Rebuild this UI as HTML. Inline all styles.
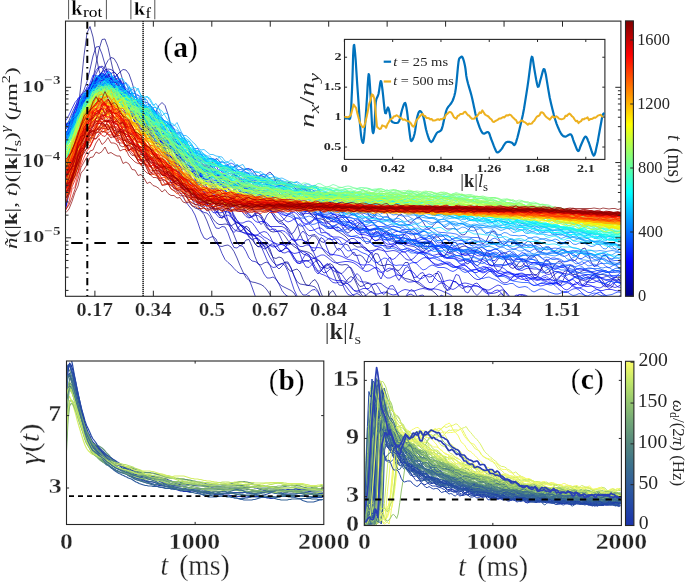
<!DOCTYPE html>
<html><head><meta charset="utf-8"><title>figure</title>
<style>html,body{margin:0;padding:0;background:#fff;} svg{display:block;} text{font-family:"Liberation Serif",serif;}</style>
</head><body><div style="will-change:transform;width:685px;height:582px"><svg width="685" height="582" viewBox="0 0 685 582"><defs><linearGradient id="gj" x1="0" y1="0" x2="0" y2="1"><stop offset="0.0000" stop-color="#800000"/><stop offset="0.0156" stop-color="#8f0000"/><stop offset="0.0312" stop-color="#9f0000"/><stop offset="0.0469" stop-color="#af0000"/><stop offset="0.0625" stop-color="#bf0000"/><stop offset="0.0781" stop-color="#cf0000"/><stop offset="0.0938" stop-color="#df0000"/><stop offset="0.1094" stop-color="#ef0000"/><stop offset="0.1250" stop-color="#ff0000"/><stop offset="0.1406" stop-color="#ff1000"/><stop offset="0.1562" stop-color="#ff2000"/><stop offset="0.1719" stop-color="#ff3000"/><stop offset="0.1875" stop-color="#ff4000"/><stop offset="0.2031" stop-color="#ff5000"/><stop offset="0.2188" stop-color="#ff6000"/><stop offset="0.2344" stop-color="#ff7000"/><stop offset="0.2500" stop-color="#ff8000"/><stop offset="0.2656" stop-color="#ff8f00"/><stop offset="0.2812" stop-color="#ff9f00"/><stop offset="0.2969" stop-color="#ffaf00"/><stop offset="0.3125" stop-color="#ffbf00"/><stop offset="0.3281" stop-color="#ffcf00"/><stop offset="0.3438" stop-color="#ffdf00"/><stop offset="0.3594" stop-color="#ffef00"/><stop offset="0.3750" stop-color="#ffff00"/><stop offset="0.3906" stop-color="#efff10"/><stop offset="0.4062" stop-color="#dfff20"/><stop offset="0.4219" stop-color="#cfff30"/><stop offset="0.4375" stop-color="#bfff40"/><stop offset="0.4531" stop-color="#afff50"/><stop offset="0.4688" stop-color="#9fff60"/><stop offset="0.4844" stop-color="#8fff70"/><stop offset="0.5000" stop-color="#80ff80"/><stop offset="0.5156" stop-color="#70ff8f"/><stop offset="0.5312" stop-color="#60ff9f"/><stop offset="0.5469" stop-color="#50ffaf"/><stop offset="0.5625" stop-color="#40ffbf"/><stop offset="0.5781" stop-color="#30ffcf"/><stop offset="0.5938" stop-color="#20ffdf"/><stop offset="0.6094" stop-color="#10ffef"/><stop offset="0.6250" stop-color="#00ffff"/><stop offset="0.6406" stop-color="#00efff"/><stop offset="0.6562" stop-color="#00dfff"/><stop offset="0.6719" stop-color="#00cfff"/><stop offset="0.6875" stop-color="#00bfff"/><stop offset="0.7031" stop-color="#00afff"/><stop offset="0.7188" stop-color="#009fff"/><stop offset="0.7344" stop-color="#008fff"/><stop offset="0.7500" stop-color="#0080ff"/><stop offset="0.7656" stop-color="#0070ff"/><stop offset="0.7812" stop-color="#0060ff"/><stop offset="0.7969" stop-color="#0050ff"/><stop offset="0.8125" stop-color="#0040ff"/><stop offset="0.8281" stop-color="#0030ff"/><stop offset="0.8438" stop-color="#0020ff"/><stop offset="0.8594" stop-color="#0010ff"/><stop offset="0.8750" stop-color="#0000ff"/><stop offset="0.8906" stop-color="#0000ef"/><stop offset="0.9062" stop-color="#0000df"/><stop offset="0.9219" stop-color="#0000cf"/><stop offset="0.9375" stop-color="#0000bf"/><stop offset="0.9531" stop-color="#0000af"/><stop offset="0.9688" stop-color="#00009f"/><stop offset="0.9844" stop-color="#00008f"/><stop offset="1.0000" stop-color="#000080"/></linearGradient><linearGradient id="gc" x1="0" y1="0" x2="0" y2="1"><stop offset="0.0000" stop-color="#f6fa68"/><stop offset="0.0156" stop-color="#f4f968"/><stop offset="0.0312" stop-color="#eef768"/><stop offset="0.0469" stop-color="#e6f468"/><stop offset="0.0625" stop-color="#dff268"/><stop offset="0.0781" stop-color="#d7ef69"/><stop offset="0.0938" stop-color="#d0ec69"/><stop offset="0.1094" stop-color="#c8ea69"/><stop offset="0.1250" stop-color="#c1e769"/><stop offset="0.1406" stop-color="#bbe36a"/><stop offset="0.1562" stop-color="#b5de6b"/><stop offset="0.1719" stop-color="#b0da6b"/><stop offset="0.1875" stop-color="#aad66c"/><stop offset="0.2031" stop-color="#a4d26c"/><stop offset="0.2188" stop-color="#9ece6d"/><stop offset="0.2344" stop-color="#98ca6e"/><stop offset="0.2500" stop-color="#93c56f"/><stop offset="0.2656" stop-color="#8fc170"/><stop offset="0.2812" stop-color="#8abd71"/><stop offset="0.2969" stop-color="#86b972"/><stop offset="0.3125" stop-color="#82b573"/><stop offset="0.3281" stop-color="#7db175"/><stop offset="0.3438" stop-color="#79ad76"/><stop offset="0.3594" stop-color="#74a977"/><stop offset="0.3750" stop-color="#70a578"/><stop offset="0.3906" stop-color="#6da179"/><stop offset="0.4062" stop-color="#699e79"/><stop offset="0.4219" stop-color="#669a7a"/><stop offset="0.4375" stop-color="#63967b"/><stop offset="0.4531" stop-color="#5f927b"/><stop offset="0.4688" stop-color="#5c8f7c"/><stop offset="0.4844" stop-color="#588b7c"/><stop offset="0.5000" stop-color="#55877d"/><stop offset="0.5156" stop-color="#52847f"/><stop offset="0.5312" stop-color="#4f8280"/><stop offset="0.5469" stop-color="#4c7f82"/><stop offset="0.5625" stop-color="#497d84"/><stop offset="0.5781" stop-color="#467a85"/><stop offset="0.5938" stop-color="#437787"/><stop offset="0.6094" stop-color="#407589"/><stop offset="0.6250" stop-color="#3e728b"/><stop offset="0.6406" stop-color="#3c708d"/><stop offset="0.6562" stop-color="#3a6d8f"/><stop offset="0.6719" stop-color="#396a91"/><stop offset="0.6875" stop-color="#376894"/><stop offset="0.7031" stop-color="#366596"/><stop offset="0.7188" stop-color="#346398"/><stop offset="0.7344" stop-color="#33609a"/><stop offset="0.7500" stop-color="#315d9c"/><stop offset="0.7656" stop-color="#2f5b9d"/><stop offset="0.7812" stop-color="#2e589e"/><stop offset="0.7969" stop-color="#2c56a0"/><stop offset="0.8125" stop-color="#2a53a1"/><stop offset="0.8281" stop-color="#2951a2"/><stop offset="0.8438" stop-color="#274ea3"/><stop offset="0.8594" stop-color="#254ca5"/><stop offset="0.8750" stop-color="#2449a6"/><stop offset="0.8906" stop-color="#2346a6"/><stop offset="0.9062" stop-color="#2143a7"/><stop offset="0.9219" stop-color="#2040a8"/><stop offset="0.9375" stop-color="#1f3da8"/><stop offset="0.9531" stop-color="#1d3aa9"/><stop offset="0.9688" stop-color="#1c37aa"/><stop offset="0.9844" stop-color="#1b36ab"/><stop offset="1.0000" stop-color="#1a34ac"/></linearGradient></defs><rect x="625.5" y="20.9" width="7.9" height="275.4" fill="url(#gj)" stroke="#262626" stroke-width="1.1"/><line x1="633.70" y1="296.00" x2="630.20" y2="296.00" stroke="#262626" stroke-width="1.0" /><line x1="633.70" y1="232.00" x2="630.20" y2="232.00" stroke="#262626" stroke-width="1.0" /><line x1="633.70" y1="168.00" x2="630.20" y2="168.00" stroke="#262626" stroke-width="1.0" /><line x1="633.70" y1="104.00" x2="630.20" y2="104.00" stroke="#262626" stroke-width="1.0" /><line x1="633.70" y1="40.00" x2="630.20" y2="40.00" stroke="#262626" stroke-width="1.0" /><rect x="625.5" y="361.3" width="8.4" height="164.2" fill="url(#gc)" stroke="#262626" stroke-width="1.1"/><line x1="634.00" y1="525.50" x2="630.50" y2="525.50" stroke="#262626" stroke-width="1.0" /><line x1="634.00" y1="484.69" x2="630.50" y2="484.69" stroke="#262626" stroke-width="1.0" /><line x1="634.00" y1="443.87" x2="630.50" y2="443.87" stroke="#262626" stroke-width="1.0" /><line x1="634.00" y1="403.06" x2="630.50" y2="403.06" stroke="#262626" stroke-width="1.0" /><line x1="634.00" y1="362.24" x2="630.50" y2="362.24" stroke="#262626" stroke-width="1.0" /><clipPath id="ca"><rect x="65.5" y="21.1" width="555.4" height="275.2"/></clipPath><clipPath id="cb"><rect x="66.5" y="361.0" width="257.3" height="163.5"/></clipPath><clipPath id="cc"><rect x="364.3" y="361.5" width="257.09999999999997" height="164.0"/></clipPath><g clip-path="url(#ca)"><line x1="65.50" y1="242.90" x2="620.90" y2="242.90" stroke="#000" stroke-width="2.0" stroke-dasharray='11.5 11.65' stroke-dashoffset='-5.7'/></g><g clip-path="url(#ca)" fill="none" stroke-width="0.7"><path d="M66 164.5l3-12.5 3-12 3-13 3-17.5 3-25 3-29 3-22.5 3-6.5 3 10.5 3 18 3 15.5 3 8.5 3 2.5 3 1.5 3 3 3 4.5 3 4.5 3 2.5 3 1 3 2 3 4.5 3 5.5 3 5 3 3 3 2 3 3.5 3 5 3 5 3 3 3 2 3 2.5 3 5.5 3 7 3 4.5 3 0.5 3-0.5 3 3.5 3 8 3 9 3 4 3-1.5 3-2.5 3 3 3 9.5 3 10 3 3.5 3-4 3-5.5 3 1 3 8.5 3 10 3 3.5 3-4.5 3-5.5 3 0.5 3 8.5 3 9.5 3 4.5 3-2 3-3.5 3 2 3 8 3 8 3 3 3-2 3-2 3 2.5 3 6.5 3 5.5 3 1 3-1.5 3 1 3 5 3 6 3 2.5 3-1.5 3-1 3 3 3 7.5 3 5.5 3 0.5 3-4 3-2 3 4.5 3 9 3 6.5 3-0.5 3-6 3-2.5 3 5 3 10 3 4.5 3 0 3-4 3-3.5 3 4.5 3 3 3 0 3 0 3 0 3 0 3 0 3 0 3 0 3 0 3 0 3 0 3 0 3 0 3 0 3 0 3 0 3 0 3 0 3 0 3 0 3 0 3 0 3 0 3 0 3 0 3 0 3 0 3 0 3 0 3 0 3 0 3 0 3 0 3 0 3 0 3 0 3 0 3 0 3 0 3 0 3 0 3 0 3 0 3 0 3 0 3 0 3 0 3 0 3 0 3 0 3 0 3 0 3 0 3 0 3 0 3 0 3 0 3 0 3 0 3 0 3 0 3 0 3 0 3 0 3 0 3 0 3 0 3 0 3 0 3 0 3 0 3 0 3 0 3 0 3 0 3 0 3 0 3 0 3 0 3 0 3 0 3 0 3 0 3 0 3 0 3 0 3 0 3 0 3 0" stroke="#000082"/><path d="M66 137l3-3.5 3-6 3-6.5 3-6.5 3-5.5 3-5 3-6 3-8 3-11.5 3-14.5 3-14.5 3-10 3-0.5 3 8.5 3 13.5 3 13.5 3 10 3 7 3 5.5 3 6 3 6.5 3 5.5 3 4 3 2 3 1.5 3 1.5 3 3.5 3 5 3 5 3 4 3 2.5 3 1 3 0 3 1.5 3 2.5 3 3.5 3 3 3 2 3 0.5 3 1 3 2 3 4 3 4 3 3.5 3 1.5 3-1 3-2.5 3-1.5 3 1 3 2.5 3 4 3 2.5 3 1 3-1 3-2.5 3-1.5 3 0.5 3 2 3 2 3 2 3 0 3 0.5 3 0.5 3 1 3 2 3 2 3 1.5 3 0 3-0.5 3 0 3 1.5 3 3 3 4 3 3 3 1 3-0.5 3-0.5 3 0 3 2.5 3 4 3 5 3 4 3 2.5 3 1 3 0 3 1 3 2 3 2.5 3 3.5 3 2.5 3 1.5 3 2 3 2 3 3 3 3.5 3 2.5 3 2 3 0 3 0 3 1 3 3 3 4.5 3 4.5 3 4 3 1.5 3 0 3-1 3 0 3 1.5 3 3.5 3 3.5 3 3.5 3 2 3 0.5 3 1 3 1 3 2 3 2 3 2 3 1 3 1 3 1.5 3 2.5 3 3 3 3.5 3 2.5 3 1 3-0.5 3-1 3 0.5 3 2.5 3 4.5 3 1 3 0 3 0 3 0 3 0 3 0 3 0 3 0 3 0 3 0 3 0 3 0 3 0 3 0 3 0 3 0 3 0 3 0 3 0 3 0 3 0 3 0 3 0 3 0 3 0 3 0 3 0 3 0 3 0 3 0 3 0 3 0 3 0 3 0 3 0 3 0 3 0 3 0 3 0 3 0 3 0 3 0 3 0 3 0 3 0 3 0 3 0 3 0 3 0 3 0 3 0 3 0 3 0" stroke="#000086"/><path d="M66 126l3-3 3-2.5 3-4 3-5.5 3-7 3-7 3-4.5 3-3.5 3-2.5 3-3.5 3-5 3-6 3-6 3-5.5 3-3 3 1 3 5 3 7.5 3 10 3 10.5 3 10.5 3 8 3 3.5 3-1 3-1.5 3 3 3 9 3 11.5 3 7 3 0.5 3-3.5 3-3 3 3 3 9 3 10.5 3 5.5 3 0 3-3 3-0.5 3 4 3 8 3 7 3 4 3 0 3-1 3 1.5 3 3.5 3 4 3 2 3 0 3-0.5 3 2 3 4 3 4 3 1.5 3-1.5 3-1.5 3 0.5 3 4 3 6 3 4 3 1 3-2 3-1.5 3 2 3 5 3 6.5 3 4.5 3 1 3-0.5 3-0.5 3 1.5 3 3.5 3 4.5 3 3.5 3 2.5 3 2 3 1.5 3 1 3 0.5 3 1 3 2 3 4.5 3 5 3 3.5 3 0.5 3-2.5 3-2 3 2 3 6 3 7 3 5 3-0.5 3-4 3-2.5 3 2 3 6.5 3 7.5 3 4 3-1 3-3 3-1 3 3 3 6 3 4.5 3 1 3-1.5 3-1 3 2.5 3 4 3 0 3 0 3 0 3 0 3 0 3 0 3 0 3 0 3 0 3 0 3 0 3 0 3 0 3 0 3 0 3 0 3 0 3 0 3 0 3 0 3 0 3 0 3 0 3 0 3 0 3 0 3 0 3 0 3 0 3 0 3 0 3 0 3 0 3 0 3 0 3 0 3 0 3 0 3 0 3 0 3 0 3 0 3 0 3 0 3 0 3 0 3 0 3 0 3 0 3 0 3 0 3 0 3 0 3 0 3 0 3 0 3 0 3 0 3 0 3 0 3 0 3 0 3 0 3 0 3 0 3 0 3 0 3 0 3 0 3 0 3 0 3 0 3 0 3 0 3 0" stroke="#00008a"/><path d="M66 124.5l3-1.5 3-2.5 3-4.5 3-5.5 3-6.5 3-6.5 3-6.5 3-5 3-3.5 3-3 3-1.5 3-1 3 0.5 3 1 3 0 3-1 3-2.5 3-3 3-2.5 3 0.5 3 4 3 8.5 3 10.5 3 11 3 9 3 6.5 3 3.5 3 4 3 4 3 5 3 6 3 7 3 7 3 5.5 3 4.5 3 4 3 4.5 3 5.5 3 7 3 7.5 3 6.5 3 4.5 3 2.5 3 1 3 2 3 3.5 3 6.5 3 8 3 8 3 6 3 3 3 0.5 3-1 3-0.5 3 2 3 4.5 3 6.5 3 7.5 3 6.5 3 5.5 3 3 3 1.5 3 0.5 3 1 3 1 3 2 3 3.5 3 4.5 3 5 3 5.5 3 5 3 0 3 0 3 0 3 0 3 0 3 0 3 0 3 0 3 0 3 0 3 0 3 0 3 0 3 0 3 0 3 0 3 0 3 0 3 0 3 0 3 0 3 0 3 0 3 0 3 0 3 0 3 0 3 0 3 0 3 0 3 0 3 0 3 0 3 0 3 0 3 0 3 0 3 0 3 0 3 0 3 0 3 0 3 0 3 0 3 0 3 0 3 0 3 0 3 0 3 0 3 0 3 0 3 0 3 0 3 0 3 0 3 0 3 0 3 0 3 0 3 0 3 0 3 0 3 0 3 0 3 0 3 0 3 0 3 0 3 0 3 0 3 0 3 0 3 0 3 0 3 0 3 0 3 0 3 0 3 0 3 0 3 0 3 0 3 0 3 0 3 0 3 0 3 0 3 0 3 0 3 0 3 0 3 0 3 0 3 0 3 0 3 0 3 0 3 0 3 0 3 0 3 0 3 0 3 0 3 0 3 0 3 0 3 0 3 0 3 0 3 0 3 0 3 0 3 0" stroke="#00008e"/><path d="M66 189l3-15 3-12.5 3-11 3-10.5 3-9.5 3-9 3-7.5 3-5.5 3-5 3-5.5 3-5 3-4 3-1.5 3 2.5 3 4.5 3 4.5 3 2.5 3 0 3-1 3-0.5 3 0 3 0.5 3-0.5 3-1 3 1.5 3 5.5 3 9 3 9.5 3 6.5 3 3.5 3 3.5 3 6 3 8.5 3 8.5 3 4.5 3-1 3-5 3-3 3 1.5 3 7 3 9.5 3 7.5 3 3.5 3 0 3-2 3-1 3-0.5 3 0 3 1 3 3 3 5.5 3 6 3 4 3-1 3-5 3-6.5 3-2 3 3.5 3 8.5 3 8 3 3.5 3-1 3-4 3-3.5 3-0.5 3 1.5 3 3 3 3 3 3.5 3 4 3 3 3 1.5 3-2.5 3-4.5 3-1.5 3 3 3 8 3 10 3 7 3 1.5 3-2.5 3-3.5 3 0 3 4 3 6 3 5 3 3.5 3 2 3 3 3 3 3 2 3 0.5 3-0.5 3 0.5 3 4 3 7 3 6.5 3 4 3-0.5 3-2.5 3 0 3 3 3 6.5 3 5.5 3 2.5 3 0 3-0.5 3 2 3 4.5 3 3 3 0 3 0 3 0 3 0 3 0 3 0 3 0 3 0 3 0 3 0 3 0 3 0 3 0 3 0 3 0 3 0 3 0 3 0 3 0 3 0 3 0 3 0 3 0 3 0 3 0 3 0 3 0 3 0 3 0 3 0 3 0 3 0 3 0 3 0 3 0 3 0 3 0 3 0 3 0 3 0 3 0 3 0 3 0 3 0 3 0 3 0 3 0 3 0 3 0 3 0 3 0 3 0 3 0 3 0 3 0 3 0 3 0 3 0 3 0 3 0 3 0 3 0 3 0 3 0 3 0 3 0 3 0 3 0 3 0 3 0 3 0 3 0 3 0 3 0 3 0" stroke="#000092"/><path d="M66 126.5l3-4 3-4 3-3.5 3-4 3-4.5 3-5.5 3-6 3-5.5 3-5 3-3.5 3-2 3-0.5 3 1 3 2 3 2 3 2.5 3 2 3 3 3 3 3 4 3 3.5 3 3.5 3 3 3 4 3 3.5 3 4 3 2.5 3 0.5 3-4.5 3-6.5 3-6 3-3 3 3 3 9 3 13 3 13 3 10 3 5.5 3 1 3-1 3-0.5 3 2 3 5 3 6.5 3 6 3 4 3 0.5 3-2 3-2.5 3-2 3 0 3 2 3 3 3 3.5 3 2 3 1.5 3 0.5 3 0 3 0.5 3 0.5 3 0 3 0.5 3 0 3 1 3 1.5 3 3 3 4 3 3.5 3 2 3 0 3-2.5 3-3 3-1.5 3 1 3 4.5 3 6 3 5.5 3 3 3 0 3-3.5 3-4 3-3 3 0 3 3 3 5.5 3 5 3 3.5 3 0.5 3-1.5 3-3 3-2 3 0 3 1.5 3 3 3 3 3 2 3 1.5 3 1 3 1 3 1 3 0.5 3 0 3-0.5 3-1 3 0 3 1 3 3 3 4 3 4 3 1.5 3-1 3-3.5 3-4 3-2.5 3 0.5 3 3.5 3 6 3 5 3 3 3-0.5 3-3.5 3-5 3-3 3 0 3 3 3 4.5 3 4.5 3 3 3 0 3-1.5 3-2.5 3-1.5 3-0.5 3 1.5 3 1.5 3 2 3 1 3 1 3 1 3 1 3 1.5 3 0.5 3 0 3-1.5 3-2 3-1 3 1 3 3 3 4.5 3 4 3 2 3-1 3-3.5 3-4.5 3-2.5 3 0.5 3 3.5 3 5.5 3 5.5 3 2.5 3-1 3-3.5 3-4 3-3 3 0.5 3 2.5 3 4.5 3 3.5 3 2 3 0 3-1.5 3-2 3-1 3 0.5 3 1.5 3 1.5 3 0.5 3 0.5 3 0 3 1 3 1.5 3 2 3 1 3 0 3-1.5" stroke="#000096"/><path d="M66 126l3-5.5 3-7.5 3-6.5 3-5.5 3-5 3-6 3-8.5 3-12 3-13.5 3-9 3-0.5 3 7.5 3 10.5 3 9.5 3 5 3 0.5 3-1 3 1.5 3 6 3 8 3 6.5 3 3 3 1.5 3 2.5 3 5.5 3 7.5 3 9 3 8 3 5 3 3.5 3 0.5 3 0.5 3 3 3 7.5 3 10.5 3 8 3 2 3-3 3-1.5 3 5 3 10.5 3 10.5 3 5 3-0.5 3-2 3 0.5 3 5 3 6 3 5.5 3 3.5 3 2 3 0 3-0.5 3 0.5 3 3.5 3 7 3 7.5 3 3.5 3-2 3-4 3-0.5 3 7 3 10 3 7.5 3 1 3-2 3-1 3 3.5 3 7 3 6.5 3 4.5 3 2.5 3 1.5 3 1.5 3 1.5 3 2.5 3 5 3 7 3 5 3 0 3 0 3-0.5 3 0.5 3 0 3 0 3 0 3 0 3 0 3 0 3 0 3 0 3 0 3 0 3 0 3 0 3 0 3 0 3 0 3 0 3 0 3 0 3 0 3 0 3 0 3 0 3 0 3 0 3 0 3 0 3 0 3 0 3 0 3 0 3 0 3 0 3 0 3 0 3 0 3 0 3 0 3 0 3 0 3 0 3 0 3 0 3 0 3 0 3 0 3 0 3 0 3 0 3 0 3 0 3 0 3 0 3 0 3 0 3 0 3 0 3 0 3 0 3 0 3 0 3 0 3 0 3 0 3 0 3 0 3 0 3 0 3 0 3 0 3 0 3 0 3 0 3 0 3 0 3 0 3 0 3 0 3 0 3 0 3 0 3 0 3 0 3 0 3 0 3 0 3 0 3 0 3 0 3 0 3 0 3 0 3 0 3 0 3 0 3 0 3 0 3 0 3 0 3 0 3 0 3 0 3 0" stroke="#00009a"/><path d="M66 188l3-18.5 3-15 3-11 3-9.5 3-10 3-11 3-11 3-10.5 3-9 3-8.5 3-6 3-2 3 2.5 3 5 3 5.5 3 3 3 1.5 3 2.5 3 4.5 3 6.5 3 5.5 3 3 3 1 3 2 3 4 3 5.5 3 5 3 4 3 4 3 5.5 3 6 3 4 3 1.5 3 0.5 3 3.5 3 7 3 8 3 5.5 3 1.5 3 1.5 3 3 3 5 3 5 3 3 3 2.5 3 4.5 3 5.5 3 3.5 3 0.5 3-2.5 3-0.5 3 4.5 3 8 3 6.5 3 2 3-2 3-1.5 3 1.5 3 4 3 4.5 3 3.5 3 3.5 3 4 3 3 3 0.5 3-2 3-0.5 3 4.5 3 9 3 8 3 3 3-3 3-4 3 0 3 6 3 8 3 5.5 3 2.5 3 0.5 3 0.5 3 0.5 3 0.5 3 1 3 4 3 7 3 7 3 2.5 3-3 3-4.5 3-0.5 3 6 3 4.5 3 0 3 0 3 0 3 0 3 0 3 0 3 0 3 0 3 0 3 0 3 0 3 0 3 0 3 0 3 0 3 0 3 0 3 0 3 0 3 0 3 0 3 0 3 0 3 0 3 0 3 0 3 0 3 0 3 0 3 0 3 0 3 0 3 0 3 0 3 0 3 0 3 0 3 0 3 0 3 0 3 0 3 0 3 0 3 0 3 0 3 0 3 0 3 0 3 0 3 0 3 0 3 0 3 0 3 0 3 0 3 0 3 0 3 0 3 0 3 0 3 0 3 0 3 0 3 0 3 0 3 0 3 0 3 0 3 0 3 0 3 0 3 0 3 0 3 0 3 0 3 0 3 0 3 0 3 0 3 0 3 0 3 0 3 0 3 0 3 0 3 0 3 0 3 0 3 0 3 0 3 0 3 0 3 0" stroke="#00009e"/><path d="M66 171l3-14.5 3-13 3-11 3-9 3-8 3-8 3-8.5 3-8 3-6.5 3-5.5 3-4 3-3 3-2 3-1 3 0.5 3 2 3 3.5 3 5.5 3 7 3 8 3 6.5 3 3.5 3 1 3 0 3 0.5 3 3.5 3 6 3 7 3 5 3 3 3 1 3 0.5 3 1.5 3 3.5 3 3.5 3 3.5 3 2.5 3 1 3 1 3 2.5 3 4 3 5.5 3 5 3 2.5 3 0 3-2 3-2 3 0 3 3 3 4.5 3 4 3 3 3 0 3-1.5 3-1.5 3-1 3 0.5 3 2.5 3 2.5 3 3 3 1.5 3 2 3 1.5 3 1 3 0.5 3 0.5 3-0.5 3 0.5 3 1.5 3 3 3 3.5 3 3.5 3 2 3 0.5 3-0.5 3-1 3-0.5 3 1.5 3 2.5 3 3 3 2.5 3 1.5 3 0.5 3 0.5 3 0.5 3 1 3 0.5 3 0.5 3-0.5 3 0.5 3 1.5 3 3.5 3 4 3 3 3 1 3-1.5 3-3 3-3 3 0.5 3 3.5 3 5.5 3 5.5 3 3 3-1 3-3.5 3-3.5 3-1.5 3 2 3 4 3 4 3 2 3-0.5 3-2 3-1.5 3 1 3 2.5 3 3 3 1 3-1 3-3 3-2 3 1 3 4 3 6 3 4.5 3 0 3-4 3-6 3-4 3 0 3 5.5 3 8 3 6.5 3 1.5 3-3.5 3-6.5 3-5 3-0.5 3 4 3 6.5 3 5.5 3 1.5 3-3 3-4 3-2.5 3 1.5 3 4.5 3 4.5 3 1.5 3-2 3-4 3-3.5 3 1 3 5.5 3 7 3 5 3 0 3-5.5 3-7.5 3-5 3 1.5 3 7 3 9.5 3 6.5 3 0.5 3-6 3-7.5 3-5.5 3 0.5 3 5.5 3 8 3 5.5 3 0.5 3-4 3-5 3-2.5 3 1.5 3 5 3 5 3 1.5 3-2.5 3-5 3-2.5 3 1 3 5.5" stroke="#0000a2"/><path d="M66 198l3-18.5 3-15 3-13.5 3-13.5 3-15 3-14.5 3-13 3-9 3-5.5 3-2.5 3-1.5 3-1 3 0.5 3 3.5 3 5 3 5 3 3 3 0.5 3 0 3 2 3 4.5 3 6 3 5.5 3 3 3 2.5 3 4 3 4.5 3 4.5 3 1 3-1 3 0 3 3.5 3 6 3 6 3 2 3-1.5 3-2 3 1 3 4.5 3 6 3 3 3-0.5 3-1.5 3 1 3 4.5 3 5.5 3 2 3-2.5 3-5 3-3 3 2 3 5.5 3 5 3 1.5 3-2.5 3-3.5 3-1 3 1.5 3 2 3 0.5 3-0.5 3 0.5 3 3.5 3 4.5 3 2 3-1.5 3-4 3-2 3 3 3 6.5 3 5.5 3 1.5 3-2.5 3-3.5 3 0.5 3 3.5 3 5 3 2 3-2 3-2.5 3 0 3 4 3 5.5 3 3 3-2 3-4.5 3-2 3 1.5 3 5 3 4 3 1.5 3-1 3-1 3 1 3 2 3 0.5 3-1.5 3-1.5 3 1 3 5 3 6 3 2.5 3-2.5 3-5.5 3-3.5 3 1.5 3 6 3 6 3 1.5 3-3 3-3.5 3-0.5 3 3.5 3 3.5 3 1 3-2.5 3-2.5 3 0 3 4.5 3 5 3 2 3-2 3-3.5 3-2 3 2 3 3.5 3 2 3 0 3-0.5 3 0.5 3 3.5 3 2.5 3-0.5 3-4 3-4 3 0.5 3 5.5 3 7.5 3 4 3-2.5 3-6 3-4.5 3 1 3 5.5 3 5 3 2 3-2.5 3-2.5 3 0.5 3 3.5 3 2.5 3 0 3-2.5 3-2.5 3 1.5 3 4 3 4.5 3 1.5 3-2.5 3-2.5 3-0.5 3 2.5 3 2.5 3 0.5 3-2 3-1.5 3 2.5 3 5 3 4.5 3-1 3-5 3-6 3-1 3 5.5 3 8 3 5 3-1.5 3-5 3-4.5 3 0 3 4 3 4 3 1 3-1.5 3-1" stroke="#0000a6"/><path d="M66 125l3-3.5 3-2.5 3-4 3-7 3-9 3-7 3-3.5 3-2 3-2.5 3-3.5 3-3 3-0.5 3 0 3-1 3-2.5 3-1.5 3 3 3 7 3 7.5 3 5.5 3 3.5 3 4.5 3 5.5 3 3 3 0 3 0 3 5 3 9 3 8 3 3 3-0.5 3 1.5 3 4.5 3 5 3 2 3 0 3 3 3 7.5 3 7 3 2 3-1.5 3 1 3 6 3 8 3 4 3-1 3-1 3 2 3 3.5 3 1 3-2 3 0.5 3 5.5 3 9 3 4.5 3-2 3-4.5 3-1 3 3 3 2.5 3 0.5 3 0.5 3 5.5 3 8 3 4 3-3 3-6.5 3-3 3 2.5 3 5 3 2 3 0.5 3 3 3 5.5 3 4 3-2.5 3-5.5 3-3 3 3.5 3 6 3 3 3-1 3-0.5 3 3 3 4 3 1 3-3 3-1.5 3 3.5 3 6.5 3 2.5 3-3 3-3.5 3 1 3 5.5 3 4.5 3 0.5 3-0.5 3 2 3 4.5 3 1 3-4 3-5 3 0.5 3 7 3 8 3 2.5 3-1.5 3-1.5 3 1.5 3 0.5 3-3.5 3-4.5 3 0 3 7.5 3 9 3 3.5 3-3 3-4 3 0 3 1.5 3-0.5 3-3 3 0 3 6 3 7.5 3 3.5 3-3.5 3-5.5 3 0 3 4 3 3 3-1 3-2 3 2 3 5 3 3 3-3 3-3.5 3 0.5 3 6.5 3 5.5 3-0.5 3-5 3-2.5 3 2.5 3 3.5 3 0.5 3-1.5 3 2 3 6.5 3 3 3 0 3-5 3-6 3 1 3 5.5 3 3.5 3 1 3 0 3 0 3 0 3 0 3 0 3-4.5 3 0.5 3 4 3 0 3 0 3 0 3 0 3 0 3 0 3 0 3 0 3 0 3 0 3 0 3 0 3 0 3 0 3 0 3 0 3 0 3 0" stroke="#0000aa"/><path d="M66 134l3-5.5 3-6.5 3-6 3-5 3-4 3-4 3-4 3-2.5 3-2 3-1.5 3-2.5 3-3.5 3-3 3-1 3 2 3 4.5 3 4 3 3 3 1.5 3 1.5 3 3.5 3 4 3 6 3 5 3 5.5 3 6.5 3 8.5 3 7.5 3 4 3 1 3 0.5 3 4 3 8.5 3 10 3 8 3 4.5 3 2.5 3 3.5 3 4.5 3 5 3 4 3 3.5 3 5.5 3 8 3 9 3 6 3 1.5 3-2 3-1 3 2.5 3 7 3 7.5 3 6 3 3 3 2.5 3 3.5 3 3 3 2 3 0 3 1 3 4.5 3 8 3 8.5 3 5.5 3 0 3-3 3-1 3 2.5 3 5.5 3 5 3 0 3 0 3 0 3 0 3 0 3 0 3 0 3 0 3 0 3 0 3 0 3 0 3 0 3 0 3 0 3 0 3 0 3 0 3 0 3 0 3 0 3 0 3 0 3 0 3 0 3 0 3 0 3 0 3 0 3 0 3 0 3 0 3 0 3 0 3 0 3 0 3 0 3 0 3 0 3 0 3 0 3 0 3 0 3 0 3 0 3 0 3 0 3 0 3 0 3 0 3 0 3 0 3 0 3 0 3 0 3 0 3 0 3 0 3 0 3 0 3 0 3 0 3 0 3 0 3 0 3 0 3 0 3 0 3 0 3 0 3 0 3 0 3 0 3 0 3 0 3 0 3 0 3 0 3 0 3 0 3 0 3 0 3 0 3 0 3 0 3 0 3 0 3 0 3 0 3 0 3 0 3 0 3 0 3 0 3 0 3 0 3 0 3 0 3 0 3 0 3 0 3 0 3 0 3 0 3 0 3 0 3 0 3 0 3 0 3 0 3 0 3 0 3 0 3 0 3 0" stroke="#0000ae"/><path d="M66 128l3-3.5 3-7 3-8 3-6.5 3-4 3-2.5 3-3 3-4 3-5.5 3-5 3-3.5 3-1 3 1 3 2.5 3 3.5 3 4.5 3 5 3 6 3 5.5 3 5 3 4 3 4 3 5.5 3 5.5 3 3 3 0.5 3-1.5 3-1 3 0.5 3 3.5 3 4 3 2.5 3 0.5 3 1 3 4 3 6.5 3 5 3 1.5 3-2 3-2.5 3 1.5 3 7.5 3 9.5 3 6.5 3 0 3-4.5 3-4.5 3 0 3 5 3 6.5 3 4 3 0 3-2 3-1 3 2 3 3.5 3 2 3-0.5 3-1.5 3 0.5 3 3 3 5.5 3 3.5 3 0.5 3-2 3-2.5 3 0.5 3 3 3 4 3 3 3 1.5 3 1 3 1.5 3 1 3 0 3-1.5 3-1 3 2 3 5 3 6 3 3 3-1.5 3-4.5 3-4 3 1 3 5.5 3 6 3 2.5 3-1.5 3-2.5 3-1 3 3 3 4.5 3 2 3-2 3-3.5 3-0.5 3 4 3 7.5 3 5 3-0.5 3-5.5 3-5.5 3-1 3 5 3 7 3 5 3 0 3-3.5 3-3.5 3-0.5 3 1.5 3 2.5 3 1 3 0.5 3 0.5 3 2 3 2.5 3 0.5 3-2 3-2.5 3-1 3 2 3 3.5 3 3.5 3 0.5 3-1 3-1 3 0.5 3 1.5 3 0 3-1 3-1.5 3 0.5 3 4.5 3 5.5 3 2.5 3-2.5 3-6 3-5 3 0.5 3 6.5 3 8 3 4 3-2.5 3-6 3-4 3 1 3 4.5 3 4.5 3 1 3-2.5 3-2 3 1 3 4.5 3 3.5 3 0 3-4 3-4.5 3-0.5 3 4 3 6.5 3 4.5 3-1 3-4 3-4 3-1 3 2 3 3 3 2.5 3 1 3 1 3 1 3 0.5 3-1.5 3-2.5 3-2 3 1 3 4.5 3 5 3 2.5 3-1.5 3-4.5 3-3 3 1" stroke="#0000b2"/><path d="M66 208l3-15 3-14 3-14.5 3-14.5 3-12.5 3-9.5 3-6.5 3-6 3-7 3-5.5 3-2.5 3 0.5 3 2 3 1 3-1 3-0.5 3 1.5 3 4 3 3.5 3 1.5 3 1 3 3 3 4 3 4.5 3 3 3 1.5 3 3 3 5 3 5.5 3 3.5 3 2 3 1.5 3 3.5 3 4.5 3 3.5 3 4 3 5.5 3 7.5 3 7 3 3.5 3 1 3 1.5 3 5.5 3 7.5 3 5.5 3 2 3 0.5 3 3.5 3 6 3 5.5 3 0.5 3-2 3 0.5 3 6 3 8.5 3 6 3 0.5 3-2.5 3 1 3 5 3 6.5 3 3 3 0.5 3 1.5 3 4.5 3 6.5 3 4 3 0 3-1 3 2 3 5 3 6.5 3 4 3 2 3 1.5 3 3 3 2.5 3 1.5 3 2 3 3 3 0 3 0 3 0 3 0 3 0 3 0 3 0 3 0 3 0 3 0 3 0 3 0 3 0 3 0 3 0 3 0 3 0 3 0 3 0 3 0 3 0 3 0 3 0 3 0 3 0 3 0 3 0 3 0 3 0 3 0 3 0 3 0 3 0 3 0 3 0 3 0 3 0 3 0 3 0 3 0 3 0 3 0 3 0 3 0 3 0 3 0 3 0 3 0 3 0 3 0 3 0 3 0 3 0 3 0 3 0 3 0 3 0 3 0 3 0 3 0 3 0 3 0 3 0 3 0 3 0 3 0 3 0 3 0 3 0 3 0 3 0 3 0 3 0 3 0 3 0 3 0 3 0 3 0 3 0 3 0 3 0 3 0 3 0 3 0 3 0 3 0 3 0 3 0 3 0 3 0 3 0 3 0 3 0 3 0 3 0 3 0 3 0 3 0 3 0 3 0 3 0 3 0 3 0 3 0 3 0" stroke="#0000b6"/><path d="M66 166.5l3-12 3-11 3-10 3-9 3-8.5 3-9 3-8 3-8 3-6 3-4.5 3-2.5 3-0.5 3 1 3 1.5 3 1.5 3 0.5 3 0.5 3 1.5 3 2.5 3 4.5 3 5 3 4.5 3 3 3 0.5 3-1 3-1 3 0.5 3 2.5 3 4 3 5.5 3 6 3 5.5 3 6 3 6 3 6.5 3 6.5 3 4.5 3 2 3 0 3-1.5 3 0.5 3 4 3 6.5 3 9 3 9 3 6.5 3 3 3 0 3-1.5 3-0.5 3 1.5 3 4 3 6.5 3 6.5 3 5.5 3 4 3 2 3 1.5 3 2 3 2 3 3 3 2.5 3 2.5 3 2.5 3 3 3 4.5 3 5.5 3 6 3 4.5 3 3 3 0 3-1.5 3-1 3 1 3 4.5 3 7.5 3 8.5 3 7 3 4 3 0 3-2.5 3-2.5 3-0.5 3 3 3 6 3 6.5 3 5 3 0 3 0 3 0 3 0 3 0 3 0 3 0 3 0 3 0 3 0 3 0 3 0 3 0 3 0 3 0 3 0 3 0 3 0 3 0 3 0 3 0 3 0 3 0 3 0 3 0 3 0 3 0 3 0 3 0 3 0 3 0 3 0 3 0 3 0 3 0 3 0 3 0 3 0 3 0 3 0 3 0 3 0 3 0 3 0 3 0 3 0 3 0 3 0 3 0 3 0 3 0 3 0 3 0 3 0 3 0 3 0 3 0 3 0 3 0 3 0 3 0 3 0 3 0 3 0 3 0 3 0 3 0 3 0 3 0 3 0 3 0 3 0 3 0 3 0 3 0 3 0 3 0 3 0 3 0 3 0 3 0 3 0 3 0 3 0 3 0 3 0 3 0 3 0 3 0 3 0 3 0 3 0 3 0 3 0 3 0 3 0 3 0 3 0" stroke="#0000ba"/><path d="M66 127l3-2 3-4 3-5.5 3-7 3-6 3-4.5 3-3 3-3.5 3-4.5 3-4.5 3-3 3-1 3 0.5 3 0.5 3 0 3-0.5 3 1 3 3 3 4.5 3 3.5 3 2 3 2 3 5 3 7.5 3 8.5 3 7 3 4 3 2 3 2.5 3 4 3 3.5 3 1 3 0 3 0.5 3 4.5 3 6.5 3 6 3 2 3-0.5 3 0.5 3 3.5 3 6.5 3 5 3 0.5 3-2.5 3-2.5 3 2 3 7 3 7 3 4 3 0.5 3-0.5 3 1 3 2.5 3 2.5 3 0.5 3 0.5 3 3.5 3 6.5 3 7 3 3.5 3-1 3-3.5 3-0.5 3 4 3 7 3 5 3 1.5 3-1 3 0.5 3 4.5 3 6.5 3 4 3 0.5 3-1 3 0 3 3 3 4 3 3 3 1 3 1.5 3 4 3 6 3 4.5 3 0 3-4 3-3.5 3 1.5 3 7 3 8 3 5 3 0.5 3-2 3 0 3 3 3 4 3 1.5 3 0 3 0 3 3.5 3 5.5 3 4.5 3 1.5 3-1 3-0.5 3 3.5 3 1 3 0 3 0 3 0 3 0 3 0 3 0 3 0 3 0 3 0 3 0 3 0 3 0 3 0 3 0 3 0 3 0 3 0 3 0 3 0 3 0 3 0 3 0 3 0 3 0 3 0 3 0 3 0 3 0 3 0 3 0 3 0 3 0 3 0 3 0 3 0 3 0 3 0 3 0 3 0 3 0 3 0 3 0 3 0 3 0 3 0 3 0 3 0 3 0 3 0 3 0 3 0 3 0 3 0 3 0 3 0 3 0 3 0 3 0 3 0 3 0 3 0 3 0 3 0 3 0 3 0 3 0 3 0 3 0 3 0 3 0 3 0 3 0 3 0 3 0 3 0 3 0 3 0 3 0" stroke="#0000be"/><path d="M66 136.5l3-5 3-5 3-4.5 3-5 3-7 3-6.5 3-6 3-4.5 3-5 3-6 3-6 3-3 3 1.5 3 4 3 5 3 3.5 3 4.5 3 5 3 5 3 4 3 2.5 3 3.5 3 6 3 6 3 3.5 3 0.5 3-0.5 3 3 3 6.5 3 6.5 3 5 3 4 3 4 3 5 3 3.5 3 2.5 3 1.5 3 3.5 3 5 3 4 3 2.5 3 3 3 6 3 8 3 6 3 0.5 3-2.5 3-1 3 2.5 3 5 3 3.5 3 1.5 3 1.5 3 3.5 3 4.5 3 4 3 1.5 3 0.5 3 1 3 1.5 3 0.5 3 0 3 1.5 3 4.5 3 6 3 2.5 3-1 3-3 3 0 3 3 3 3 3-0.5 3-2 3 0 3 3.5 3 5.5 3 3.5 3 0.5 3-1 3 0 3 0 3-1.5 3-1 3 1.5 3 3.5 3 4 3 1.5 3-1 3-0.5 3 2.5 3 3.5 3 0.5 3-3 3-3.5 3 0.5 3 5.5 3 5.5 3 3 3 0.5 3 0 3 1 3 1.5 3-0.5 3-1 3 0.5 3 2.5 3 2 3 1 3 0 3 2.5 3 4.5 3 3 3-1.5 3-4.5 3-3.5 3 1.5 3 5 3 4 3 0.5 3-1 3 1.5 3 3 3 2.5 3-0.5 3-2 3-1 3 0.5 3 1 3 0.5 3 1.5 3 3.5 3 0 3 0 3 0 3 0 3 0 3 0 3 0 3 0 3 0 3 0 3 0 3 0 3 0 3 0 3 0 3 0 3 0 3 0 3 0 3 0 3 0 3 0 3 0 3 0 3 0 3 0 3 0 3 0 3 0 3 0 3 0 3 0 3 0 3 0 3 0 3 0 3 0 3 0 3 0 3 0 3 0 3 0 3 0 3 0 3 0 3 0 3 0 3 0 3 0 3 0 3 0 3 0 3 0 3 0" stroke="#0000c2"/><path d="M66 128.5l3-3.5 3-5.5 3-6.5 3-6.5 3-5.5 3-5 3-4 3-4 3-3.5 3-3.5 3-3 3-1 3 0.5 3 2 3 2 3 2 3 1.5 3 1.5 3 3 3 5 3 6 3 6.5 3 5 3 2.5 3 1 3 0 3 1 3 2.5 3 4 3 4 3 2 3-0.5 3-2.5 3-2 3 1 3 4 3 7.5 3 8 3 7 3 5 3 3.5 3 3.5 3 4 3 5 3 5 3 2.5 3 0 3-2 3-2.5 3 0 3 3 3 5.5 3 6 3 4 3 0 3-3 3-4 3-2.5 3 1.5 3 5 3 6 3 5 3 1.5 3-1 3-1 3 0 3 3 3 5 3 6 3 4.5 3 3 3 1 3 1 3 3 3 5 3 6 3 5 3 2.5 3 0 3-1.5 3 0 3 3.5 3 7 3 8 3 6.5 3 3 3-1 3-3 3-1.5 3 2 3 5.5 3 8 3 7 3 4.5 3 1 3-1 3-1 3 1.5 3 4 3 5.5 3 5 3 0.5 3 0 3 0 3 0 3 0 3 0 3 0 3 0 3 0 3 0 3 0 3 0 3 0 3 0 3 0 3 0 3 0 3 0 3 0 3 0 3 0 3 0 3 0 3 0 3 0 3 0 3 0 3 0 3 0 3 0 3 0 3 0 3 0 3 0 3 0 3 0 3 0 3 0 3 0 3 0 3 0 3 0 3 0 3 0 3 0 3 0 3 0 3 0 3 0 3 0 3 0 3 0 3 0 3 0 3 0 3 0 3 0 3 0 3 0 3 0 3 0 3 0 3 0 3 0 3 0 3 0 3 0 3 0 3 0 3 0 3 0 3 0 3 0 3 0 3 0 3 0 3 0 3 0 3 0 3 0 3 0 3 0 3 0 3 0" stroke="#0000c6"/><path d="M66 128.5l3-1.5 3-3 3-4.5 3-6 3-6.5 3-6 3-5.5 3-4.5 3-4.5 3-3.5 3-2.5 3-0.5 3 2 3 3.5 3 4.5 3 3 3 1.5 3-0.5 3-0.5 3 1.5 3 4 3 6.5 3 8.5 3 7 3 5 3 1.5 3 0 3 0 3 1 3 3.5 3 5 3 5.5 3 5.5 3 5.5 3 4.5 3 5 3 3.5 3 2.5 3 0.5 3-0.5 3 0.5 3 2 3 6 3 8 3 8.5 3 6 3 2 3-2 3-4 3-3.5 3-0.5 3 3.5 3 6 3 7 3 6.5 3 5 3 2.5 3 2 3 1.5 3 2.5 3 2.5 3 2.5 3 3 3 4 3 5.5 3 7 3 7 3 5 3 2.5 3-0.5 3-2.5 3-1 3 2 3 6 3 9 3 9 3 6.5 3 3 3-0.5 3-2 3-1 3 2 3 4 3 5 3 3.5 3 0 3 0 3 0 3 0 3 0 3 0 3 0 3 0 3 0 3 0 3 0 3 0 3 0 3 0 3 0 3 0 3 0 3 0 3 0 3 0 3 0 3 0 3 0 3 0 3 0 3 0 3 0 3 0 3 0 3 0 3 0 3 0 3 0 3 0 3 0 3 0 3 0 3 0 3 0 3 0 3 0 3 0 3 0 3 0 3 0 3 0 3 0 3 0 3 0 3 0 3 0 3 0 3 0 3 0 3 0 3 0 3 0 3 0 3 0 3 0 3 0 3 0 3 0 3 0 3 0 3 0 3 0 3 0 3 0 3 0 3 0 3 0 3 0 3 0 3 0 3 0 3 0 3 0 3 0 3 0 3 0 3 0 3 0 3 0 3 0 3 0 3 0 3 0 3 0 3 0 3 0 3 0 3 0 3 0 3 0 3 0 3 0 3 0 3 0 3 0" stroke="#0000ca"/><path d="M66 169l3-9.5 3-13 3-13 3-9.5 3-6 3-6.5 3-8.5 3-10 3-7 3-3.5 3-0.5 3 0 3-1 3 1 3 4 3 7.5 3 5.5 3 0.5 3-3 3 0 3 7 3 11.5 3 8.5 3 0 3-4.5 3-1 3 7 3 11 3 7.5 3 0 3-2 3 1.5 3 6.5 3 6.5 3 1.5 3-0.5 3 2.5 3 7.5 3 8.5 3 3 3-3 3-3.5 3 3.5 3 10 3 9.5 3 3 3-4.5 3-5.5 3 0.5 3 6 3 7 3 4 3-0.5 3-1.5 3-0.5 3 1 3 2.5 3 3 3 3.5 3 3.5 3 1.5 3-1 3-1.5 3 0 3 2.5 3 4 3 3 3 1.5 3 0 3 0 3 0 3 0 3 1.5 3 4 3 5.5 3 4 3-1.5 3-5.5 3-3.5 3 3.5 3 9 3 7.5 3-0.5 3-7 3-6 3 2 3 8.5 3 7 3 0 3-4.5 3-2.5 3 3 3 5.5 3 1 3-3 3-2.5 3 4.5 3 8 3 4.5 3-5 3-9 3-2.5 3 8.5 3 13 3 5 3-7 3-11.5 3-3.5 3 7.5 3 11.5 3 4.5 3-5 3-7.5 3-1.5 3 5.5 3 5.5 3-0.5 3-3.5 3-1 3 4.5 3 5.5 3 0 3-6 3-5.5 3 2.5 3 9.5 3 7.5 3-1 3-8 3-7 3 1 3 8.5 3 7.5 3 1.5 3-4.5 3-4.5 3-1 3 3 3 3 3 2.5 3 1 3 1 3-0.5 3-1 3-2 3 0 3 3 3 4 3 2.5 3-0.5 3-2 3-2 3 0 3 1.5 3 2.5 3 3.5 3 2.5 3 0.5 3-3 3-5 3-1.5 3 5 3 8 3 1 3 0 3-7.5 3-5 3 3 3 9.5 3 0 3 0 3-1.5 3-4 3 3 3 2.5 3 0 3 0 3-0.5 3 0.5 3 0 3 0 3 0 3-2 3-1 3 3" stroke="#0000ce"/><path d="M66 205.5l3-19 3-17.5 3-14.5 3-11.5 3-11 3-11 3-10 3-7.5 3-4 3-3 3-3.5 3-5 3-4 3-1.5 3 3 3 4.5 3 4.5 3 2 3 1.5 3 2.5 3 2.5 3 1 3-0.5 3 0.5 3 4.5 3 9 3 9.5 3 5 3 1 3 0.5 3 5 3 8.5 3 7.5 3 2.5 3-0.5 3 2.5 3 7 3 9 3 6 3 0.5 3-1 3 1.5 3 6 3 6.5 3 4.5 3 2 3 2.5 3 4.5 3 4.5 3 0.5 3-3.5 3-2 3 3.5 3 9.5 3 9 3 3 3-3 3-4 3 0.5 3 6 3 5.5 3 2 3-1 3 0 3 3.5 3 4.5 3 1 3-2 3-3 3 1.5 3 4.5 3 4 3 0.5 3-1.5 3 1 3 4.5 3 5.5 3 1 3-5 3-5 3 1 3 7.5 3 8.5 3 3.5 3-3 3-5 3-1.5 3 2.5 3 3.5 3 1.5 3 0 3 2.5 3 4.5 3 3.5 3-1 3-4.5 3-3.5 3 3 3 6.5 3 5.5 3 0 3-3.5 3-1.5 3 3.5 3 5.5 3 2 3-3.5 3-5 3-0.5 3 5 3 7 3 2.5 3-2 3-3 3-1 3 2 3 1 3-1.5 3-0.5 3 3.5 3 6.5 3 4.5 3-2 3-7 3-5.5 3 1.5 3 7.5 3 6 3 0 3-2 3-3 3 1.5 3 3.5 3 0 3 0 3-3 3 1 3 2 3 0 3 0 3 0 3 0 3 0 3 0 3 0 3 0 3 0 3 0 3 0 3 0 3 0 3 0 3 0 3 0 3 0 3 0 3 0 3 0 3 0 3 0 3 0 3 0 3 0 3 0 3 0 3 0 3 0 3 0 3 0 3 0 3 0 3 0 3 0 3 0 3 0 3 0 3 0 3 0 3 0 3 0 3 0 3 0 3 0 3 0 3 0" stroke="#0000d2"/><path d="M66 206.5l3-19 3-17.5 3-15 3-13.5 3-10.5 3-9 3-7.5 3-6.5 3-7.5 3-7.5 3-7.5 3-6 3-3 3 1.5 3 5 3 6 3 6 3 3.5 3 1.5 3 0 3 0.5 3 2.5 3 5 3 7.5 3 7 3 5.5 3 3 3 0.5 3 1 3 2.5 3 4.5 3 6 3 6 3 4.5 3 2.5 3 1.5 3 2.5 3 4 3 6 3 7 3 5.5 3 3 3 1 3 0 3 0.5 3 2.5 3 5 3 6 3 5.5 3 3 3 1.5 3-0.5 3-1 3 0.5 3 1.5 3 3 3 4 3 4 3 3.5 3 3.5 3 3 3 1.5 3-0.5 3-1 3-2 3-1 3 1 3 4 3 6 3 5.5 3 3.5 3 0 3-3.5 3-5 3-3.5 3 0.5 3 5.5 3 8.5 3 8 3 5 3 0.5 3-3 3-3 3-1.5 3 2.5 3 5.5 3 6.5 3 5.5 3 2.5 3 0.5 3-1 3 0.5 3 2.5 3 4 3 4 3 3 3 1 3 0 3 0 3 2.5 3 4 3 5.5 3 1 3 0 3 0 3 0 3 0 3 0 3 0 3 0 3 0 3 0 3 0 3 0 3 0 3 0 3 0 3 0 3 0 3 0 3 0 3 0 3 0 3 0 3 0 3 0 3 0 3 0 3 0 3 0 3 0 3 0 3 0 3 0 3 0 3 0 3 0 3 0 3 0 3 0 3 0 3 0 3 0 3 0 3 0 3 0 3 0 3 0 3 0 3 0 3 0 3 0 3 0 3 0 3 0 3 0 3 0 3 0 3 0 3 0 3 0 3 0 3 0 3 0 3 0 3 0 3 0 3 0 3 0 3 0 3 0 3 0 3 0 3 0 3 0 3 0 3 0 3 0 3 0 3 0 3 0 3 0 3 0 3 0 3 0" stroke="#0000d5"/><path d="M66 120.5l3-5.5 3-6.5 3-6 3-3.5 3-2 3-1.5 3-3.5 3-6 3-8 3-7.5 3-4 3 1 3 5 3 5.5 3 4 3 1 3-1 3 0.5 3 3 3 6.5 3 7.5 3 6.5 3 4 3 1 3 1 3 2 3 5 3 7 3 7.5 3 5 3 2.5 3 0.5 3 1 3 3 3 5 3 7 3 6 3 3.5 3 1.5 3 0 3 1 3 3.5 3 6 3 6.5 3 5 3 2 3-1 3-2 3-1 3 1 3 3 3 4 3 3 3 1 3-0.5 3-0.5 3 0 3 1.5 3 2 3 1.5 3 0.5 3-1 3-1.5 3-1 3 0 3 2.5 3 2.5 3 2 3 0 3-2 3-3 3-2.5 3-0.5 3 1.5 3 2.5 3 2 3 1 3 0 3-1 3-0.5 3 0.5 3 2 3 4.5 3 9 3 11 3-0.5 3 0.5 3 1.5 3 3 3 3.5 3 3 3 0.5 3-1.5 3-2.5 3-2 3 0 3 2.5 3 3.5 3 3.5 3 2.5 3 0.5 3-0.5 3-0.5 3-0.5 3 0.5 3 1 3 0.5 3-0.5 3-0.5 3 0.5 3 1.5 3 2.5 3 3.5 3 1.5 3 0 3-2 3-3.5 3-2.5 3 0 3 2.5 3 4 3 4 3 2.5 3 0.5 3-0.5 3-1 3-0.5 3 0.5 3 1.5 3 1.5 3 1 3 1 3 1 3 2 3 3 3 3 3 1.5 3 0 3-2.5 3-3 3-2.5 3 0 3 2 3 4 3 3.5 3 2 3-0.5 3-2.5 3-3 3-2 3-1 3 0 3 0.5 3 0 3 0 3 0.5 3 1 3 1.5 3 2 3 0.5 3-0.5 3-2.5 3-3 3-2 3 0 3 2.5 3 4 3 4 3 2 3 0 3-2.5 3-2.5 3-2 3 0 3 1 3 1.5 3 1.5 3 1 3 0.5 3 1 3 1 3 1.5 3 1 3-1 3-2" stroke="#0000d8"/><path d="M66 137.5l3-4 3-5.5 3-4 3-2.5 3-2.5 3-3.5 3-7 3-10 3-8.5 3-4.5 3 1 3 5 3 4 3 1 3-1.5 3-0.5 3 2.5 3 4.5 3 4.5 3 2.5 3 1.5 3 2.5 3 4.5 3 7 3 6.5 3 3.5 3 1 3 0 3 2 3 5 3 6 3 4.5 3 2 3 0.5 3 2 3 4.5 3 6.5 3 6.5 3 3 3 0.5 3-1 3 1 3 4.5 3 5.5 3 5.5 3 3 3 1 3 1 3 2 3 2 3 1.5 3 0 3 0 3 1 3 4 3 6 3 5.5 3 2.5 3 0 3-1.5 3-0.5 3 1.5 3 4 3 4.5 3 3.5 3 2.5 3 1.5 3 2 3 1.5 3 1.5 3 1 3 0 3 1.5 3 3 3 5 3 5.5 3 3.5 3 0.5 3-1.5 3-1 3 0.5 3 3 3 4 3 3.5 3 2 3 1 3 1.5 3 1.5 3 1.5 3 1 3 0 3 0 3 1 3 2.5 3 3.5 3 3 3 0.5 3-1 3-1.5 3 0 3 2 3 2 3 1.5 3 0 3-1 3-1 3 0.5 3 1.5 3 1 3-0.5 3-2 3-2 3-1 3 0.5 3 1 3 0 3-1 3-1 3-0.5 3 0.5 3 1 3-0.5 3-2 3-3 3-1.5 3 0.5 3 2.5 3 2.5 3 1 3-1.5 3-2.5 3-2 3-0.5 3 0.5 3 1 3 1 3 0.5 3 1 3 1.5 3 1.5 3 0 3-1.5 3-2 3-1.5 3 1 3 4 3 4.5 3 3 3 0.5 3-1.5 3-2 3 0 3 1.5 3 2 3 2.5 3 1.5 3 2 3 2 3 2.5 3 1.5 3 0 3-1.5 3-0.5 3 1 3 1 3 0 3 0 3 0 3 0 3 0 3 0 3 0 3 0 3 0 3 0 3 0 3 0 3 0 3 0 3 0 3 0 3 0 3 0 3 0 3 0" stroke="#0000de"/><path d="M66 136.5l3-4.5 3-6 3-6 3-5.5 3-4 3-4.5 3-5 3-6 3-5 3-2.5 3 0.5 3 1.5 3-0.5 3-3 3-4 3 0.5 3 6 3 10 3 9.5 3 5 3-1 3-3.5 3-0.5 3 3.5 3 7.5 3 8.5 3 6.5 3 3.5 3 2.5 3 2.5 3 2 3 2.5 3 2.5 3 3.5 3 5.5 3 6.5 3 6.5 3 4 3 1.5 3 1 3 2.5 3 5.5 3 7 3 5 3 2 3-0.5 3 0 3 3 3 5.5 3 6 3 3.5 3 0 3-1.5 3-1 3 2 3 4 3 5 3 4 3 2.5 3 0.5 3 0.5 3 0.5 3 1 3 0.5 3 1.5 3 2.5 3 3 3 3 3 1.5 3-0.5 3-1.5 3-1 3 1.5 3 3 3 3.5 3 1.5 3-0.5 3-1 3-0.5 3 1.5 3 2.5 3 2.5 3 0 3-1.5 3-1.5 3 0 3 2 3 2.5 3 2.5 3 1 3-0.5 3-0.5 3-0.5 3 0 3 0.5 3 1 3 2 3 2.5 3 2.5 3 1.5 3-0.5 3-2 3-1.5 3 0.5 3 3.5 3 4 3 2.5 3 0 3-1.5 3-1.5 3 0 3 2.5 3 2.5 3 2 3 0 3-0.5 3 0 3 1.5 3 2.5 3 2.5 3 1 3 0 3 0 3 0.5 3 1 3 1.5 3 1 3 1.5 3 2.5 3 2.5 3 1.5 3 0 3-2 3-1.5 3 0.5 3 2.5 3 4.5 3 3.5 3 0.5 3-1.5 3-2.5 3-1 3 1 3 2.5 3 2.5 3 0 3 0 3-0.5 3 0 3 0.5 3 0 3 0 3 0 3 0 3 0 3 0 3 0 3 0 3 0 3 0 3 0 3 0 3 0 3 0 3-2 3-1.5 3 1 3 2.5 3 0 3 0 3 0 3-2.5 3-2.5 3 0 3 2 3 2.5 3 0.5 3 0 3-0.5 3-1.5 3 0 3 0 3 0.5 3 0 3 0.5" stroke="#0000e4"/><path d="M66 128.5l3-4 3-6 3-8 3-6.5 3-2.5 3-1 3-4 3-6.5 3-6.5 3-3 3-1.5 3-2.5 3-2 3 2 3 5 3 4.5 3 1 3-0.5 3 3 3 6 3 5 3 2 3 0.5 3 3 3 5 3 4.5 3 2 3 2.5 3 5 3 5.5 3 2 3-1 3 0 3 3.5 3 6 3 4.5 3 2.5 3 3 3 4 3 2.5 3-0.5 3-0.5 3 2 3 6 3 5.5 3 2.5 3 0 3 0.5 3 1 3 0 3-1 3 0.5 3 3.5 3 4.5 3 2.5 3 0 3-1 3 1 3 2 3 1 3 0.5 3 1.5 3 3 3 2.5 3 0.5 3-0.5 3 0.5 3 2 3 2.5 3 1 3 0.5 3 1 3 2.5 3 2 3 0.5 3 0.5 3 2 3 3 3 1.5 3-0.5 3 0 3 1.5 3 3 3 2.5 3 4 3 1 3 1.5 3 1.5 3 0 3-1 3 0 3 3 3 3.5 3 2 3 0.5 3 0 3 1 3 0.5 3-0.5 3 0.5 3 2 3 4 3 2.5 3 0 3-1 3 0 3 0.5 3 0.5 3 0 3 1 3 2 3 2.5 3 0 3-1.5 3-1 3 1 3 1.5 3 0.5 3 0 3 0.5 3 1.5 3 1 3-0.5 3-1 3 0.5 3 2 3 1 3 0 3-1 3 0.5 3 1.5 3 1 3 0.5 3-0.5 3 1 3 1.5 3-0.5 3-1.5 3-0.5 3 1.5 3 3 3 1.5 3-0.5 3 0 3 0 3 0.5 3-1 3-1 3 1.5 3 3 3 2 3 0.5 3-1.5 3-1 3 0.5 3 0.5 3 0 3 0.5 3 2 3 2.5 3 0.5 3-1.5 3-1.5 3 0 3 1.5 3 0.5 3 0.5 3 0.5 3 1.5 3 1 3-0.5 3-1 3-0.5 3 1.5 3 1.5 3 0.5 3-1 3 0.5 3 1 3 1.5 3-0.5 3 0 3 0.5 3 1.5 3 0.5" stroke="#0000ea"/><path d="M66 133l3-5.5 3-7 3-5.5 3-3.5 3-3.5 3-5 3-7.5 3-8.5 3-5.5 3-1 3 4 3 4 3 0 3-4.5 3-6 3-2.5 3 4.5 3 10 3 11 3 7 3 0 3-3.5 3-3 3 1.5 3 6.5 3 9 3 7.5 3 4 3 0.5 3-0.5 3 1 3 3.5 3 4.5 3 4.5 3 3.5 3 2.5 3 3 3 4.5 3 4 3 3 3 1.5 3 1 3 1 3 3.5 3 5.5 3 5 3 3 3 0.5 3-1.5 3-1.5 3 0.5 3 3 3 4.5 3 3.5 3 2 3 0.5 3 0 3 0.5 3 1 3 2 3 1.5 3 2 3 1.5 3 2 3 2 3 1.5 3 0.5 3-0.5 3-0.5 3 1 3 3 3 3.5 3 3.5 3 1.5 3-1 3-2 3-1 3 1.5 3 4 3 4 3 3 3 0 3-1 3-1.5 3 0 3 2.5 3 3 3 2.5 3 1 3 0 3 0 3 1 3 2 3 2 3 1 3-0.5 3-0.5 3 1 3 2.5 3 3.5 3 3 3 0.5 3-2 3-2.5 3-0.5 3 2.5 3 4.5 3 4 3 1 3-2 3-3.5 3-2.5 3 0.5 3 4 3 4 3 2.5 3 0 3-2.5 3-2 3-0.5 3 2 3 2.5 3 2 3 0.5 3-1 3-0.5 3 1 3 1.5 3 1.5 3 0 3-0.5 3-1 3 0 3 2 3 3 3 2 3 0 3-2 3-2.5 3-0.5 3 1.5 3 3.5 3 3 3 1.5 3-1.5 3-2 3-1.5 3 0 3 2 3 3 3 1.5 3 1 3-0.5 3-1 3 0 3 0 3 1 3 0.5 3 1 3 1 3 1 3 1 3 0.5 3-0.5 3-1.5 3-0.5 3 0.5 3 2 3 2.5 3 1.5 3 0 3-1 3-2 3-0.5 3 1 3 2 3 2 3 1 3 0 3-1 3 0 3 0 3 1 3 0.5 3 0" stroke="#0000f0"/><path d="M66 139l3-6.5 3-6 3-5.5 3-4.5 3-4 3-4 3-4.5 3-5 3-6 3-6 3-4 3 1 3 5 3 5 3 1 3-3.5 3-3.5 3 2 3 8.5 3 11 3 6.5 3-0.5 3-4.5 3-2 3 4.5 3 10 3 10 3 4 3-1.5 3-3 3 1 3 6 3 8 3 6.5 3 2.5 3 0 3 0.5 3 3 3 5 3 5.5 3 4 3 3 3 2.5 3 3 3 2.5 3 1 3 1.5 3 2.5 3 3.5 3 3 3 2 3 0 3-0.5 3 1 3 3.5 3 4.5 3 3 3 0.5 3-0.5 3 0 3 2.5 3 4 3 3.5 3 1.5 3-1 3 0 3 1.5 3 3 3 3.5 3 2 3-0.5 3-0.5 3 1 3 3 3 3.5 3 2 3 0 3-0.5 3 0.5 3 2.5 3 3 3 2 3 0.5 3-0.5 3 0.5 3 1.5 3 2.5 3 2 3 0.5 3 0.5 3 0.5 3 1 3 1.5 3 1.5 3 0.5 3 1 3 1.5 3 2 3 0.5 3 0 3-0.5 3 1 3 2.5 3 3 3 1.5 3-1 3-2.5 3-1 3 1.5 3 3 3 3 3 0 3-2.5 3-2.5 3 0 3 2.5 3 4 3 2 3-1 3-2.5 3-1.5 3 1 3 3 3 3 3 1 3-0.5 3-1 3-0.5 3 1 3 1.5 3 2 3 1 3 1 3 0.5 3-0.5 3-0.5 3 0 3 1.5 3 3 3 2.5 3 1 3-1.5 3-2 3-0.5 3 2.5 3 4 3 3.5 3 0 3-2.5 3-2.5 3 0.5 3 3.5 3 4 3 2.5 3-1 3-2.5 3-1.5 3 1.5 3 3 3 3 3 1 3-1.5 3-1.5 3 0 3 1 3 2 3 1 3 0 3 0 3 0 3 0 3 0 3 0 3 0 3 0 3 0 3 0 3 0 3 0 3 0 3 0 3 0 3 0 3 0 3 0" stroke="#0000f6"/><path d="M66 125.5l3-3 3-1 3-1 3-5 3-9.5 3-11 3-8 3-2.5 3 0 3-1 3-3.5 3-3 3 1.5 3 5 3 3 3-2 3-4 3-1.5 3 5.5 3 10 3 9.5 3 4 3-0.5 3-1 3 2.5 3 4 3 3.5 3 1 3 1.5 3 4 3 8.5 3 8 3 4.5 3-1.5 3-3 3 0 3 4.5 3 7.5 3 6 3 3.5 3 2.5 3 3.5 3 5 3 3.5 3 0 3-2.5 3-1 3 3 3 7 3 6 3 2.5 3-1 3-1.5 3 0 3 2.5 3 2 3 1 3 0.5 3 2 3 4 3 4.5 3 1.5 3-1 3-2.5 3-1 3 1.5 3 4 3 3 3 1.5 3 0.5 3 0.5 3 2 3 1 3-0.5 3-2 3-1 3 2 3 4 3 4.5 3 1.5 3-1.5 3-2 3-1 3 1 3 1.5 3 1 3 0 3 1 3 3 3 3 3 1 3-1.5 3-3 3-2 3 1.5 3 4 3 3 3 1.5 3 0 3 0.5 3 1 3 1 3-0.5 3-1 3-1 3 1.5 3 4 3 4 3 1.5 3-1.5 3-2.5 3-1 3 1 3 1.5 3 1.5 3 0.5 3 1 3 2.5 3 3 3 1 3-1 3-3 3-1.5 3 1.5 3 4.5 3 3.5 3 2 3 0 3 0 3 0.5 3 1.5 3 0.5 3-1 3 0 3 1.5 3 4 3 4.5 3 1.5 3-1 3-2.5 3-1 3 1.5 3 2.5 3 2 3 1 3 1 3 1.5 3 2.5 3 1.5 3-1 3-2.5 3-1.5 3 1 3 4 3 3.5 3 1.5 3-0.5 3-1.5 3 0 3 0.5 3 0 3-1 3-0.5 3 0.5 3 3 3 3 3 1 3-2 3-3 3-2.5 3 0.5 3 2 3 1.5 3 0 3-0.5 3 0.5 3 1 3 0.5 3-1.5 3-3 3-2.5 3 0.5 3 3 3 2.5 3 0.5" stroke="#0000fc"/><path d="M66 122.5l3 4 3-0.5 3-9.5 3-13.5 3-8.5 3-1 3 1.5 3-4.5 3-8 3-5 3 0.5 3 0.5 3-4 3-4 3 2.5 3 10 3 8 3-1 3-6 3-1.5 3 7.5 3 10.5 3 6 3-0.5 3-2 3 1.5 3 4 3 4 3 4.5 3 5 3 4 3 0.5 3-2 3 0 3 6 3 9.5 3 5.5 3-1.5 3-3.5 3 1.5 3 7 3 7 3 2 3-1 3 1.5 3 4 3 2.5 3-1.5 3-2 3 2.5 3 7 3 4 3-2.5 3-5 3-1 3 6 3 7.5 3 2 3-3.5 3-3 3 1.5 3 4.5 3 3.5 3 0.5 3-1 3 1 3 1.5 3 1 3 0 3 1 3 3 3 3 3 0.5 3-1.5 3-1 3 2 3 4 3 2 3 0.5 3-0.5 3 1 3 1 3 1 3 1.5 3 7 3 3 3 1.5 3-1.5 3-2.5 3 1 3 5.5 3 5 3 0 3-3.5 3-2 3 2.5 3 5.5 3 3 3-1 3-2 3 1.5 3 3 3 1.5 3-1 3 0 3 2.5 3 3.5 3 1 3-2.5 3-3 3 1.5 3 5 3 3.5 3-1 3-3 3-1.5 3 2 3 3 3 2 3 0.5 3 0 3 0 3-0.5 3-0.5 3 1.5 3 3 3 2.5 3 0 3-2.5 3-1.5 3 2 3 3.5 3 1.5 3-1 3-1.5 3 0.5 3 2 3 0.5 3-1 3 0 3 2.5 3 3 3 0 3-3.5 3-2.5 3 2.5 3 5.5 3 3 3-2.5 3-4.5 3-1 3 3.5 3 4.5 3 1 3-2.5 3-1.5 3 1 3 2 3 0.5 3-0.5 3 0.5 3 1.5 3 1.5 3-1.5 3-2 3 0 3 3 3 2.5 3 0.5 3-2 3-1 3 0.5 3 1.5 3 1 3 0.5 3 1 3 0.5 3-1 3-1.5 3-0.5 3 2.5 3 4 3 1 3-3 3-3.5" stroke="#0003ff"/><path d="M66 134.5l3-0.5 3-4 3-10 3-11.5 3-6.5 3-0.5 3-1 3-5 3-4.5 3-0.5 3-1 3-6.5 3-8 3 0 3 9 3 8 3 1.5 3 0.5 3 4.5 3 4.5 3-0.5 3-4 3 2 3 9 3 9 3 2.5 3 0 3 3 3 4.5 3 0.5 3-2 3 1.5 3 8 3 8.5 3 2.5 3-0.5 3 1.5 3 4.5 3 2 3-1 3 1.5 3 7 3 7.5 3 2.5 3-2 3 0.5 3 2.5 3 1.5 3-1.5 3-0.5 3 4.5 3 5 3 1.5 3-2 3-1 3 2.5 3 2 3-0.5 3 0 3 3 3 4 3 1.5 3-1.5 3-1 3 2 3 2.5 3 0 3-0.5 3 2 3 4 3 1.5 3-1.5 3-1 3 2 3 3 3 0.5 3-0.5 3 1.5 3 3.5 3 2 3-1.5 3-0.5 3 2 3 3 3 1.5 3-0.5 3 1 3 3 3 2 3-0.5 3-1 3 2 3 4 3 1.5 3-0.5 3 0 3 3 3 2.5 3 0 3-0.5 3 2 3 4 3 2 3-0.5 3-0.5 3 2 3 2.5 3 0.5 3-1 3 1.5 3 3.5 3 1.5 3-1 3-1 3 1.5 3 3 3 1 3-0.5 3 1 3 3 3 2 3-1 3-1.5 3 1 3 3 3 2 3-0.5 3 0.5 3 2.5 3 2 3-1 3-2 3 0.5 3 3.5 3 2 3-0.5 3 0 3 2 3 1.5 3-1 3-2.5 3 0.5 3 3 3 2.5 3 0 3-0.5 3 1 3 1.5 3-1 3-2.5 3 0.5 3 3 3 3 3 0 3-1.5 3 0.5 3 1 3-0.5 3-2 3-0.5 3 3 3 3 3 0 3-2 3-0.5 3 1 3-0.5 3-1.5 3-0.5 3 2.5 3 3 3 0.5 3-2.5 3-1 3 0.5 3 0 3-1.5 3-0.5 3 2.5 3 3 3 0.5 3-2.5 3-2 3 0.5 3 0.5" stroke="#0009ff"/><path d="M66 133l3-0.5 3-4.5 3-9 3-9.5 3-5 3 0.5 3-1.5 3-7.5 3-10.5 3-5.5 3 4 3 6 3-1 3-7.5 3-4 3 6 3 11.5 3 6 3-3 3-4 3 2.5 3 9 3 8 3 1 3-2.5 3 0.5 3 6 3 6.5 3 3 3-0.5 3 2 3 4.5 3 4.5 3 1.5 3 0.5 3 3 3 5.5 3 4.5 3 0.5 3-1 3 2.5 3 7 3 5.5 3 0.5 3-3.5 3-0.5 3 5 3 6 3 1 3-4 3-3 3 2.5 3 6 3 3 3-1.5 3-4 3 0.5 3 4 3 4 3 0.5 3-2.5 3-1 3 2 3 3.5 3 1 3-1 3-0.5 3 1 3 2 3 1 3 0 3 0 3 2 3 2 3 0 3-1 3 0.5 3 2.5 3 3 3 0.5 3-2 3-0.5 3 3 3 6 3 7 3-2 3-2 3 1.5 3 5 3 3.5 3-0.5 3-3 3 0 3 3.5 3 4.5 3 1 3-1.5 3-1.5 3 2 3 4 3 2.5 3-0.5 3-1 3 1 3 2.5 3 2 3 0 3 0 3 1 3 2 3 1 3-0.5 3 0.5 3 2 3 3 3 1 3-1 3-0.5 3 2.5 3 4 3 2 3-0.5 3-2 3 1 3 4.5 3 4 3 0 3-2 3-1 3 3.5 3 4.5 3 1.5 3-1.5 3-2 3 1.5 3 3.5 3 2.5 3-0.5 3-1.5 3 0.5 3 2 3 2 3 0.5 3-0.5 3 0 3 1.5 3 1.5 3 0 3-0.5 3 1 3 1.5 3 1 3-1 3-1 3 1 3 2.5 3 1 3-1 3-2.5 3-0.5 3 3 3 2.5 3-0.5 3-3 3-2 3 1.5 3 3 3 1 3-2.5 3-2.5 3-0.5 3 2.5 3 2 3-1 3-2.5 3-1.5 3 1 3 1.5 3 0 3-1 3-1.5 3 0.5 3 0.5 3 0 3-1" stroke="#000fff"/><path d="M66 133l3-5 3-4.5 3-4 3-4 3-5 3-5.5 3-6 3-5.5 3-4 3-2.5 3-1.5 3 0 3 0 3 1 3 1 3 2.5 3 2.5 3 3 3 3.5 3 3 3 3 3 3.5 3 3.5 3 4 3 3 3 3 3 2 3 2 3 3 3 4 3 5 3 4.5 3 3 3 2 3 1 3 1.5 3 3 3 5 3 5.5 3 4.5 3 3 3 0.5 3 0.5 3 0.5 3 2.5 3 4 3 4 3 3 3 0.5 3-1 3-1.5 3 0 3 1.5 3 3 3 3 3 2 3 0.5 3-0.5 3-1 3 0 3 1 3 2 3 2.5 3 1.5 3 0 3-0.5 3-1 3 0 3 0.5 3 1.5 3 1.5 3 1.5 3 0.5 3-0.5 3 0 3 0 3 0.5 3 0.5 3 1 3 1 3 1 3 0.5 3 0.5 3 0.5 3 1 3 0.5 3 0.5 3 1.5 3 2 3 1.5 3 1.5 3 0.5 3 0 3-0.5 3 0.5 3 1.5 3 2.5 3 3 3 1.5 3 0.5 3-0.5 3-1 3 0 3 2 3 2.5 3 3 3 2 3 0 3-1.5 3-1.5 3 0 3 1 3 3 3 3 3 1.5 3 0 3-1 3-1.5 3 0 3 1.5 3 2.5 3 2.5 3 2 3 0.5 3-0.5 3-1 3 0 3 1.5 3 2.5 3 2.5 3 2 3 1 3 0.5 3 0 3 0.5 3 1 3 1.5 3 2 3 2 3 2 3 1 3 1 3 0 3 0.5 3 0.5 3 1.5 3 2.5 3 2 3 2 3 1.5 3 0 3-0.5 3 0 3 1 3 2 3 2.5 3 3 3 1.5 3-0.5 3-1 3-1 3 0 3 2 3 3 3 2.5 3 1.5 3 0 3-2 3-1.5 3-0.5 3 1.5 3 3 3 2.5 3 1.5 3-0.5 3-1.5 3-2 3-1 3 1.5 3 2 3 2.5 3 1 3-0.5 3-1.5 3-2" stroke="#0015ff"/><path d="M66 141l3-4.5 3-6 3-9 3-8.5 3-2.5 3 1 3 0 3-7 3-11 3-8.5 3-2 3 2 3 1.5 3 1.5 3 4 3 5.5 3 3 3-3 3-5 3 1 3 8.5 3 10 3 5 3 0 3-0.5 3 2.5 3 3 3 1.5 3 0.5 3 3.5 3 7.5 3 7.5 3 2.5 3-2 3-1.5 3 3.5 3 6 3 4.5 3 2 3 2 3 4.5 3 5.5 3 2 3-1 3-0.5 3 3 3 5 3 3.5 3-0.5 3-0.5 3 2 3 3.5 3 2 3-0.5 3-1 3 2 3 4 3 3 3 1 3 0 3 1.5 3 2.5 3 2 3-0.5 3-0.5 3 2 3 4 3 3.5 3 1 3-1 3 0 3 2 3 2 3 1 3 1 3 2 3 4 3 3 3 0 3-1.5 3-0.5 3 2.5 3 4.5 3 2.5 3 1.5 3 1 3 2 3 1.5 3 0 3-1 3 1 3 4 3 5 3 2.5 3-0.5 3-1.5 3 0.5 3 2 3 1.5 3 1 3 2 3 3.5 3 3 3 0 3-2.5 3-2 3 0.5 3 3.5 3 2.5 3 1 3-0.5 3 0 3 0.5 3-0.5 3-2 3-0.5 3 1.5 3 3.5 3 2.5 3-1 3-2.5 3-1.5 3 1 3 1.5 3 0 3 0 3 1 3 2 3 1 3-1.5 3-2.5 3-0.5 3 2 3 2 3 0 3-1 3-0.5 3 1 3 1.5 3-1 3-1.5 3-0.5 3 2 3 2 3 0.5 3-1 3-0.5 3 1 3 2 3-0.5 3-1 3-0.5 3 1.5 3 3 3 1 3-0.5 3-1 3 1 3 1.5 3 0.5 3-1 3 0.5 3 2 3 3.5 3 1 3-1.5 3-1.5 3 0 3 2 3 2.5 3 0.5 3 1 3 1.5 3 2 3 0 3-2 3-1 3 1 3 4 3 3.5 3 0.5 3-1 3-0.5 3 0.5 3 0.5" stroke="#001bff"/><path d="M66 124l3 2 3-4.5 3-12.5 3-11 3-1.5 3 3 3-4.5 3-12 3-8 3 1.5 3 3.5 3-3 3-6 3 0.5 3 6 3 3 3 0 3 1 3 4.5 3 4.5 3 2 3 2 3 2.5 3 2.5 3 2.5 3 5 3 5.5 3 1.5 3-3 3 1.5 3 9 3 8.5 3 0 3-5.5 3 1 3 10 3 8.5 3-0.5 3-3.5 3 2 3 7.5 3 5.5 3 0.5 3 0 3 2.5 3 3 3 1 3 0.5 3 1.5 3 1.5 3 0.5 3 1 3 1.5 3 1 3 0 3 0.5 3 3 3 2.5 3-1 3-2 3 1 3 5 3 2.5 3-2.5 3-3.5 3 2 3 5 3 2 3-2 3-2.5 3 1.5 3 3 3 1.5 3-0.5 3-0.5 3 1 3 0.5 3 1 3 1 3 1 3 0.5 3 0 3 2 3 5.5 3 8.5 3-0.5 3 1 3 3.5 3 2 3-2 3-1 3 3 3 5 3 1 3-3 3-1.5 3 4 3 4.5 3 1 3-2 3-0.5 3 2 3 3 3 1.5 3 0 3 0 3 0.5 3 0.5 3 2 3 1.5 3 0.5 3-1 3 0.5 3 2 3 2 3-0.5 3-1.5 3 2 3 3.5 3 0 3-2.5 3 0 3 3.5 3 3.5 3-0.5 3-3.5 3 0 3 4 3 3.5 3-0.5 3-2.5 3 0 3 2 3 2 3 0.5 3 0 3-0.5 3-0.5 3 1 3 2 3 1.5 3-1 3-1.5 3 1 3 3 3 1 3-2 3-1 3 2.5 3 2.5 3-1 3-2.5 3 1 3 4 3 1.5 3-2 3-2.5 3 1.5 3 3.5 3 1 3-1 3-1.5 3 0 3 1.5 3 1.5 3 1 3-0.5 3-1 3-1 3 2 3 2.5 3 0.5 3-2 3-1.5 3 2.5 3 2.5 3 0 3-2.5 3 0 3 3 3 1.5 3-2 3-1.5 3 2 3 3" stroke="#0021ff"/><path d="M66 135l3-2 3-6 3-9.5 3-10 3-6.5 3-1.5 3 0.5 3-2 3-7 3-8.5 3-5.5 3 0.5 3 3 3 2.5 3 1.5 3 1.5 3 2.5 3 2.5 3 1 3 0.5 3 3 3 5.5 3 6 3 3.5 3 0 3-1 3 2 3 5.5 3 6 3 3 3 1 3 1 3 3.5 3 4.5 3 3.5 3 1.5 3 1.5 3 3 3 5 3 4.5 3 2.5 3 0.5 3 1.5 3 3 3 4 3 2.5 3 0.5 3 0.5 3 1.5 3 2.5 3 1 3 0 3 0 3 1.5 3 3 3 3.5 3 1 3-1 3-1 3 1 3 3 3 3 3 1.5 3 0 3 0 3 0.5 3 1 3 1 3 1 3 1.5 3 2 3 2 3 0 3-1.5 3-0.5 3 1.5 3 3.5 3 3 3 1.5 3-1 3-1.5 3 0 3 2.5 3 2.5 3 2.5 3 0.5 3 0.5 3 0.5 3 0.5 3 0 3 0.5 3 2.5 3 3 3 2.5 3 0 3-1.5 3-1.5 3 1.5 3 3.5 3 3.5 3 1.5 3-0.5 3-1 3 0 3 1.5 3 2 3 1 3 1.5 3 1 3 0.5 3 0 3-1 3 0 3 1.5 3 3 3 2.5 3 0 3-1.5 3-1 3 0.5 3 2.5 3 2.5 3 1 3-0.5 3 0 3 0.5 3 1 3 1 3 0.5 3 0.5 3 1.5 3 1.5 3 0.5 3-1 3-0.5 3 0.5 3 2 3 1.5 3 0.5 3-1 3-0.5 3 1 3 1.5 3 1 3-0.5 3 0 3 0.5 3 1.5 3 1.5 3 0 3-1 3-0.5 3 1 3 2 3 1 3 0 3 0 3 0 3 1 3 0.5 3 0 3-0.5 3 1 3 1.5 3 1.5 3-0.5 3-1.5 3-1 3 1 3 2.5 3 2 3 0 3-1 3-1 3 0 3 1 3 1.5 3 0.5 3 0.5 3 1 3 0 3-0.5 3-1 3-0.5 3 1.5" stroke="#0027ff"/><path d="M66 138l3-7 3-9.5 3-6.5 3-2.5 3-3 3-7 3-6.5 3-4 3-3 3-4 3-4 3-1 3 0.5 3 0.5 3 1.5 3 4 3 4 3 0 3-2 3 2 3 8.5 3 7.5 3 1 3-2.5 3 0.5 3 5.5 3 5 3 2.5 3 2 3 3.5 3 4 3 2 3 2 3 3.5 3 3.5 3 2 3 2.5 3 5 3 6 3 2 3-1.5 3 1 3 5.5 3 6.5 3 3 3-1 3 0.5 3 2 3 2.5 3 1 3 1 3 2 3 2 3 1 3 1 3 2 3 1.5 3 0 3 0.5 3 2.5 3 4 3 1.5 3-1 3-1 3 1.5 3 3 3 2 3 0 3 0.5 3 1.5 3 1.5 3 0.5 3 0.5 3 1.5 3 1 3 1 3 1 3 2 3 1.5 3-0.5 3-1 3 1.5 3 4 3 2.5 3-0.5 3-1 3 1 3 2 3 1.5 3 0.5 3 1 3 1.5 3 1 3 0.5 3 1 3 1 3 0.5 3 0 3 1 3 3 3 2 3-0.5 3-1.5 3 0 3 2.5 3 2.5 3 0 3-1 3 0 3 1 3 1 3-0.5 3 0.5 3 1 3 0.5 3 0.5 3 0.5 3 1 3 0 3-1 3 0 3 2 3 3 3 0.5 3-2 3-1 3 1.5 3 2.5 3 0.5 3 0 3 0.5 3 1 3 0.5 3-0.5 3 0.5 3 0.5 3 0.5 3 0.5 3 1 3 1.5 3 0.5 3-1.5 3-1 3 1.5 3 3 3 1.5 3-1 3-1 3 1 3 2 3 0.5 3 0 3 1 3 1 3 1 3 0.5 3 0.5 3 1 3 0 3-0.5 3 1.5 3 2.5 3 1.5 3-1 3-1.5 3 0.5 3 3 3 2 3-0.5 3 0 3 0.5 3 1.5 3 0.5 3 0 3 0.5 3 1 3 1 3 0.5 3 1 3 1 3 0 3-1 3 0.5 3 2.5 3 2" stroke="#002cff"/><path d="M66 140.5l3-4 3-3.5 3-6.5 3-8.5 3-6 3-1 3-0.5 3-6 3-10.5 3-7.5 3 1 3 4 3 2 3 0 3 1 3 1.5 3 0 3 1 3 4.5 3 6.5 3 3.5 3 0 3 1.5 3 6 3 6 3 0 3-2.5 3 2 3 7.5 3 7.5 3 3.5 3 0 3 1 3 2 3 2 3 3.5 3 5.5 3 6 3 2.5 3-0.5 3 0.5 3 5 3 5 3 1.5 3-1 3 2 3 4.5 3 3.5 3 0 3-2 3-0.5 3 1.5 3 2 3 2 3 3 3 2 3-0.5 3-2 3 0 3 3 3 3 3 0.5 3-0.5 3 0 3 2 3 1.5 3-0.5 3-1 3 0.5 3 2 3 1.5 3 1 3 1 3 0.5 3-0.5 3-2 3 1 3 3 3 3.5 3 0.5 3-1.5 3 0 3 2 3 2 3 0 3 0.5 3 1 3 2.5 3 1.5 3 0.5 3 1 3 0.5 3 0.5 3-0.5 3 2 3 4 3 3 3 0 3-2 3 0 3 3 3 3 3 1.5 3 0.5 3 1.5 3 1.5 3 0.5 3 0.5 3 1 3 1.5 3 1 3 0.5 3 2 3 3 3 2 3-1 3-1.5 3 1 3 3.5 3 3.5 3 1 3 0 3 0.5 3 1.5 3 1 3 1 3 2 3 2 3 1.5 3 0 3 1 3 2.5 3 1.5 3-1 3-1 3 1.5 3 4 3 2.5 3 0 3-1 3-0.5 3 1.5 3 1 3 1.5 3 2 3 1.5 3 0 3-1 3 0 3 2.5 3 1.5 3-0.5 3-0.5 3 1 3 3 3 1.5 3-1.5 3-1.5 3 0 3 1.5 3 1.5 3 1 3 1 3 0 3-1 3-1.5 3 0 3 2.5 3 1.5 3-0.5 3-1.5 3 0.5 3 1.5 3 0.5 3-2 3-1 3 0.5 3 1.5 3 1 3-0.5 3-0.5 3-0.5 3-1.5 3-1 3 0.5" stroke="#0032ff"/><path d="M66 134l3-7 3-6 3-3 3-4 3-8 3-9 3-4 3 1 3-1.5 3-8 3-8.5 3-0.5 3 6.5 3 4.5 3-2 3-3.5 3 0.5 3 5.5 3 6.5 3 4.5 3 0.5 3-1.5 3-0.5 3 4.5 3 7.5 3 5.5 3-0.5 3-3.5 3 1 3 7.5 3 7.5 3 1.5 3-2.5 3 1 3 5.5 3 5.5 3 1.5 3-0.5 3 2.5 3 5.5 3 3.5 3 0.5 3 0 3 3 3 4.5 3 2.5 3-0.5 3-1 3 0 3 1.5 3 3 3 2.5 3 0.5 3-1.5 3-1.5 3 1.5 3 4.5 3 3.5 3-1 3-3 3 0 3 4 3 3.5 3 0.5 3-2 3-0.5 3 2 3 3 3 1 3-0.5 3 0.5 3 1.5 3 1.5 3 0.5 3 1 3 1 3 2 3 1 3 1 3 1 3 0.5 3 1 3 2 3 3.5 3 5 3-1 3-1 3 1.5 3 4 3 3 3-0.5 3-2.5 3 0 3 4 3 4.5 3 0.5 3-1.5 3-0.5 3 2 3 3 3 2 3 0.5 3 0 3 0.5 3 1.5 3 1 3 2 3 1 3 0 3 0 3 1 3 2 3 0 3 0 3 0.5 3 2 3 2 3-1 3-2 3 1 3 3.5 3 2.5 3-1.5 3-2.5 3 0 3 3 3 3 3 0.5 3-2 3-1 3 1 3 2 3 2 3 0 3-0.5 3-1 3 0 3 1.5 3 2.5 3 0 3-1.5 3-0.5 3 1.5 3 2 3 0.5 3-1.5 3 0 3 2 3 1.5 3-0.5 3-1.5 3 0.5 3 2.5 3 2 3-1 3-2 3 0 3 2.5 3 2 3 0.5 3-1.5 3-1 3 0.5 3 1.5 3 2 3 1 3-1 3-2 3 0 3 2.5 3 2.5 3 0 3-2 3-1 3 1.5 3 2.5 3 0.5 3-1 3-1 3 1.5 3 2 3-0.5 3-0.5 3 0 3 1.5" stroke="#0038ff"/><path d="M66 132.5l3-2 3-2.5 3-4 3-7.5 3-9 3-7 3-4.5 3-1.5 3-2 3-2.5 3-3.5 3-3.5 3-2 3 0.5 3 3 3 4.5 3 4 3 2 3 0 3 0.5 3 2.5 3 5 3 5 3 3.5 3 0.5 3 0.5 3 2.5 3 4 3 4 3 2.5 3 2 3 2.5 3 4 3 4 3 2 3 0.5 3 1.5 3 4 3 6.5 3 4.5 3 0.5 3-1.5 3 0.5 3 4.5 3 6.5 3 4 3-1 3-3 3-1.5 3 3 3 4.5 3 3 3-0.5 3-2 3-0.5 3 2 3 3.5 3 1.5 3-0.5 3-0.5 3 1 3 2 3 1.5 3 0 3-1.5 3 0 3 2 3 2.5 3 1 3-1 3-1.5 3 0 3 2 3 3 3 1.5 3-1 3-2 3 0 3 2 3 2.5 3 1.5 3-0.5 3-0.5 3 0.5 3 5 3 1.5 3 1.5 3 0.5 3 1 3 1 3 0.5 3 1 3 0.5 3 1.5 3 1.5 3 1.5 3 0.5 3 0.5 3 0.5 3 1 3 1.5 3 1.5 3 1 3 1 3 0.5 3 0.5 3 0.5 3 0.5 3 1 3 1.5 3 1.5 3 1 3-0.5 3-1 3 0.5 3 2.5 3 2.5 3 1.5 3-0.5 3-1.5 3 0 3 2 3 3 3 2 3-0.5 3-1 3 0 3 2 3 3 3 1 3-0.5 3 0 3 1 3 2 3 2 3-0.5 3-0.5 3 0.5 3 2.5 3 2.5 3 1 3-1 3-1 3 0.5 3 3 3 3.5 3 1 3-1.5 3-1.5 3 0.5 3 3 3 3 3 1 3-1 3-1.5 3 1 3 2 3 1.5 3 1 3-0.5 3 0 3 0.5 3 1.5 3 0.5 3 0 3-0.5 3 1 3 1.5 3 1 3-0.5 3-0.5 3-0.5 3 1 3 1.5 3 1 3 0 3-1 3-0.5 3 0 3 1 3 1 3 0.5 3 0 3-0.5 3-1" stroke="#003eff"/><path d="M66 144l3-3 3-3 3-6.5 3-10.5 3-9.5 3-2.5 3 0.5 3-3 3-10 3-9 3-0.5 3 5 3 2 3-4 3-4 3 2.5 3 6 3 3.5 3 0.5 3 1 3 3 3 2.5 3 1 3 1.5 3 4 3 4 3 2 3-0.5 3 1.5 3 4.5 3 4.5 3 2.5 3 1 3 2.5 3 3.5 3 2.5 3 2.5 3 3.5 3 4.5 3 3.5 3 0.5 3 0.5 3 4.5 3 7 3 4 3-1.5 3-2 3 2 3 6 3 4 3 0 3-1.5 3 1.5 3 4 3 3.5 3 1 3 1 3 2 3 2.5 3 2 3 1 3 2 3 2.5 3 2 3 0.5 3 0 3 2 3 3 3 1.5 3 0.5 3 0.5 3 1.5 3 1.5 3 1 3 1 3 2 3 1 3 0 3 0 3 1 3 3.5 3 2 3-0.5 3-1.5 3 0 3 3.5 3 2.5 3 0 3-2.5 3-0.5 3 2 3 2.5 3 0 3-1.5 3-0.5 3 1 3 1 3-0.5 3-0.5 3 1 3 0.5 3 0 3-1.5 3 0 3 1.5 3 1 3-0.5 3-1 3-0.5 3 1 3 1 3 0.5 3 0.5 3 1 3 0 3 0 3 0.5 3 2.5 3 2.5 3 0.5 3-1 3 0.5 3 3 3 4 3 1.5 3-1 3 0 3 3 3 4 3 2 3 0.5 3 0.5 3 2.5 3 2.5 3 1 3 1 3 2 3 2.5 3 1.5 3 0 3 1 3 2 3 3 3 1 3 0 3 0 3 1.5 3 2 3 1 3 0.5 3 0.5 3 0.5 3 0 3 0 3 1.5 3 1.5 3-0.5 3-1.5 3-1.5 3 1 3 2 3 0 3-2.5 3-2.5 3 0.5 3 1.5 3 0 3-2 3-2 3-0.5 3 0.5 3-0.5 3-2 3-1 3 0.5 3-0.5 3-1.5 3-2 3 0 3 1 3 0 3-1.5 3-2 3-0.5 3 1" stroke="#0044ff"/><path d="M66 134.5l3-8 3-11 3-6 3-0.5 3-2 3-8 3-8.5 3-4.5 3-0.5 3-4 3-6.5 3-2.5 3 4.5 3 5 3-0.5 3-4.5 3-1 3 5.5 3 7 3 4 3 1 3 0 3 0 3 1.5 3 4 3 5.5 3 4 3 1 3 0 3 2 3 4.5 3 3.5 3 1.5 3 3 3 5.5 3 4.5 3 0 3-2 3 2.5 3 8 3 7.5 3 1 3-2.5 3 0 3 5 3 4.5 3 1 3-0.5 3 1.5 3 2.5 3 1 3-1.5 3 0.5 3 3 3 3.5 3 1.5 3-0.5 3-0.5 3 0.5 3 2 3 2 3 2.5 3 1 3-0.5 3-1 3 0.5 3 2.5 3 2.5 3 0.5 3-1 3 1 3 2 3 0.5 3-0.5 3 0 3 3 3 3 3 0 3-2.5 3-1 3 3 3 3.5 3 1.5 3 0 3 3 3 1.5 3 1.5 3 1 3 0.5 3 2 3 1.5 3 0.5 3 0 3 0 3 1 3 2 3 1.5 3 1.5 3 1 3-0.5 3-0.5 3 1 3 3 3 3 3 0 3-2 3-0.5 3 2 3 2.5 3 0.5 3-0.5 3 1 3 2 3 1 3-1.5 3-1 3 2.5 3 3.5 3 1.5 3-2 3-1.5 3 1 3 2.5 3 2 3 0.5 3 0 3 0.5 3 0 3 0.5 3 0.5 3 1.5 3 1.5 3 0 3 0 3 0.5 3 0 3 0 3 0.5 3 1.5 3 2 3 0 3-2.5 3-1 3 2 3 3.5 3 1 3-2 3-1 3 1 3 2 3 0 3-1 3 1 3 2 3 1 3-1.5 3-1.5 3 0.5 3 3 3 2 3-0.5 3-1 3-0.5 3 0.5 3 1 3 1 3 1 3 0.5 3-1 3-0.5 3 0.5 3 1.5 3 1 3 0 3 0 3 1.5 3 0 3-1 3-1 3 1.5 3 3.5 3 1 3-2 3-2.5 3 0.5" stroke="#004aff"/><path d="M66 142.5l3-6 3-2.5 3-1.5 3-8.5 3-12.5 3-7 3-1.5 3-3 3-4.5 3 0 3 0.5 3-7 3-8.5 3 2.5 3 9.5 3 4.5 3-0.5 3 2 3 2.5 3-2.5 3-1 3 7.5 3 10.5 3 2.5 3-3 3 0 3 3 3 2 3 2.5 3 8.5 3 7 3-0.5 3-4 3 2 3 6.5 3 5 3 3 3 5.5 3 3.5 3-2 3-2 3 5 3 9 3 4 3 0.5 3 1 3 1 3-1.5 3 0 3 5 3 6.5 3 0.5 3-3 3 0 3 2.5 3 1 3 2 3 4 3 3.5 3-1.5 3-2 3 1.5 3 3 3 2 3 1 3 2 3 1.5 3-2 3-1 3 2.5 3 4.5 3 1 3-0.5 3 1 3 1 3-0.5 3 0 3 3.5 3 4 3 0 3-1 3 1 3 2.5 3 0.5 3 1 3 3.5 3 2.5 3-0.5 3-1 3 2 3 3 3 1 3 0.5 3 2.5 3 2 3-0.5 3-0.5 3 2.5 3 3 3 0.5 3 0 3 2 3 2 3-0.5 3-0.5 3 2 3 2.5 3-0.5 3-0.5 3 1.5 3 1.5 3-1 3-1 3 2 3 2 3 0 3-1 3 1.5 3 1 3-1 3-0.5 3 2 3 2.5 3-0.5 3-1 3 0.5 3 1 3-0.5 3 0.5 3 2.5 3 2 3-1.5 3-2 3 0.5 3 2 3 0 3 0.5 3 1.5 3 0.5 3-2 3-2 3 2 3 3 3 0.5 3-0.5 3 0.5 3 0 3-2 3 0 3 3 3 3 3-0.5 3-2 3 0 3 0.5 3 0 3 1 3 3.5 3 1.5 3-2.5 3-2 3 1 3 2 3 1 3 1 3 2 3 0 3-2.5 3-1 3 2.5 3 3.5 3 0.5 3-0.5 3 0.5 3 0 3-1.5 3 0.5 3 3.5 3 3 3-1 3-1.5 3 0 3 1 3 0 3 1.5" stroke="#0050ff"/><path d="M66 143l3-4 3-6.5 3-7 3-6.5 3-6 3-4 3-4.5 3-6 3-6 3-2 3 1 3-0.5 3-4.5 3-2 3 4 3 6 3 2 3-1 3 0.5 3 4 3 4.5 3 3 3 1.5 3 1 3 2 3 3.5 3 4 3 3.5 3 1 3 0.5 3 3.5 3 5.5 3 4 3 1 3 0 3 3.5 3 5.5 3 4 3 1 3 1 3 3.5 3 4.5 3 3.5 3 2 3 1 3 1.5 3 1.5 3 2.5 3 2 3 0.5 3 0 3 1 3 3 3 2.5 3 0.5 3-0.5 3 1 3 3 3 2.5 3 0.5 3 0 3 1 3 2 3 1.5 3 1 3 0.5 3 0 3 1 3 2 3 1.5 3 1 3-0.5 3 0.5 3 2 3 2 3 1 3-0.5 3 0.5 3 2 3 2.5 3 1 3 0 3 0.5 3 2 3 1.5 3 1.5 3 1 3 0.5 3 0.5 3 2 3 2 3 1 3 0 3 0.5 3 1.5 3 2.5 3 1 3 0 3 0 3 1.5 3 2.5 3 1 3 0 3 0.5 3 0.5 3 1.5 3 1 3 0.5 3 0 3-0.5 3 1 3 1.5 3 1 3-0.5 3-0.5 3 0.5 3 2 3 1 3-0.5 3-0.5 3 1 3 1.5 3 1 3 0 3 0 3 0.5 3 1 3 1.5 3 0.5 3 0.5 3-0.5 3 0.5 3 1.5 3 1.5 3-0.5 3-0.5 3 0 3 2 3 1.5 3-0.5 3-0.5 3 0.5 3 1.5 3 1 3 0.5 3-0.5 3 0.5 3 1 3 1 3 1 3 0.5 3-0.5 3 0 3 1.5 3 1.5 3 0.5 3-0.5 3 0 3 1.5 3 1.5 3 0.5 3-1 3 0 3 1.5 3 1.5 3 0 3 0 3 0 3 0.5 3 1 3 1 3 0.5 3-0.5 3-0.5 3 1 3 1.5 3 0.5 3-0.5 3-1 3 1 3 1.5 3 0.5 3-1 3-0.5 3 1" stroke="#0056ff"/><path d="M66 144l3-10.5 3-5 3 1.5 3-7.5 3-15 3-5 3 4.5 3-5 3-13 3-2.5 3 6.5 3-2.5 3-9 3 2 3 8.5 3 0.5 3-3.5 3 4 3 6.5 3-0.5 3-0.5 3 6 3 4 3-1.5 3 1.5 3 7 3 3 3-2.5 3 2.5 3 8 3 3.5 3-2 3 2 3 7 3 4.5 3-1 3 1.5 3 5.5 3 5 3 1 3 1 3 4 3 4.5 3 3 3 0 3 1 3 3.5 3 3 3-0.5 3-0.5 3 2.5 3 3.5 3 0.5 3-0.5 3 2 3 3 3 0.5 3 0.5 3 2 3 2 3 0.5 3 1 3 2.5 3 0.5 3-0.5 3 1.5 3 3 3 0 3-1.5 3 2.5 3 4 3-1 3-2 3 2.5 3 4.5 3-0.5 3-2.5 3 2.5 3 4.5 3 0 3-2.5 3 3 3 4 3 0 3-1.5 3 2.5 3 3.5 3-0.5 3 0 3 2.5 3 2 3-0.5 3 1 3 3 3 1 3-0.5 3 1.5 3 3.5 3 0.5 3-1.5 3 1.5 3 3.5 3 1 3-1.5 3 1 3 3 3 0.5 3-1 3 0 3 2 3 1 3 0 3-0.5 3 0.5 3 2 3 0.5 3-1 3 0 3 2 3 1 3-0.5 3-0.5 3 1.5 3 1.5 3-0.5 3-0.5 3 1 3 1 3 0 3 0 3 1 3 0.5 3-1 3 1 3 1 3-0.5 3-1.5 3 1.5 3 2 3-1.5 3-2 3 2.5 3 2.5 3-2 3-2.5 3 2.5 3 3 3-2 3-2.5 3 2.5 3 3 3-2 3-2 3 2.5 3 2 3-1.5 3-1 3 2 3 1.5 3-1.5 3 0.5 3 2 3 0 3-1 3 1 3 2 3-0.5 3-1 3 1.5 3 2.5 3-1 3-1.5 3 2 3 2.5 3-0.5 3-1.5 3 1.5 3 2 3 0.5 3-1 3 0.5 3 2 3 1 3 0 3-0.5" stroke="#005cff"/><path d="M66 140l3-6 3-1.5 3-2 3-9 3-9.5 3-6 3-5 3-4.5 3 0 3 0 3-7 3-6 3 2.5 3 4 3-0.5 3 1.5 3 4 3 1.5 3 0 3 5 3 4 3-1 3 0.5 3 6.5 3 4.5 3 0 3 1.5 3 3 3 1.5 3 3 3 7 3 4.5 3-1.5 3-0.5 3 5 3 5 3 3.5 3 4 3 2.5 3-0.5 3 1 3 6.5 3 5.5 3 1 3 0.5 3 2.5 3 0.5 3 1 3 3.5 3 2.5 3-1 3 0 3 3 3 2 3 0 3 1 3 2.5 3 1 3 1 3 2 3 1.5 3-1 3 0.5 3 3 3 1.5 3 0 3 0.5 3 0.5 3-0.5 3 1.5 3 3.5 3 1.5 3-1.5 3-0.5 3 1.5 3 1.5 3 1 3 2.5 3 0.5 3-1 3 0 3 3 3 2 3 0.5 3 0.5 3 1.5 3 0.5 3 0.5 3 2.5 3 1.5 3-0.5 3 1 3 2.5 3 1 3-0.5 3 1 3 2 3 0.5 3 1.5 3 2.5 3 0.5 3-1.5 3 1 3 3 3 1.5 3 0.5 3 0.5 3 0 3-1 3 1 3 3 3 1.5 3-1.5 3 0 3 1 3 0.5 3 1 3 2 3 0.5 3-1.5 3 0.5 3 2 3 1 3 0 3 1 3 1 3 0 3 0.5 3 1.5 3 0.5 3-1 3 1 3 2 3 0.5 3-1 3 0.5 3 0.5 3 0 3 1 3 2 3 0 3-2 3 0 3 2 3 1 3 0.5 3 0.5 3-0.5 3-1.5 3 1 3 3 3 0.5 3-1 3 0 3 0.5 3 0 3 1 3 2 3 0 3-1.5 3 1 3 1.5 3 0 3-0.5 3 1 3 1 3 0 3 0.5 3 1.5 3-0.5 3-1 3 1 3 2.5 3 0 3-0.5 3 0 3 0 3 0 3 2 3 2 3-0.5 3-1.5 3 0 3 1.5 3 0.5" stroke="#0062ff"/><path d="M66 136l3-2.5 3-3 3-6.5 3-6 3-7 3-9 3-5 3 2.5 3-2 3-11.5 3-6 3 7 3 4 3-6.5 3-3.5 3 7 3 5.5 3-0.5 3 1 3 3.5 3 1 3 1.5 3 6 3 3 3-2.5 3 1 3 8 3 4 3-2.5 3 1.5 3 7 3 3.5 3-0.5 3 3.5 3 5.5 3 1.5 3 0.5 3 5 3 5.5 3 0 3 0.5 3 5.5 3 5 3 0 3 1 3 3.5 3 1.5 3-0.5 3 3 3 2.5 3-1 3-1 3 4.5 3 3.5 3-1.5 3-1.5 3 3.5 3 4 3-0.5 3-0.5 3 1.5 3 2 3 1 3 1 3 1 3-1 3 0.5 3 3.5 3 2 3-2.5 3-1 3 4 3 3 3-1.5 3-1.5 3 2.5 3 2.5 3 0.5 3 0 3 0.5 3 0.5 3 1 3 3 3 1 3-2 3 0.5 3 4 3 2.5 3-2.5 3-0.5 3 3.5 3 2.5 3-1 3 0 3 2 3 1 3 0.5 3 2 3 1 3-1 3 1 3 3.5 3 1 3-2 3 0.5 3 3 3 1.5 3-1.5 3 0.5 3 2 3 0.5 3-0.5 3 1.5 3 1.5 3-0.5 3-0.5 3 2.5 3 1.5 3-1.5 3 0 3 2 3 1 3-0.5 3 1 3 1.5 3-0.5 3-1 3 2.5 3 2 3-1.5 3-1.5 3 2.5 3 2.5 3-1.5 3-1.5 3 1.5 3 1.5 3-0.5 3 0 3 0.5 3-0.5 3 0 3 2.5 3 0.5 3-2.5 3-0.5 3 3.5 3 1.5 3-2.5 3-1.5 3 2.5 3 2 3-0.5 3-1 3 0.5 3 0.5 3 0.5 3 1.5 3 0 3-1.5 3 0.5 3 3.5 3 0.5 3-2.5 3-1 3 3.5 3 2 3-2 3-0.5 3 1.5 3 1.5 3 0 3 0.5 3 0.5 3-1 3 1 3 2.5 3 0.5 3-2 3 0 3 3.5 3 0.5 3-1.5 3 0 3 2" stroke="#0068ff"/><path d="M66 128l3-3 3 0 3-5.5 3-10 3-8 3-5.5 3-1.5 3 0 3-8 3-11 3 0.5 3 9 3-2.5 3-10.5 3 1.5 3 11 3 3.5 3-4 3 0 3 4 3 4 3 4 3 1 3-2 3 2 3 7.5 3 3 3-2 3 2 3 6.5 3 2.5 3 1 3 5 3 3.5 3-0.5 3 3 3 7.5 3 3.5 3-1.5 3 2 3 6.5 3 4 3 2 3 1 3 1 3 2.5 3 5.5 3 1 3-4 3 0.5 3 7 3 3 3-4 3-1 3 5 3 3 3 0 3-0.5 3 1 3 2 3 2.5 3 1 3-1.5 3 0 3 3.5 3 2 3-1.5 3-0.5 3 2.5 3 1 3-0.5 3 1.5 3 1.5 3-1 3 0.5 3 2.5 3 1 3-1 3 0 3 1.5 3 1 3 0.5 3 0.5 3-0.5 3 3 3 3 3 2 3-2 3-1.5 3 3.5 3 3.5 3-1.5 3-2 3 2 3 3 3 1 3-0.5 3-0.5 3 0.5 3 3 3 2 3-1.5 3-1.5 3 3 3 3 3-1 3-1.5 3 2 3 2 3-0.5 3 0.5 3 1 3 0 3 0 3 2 3 1.5 3-1 3 0.5 3 1.5 3 0.5 3 0.5 3 1.5 3-0.5 3-0.5 3 2 3 3 3-1 3-2.5 3 2 3 4 3-0.5 3-2 3 0.5 3 2 3 1 3 0.5 3-1.5 3-1 3 2.5 3 3 3-1.5 3-3 3 1.5 3 4 3-0.5 3-2 3 0.5 3 2 3 0.5 3 0 3 0.5 3-0.5 3 0 3 2 3 0.5 3-1 3 0 3 1.5 3 0.5 3-0.5 3 1.5 3 0.5 3-1.5 3 1 3 2.5 3 0 3-2 3 0.5 3 3 3 0.5 3-1.5 3-0.5 3 1 3 1.5 3 1.5 3-0.5 3-2 3 1 3 3.5 3 0.5 3-3 3 0 3 3.5 3 1 3-2" stroke="#006eff"/><path d="M66 133l3-2 3 0 3-7.5 3-11.5 3-6 3-1 3-4 3-8 3-5 3 1.5 3-1.5 3-6 3-1 3 5.5 3 2.5 3-3 3 0.5 3 8 3 4.5 3-3 3-1 3 8 3 7.5 3-2 3-3.5 3 6 3 10 3 1.5 3-4.5 3 2.5 3 10 3 5.5 3-2.5 3-1 3 8 3 7.5 3 0.5 3-2 3 4 3 8 3 3 3-1 3 2 3 5.5 3 3.5 3 0 3 0.5 3 2 3 2.5 3 0.5 3 1 3 1.5 3 1 3 1 3 1.5 3 2 3 0.5 3 0 3 1.5 3 2 3 1 3-0.5 3 0 3 2 3 1.5 3-0.5 3-0.5 3 1 3 1.5 3 0 3 0 3 0 3 1 3 1 3 0 3 0.5 3 0 3 0.5 3 1 3 1 3 0 3-0.5 3 0.5 3 2.5 3 0.5 3-1.5 3-0.5 3 2.5 3 2.5 3-1.5 3-1.5 3 1.5 3 4 3 0 3-2.5 3 0.5 3 4 3 2 3-2 3-1 3 3 3 3.5 3-0.5 3-1.5 3 2 3 4 3 0.5 3-1 3 1.5 3 3 3 1.5 3-0.5 3 1 3 3 3 1.5 3-0.5 3 1.5 3 3 3 1.5 3-0.5 3 0.5 3 3.5 3 2.5 3-1 3-0.5 3 3 3 3.5 3 0 3-2 3 2 3 4 3 1 3-2 3-0.5 3 3.5 3 2 3-1.5 3-1.5 3 2 3 2.5 3 0 3-2 3 0 3 2 3 1 3-1 3-1 3 1 3 0.5 3 0 3-0.5 3-0.5 3 0 3 0 3 0.5 3-0.5 3-1 3-0.5 3 0.5 3 0.5 3-1 3-1 3 0 3 1 3-0.5 3-1.5 3-0.5 3 1 3 0 3-1 3-0.5 3 0 3 0.5 3-0.5 3-0.5 3 0.5 3 0 3-0.5 3 0.5 3 0.5 3-0.5 3-0.5 3 0.5 3 1.5 3 0" stroke="#0074ff"/><path d="M66 147l3-4.5 3-12 3-9.5 3-1.5 3-1 3-7.5 3-9.5 3-4.5 3-2 3-4 3-2 3 2 3 0 3-4 3-1 3 5.5 3 4 3-0.5 3 2 3 5.5 3 2 3-3.5 3 1.5 3 8.5 3 6 3-1.5 3-2 3 3 3 4.5 3 4 3 4.5 3 4 3 0 3-2 3 4.5 3 9 3 4.5 3-1.5 3-0.5 3 5 3 5 3 2.5 3 3 3 3.5 3 1 3-0.5 3 1.5 3 4.5 3 1.5 3-0.5 3 1 3 2.5 3 0.5 3-0.5 3 2.5 3 4 3 1.5 3-2 3 0 3 3 3 2.5 3 1 3 1 3 0 3-0.5 3 0 3 3 3 3.5 3-0.5 3-2.5 3 0.5 3 3 3 2 3 0 3 0.5 3 1 3 0 3 0 3 2 3 2.5 3 0 3-0.5 3 1.5 3 1.5 3 0.5 3 0 3 2.5 3 2.5 3-0.5 3-1.5 3 1.5 3 3 3 1.5 3 0 3 0.5 3 0.5 3 0 3 1.5 3 3.5 3 1.5 3-1.5 3-1.5 3 2.5 3 3.5 3 0.5 3-1 3 0.5 3 1 3 0 3 1 3 2 3 1 3-1 3-0.5 3 1.5 3 1.5 3 0 3 0.5 3 2 3 0.5 3-1.5 3-0.5 3 2.5 3 3 3-0.5 3-1 3 0 3 1 3 1 3 1.5 3 2 3-1 3-2 3 0 3 3 3 2.5 3-1.5 3-1.5 3 0.5 3 1.5 3 0 3 0.5 3 1.5 3 0 3-1.5 3 0.5 3 2 3 0.5 3-0.5 3 0 3 1.5 3 0 3-1.5 3 1 3 2.5 3 1 3-1.5 3-1 3 1 3 1.5 3 1 3 0.5 3 0.5 3-1 3-1 3 2 3 3 3 0.5 3-2 3-1 3 2 3 1.5 3 0 3 0.5 3 0.5 3 0 3-0.5 3 1 3 2 3 0 3-0.5 3 0.5 3 1 3 0 3-1" stroke="#007aff"/><path d="M66 140.5l3-2.5 3-3 3-8 3-9 3-3.5 3-3.5 3-9 3-9 3-0.5 3 4 3-2 3-8 3-5 3 3 3 6.5 3 4 3 0.5 3-2.5 3 0 3 5.5 3 7.5 3 2.5 3-2.5 3 1 3 5.5 3 4 3 0.5 3 3 3 6.5 3 3 3-1.5 3 1 3 8.5 3 8 3 0 3-2.5 3 2.5 3 8 3 6 3 1.5 3 0.5 3 2 3 3.5 3 4.5 3 3.5 3 1.5 3-0.5 3 1 3 2.5 3 1.5 3 1 3 2 3 2.5 3 0 3-2 3 2.5 3 5 3 2 3-2.5 3-1.5 3 3 3 3.5 3 1 3-2 3 0 3 1 3 1.5 3 0.5 3 0.5 3 0.5 3 0 3 0 3 0.5 3 1 3 1 3 1 3 0 3-1 3-0.5 3 2.5 3 3.5 3-0.5 3-3 3 0 3 3.5 3 3 3-1 3-1.5 3 1 3 2 3 1 3 0 3 1.5 3 1.5 3 0 3 0 3 1.5 3 3 3 1.5 3 0.5 3 0 3 0.5 3 2.5 3 3.5 3 2 3-1 3-1 3 2.5 3 4 3 2 3-1.5 3 0.5 3 2.5 3 2.5 3 0 3 1 3 3 3 1.5 3-1 3 0 3 3 3 3 3 0.5 3-1 3 0 3 2 3 2.5 3 1.5 3 0 3-1 3 0 3 2 3 2 3-0.5 3-1.5 3 0 3 1.5 3 0 3-1 3 0.5 3 1.5 3-1 3-2.5 3 0 3 2.5 3 1 3-2.5 3-2.5 3 0 3 2 3 0.5 3-1.5 3-1.5 3-0.5 3 0 3 0.5 3 0.5 3-1 3-1.5 3 0.5 3 0.5 3-0.5 3 0 3 1 3 0.5 3-1.5 3-1.5 3 1.5 3 3 3 0 3-2.5 3-1 3 3 3 2.5 3 0 3-1 3 0 3 1.5 3 1 3 1 3 1.5 3 0.5 3 0.5 3 0.5 3 1" stroke="#0080ff"/><path d="M66 134.5l3-6 3-8 3-5.5 3-2.5 3-5.5 3-9.5 3-7 3-0.5 3-0.5 3-5.5 3-6 3-0.5 3 1 3 0.5 3 1 3 2 3 0 3 0.5 3 4.5 3 5.5 3-0.5 3-3 3 3.5 3 8 3 2 3-3.5 3 1 3 7.5 3 4.5 3-0.5 3 1 3 5.5 3 3.5 3 2 3 3.5 3 4.5 3 1 3 1 3 6 3 6 3 0.5 3-1 3 5 3 7 3 1.5 3-3 3 2 3 5 3 1.5 3-1 3 0.5 3 3 3 1.5 3 0 3 2.5 3 2 3-0.5 3 0.5 3 3 3 3 3-1 3-1 3 2.5 3 3.5 3 0 3-2 3 1 3 3 3 1 3-0.5 3 0.5 3 1.5 3 0.5 3 1 3 1.5 3 0.5 3-0.5 3 0.5 3 2.5 3 1.5 3-1.5 3-1 3 2 3 2.5 3 1 3-1.5 3 1 3 2 3 0.5 3 0 3 0.5 3 0.5 3 0.5 3 1.5 3 1 3-0.5 3 0 3 1 3 2 3 0.5 3-0.5 3 0 3 1.5 3 1.5 3 0.5 3-0.5 3 0 3 1.5 3 1.5 3 0.5 3-0.5 3 0 3 1.5 3 1.5 3 0 3 0 3 0.5 3 1 3 1 3 0.5 3 0.5 3 0 3 0.5 3 1.5 3 1.5 3-0.5 3-0.5 3 1 3 2.5 3 0.5 3-1.5 3 0 3 2 3 1.5 3-1 3-0.5 3 1 3 1 3 0 3 0 3 0.5 3 0 3-0.5 3 1.5 3 1.5 3-1 3-1.5 3 1.5 3 3 3-0.5 3-2 3 0 3 3 3 0.5 3-1.5 3 0 3 1.5 3 0.5 3 0 3 0.5 3 1 3-0.5 3 0 3 1.5 3 2 3-1 3-1.5 3 2 3 2.5 3-0.5 3-2 3 1 3 2.5 3 0.5 3-1 3 0.5 3 1 3 0.5 3 0 3 1 3 1 3-1 3 0 3 2 3 1.5" stroke="#0085ff"/><path d="M66 136.5l3-5.5 3-9 3-4 3-7.5 3-10.5 3-0.5 3 0.5 3-10 3-7.5 3-0.5 3-2.5 3-0.5 3 3 3-2.5 3-3 3 3.5 3 3 3 2.5 3 6 3 0 3-5 3 5 3 8.5 3-0.5 3 1.5 3 5.5 3-1.5 3-1 3 9.5 3 6.5 3-1.5 3 2 3 4.5 3 2 3 5 3 6.5 3 1.5 3 0.5 3 4 3 3.5 3 4.5 3 6.5 3 1 3-1.5 3 5 3 4 3 0 3 3.5 3 3 3-3 3 0 3 6.5 3 2 3-1 3 1.5 3 1.5 3 0 3 3 3 3 3 0.5 3-0.5 3 1 3 0.5 3 2 3 2.5 3-1 3-1 3 2 3 0.5 3 0 3 3 3 0.5 3-3 3 0.5 3 3.5 3 0.5 3-1 3 1.5 3-0.5 3-1.5 3 2 3 2 3-1 3-0.5 3-0.5 3-0.5 3 1.5 3 1.5 3-1 3-1 3 1 3-0.5 3 0 3 3 3 0 3-3 3 1.5 3 2.5 3-0.5 3 0.5 3 2 3-1 3-1 3 2.5 3 2 3-0.5 3 0.5 3 0 3-0.5 3 2 3 2 3-0.5 3 0.5 3 0.5 3-0.5 3 1 3 3.5 3-0.5 3-2 3 2 3 1.5 3-0.5 3 1.5 3 2 3-1.5 3-1 3 3 3 1.5 3 0 3 1 3-0.5 3-0.5 3 2 3 2 3 0 3 0.5 3 0.5 3-1 3 2.5 3 3 3 0 3-0.5 3 2 3 1 3 0 3 3.5 3 2 3-2 3 0.5 3 2.5 3 1.5 3 0.5 3 1.5 3 0 3-0.5 3 2 3 1.5 3 0.5 3 1 3 0 3-1 3 2.5 3 2 3-1 3 0 3 1.5 3-1 3 0 3 3 3 0.5 3-2.5 3 0 3 1.5 3-0.5 3 0.5 3 1 3-1.5 3-1.5 3 1 3 0.5 3 0 3 0.5 3-2 3-1.5 3 1" stroke="#008bff"/><path d="M66 145l3-9 3-7.5 3-4.5 3-6.5 3-7.5 3-2.5 3-1 3-7.5 3-10.5 3-2.5 3 4 3 1.5 3-3.5 3 0 3 2.5 3-1 3-1.5 3 6 3 9.5 3 2 3-4 3 0 3 6 3 4.5 3 1.5 3 4.5 3 5.5 3 0.5 3-2.5 3 3.5 3 9 3 5.5 3 0.5 3 1.5 3 4 3 2.5 3 1.5 3 4.5 3 7.5 3 3 3-1.5 3 0.5 3 5.5 3 4.5 3 1.5 3 1.5 3 3 3 0 3-2 3 1 3 4.5 3 3 3-1 3-1 3 1.5 3 1 3 0 3 1.5 3 3 3 1 3-2 3-1 3 2 3 2 3 0 3-0.5 3 1 3 0 3-1.5 3 0.5 3 2.5 3 2 3-1 3-1.5 3 1 3 1.5 3 0 3 0.5 3 2 3 1 3-2 3-0.5 3 2 3 3 3 0 3-0.5 3 1.5 3 1 3 0 3 0.5 3 3 3 3 3-0.5 3-0.5 3 1.5 3 3 3 1.5 3 1 3 2.5 3 2.5 3 0 3 0 3 3 3 4 3 1.5 3 0 3 1.5 3 2 3 1 3 0.5 3 3 3 2.5 3 0 3-1 3 1.5 3 3 3 1 3 0 3 1.5 3 1.5 3-1 3-0.5 3 1.5 3 2.5 3 0 3-1.5 3 0 3 1.5 3-0.5 3-0.5 3 0.5 3 1.5 3-1.5 3-2.5 3-0.5 3 1.5 3 0 3-2 3-0.5 3 0 3-1.5 3-1.5 3 0 3 1 3-0.5 3-2.5 3-1 3 1 3-0.5 3-1.5 3 0 3 1 3-0.5 3-2 3-0.5 3 2 3 0.5 3-1 3-0.5 3 1.5 3 0.5 3-0.5 3 1 3 2 3 1 3-1 3 0.5 3 2.5 3 1.5 3 0 3 1 3 2.5 3 1 3 0 3 1 3 3 3 2 3 0.5 3 0.5 3 2.5 3 2 3 0.5 3 1 3 2.5 3 1.5" stroke="#0091ff"/><path d="M66 146.5l3-8.5 3-9 3-3.5 3-3 3-8 3-9 3-4.5 3-2 3-3 3-4 3-3.5 3-2 3-0.5 3 2 3 2 3-0.5 3-1 3 4 3 5.5 3 0.5 3-3 3 2.5 3 7.5 3 2.5 3-3.5 3 0 3 7 3 5 3-1.5 3-1 3 5.5 3 7 3 0.5 3-1 3 4 3 6 3 2.5 3 0 3 3 3 4.5 3 3 3 1.5 3 2.5 3 3.5 3 2 3 0.5 3 2.5 3 2 3 0 3 0 3 2.5 3 2.5 3 0 3-0.5 3 2 3 3.5 3 0.5 3-1 3 2 3 3 3 1 3-0.5 3 0.5 3 2.5 3 1.5 3-0.5 3 0.5 3 2 3 1.5 3 0 3 0.5 3 2 3 1 3 0.5 3 0.5 3 2 3 1 3 0 3 0.5 3 2.5 3 1 3-1 3 0.5 3 2.5 3 1.5 3-1 3 0 3 2.5 3 2.5 3-0.5 3-1 3 2 3 2.5 3 0.5 3-1 3 1 3 2.5 3 0.5 3 0 3 0.5 3 1.5 3 1 3 0 3 1 3 0.5 3 0.5 3 0.5 3 1 3 1 3-1 3 0 3 2 3 1.5 3-1.5 3-1 3 1.5 3 2.5 3-0.5 3-2.5 3 1 3 2.5 3 0.5 3-2.5 3-0.5 3 2.5 3 1.5 3-1.5 3-1.5 3 1.5 3 2 3-0.5 3-1.5 3 0.5 3 1 3 0.5 3-0.5 3-0.5 3 0 3 0.5 3 1 3 0 3-0.5 3-0.5 3 1 3 1.5 3-0.5 3-1.5 3 1 3 2.5 3 0.5 3-2.5 3-0.5 3 2.5 3 2 3-1.5 3-2 3 2 3 3 3-0.5 3-2 3 0.5 3 3 3 1 3-1 3-0.5 3 2 3 1.5 3 0 3-0.5 3 1 3 1.5 3 1 3 0.5 3 0 3 0.5 3 1 3 2 3 0.5 3-0.5 3 0.5 3 2.5 3 2 3-0.5 3-1 3 2" stroke="#0097ff"/><path d="M66 137.5l3-3 3-4.5 3-8.5 3-6.5 3-4 3-7 3-7 3-1.5 3-3 3-5.5 3-2 3 1 3-3.5 3-0.5 3 5 3 0.5 3-2.5 3 4.5 3 5 3-1.5 3 0 3 5.5 3 2.5 3-0.5 3 2.5 3 3.5 3 1.5 3 2.5 3 3 3 1 3 4 3 5.5 3 1 3 0 3 6 3 5.5 3-0.5 3 1.5 3 6.5 3 4 3 0 3 2.5 3 5 3 2.5 3 1.5 3 1.5 3 1 3 2.5 3 2.5 3-1 3 0 3 4 3 2.5 3-2 3 0.5 3 4.5 3 1.5 3-1.5 3 1 3 3.5 3 1 3-0.5 3 1 3 1.5 3 1 3 1 3-0.5 3 0.5 3 2.5 3 1.5 3-2 3 0.5 3 3.5 3 1 3-2 3 1.5 3 2.5 3 0 3-0.5 3 0.5 3 1.5 3 0.5 3 0 3 0 3 0.5 3 2 3 0.5 3-1.5 3 1 3 2.5 3 0 3-1.5 3 1.5 3 2 3-0.5 3-1 3 1.5 3 1.5 3 0 3 0 3 0.5 3 0.5 3 1 3 1 3-1 3 1 3 2 3 0 3-1 3 1.5 3 2 3-0.5 3 0 3 1.5 3 1 3-0.5 3 1 3 1 3 0 3 1 3 1 3 0 3 0 3 2 3 0 3 0 3 1 3 1.5 3-0.5 3 0.5 3 1.5 3 0 3-0.5 3 1 3 1 3-1 3 0.5 3 1.5 3-0.5 3-0.5 3 1 3 1 3-0.5 3 0.5 3 0.5 3 0 3 0.5 3 0.5 3-0.5 3 0 3 1.5 3 0.5 3-1 3 0.5 3 2 3-0.5 3-1 3 1 3 1.5 3 0 3-0.5 3 1 3 1 3 0.5 3 0.5 3 0 3 0.5 3 2 3 0 3-1.5 3 1.5 3 2.5 3-1 3-1 3 2 3 2 3-1 3-0.5 3 1.5 3 1 3 0.5 3 0 3 0 3 1 3 1" stroke="#009dff"/><path d="M66 136.5l3-1 3-5 3-9 3-9 3-6 3-4 3-3.5 3-4 3-4 3-3 3-3 3-3 3-1.5 3 2 3 4 3 3 3-1 3-2 3 0.5 3 5.5 3 7 3 3 3-2.5 3-2.5 3 2 3 6.5 3 6.5 3 2 3-1.5 3-0.5 3 4.5 3 6.5 3 5 3 2 3 0.5 3 1.5 3 4.5 3 4.5 3 3.5 3 2 3 3 3 3 3 3 3 2 3 1.5 3 2.5 3 3 3 1.5 3 0 3-0.5 3 1.5 3 3 3 3 3 0.5 3-1 3 0 3 2 3 3.5 3 2 3 0 3-0.5 3 0 3 2 3 2.5 3 0.5 3-0.5 3 0 3 1 3 1.5 3 1.5 3 0 3-0.5 3 1 3 1.5 3 1 3 0 3 0 3 0.5 3 1.5 3 0.5 3 0 3-0.5 3 0 3 1.5 3 1.5 3 0.5 3-1 3 0.5 3 1 3 1.5 3 0 3-0.5 3-0.5 3 1 3 2 3 0.5 3-0.5 3-0.5 3 0.5 3 2 3 1 3 0 3-0.5 3-0.5 3 1.5 3 2 3 1 3-0.5 3-1 3 1 3 1.5 3 1.5 3 0 3 0 3 0 3 1 3 1 3 0.5 3 0.5 3 0.5 3 1 3 0.5 3 0 3 0.5 3 0.5 3 1.5 3 1.5 3-0.5 3-0.5 3 0 3 1.5 3 2 3 1 3-1.5 3-1 3 0 3 2 3 2 3 0 3-1 3-1 3 0.5 3 2 3 1.5 3-0.5 3-0.5 3-0.5 3 1 3 1 3 0.5 3 0 3 0.5 3 0 3 0.5 3 0 3 0.5 3 1 3 1 3 0.5 3-0.5 3-0.5 3 1 3 2 3 1.5 3 0.5 3-1.5 3-0.5 3 1.5 3 2.5 3 1.5 3-0.5 3-1 3 0 3 1.5 3 2.5 3 1 3-0.5 3-0.5 3 0.5 3 1 3 1.5 3 0.5 3 0 3 0.5 3 0.5" stroke="#00a3ff"/><path d="M66 134.5l3-3.5 3-14.5 3-3 3 1.5 3-12.5 3-8.5 3 1 3-6 3-5 3 1 3-6 3-5 3 5 3 1.5 3-4.5 3 1.5 3 4 3 3 3 1 3-2.5 3 2.5 3 8.5 3-1.5 3-4.5 3 7.5 3 4.5 3-3.5 3 4 3 5 3-2 3 5 3 7.5 3-3 3 1 3 10.5 3 1.5 3-3.5 3 6.5 3 6.5 3 0 3 2.5 3 3.5 3 2.5 3 4 3 2 3-0.5 3 2.5 3 2.5 3 0 3 1.5 3 0.5 3 0.5 3 4 3 1.5 3-3 3 3 3 5 3-2 3-1 3 5 3 1 3-1.5 3 3 3 0.5 3-1 3 3 3 1.5 3-2 3 1 3 3.5 3 0 3-0.5 3 1.5 3 1.5 3 1 3 0.5 3-1 3 2 3 2 3-1.5 3 0 3 2 3-0.5 3 1.5 3 8 3-1.5 3-0.5 3 4 3 0 3-3.5 3 3 3 3 3-2.5 3 0 3 2.5 3 0 3 0 3 1.5 3-0.5 3 0 3 2 3 0 3-0.5 3 1 3 1 3 1 3 0 3-0.5 3 1.5 3 2.5 3-1.5 3-1.5 3 4 3 1 3-2.5 3 2 3 1.5 3-1.5 3 2 3 2 3-2.5 3 0.5 3 4 3-1 3-2 3 3 3 1.5 3-1 3 0.5 3 1 3 0.5 3 1 3-0.5 3-0.5 3 2 3 0.5 3-1 3 1 3 0 3 0 3 2 3 0 3-2.5 3 2 3 3 3-3 3-0.5 3 3.5 3-0.5 3-1.5 3 2 3 0 3-0.5 3 1.5 3 0.5 3-1.5 3 1 3 2.5 3-1 3-0.5 3 1 3 1.5 3 0.5 3-0.5 3 0 3 2 3 1.5 3-2 3 1 3 2 3-0.5 3 0.5 3 1.5 3-1 3 0.5 3 3 3-0.5 3-2.5 3 3.5 3 2 3-2.5 3 0.5 3 2.5 3-0.5 3 0" stroke="#00a9ff"/><path d="M66 135l3 1.5 3-7.5 3-12 3-6.5 3-2.5 3-4 3-6 3-5 3-5.5 3-4 3 1.5 3 1.5 3-4.5 3-4.5 3 3.5 3 5.5 3 0 3 0 3 3.5 3 1 3-1.5 3 3.5 3 8.5 3 0.5 3-6.5 3 1.5 3 11 3 4.5 3-5 3 0 3 7.5 3 5.5 3 0 3 2 3 5.5 3 2 3 0 3 4.5 3 7 3 1.5 3-2 3 3.5 3 7 3 3 3 0 3 0 3 2 3 2 3 2.5 3 2 3-1 3-0.5 3 2.5 3 4 3 0.5 3-1.5 3 2 3 2.5 3 0.5 3 1 3 2.5 3 1 3-1.5 3 0.5 3 4 3 2 3-2.5 3-1.5 3 4 3 3.5 3-1.5 3-1 3 2 3 2 3 0 3 0.5 3 2 3 0.5 3-1.5 3 1 3 2.5 3 1 3-2 3 0 3 3.5 3 1.5 3 0.5 3 0 3-0.5 3 0 3 1.5 3 2 3 0 3-2 3 0.5 3 3 3 0.5 3-1 3 0 3 2 3-0.5 3-0.5 3 2.5 3 1.5 3-2 3-1.5 3 3 3 3.5 3-1.5 3-2.5 3 1.5 3 3.5 3 0 3-1.5 3 1 3 1.5 3-0.5 3 0.5 3 2 3 0.5 3-1 3 0 3 2 3 1.5 3-0.5 3-0.5 3 1 3 0.5 3 1.5 3 1 3 0 3-1.5 3 0.5 3 3 3 0.5 3-2 3-0.5 3 2.5 3 1 3-1 3 0 3 1.5 3-0.5 3-1 3 1.5 3 3 3-1 3-3 3 1.5 3 3.5 3 0 3-2.5 3 0 3 2.5 3 0.5 3-0.5 3 0.5 3 1 3-0.5 3 0 3 2 3 1.5 3-1 3-0.5 3 1.5 3 1.5 3 0.5 3 0 3 0 3 0 3 1 3 2 3 1 3-2 3 0 3 2.5 3 2 3-1.5 3-0.5 3 1.5 3 1.5 3-0.5 3 0.5 3 2 3-0.5" stroke="#00afff"/><path d="M66 146l3-4.5 3-12 3-7.5 3-1.5 3-4.5 3-10 3-6 3-2 3-3.5 3-4 3-0.5 3-1 3-5 3 0 3 6 3 2 3-3 3 0.5 3 6 3 2 3-1.5 3 3 3 5 3-0.5 3-1.5 3 4.5 3 6 3-0.5 3-1.5 3 4.5 3 6 3 1.5 3 0.5 3 3 3 3.5 3 2.5 3 4 3 4 3 0 3 0 3 6 3 7 3-0.5 3-2.5 3 4 3 6.5 3 1 3-3 3 0.5 3 3 3 2.5 3 1 3 1 3-0.5 3 0.5 3 4 3 3 3-1 3-2 3 3 3 5 3 0.5 3-2.5 3 0.5 3 3.5 3 2 3 0 3-0.5 3 1 3 1.5 3 2 3 2 3-0.5 3-1 3 2.5 3 3.5 3 0 3-2 3 1 3 3.5 3 1 3-1.5 3 0 3 2 3 1 3 0.5 3 1 3 0 3-0.5 3 1 3 2.5 3 0.5 3-1.5 3 0.5 3 2.5 3 0.5 3-1 3 0.5 3 2 3 0 3-1 3 1.5 3 1.5 3-1 3-1 3 1.5 3 1.5 3-0.5 3-0.5 3 0.5 3 1 3-0.5 3 1 3 0.5 3-0.5 3-1 3 2 3 2 3-1.5 3-2 3 2 3 3 3-0.5 3-2 3 0.5 3 2 3 1 3 0 3 0 3-0.5 3 0.5 3 2 3 1.5 3-2 3-1.5 3 2 3 3.5 3-1 3-3 3 1 3 2.5 3 1 3-1 3-0.5 3 0.5 3 1 3 1 3 1 3-1.5 3-1 3 2.5 3 2.5 3-1 3-2.5 3 1 3 3.5 3 0.5 3-1.5 3 0 3 2 3 1 3 0.5 3 0.5 3 0.5 3 0 3 1.5 3 2 3 0.5 3-1 3 1 3 3 3 0.5 3-1 3 1 3 2 3 0.5 3 0 3 1 3 1.5 3-0.5 3 0 3 2 3 1 3-0.5 3-0.5" stroke="#00b5ff"/><path d="M66 140.5l3 0 3-13 3-8 3 0 3-8 3-6 3-2 3-8.5 3-6.5 3 0.5 3 0 3-1.5 3-2 3 0 3-1.5 3-1 3 8 3 4 3-4.5 3 4 3 2 3-4.5 3 8 3 7 3-6 3 3.5 3 4 3-4.5 3 6.5 3 8.5 3-3 3 2.5 3 5 3-2 3 4.5 3 7.5 3 0.5 3 1 3 3 3 1.5 3 3 3 4.5 3 4 3 0.5 3-0.5 3 3 3 2 3 0 3 4.5 3 0.5 3-4 3 3.5 3 2.5 3-1.5 3 4.5 3 1.5 3-3.5 3 3 3 2.5 3-1 3 3 3 2.5 3-2.5 3 0.5 3 2.5 3 0 3 1.5 3 2 3-1 3 0 3 1.5 3 2 3 1 3 0.5 3 1.5 3-1 3 0 3 3.5 3 0.5 3-1 3 2.5 3-1 3-2 3 4.5 3 5 3-2 3 2.5 3 0 3-2.5 3 3 3 2 3-1.5 3 1.5 3 0.5 3-2 3 1.5 3 2.5 3 0 3 0 3 0 3 0 3 0.5 3 1.5 3 2 3-0.5 3-1 3 2 3-0.5 3 0.5 3 3.5 3-0.5 3-1.5 3 2.5 3 0 3-1 3 4 3 0.5 3-2.5 3 2.5 3 0 3-1 3 3.5 3 1 3-2 3 1 3 0.5 3 0 3 1.5 3 1.5 3-0.5 3-1 3 0.5 3 1 3 0 3 1 3 1 3-2 3-0.5 3 2.5 3-0.5 3 0 3 2.5 3-2 3-1.5 3 3 3 0 3-0.5 3 2.5 3-1.5 3-2 3 3 3 0.5 3-0.5 3 1.5 3 0 3-1.5 3 1 3 1.5 3 0.5 3 0.5 3 0.5 3-0.5 3 0 3 1.5 3 2 3-1 3 0.5 3 1.5 3-1.5 3 1 3 3 3-1 3 0 3 2 3-1.5 3 0 3 4 3-1 3-0.5 3 2 3-1 3 0 3 3 3 0 3-0.5" stroke="#00bbff"/><path d="M66 141l3-6 3-9.5 3-6.5 3-3 3-4.5 3-6 3-7 3-6.5 3-4 3 1 3 2 3-4 3-7.5 3-1 3 7 3 5.5 3-0.5 3-2 3 0.5 3 2.5 3 4.5 3 4.5 3 1 3-2 3 0.5 3 5.5 3 5 3 0.5 3-0.5 3 3 3 5 3 3 3 2 3 3 3 3 3 2.5 3 3.5 3 3.5 3 1.5 3 1.5 3 4 3 5.5 3 1.5 3-0.5 3 2 3 4 3 2.5 3 0.5 3 0 3 0 3 1 3 2.5 3 3 3 0.5 3-2 3 0.5 3 3.5 3 2.5 3 0.5 3-1 3 0.5 3 1.5 3 1.5 3 1.5 3 0.5 3-1 3 0 3 2 3 2 3 0.5 3-1 3 0.5 3 1.5 3 1 3 0.5 3 0.5 3 0.5 3 0.5 3 0.5 3 1 3 0 3-1 3 1 3 2 3 4.5 3-1 3 0 3 1.5 3 1 3 0 3 0 3 0 3 0 3 1.5 3 1.5 3 0 3-1.5 3 0 3 2 3 2 3 0 3-1.5 3 0 3 1 3 1.5 3 1 3 0.5 3-1 3-0.5 3 2 3 2 3 0.5 3-1.5 3 0.5 3 1.5 3 1 3 0.5 3 0 3 0.5 3 0.5 3 0.5 3 1.5 3 0.5 3-0.5 3 0.5 3 2 3 0.5 3-0.5 3 0 3 1.5 3 1.5 3 0 3 0 3 0 3 0.5 3 1 3 1 3 0.5 3-1 3-0.5 3 1.5 3 2.5 3-0.5 3-1 3-0.5 3 1.5 3 1 3 1 3 0 3-1 3-0.5 3 1.5 3 1.5 3 0.5 3-1.5 3-0.5 3 1.5 3 1 3 0.5 3 0 3 0 3 0.5 3 0.5 3 1 3 1 3-0.5 3 0 3 1.5 3 1 3-0.5 3 0 3 1 3 1.5 3 0 3 0 3 0.5 3 0.5 3 1 3 1 3 0.5 3-0.5 3-0.5 3 1.5 3 2 3 0" stroke="#00c1ff"/><path d="M66 159.5l3-9 3-8 3-0.5 3-7 3-13 3-5.5 3-4 3-4 3 0 3-5.5 3-7.5 3 3 3 2 3-4 3 3.5 3 3 3-3 3 3 3 6 3 0.5 3 2.5 3 1.5 3-2 3 6 3 7.5 3-2.5 3-1 3 5.5 3 3.5 3 3 3 4 3-1 3 2.5 3 7 3 2 3 0.5 3 5 3 2 3 0.5 3 5.5 3 4 3 1 3 3 3 1.5 3 1 3 5.5 3 1.5 3-3.5 3 1.5 3 4 3 0.5 3 1 3 1 3-1 3 2.5 3 3 3-0.5 3 0.5 3 2.5 3-0.5 3 1 3 2.5 3 0.5 3-0.5 3 1 3 0 3 1 3 2.5 3-1 3-1.5 3 3 3 2 3-0.5 3 0.5 3 0 3 0 3 3 3 0.5 3-1.5 3 1.5 3 1 3-0.5 3 1.5 3 1.5 3-1 3 0.5 3 1 3 0.5 3 1.5 3 1 3-2 3 1 3 3.5 3 0 3-1 3 1 3 0.5 3 1 3 2.5 3-0.5 3-0.5 3 2 3 1 3-0.5 3 2.5 3 0.5 3-1 3 1.5 3 1.5 3 0.5 3 1 3 0 3-1 3 2.5 3 2.5 3-1 3-0.5 3 1.5 3 1 3 1.5 3 1 3-1 3 0.5 3 2.5 3-0.5 3 0.5 3 2 3-0.5 3-0.5 3 2.5 3 0.5 3 0.5 3 0.5 3-1 3 0.5 3 3 3 0 3-1.5 3 0.5 3 1.5 3 0.5 3 1 3-0.5 3-1 3 2 3 1 3-1 3 1 3 0.5 3-1 3 0.5 3 2 3-0.5 3 0 3 0 3-0.5 3 1.5 3 1.5 3-1.5 3-1 3 2 3 1 3 0 3 0.5 3-0.5 3 0 3 2 3 0 3-0.5 3 1 3 0 3-0.5 3 1.5 3 1 3-1 3 0.5 3 0 3 0.5 3 1.5 3 0.5 3-2 3 1 3 2 3 0 3-0.5" stroke="#00c7ff"/><path d="M66 128l3-6.5 3-3 3-2.5 3-8 3-10 3-5 3-0.5 3-3 3-7.5 3-5.5 3 1 3 2 3-3.5 3-4 3 2 3 6 3 1 3-2.5 3 0.5 3 5.5 3 4 3-0.5 3-1 3 3.5 3 5 3 1.5 3-0.5 3 2 3 5.5 3 4 3 1 3 2 3 4.5 3 5 3 2.5 3 1.5 3 3 3 5.5 3 3.5 3 2 3 2 3 4.5 3 4 3 2.5 3 1 3 2 3 3 3 2 3 0.5 3 0.5 3 2.5 3 2 3 1 3 0.5 3 1.5 3 2 3 1.5 3 1 3 0.5 3 2 3 1.5 3 0.5 3 0.5 3 1 3 1 3 1 3 0 3 0.5 3 1 3 1 3 0.5 3 0 3 0.5 3 1 3 1 3 0 3 0 3 1 3 0.5 3 0 3-0.5 3 0 3 0.5 3 1 3 3.5 3 0 3 0.5 3 1 3 0 3 0 3 0 3 1 3 0.5 3 0.5 3-0.5 3 0.5 3 1 3 0.5 3 0 3 0 3 1 3 1 3 0 3-0.5 3 1 3 1 3 0.5 3-0.5 3 0.5 3 1 3 1 3 0 3-0.5 3 1 3 1 3 0.5 3-0.5 3 0.5 3 1 3 1 3 0 3 0 3 0.5 3 1.5 3 0 3 0 3 0.5 3 1 3 1 3-0.5 3 0 3 1 3 1 3 0.5 3-0.5 3 0.5 3 1 3 0.5 3 0 3 0 3 1 3 1 3 0 3-0.5 3 0.5 3 1.5 3 0.5 3-0.5 3 0 3 1 3 1.5 3 0 3-0.5 3 0.5 3 1.5 3 0.5 3-0.5 3 0.5 3 1 3 1 3 0 3 0 3 1 3 1.5 3 0.5 3-0.5 3 0.5 3 1 3 1 3 0 3 0 3 1 3 1 3 0.5 3-0.5 3 0.5 3 1 3 1 3 0 3 0 3 1 3 1 3 0.5 3-0.5 3 0.5" stroke="#00cdff"/><path d="M66 143l3-3.5 3-7 3-10.5 3-6 3-2.5 3-7.5 3-5 3-5 3-6.5 3 0.5 3-0.5 3-3 3-2.5 3-3.5 3 5 3 7 3-3.5 3-2.5 3 3 3 4.5 3 5 3-1.5 3-1.5 3 4.5 3 2.5 3 2.5 3 3 3-1 3 2 3 5 3 3.5 3 4 3-0.5 3 0.5 3 7.5 3 4.5 3 0.5 3 1.5 3 2 3 6 3 4 3 0 3 2.5 3 3 3 2 3 4 3 0.5 3 0 3 1.5 3 1 3 3.5 3 1.5 3-2 3 1.5 3 3.5 3 2 3 0.5 3-0.5 3 1.5 3 3 3 1 3 0.5 3 0.5 3 0 3 2 3 1.5 3 0.5 3 0.5 3-0.5 3 1.5 3 3 3 0 3-1 3 1 3 1.5 3 2.5 3-0.5 3-1 3 1.5 3 1 3 0.5 3 0.5 3-1 3 0 3 2 3 0.5 3 1 3-1 3-1 3 2 3 1.5 3-0.5 3-1 3-0.5 3 2 3 1.5 3-1 3-0.5 3 1 3 0 3 1.5 3 0 3-0.5 3 0.5 3 0 3 1.5 3 1.5 3-2 3 0 3 2 3 1 3 0.5 3-1.5 3 0 3 2.5 3 0.5 3 0 3 0 3 0 3 1 3 1.5 3-0.5 3 0.5 3-0.5 3 0.5 3 2.5 3 0 3-1 3 0.5 3 1 3 2 3 0 3-1.5 3 1 3 1.5 3 0.5 3 0.5 3-0.5 3 0 3 1.5 3 0.5 3 1 3 0 3-1.5 3 1.5 3 2 3 0 3-0.5 3-0.5 3 1.5 3 2 3-1 3-0.5 3 1 3 0.5 3 1.5 3 0 3-0.5 3 1 3 0.5 3 1 3 1.5 3-1 3-0.5 3 1.5 3 1.5 3 1 3-1 3-0.5 3 2.5 3 1 3-0.5 3 0.5 3 0 3 1 3 1.5 3-0.5 3 0.5 3 0.5 3 0 3 2 3 0.5 3-0.5 3 0 3 0.5" stroke="#00d3ff"/><path d="M66 157.5l3-6 3-2 3-4.5 3-12 3-13.5 3-4 3 2 3-3.5 3-10.5 3-7 3 2.5 3 3 3-3 3-3.5 3 2.5 3 4 3-0.5 3-1 3 5 3 6.5 3 0 3-4 3 2 3 9 3 5 3-3 3-2.5 3 5 3 7.5 3 3 3-1 3 2 3 5 3 3.5 3 1.5 3 3 3 4.5 3 3 3 0 3 2 3 6 3 5 3 1 3-1 3 2.5 3 4.5 3 3 3-0.5 3-0.5 3 1.5 3 2 3 1.5 3 1.5 3 1 3 0.5 3 0.5 3 1.5 3 2.5 3 1.5 3 0.5 3 0 3 1 3 2 3 1 3 0.5 3 0 3 0 3 1 3 1.5 3 1.5 3 0.5 3-1 3 0 3 2 3 2 3 0.5 3-1 3 0.5 3 1.5 3 1 3 0.5 3 0 3 0.5 3 1 3-0.5 3 1 3 1.5 3 1 3-1 3-0.5 3 1.5 3 3 3 0.5 3-2 3-0.5 3 2.5 3 2 3-0.5 3-0.5 3 1 3 1.5 3 0 3-0.5 3 1.5 3 1.5 3 0 3-1.5 3 0.5 3 3 3 1 3-1.5 3-1.5 3 2 3 2.5 3 0 3-1.5 3 0 3 2 3 1 3-0.5 3 0 3 1.5 3 0.5 3-1 3 0 3 2 3 2 3-1.5 3-1.5 3 1 3 3 3 0.5 3-1 3-1 3 1.5 3 1.5 3 0 3 0 3 0.5 3 0.5 3 0 3 0 3 1.5 3 1 3 0 3-1 3 0.5 3 2 3 1 3-1 3-0.5 3 0.5 3 1.5 3 1 3 0 3 0 3 0 3 0.5 3 1 3 1 3 0.5 3-0.5 3 0 3 1 3 1.5 3 0.5 3 0 3 0 3 0.5 3 1 3 0.5 3 1 3 0.5 3-0.5 3 0 3 1.5 3 2 3 0 3-1 3 0 3 2 3 1.5 3 0 3-0.5 3 0.5" stroke="#00d8ff"/><path d="M66 147l3-4.5 3-7.5 3-5.5 3-7 3-7.5 3-5.5 3-4 3-5.5 3-3.5 3-1 3-4 3-4 3 3 3 2 3-4.5 3 0.5 3 8 3 2.5 3-5 3 1.5 3 8 3 2.5 3-3 3 1 3 5 3 3.5 3 1 3 0 3 1.5 3 5.5 3 5.5 3-1 3-1 3 6 3 7.5 3-1 3-1.5 3 5.5 3 6.5 3 0.5 3-0.5 3 4 3 4.5 3 2 3 1 3 1 3 1 3 2.5 3 2 3-1 3 0.5 3 3 3 1.5 3-1 3 1.5 3 3 3 0 3 0 3 2 3 2.5 3-0.5 3 0.5 3 2 3 1.5 3-0.5 3 0.5 3 1.5 3 1 3 0.5 3 0.5 3 0 3 1.5 3 2.5 3 0 3-1 3 1.5 3 3.5 3 0 3-2.5 3 1.5 3 3 3 0 3-1.5 3 0.5 3 2 3 1 3 0 3-0.5 3 0.5 3 2 3 1 3-1 3-0.5 3 2.5 3 1.5 3-1.5 3-0.5 3 2.5 3 1.5 3-1 3 0 3 1.5 3 0.5 3 0 3 1 3 0.5 3 0 3 1 3 0.5 3 0 3 0.5 3 1 3 0 3-0.5 3 2 3 0.5 3-1.5 3 0.5 3 2 3 0.5 3-2 3 0.5 3 2 3 0.5 3-1.5 3 0 3 1.5 3 0.5 3 0 3-1 3 0 3 1.5 3 1.5 3-1.5 3-1.5 3 2 3 2 3-1.5 3-1.5 3 2 3 2 3-1 3-1 3 1 3 1 3 0 3 0 3 0 3 0.5 3 1 3 1 3-1 3 0 3 2 3 0.5 3-1 3 0.5 3 2 3 0 3-0.5 3 1.5 3 1 3-0.5 3 0 3 2 3 1 3-0.5 3 0 3 1.5 3 1 3 0.5 3 0 3 0 3 1.5 3 2 3 0 3-1 3 1.5 3 2.5 3 0 3-1.5 3 1.5 3 3 3 0 3-1" stroke="#00deff"/><path d="M66 141l3 1 3-5 3-11.5 3-6.5 3-10.5 3-3 3 1 3-8 3-3 3-6.5 3-6.5 3 6 3-0.5 3 0.5 3 1 3-6.5 3 4.5 3 5 3 1 3 6 3-3.5 3-1.5 3 5.5 3 0.5 3 7 3 2 3-3.5 3 3.5 3 1 3 4.5 3 8 3-1 3 2 3 2 3 0.5 3 8.5 3 3 3 1 3 3.5 3-1.5 3 5 3 6 3 1.5 3 4 3-1 3-0.5 3 5 3 1 3 3 3 1 3-2.5 3 2.5 3 1.5 3 2 3 4 3-1.5 3 0.5 3 1.5 3 0.5 3 4 3 1 3-1 3 1.5 3-1 3 2 3 3 3-0.5 3 1 3-0.5 3-0.5 3 3.5 3 0.5 3 1 3 1 3-2 3 2 3 1.5 3 0.5 3 2 3-1.5 3-1 3 1.5 3 0 3 2.5 3 0 3-2 3 1 3-0.5 3 1.5 3 2 3-1 3 0 3-0.5 3-0.5 3 3 3 0 3 0 3 0.5 3-2 3 1.5 3 1.5 3 0 3 1.5 3-1.5 3-0.5 3 2 3 0 3 1.5 3 0.5 3-2 3 1.5 3 0 3 1 3 2 3-1.5 3 0 3 0.5 3-0.5 3 3 3 0 3-0.5 3 0.5 3-1 3 1.5 3 2 3-1 3 1 3-1 3 0 3 2 3 0 3 1 3 0.5 3-1.5 3 1.5 3 1 3 0 3 2 3-1.5 3 0.5 3 1 3 0 3 2 3 0.5 3-1.5 3 1.5 3-0.5 3 1 3 2 3-1 3 1 3 0 3-0.5 3 2.5 3 0 3 0.5 3 0.5 3-1.5 3 2 3 1 3 0 3 1.5 3-1 3 0 3 2 3-0.5 3 2 3 0.5 3-1.5 3 1.5 3 0 3 1 3 2 3-1 3 0.5 3 0.5 3 0 3 2 3 0.5 3-0.5 3 1.5 3-1 3 1.5 3 1 3-0.5" stroke="#00e4ff"/><path d="M66 146.5l3-9 3 0 3-5 3-12.5 3-4.5 3-8.5 3-6 3 2.5 3-5.5 3-7 3-3.5 3 0 3 3 3-2 3 1.5 3-1 3-2 3 10 3 1.5 3-4.5 3 5 3 0 3 2.5 3 7.5 3-1.5 3-1 3 2.5 3 4.5 3 4.5 3 0.5 3 3 3 1.5 3 2 3 8.5 3 1 3-1 3 5.5 3 1.5 3 4 3 6 3 0 3 1 3 4 3 4 3 3 3 0 3 1.5 3 0.5 3 1.5 3 5 3-1 3-1.5 3 4 3 0 3 2.5 3 2.5 3-1.5 3 1 3 2.5 3 2 3 1 3-0.5 3 1.5 3 0 3 1.5 3 3 3-2 3 0 3 2.5 3 0 3 1.5 3 1.5 3-2 3 1 3 2 3 1 3 0.5 3-1 3 1 3 0 3 1.5 3 1.5 3-2 3-0.5 3 2.5 3-0.5 3 1 3 0.5 3-2 3 1 3 1.5 3 0.5 3-0.5 3-0.5 3 1 3 0 3 1 3 1.5 3-3 3 1 3 2 3-1 3 1.5 3 0 3-2 3 2 3 1 3 0.5 3-0.5 3-0.5 3 1 3 0.5 3 1 3 1 3-2.5 3 1.5 3 2 3-1 3 1 3 0 3-1 3 2 3 1 3 0 3-0.5 3 0 3 1.5 3 0 3 1.5 3 0 3-2 3 2.5 3 1.5 3-1 3 1.5 3-0.5 3 0 3 2 3 1 3 0 3-0.5 3 0.5 3 2 3 0 3 1 3 0 3-1 3 2.5 3 1.5 3-1 3 1 3 0 3 0 3 2.5 3 0.5 3-0.5 3 0 3 1 3 1.5 3 0 3 1 3-0.5 3-0.5 3 3 3 0.5 3-1 3 1.5 3-0.5 3 1 3 2 3 0 3-0.5 3 0.5 3 1 3 1.5 3-0.5 3 1 3-0.5 3 0 3 3 3 0 3-1 3 1.5 3-0.5 3 0.5" stroke="#00eaff"/><path d="M66 155.5l3-3 3-7.5 3-6 3-6.5 3-10.5 3-8 3-3 3-1 3-3.5 3-9 3-4.5 3 7 3 1.5 3-8.5 3 0.5 3 7 3 1.5 3 0.5 3 2.5 3 0.5 3 1 3 4.5 3 3.5 3 1.5 3-1 3 0.5 3 8 3 5 3-4 3 0 3 8.5 3 4 3-0.5 3 2.5 3 3 3 3 3 3.5 3 3 3 2 3 1.5 3 2 3 5 3 5 3-1.5 3-1.5 3 6 3 3.5 3-2 3-0.5 3 2 3 2 3 1 3 0.5 3 0.5 3 1 3 1 3 1.5 3 2 3-0.5 3-1 3 3 3 3 3-2 3-1 3 2 3 1.5 3 0 3 0 3 0 3 1 3 1 3 0.5 3 1 3 0 3-1 3 1.5 3 3 3-1 3-2 3 1.5 3 2.5 3-0.5 3-1 3 0 3 1 3 1 3-0.5 3 0 3 0.5 3-0.5 3 0.5 3 2.5 3-0.5 3-2.5 3 1.5 3 3 3-0.5 3-1.5 3 0.5 3 1.5 3 1 3 0 3-1 3 1 3 1 3 0 3 1.5 3 0.5 3-1.5 3 1 3 3 3 0 3-1.5 3 0.5 3 2 3 1.5 3-0.5 3-1 3 1.5 3 1.5 3 0 3 0.5 3 1 3-0.5 3 0.5 3 2.5 3 0.5 3-1.5 3 0.5 3 2 3 1.5 3-0.5 3-0.5 3 1 3 3 3 0 3-0.5 3 1.5 3 0.5 3 0 3 2 3 1.5 3-1.5 3 0.5 3 2.5 3 1 3-0.5 3-0.5 3 1.5 3 2.5 3 0.5 3-1.5 3 1 3 2 3 0 3 0.5 3 1 3-0.5 3 0 3 2.5 3 1 3-1 3-0.5 3 1.5 3 2 3 0.5 3-1.5 3 0 3 2.5 3 0.5 3-0.5 3 1 3 0 3 0 3 1.5 3 1 3-1 3-0.5 3 1.5 3 1.5 3 0.5 3-1.5 3-0.5 3 2.5 3 1" stroke="#00f0ff"/><path d="M66 150l3-1 3-6.5 3-9.5 3-8 3-9.5 3-4.5 3-0.5 3-7.5 3-5 3-3.5 3-5.5 3 4 3 2 3-5.5 3 1.5 3 0 3 0.5 3 8.5 3 0.5 3-3.5 3 4.5 3 0 3 3.5 3 7.5 3-3 3 0 3 4.5 3 0 3 6.5 3 5 3-2.5 3 3.5 3 4 3 1.5 3 7 3 2.5 3-2 3 5.5 3 3 3 3 3 6.5 3-0.5 3 0.5 3 5.5 3 1.5 3 3 3 3 3-2 3 1 3 3 3 1 3 3 3 0.5 3-1 3 2 3 2.5 3 1.5 3 2 3-0.5 3 0 3 2.5 3 1.5 3 1 3 0.5 3-1 3 1 3 1.5 3 1 3 1 3-0.5 3 0 3 1 3 1 3 1.5 3 0.5 3-1 3 0.5 3 1 3 1 3 1 3-1 3-1 3 1.5 3 0 3 1.5 3 0.5 3-2 3 0.5 3 1 3 0 3 1.5 3-0.5 3-2 3 2 3 0.5 3 0 3 1.5 3-2 3-0.5 3 2 3 0 3 0.5 3 1 3-2.5 3 1 3 2 3-0.5 3 1 3 0 3-2 3 2 3 1.5 3-1 3 1.5 3-1 3-0.5 3 2.5 3 0.5 3-0.5 3 1 3-1.5 3 1 3 2 3 0 3 0 3 0 3-0.5 3 1.5 3 1.5 3 0 3 0 3 0 3 0.5 3 2 3 1 3 0 3 0 3 0 3 1.5 3 2 3 0 3 0 3 0 3 1 3 1.5 3 1 3 0.5 3 0 3-0.5 3 1.5 3 1.5 3 0.5 3 0.5 3-0.5 3 0.5 3 2 3 0.5 3 0 3 0.5 3-0.5 3 1 3 2 3 0 3 0 3 0.5 3-1 3 2.5 3 1 3-1 3 1 3-0.5 3 0 3 2.5 3 0 3-0.5 3 1 3-0.5 3 1 3 2 3-1 3 0 3 1 3-1 3 2 3 1" stroke="#00f6ff"/><path d="M66 147.5l3-5.5 3-5.5 3-4 3-8.5 3-9.5 3-3 3-5.5 3-6 3 0.5 3-5.5 3-6.5 3 5.5 3 0 3-7.5 3 4 3 6.5 3-1 3-1 3 1.5 3 5.5 3 3.5 3-3.5 3 2.5 3 7.5 3-1 3-0.5 3 5.5 3 1 3 1.5 3 5.5 3 1 3 0.5 3 5.5 3 3.5 3 0.5 3 2 3 3.5 3 5 3 1 3-0.5 3 5.5 3 5.5 3-2.5 3 2 3 5.5 3 0 3 0 3 2 3 0.5 3 1 3 2 3 0 3 0.5 3 1.5 3 1 3 2 3-0.5 3 0 3 4 3 0.5 3-2 3 2 3 3 3-1.5 3 0 3 1.5 3 1 3 0.5 3 0 3 0.5 3 1.5 3 0 3 0.5 3 1 3 0 3 1 3 2 3-1 3-1 3 3 3 0.5 3-2 3 0.5 3 2 3 0 3-0.5 3-0.5 3 1.5 3 1 3-1 3 0 3 2 3-0.5 3 0 3 1.5 3-1 3 0.5 3 2.5 3-1 3-1 3 2 3 1 3 0 3-0.5 3 1 3 2 3-0.5 3-1 3 2 3 1.5 3-1.5 3 1 3 1.5 3 0 3 0.5 3 1 3-0.5 3 1 3 1.5 3 0 3 0 3 0.5 3 1 3 1 3-1 3 0 3 3 3 0 3-2 3 2 3 1.5 3-0.5 3 0.5 3 1 3 0.5 3 1 3 0.5 3 0 3 1.5 3 0 3 1 3 1 3-1 3 1 3 2.5 3-1 3-1 3 3 3 1 3-1.5 3 0.5 3 1.5 3 0.5 3 0 3 0 3 1 3 1 3-0.5 3 0.5 3 1 3-0.5 3 1 3 1 3-1.5 3 0.5 3 2.5 3-1 3-1 3 1.5 3 1 3 0 3-0.5 3 0 3 2 3 0 3-1.5 3 1.5 3 1 3-1 3 1 3 0.5 3-0.5 3 1 3 1 3-1" stroke="#00fcff"/><path d="M66 156l3 2 3-9.5 3-12.5 3-4 3-8 3-10.5 3 0 3-3 3-11.5 3-2 3 3 3-4 3-2 3 1 3-1 3 1.5 3 4.5 3 1.5 3-0.5 3 0.5 3 3 3 5.5 3 1 3-1 3 3.5 3 2.5 3 0.5 3 6 3 3 3-3 3 4.5 3 8 3-0.5 3 1.5 3 6.5 3 0 3 2 3 8 3 2 3-2 3 6 3 5.5 3 0 3 3.5 3 3.5 3-1 3 2 3 4.5 3 0.5 3-0.5 3 1.5 3 2 3 1.5 3 1.5 3 1 3 0.5 3 1.5 3 1.5 3 2.5 3 0.5 3-1 3 2 3 2 3-0.5 3 0.5 3 1.5 3-1.5 3 1 3 3 3-1 3-1.5 3 2.5 3 0.5 3-1 3 2 3 0.5 3-2 3 1.5 3 2.5 3-1.5 3-1 3 1.5 3-0.5 3 0 3 1.5 3-0.5 3-1 3 0.5 3 1 3 0 3-0.5 3-0.5 3 1 3 0.5 3-0.5 3 1 3 0 3-1.5 3 1 3 2.5 3-2 3-0.5 3 2 3-0.5 3-0.5 3 2.5 3-0.5 3-2 3 2 3 2 3-2 3 0.5 3 1.5 3-1 3 1 3 2 3-1 3-0.5 3 1.5 3 1 3 0 3 0.5 3 0 3 0.5 3 0.5 3 1 3 0.5 3 0 3-0.5 3 1.5 3 1.5 3-0.5 3 0.5 3 1.5 3-0.5 3 1 3 2.5 3-1 3-1 3 3 3 1 3-1 3 1.5 3 1 3-1 3 2 3 2 3-1.5 3 0 3 2 3 0.5 3 0 3 1 3 0 3-0.5 3 1.5 3 1.5 3-0.5 3 0 3 0.5 3 0.5 3 1 3 0 3 0 3 0.5 3 0 3 1 3 1.5 3-1.5 3 0 3 2 3 0 3-0.5 3 1.5 3 0 3-1 3 2.5 3 1 3-1.5 3 0.5 3 2 3-0.5 3 0.5 3 1.5 3-1" stroke="#03fffc"/><path d="M66 148.5l3-7.5 3-7.5 3-7.5 3-5.5 3-4 3-8.5 3-4.5 3-4.5 3-6.5 3 0 3 0 3-2.5 3-2.5 3-4.5 3 4.5 3 7.5 3-2 3-1.5 3 1 3 3.5 3 5.5 3 0 3-0.5 3 3.5 3 0.5 3 2.5 3 5 3 1 3 1.5 3 0 3 3 3 7.5 3 2 3-1 3 2.5 3 3.5 3 5.5 3 3 3-0.5 3 3.5 3 3 3 2 3 4.5 3 1.5 3 1.5 3 1 3 0 3 4.5 3 2 3-2 3 0.5 3 2 3 2.5 3 2 3-1 3 0.5 3 2.5 3 1 3 1.5 3 1 3 0.5 3 1 3 0 3 2 3 2 3-1 3-0.5 3 1.5 3 1.5 3 2 3-1 3-0.5 3 2 3 1 3 1 3 1 3-0.5 3 1 3 0.5 3 0 3 2 3-0.5 3-1.5 3 1 3 1 3 1.5 3-0.5 3-1.5 3 1 3 2 3 0 3 0 3-0.5 3 0.5 3 1 3 0 3 1 3 0.5 3-1.5 3 0.5 3 1.5 3 1 3 0.5 3-2 3 0.5 3 2 3 0.5 3 0 3-0.5 3 0 3 1.5 3 0.5 3 0 3 1 3-1 3 0 3 1.5 3 0.5 3 1 3-1.5 3-0.5 3 2 3 1 3 0 3-0.5 3-0.5 3 1.5 3 0.5 3-0.5 3 1 3 0 3-0.5 3 1.5 3 1 3 0.5 3 0 3-1 3 2 3 2 3-0.5 3 0 3-0.5 3 1.5 3 1.5 3 0 3 0 3 0.5 3 0 3 1.5 3 0.5 3 0.5 3 0.5 3-1 3 1 3 2.5 3 0 3-0.5 3 0 3 0.5 3 2.5 3-0.5 3-0.5 3 1 3 0 3 1 3 1 3 0 3 0.5 3 0 3 0 3 2.5 3 0.5 3-0.5 3-0.5 3 0.5 3 2 3 1 3-1 3 0.5 3 1 3 0.5 3 1.5 3 0 3 0 3 0.5" stroke="#09fff6"/><path d="M66 148l3-1.5 3-5.5 3-8.5 3-7 3-8 3-8 3-3 3-2 3-5 3-5 3-1.5 3-2.5 3-1 3 4.5 3 2 3-5 3-2 3 9.5 3 7 3-5 3-4 3 6.5 3 8 3 0 3-2 3 2.5 3 3 3 3.5 3 3.5 3 2 3 0.5 3 3 3 5 3 2.5 3 1.5 3 3.5 3 3 3 0.5 3 3.5 3 6.5 3 2.5 3-2.5 3 2.5 3 7.5 3 3.5 3-3 3-0.5 3 4 3 3 3 0.5 3 0 3 0 3 1.5 3 2.5 3 2 3-0.5 3 0 3 2 3 2 3 0.5 3 0.5 3 2 3 0 3-1 3 2 3 3 3-1 3-2 3 1 3 3.5 3 0.5 3-1.5 3 0 3 1.5 3 1.5 3 1 3 0 3-1 3 0.5 3 2.5 3 0 3-1.5 3 0 3 1.5 3 0 3-0.5 3 1.5 3 1 3-1.5 3-1 3 2.5 3 1.5 3-1.5 3-1.5 3 1.5 3 2 3 0 3-1 3-0.5 3 0.5 3 1.5 3 1 3-1 3-1.5 3 1.5 3 2 3-0.5 3-1 3 1 3 1 3-0.5 3 0 3 2 3 0.5 3-2 3 0 3 2.5 3 1 3-1.5 3-0.5 3 1 3 1.5 3 0.5 3 0 3-1 3 0 3 2.5 3 1 3-2 3-0.5 3 2 3 1.5 3-0.5 3 0 3 1.5 3 0.5 3-0.5 3 1.5 3 2 3-0.5 3-1 3 1 3 2 3 1 3-0.5 3 0 3 0.5 3 1.5 3 2 3-0.5 3-1.5 3 1 3 3 3 0.5 3-1.5 3 0.5 3 2 3 1 3-0.5 3 0.5 3 1.5 3-0.5 3 0 3 1.5 3 1.5 3-0.5 3-0.5 3 1 3 1 3 1 3 0.5 3-1 3 0 3 2.5 3 1.5 3-1 3-1.5 3 2 3 2.5 3-0.5 3-1 3 1 3 1.5 3 0 3 0" stroke="#0ffff0"/><path d="M66 150l3-4 3-6 3-5 3-9.5 3-10 3-3 3-4.5 3-6 3-1.5 3-5.5 3-5 3 5.5 3-1 3-8.5 3 6.5 3 5.5 3-4.5 3 4 3 4.5 3-4.5 3 6 3 7.5 3-5.5 3 1 3 8.5 3 0 3 0 3 5 3 0.5 3 2.5 3 6.5 3 1 3 0.5 3 5 3 3.5 3 3 3 2.5 3 1 3 4.5 3 5 3 0 3 3 3 4 3 1 3 3.5 3 3.5 3-2.5 3 1 3 6 3-1.5 3-1 3 4 3 0.5 3 0 3 3.5 3 0 3-1.5 3 4 3 2 3-1.5 3 1.5 3 2 3-0.5 3 1.5 3 0.5 3-1 3 1.5 3 1.5 3 0 3 0 3 0 3 1 3 2 3-0.5 3-1 3 2.5 3 0 3-0.5 3 1.5 3-0.5 3-1 3 2.5 3 0.5 3-3 3 2 3 1.5 3-2 3 1 3 1 3-2 3 1.5 3 2 3-2 3-0.5 3 2 3 0 3-0.5 3 0.5 3-0.5 3 0.5 3 1 3-0.5 3-0.5 3 0.5 3 0.5 3 1 3-0.5 3-1 3 1.5 3 1.5 3-1.5 3 0 3 1.5 3-1 3 1 3 1.5 3-2.5 3 0.5 3 3 3-1 3-1.5 3 2 3 0 3-0.5 3 2 3-0.5 3-1.5 3 2 3 1 3-1.5 3 1 3 1 3 0 3 1 3 0.5 3-0.5 3 1.5 3 1 3 0 3 1 3 0 3 0.5 3 2.5 3-1 3-0.5 3 2.5 3 0.5 3-0.5 3 2 3 0 3-0.5 3 2.5 3 1 3-2 3 2 3 2 3-1 3 1 3 1 3-0.5 3 1 3 2 3-1 3 0.5 3 1.5 3 0.5 3 0.5 3 0.5 3 0 3 1.5 3 1 3-0.5 3 1 3 0.5 3 0.5 3 1.5 3 0.5 3-1 3 1.5 3 2 3-1.5 3 1 3 1.5 3-1 3 1" stroke="#15ffea"/><path d="M66 158l3-8 3-10 3-6 3-3.5 3-7 3-10 3-7 3-2 3-1.5 3-4.5 3-4.5 3-0.5 3 1.5 3-1 3-2 3 2.5 3 6 3 2 3-2.5 3-0.5 3 5.5 3 6.5 3 1.5 3-3 3 0 3 6 3 6 3 1.5 3-1 3 1.5 3 5 3 5 3 2.5 3 1.5 3 2 3 2.5 3 3.5 3 4.5 3 3.5 3 1.5 3 0.5 3 3 3 5.5 3 4.5 3-0.5 3-2 3 2 3 4.5 3 3 3-1.5 3-2 3 2 3 4 3 2 3-1 3-1 3 2 3 3 3 1 3 0 3 0.5 3 1 3 1 3 0.5 3 0.5 3 0.5 3 0.5 3 0 3 0 3 1.5 3 1.5 3 0 3-1 3 0.5 3 2 3 1 3-0.5 3-0.5 3 1 3 1 3 0 3 0 3 0 3 0.5 3 0 3 0 3 0.5 3 1.5 3 0 3-1 3-0.5 3 1.5 3 2 3-0.5 3-2 3-0.5 3 2.5 3 2 3-0.5 3-2.5 3 0 3 2 3 2 3-0.5 3-1.5 3 0 3 1.5 3 1 3 0 3-0.5 3 0 3 0 3 1 3 1 3 0 3-0.5 3-0.5 3 0.5 3 1.5 3 1 3-1 3-1.5 3 1 3 2 3 0.5 3-1 3-1 3 1 3 1.5 3 0.5 3-1 3 0 3 1 3 1 3 0 3 0 3 1 3 1 3 0 3 0 3 1 3 1.5 3 0.5 3-0.5 3-0.5 3 1.5 3 2 3 0 3-0.5 3 0 3 1.5 3 1.5 3 0 3 0 3 0.5 3 0.5 3 1 3 1 3 0.5 3 0.5 3 0 3 0.5 3 1.5 3 1.5 3-0.5 3-0.5 3 0.5 3 2 3 2 3-0.5 3-1.5 3 0.5 3 2.5 3 2 3-1 3-1 3 1 3 2 3 1.5 3-0.5 3-0.5 3 0.5 3 1.5 3 1 3 0" stroke="#1bffe4"/><path d="M66 145l3-5 3-10.5 3-2.5 3-9 3-8.5 3 0.5 3-10 3-5 3-5.5 3 0.5 3 4 3-12 3-0.5 3 4 3 1 3 4 3-4.5 3 5.5 3 1 3-2 3 8.5 3 0.5 3 1 3-1 3 1.5 3 10.5 3-2.5 3 0 3 4 3 3 3 6 3-0.5 3 4.5 3 4 3-1.5 3 7 3 3.5 3 3.5 3 1 3-0.5 3 9 3 2.5 3 0.5 3 2.5 3 1 3 4.5 3-0.5 3 1.5 3 3.5 3-3 3 2 3 2 3 2.5 3 1 3-3 3 3.5 3 2 3 0 3 1.5 3-1 3 2.5 3 0 3 0.5 3 2.5 3-1.5 3 0 3 0.5 3 1.5 3 2.5 3-3 3 1 3 2 3 0 3 1.5 3-1 3 1.5 3 0.5 3-1 3 3 3-0.5 3-0.5 3-0.5 3 0.5 3 3 3-2 3-0.5 3 1.5 3 0 3 1.5 3-1 3 1 3 0.5 3-2 3 2.5 3 1 3 0 3-0.5 3-1 3 3.5 3 0 3-1.5 3 1 3-0.5 3 2 3-0.5 3 0.5 3 1.5 3-2.5 3 1.5 3 1 3 1 3 0 3-2.5 3 2.5 3 1 3-1 3 0.5 3-1 3 1.5 3-0.5 3 0 3 2 3-2 3 0 3 0.5 3 1 3 1 3-2.5 3 0.5 3 1.5 3-0.5 3 1 3-1 3 1 3 0.5 3-1 3 3 3-0.5 3-0.5 3 0.5 3 0.5 3 3 3-1.5 3-0.5 3 2 3 0 3 1.5 3-0.5 3 1 3 0.5 3-1 3 2.5 3 1 3 0 3 0 3 0 3 3 3 0 3-0.5 3 1.5 3 0 3 2 3 0 3 1 3 1.5 3-1.5 3 1.5 3 2 3 0.5 3 0.5 3-1.5 3 3 3 1 3-0.5 3 1.5 3-0.5 3 1.5 3 0.5 3 0.5 3 2 3-1.5 3 0.5 3 1.5 3 0.5 3 1" stroke="#21ffde"/><path d="M66 153.5l3 0.5 3-12 3-9.5 3 0 3-12.5 3-9 3-3 3-2.5 3-5 3-8 3 3 3-4 3-2 3 5 3-8.5 3 7 3 6.5 3-9.5 3 5.5 3 5 3-1.5 3 2.5 3-0.5 3 3.5 3 2 3 1.5 3 1 3-1 3 9 3 0 3-3.5 3 10 3 0.5 3 0.5 3 6 3-0.5 3 5 3 4 3 0 3 3 3 4 3 5 3-1.5 3 3 3 6.5 3-2 3 2.5 3 3 3-2 3 5.5 3 0.5 3-1.5 3 4.5 3 1.5 3 0.5 3 0.5 3 3 3 2.5 3-0.5 3 2.5 3 1 3 0.5 3 4 3-2.5 3 1 3 4 3-1.5 3 0.5 3 1.5 3 1 3 1 3 0 3 1 3 0.5 3 1.5 3 1 3-2.5 3 3 3 2 3-3.5 3 2.5 3 0 3-0.5 3 2 3-1.5 3 0 3 1.5 3 0 3-1 3-0.5 3 2.5 3-1 3-2 3 3 3-1.5 3 0 3 1.5 3-3 3 2 3 1 3-2.5 3 0.5 3 0.5 3 0.5 3-1 3 0 3 1 3-1.5 3 1.5 3-0.5 3-2 3 3.5 3-1.5 3-2 3 2.5 3-0.5 3-0.5 3 0 3 0 3 0.5 3 0 3 0.5 3-1 3 0.5 3 2.5 3-3 3 0.5 3 2.5 3-2 3 1 3 0.5 3-0.5 3 2 3 0 3 0 3 1 3 1.5 3 0.5 3-1.5 3 3 3 1 3-1 3 2.5 3-0.5 3 0.5 3 3 3-1.5 3 1 3 2.5 3 0 3 0 3 0.5 3 2.5 3 0 3 0 3 2 3-0.5 3 2 3 1.5 3-2.5 3 3.5 3 1.5 3-1.5 3 2 3 0.5 3 1 3 0.5 3 0.5 3 1 3 0 3 2 3-0.5 3-0.5 3 3.5 3-1 3-0.5 3 2.5 3-1 3 1.5 3 0.5 3-0.5 3 1.5 3 0.5 3 0 3-1" stroke="#27ffd8"/><path d="M66 152l3 1 3-5.5 3-14 3-9 3-1 3-5.5 3-11.5 3-5.5 3 2 3-2.5 3-7.5 3-1 3 2.5 3-1 3-1 3 4.5 3 2 3-2.5 3 3 3 6.5 3 0.5 3-3.5 3 4.5 3 8 3-1 3-4 3 5.5 3 8 3-0.5 3-2.5 3 5 3 8 3 1 3-1.5 3 4 3 6.5 3 2.5 3 0 3 2.5 3 5 3 4 3 1 3 1 3 3.5 3 4.5 3 1 3-1 3 1.5 3 3.5 3 1.5 3-1.5 3 1 3 3 3 1.5 3-0.5 3 1 3 2.5 3 1 3 0 3 1.5 3 1.5 3 0 3 1 3 1.5 3 0 3-1 3 1.5 3 2.5 3-1.5 3-1.5 3 2.5 3 3 3-2 3-1.5 3 2.5 3 3 3-2 3-2 3 2.5 3 2.5 3-1.5 3-2 3 1.5 3 2 3-1 3-1 3 0.5 3 1.5 3 0 3-0.5 3-0.5 3 0.5 3 1 3 0 3-0.5 3 0 3 1 3 0.5 3-1 3 0 3 1 3 0.5 3-0.5 3-0.5 3 1 3 0 3 0 3 0.5 3 0 3-0.5 3 1 3 1 3-1 3-1 3 2 3 1.5 3-2 3-1 3 2.5 3 1.5 3-2 3-1.5 3 3 3 1.5 3-2 3-1.5 3 2.5 3 2 3-2 3-1 3 2 3 1.5 3-1 3 0 3 1.5 3 1 3 0 3 0 3 1 3 0.5 3 0.5 3 1 3 0 3 0 3 1 3 1.5 3 0 3-0.5 3 1.5 3 1 3 0.5 3-0.5 3 1 3 1 3 0.5 3 0.5 3 0 3 0.5 3 1.5 3 1 3-1 3 0.5 3 2.5 3 1 3-1.5 3 0 3 3 3 1 3-1.5 3-0.5 3 3.5 3 1 3-1.5 3-0.5 3 3 3 1 3-1 3 0 3 2 3 1 3-0.5 3 0.5 3 1.5 3 0 3 0" stroke="#2cffd3"/><path d="M66 164l3-6.5 3-7 3-7 3-8.5 3-8 3-4.5 3-5 3-6.5 3-4.5 3-1.5 3 0 3-2 3-3 3 0 3 4 3 3 3 0.5 3 1.5 3 3 3 1.5 3 3 3 5 3 1.5 3-1.5 3 4 3 6.5 3 1.5 3-1 3 4.5 3 4.5 3 1 3 3 3 5 3 1 3 0 3 6 3 5 3 0 3 0.5 3 5.5 3 3 3 1 3 3 3 3 3 0.5 3 0.5 3 3.5 3 1 3-1.5 3 0 3 2.5 3 1 3-0.5 3 0.5 3 1 3 0.5 3 1 3 1 3 0 3 0 3 0.5 3 1 3 1 3-0.5 3-1 3 0.5 3 1 3 0 3-0.5 3 0.5 3 0 3 0 3 0.5 3 1.5 3-1.5 3-0.5 3 2 3 1 3-1.5 3-0.5 3 1.5 3-0.5 3-0.5 3 1 3 0.5 3-1.5 3 0 3 2 3 0 3-1.5 3 0.5 3 1 3 0 3 0 3 0.5 3 0 3-0.5 3 1 3 1 3-0.5 3-0.5 3 0.5 3 1.5 3 0 3 0 3 0 3 0.5 3 1 3 0.5 3 0 3 0.5 3 0 3 0.5 3 1 3 1 3-0.5 3 0 3 1.5 3 1 3-0.5 3 0 3 1.5 3 0 3 0 3 1.5 3 0.5 3-1 3 0.5 3 2.5 3 0 3-1 3 1 3 1.5 3 0 3 0.5 3 2 3-0.5 3 0 3 1.5 3 1.5 3 0 3-0.5 3 1.5 3 1 3 0 3 0.5 3 1 3 0 3 0.5 3 1 3 0.5 3 0 3 0 3 1 3 1 3 0.5 3-0.5 3 0.5 3 1 3 0.5 3 0 3 0.5 3 0.5 3 0 3 0.5 3 1.5 3 0 3-0.5 3 0.5 3 2 3-0.5 3 0 3 0.5 3 1 3-0.5 3 1 3 1 3-0.5 3-0.5 3 1.5 3 1 3-0.5 3-0.5 3 1.5 3 0" stroke="#32ffcd"/><path d="M66 157.5l3-1 3-9.5 3-7.5 3-2.5 3-13 3-10.5 3 1 3-4.5 3-7 3 1 3-4.5 3-8.5 3 6.5 3 4 3-5.5 3 2.5 3 4 3-3 3 5 3 7.5 3-4.5 3-0.5 3 7.5 3 0 3 1 3 6.5 3-1.5 3-2 3 8 3 3.5 3-1 3 5 3 2.5 3-1.5 3 6.5 3 5.5 3-2 3 2.5 3 5 3 0 3 4 3 5.5 3-1 3 0.5 3 5 3 1 3 0 3 3.5 3-0.5 3-1.5 3 4 3 2 3-1.5 3 1.5 3 1.5 3-1 3 3 3 2.5 3-1 3 0.5 3 2 3 0 3 1 3 2 3-1 3-0.5 3 2 3 1 3-0.5 3 1.5 3 0 3-1 3 2.5 3 1.5 3-1 3 0.5 3 1 3-0.5 3 1.5 3 1.5 3-1.5 3-0.5 3 1.5 3 0 3 0.5 3 1 3-1 3-0.5 3 2 3 0.5 3-0.5 3 0.5 3 0 3-0.5 3 1.5 3 1 3-1 3 0 3 0.5 3 0 3 1 3 1 3-1 3 0 3 0.5 3 0.5 3 0.5 3 0.5 3-1 3 0.5 3 1 3 0.5 3 0 3 0 3-0.5 3 0.5 3 1 3 0 3 0 3-0.5 3 0 3 0.5 3 1 3 0 3-0.5 3 0 3 0.5 3 0 3 1 3-0.5 3-0.5 3 0.5 3 1 3 0 3 1 3 0 3-0.5 3 1 3 1 3 0 3 0 3 0.5 3 0 3 0.5 3 1.5 3-0.5 3-0.5 3 1.5 3 0 3 0.5 3 1.5 3-0.5 3-1 3 1.5 3 1 3 0 3 1 3 0 3-0.5 3 1.5 3 1.5 3-0.5 3 0.5 3 1 3 0 3 1 3 2 3-0.5 3-0.5 3 1.5 3 1 3 0 3 2 3 0 3-1 3 2 3 1.5 3-0.5 3 1 3 1 3-0.5 3 1.5 3 2 3-0.5 3-0.5" stroke="#38ffc7"/><path d="M66 163.5l3-6 3-6 3-8 3-8 3-7 3-7 3-8.5 3-4.5 3 0 3-2 3-7 3-3.5 3 3.5 3 1.5 3-1.5 3 1.5 3 4 3-0.5 3 0.5 3 5.5 3 4.5 3-3 3 0 3 6.5 3 4.5 3-1.5 3 1 3 5 3 2.5 3 0 3 5 3 5 3-0.5 3 0.5 3 6 3 5.5 3-0.5 3 0.5 3 5.5 3 4 3 0.5 3 3 3 4.5 3 1 3 0 3 3.5 3 3.5 3-1 3-1.5 3 3 3 2.5 3 0 3 0 3 2 3 1 3 0 3 1.5 3 2.5 3 0 3-0.5 3 1.5 3 2.5 3-0.5 3-0.5 3 1 3 1 3 0 3 0.5 3 0.5 3 0.5 3-0.5 3 1 3 1 3 0.5 3-0.5 3 0 3 1 3 1 3 0 3-0.5 3 0.5 3 0 3 0.5 3 0.5 3 0 3 0 3-0.5 3 0.5 3 1 3 0 3-0.5 3-0.5 3 1.5 3 0.5 3-0.5 3-0.5 3 1 3 0 3-0.5 3 1 3 0.5 3-1 3-0.5 3 1.5 3 1 3-1 3-0.5 3 1 3 1 3-1 3 0.5 3 1 3-0.5 3-1 3 1.5 3 1 3-1 3-1 3 1.5 3 1 3-1 3-0.5 3 1.5 3 0 3-1 3 1 3 1.5 3-1 3-1.5 3 1.5 3 1.5 3-0.5 3-1 3 1.5 3 1 3-0.5 3 0.5 3 1.5 3 0 3-1 3 1.5 3 2 3-0.5 3-1 3 1 3 1.5 3 0 3 0 3 1 3 0.5 3 0 3 0.5 3 1.5 3 0 3-0.5 3 1 3 1.5 3 0.5 3 0 3 0.5 3 0.5 3 1 3 0.5 3 1 3 0.5 3 0 3 1 3 1 3 1 3 0 3 0.5 3 0.5 3 1.5 3 1 3 0 3 0 3 1 3 1 3 0.5 3 1 3 0.5 3 0.5 3 0 3 1.5 3 1" stroke="#3effc1"/><path d="M66 144l3-3.5 3-7 3-8.5 3-4 3-7 3-10 3-1.5 3-2.5 3-8.5 3-0.5 3 0.5 3-5 3 0 3 1.5 3 1 3 2 3-0.5 3 4 3 4.5 3-3 3 3 3 8 3-3.5 3 0.5 3 9.5 3-1.5 3-1.5 3 8.5 3 2.5 3-1 3 5.5 3 5 3 1 3 2.5 3 4.5 3 4.5 3 1 3 2.5 3 7 3 1.5 3 0 3 7.5 3 3.5 3-2 3 5 3 4.5 3-2.5 3 2.5 3 3.5 3-0.5 3 1 3 2.5 3 1 3 1 3 1 3 1 3 2.5 3 0 3 1 3 2.5 3 0 3 0 3 2 3 0 3-0.5 3 1.5 3 0.5 3 0 3 0.5 3 0 3 1 3 0.5 3-1 3 1.5 3 1 3-2 3 1.5 3 2 3-2.5 3 0.5 3 2 3-1.5 3-0.5 3 1.5 3 0 3-1 3 0 3 1 3-0.5 3-1 3 0.5 3 1.5 3-2 3-0.5 3 2.5 3-1.5 3-1.5 3 2.5 3-0.5 3-2 3 1.5 3 0.5 3-2 3 0.5 3 1 3-0.5 3-0.5 3 0 3 0.5 3 0 3-1 3 1 3 0.5 3-2 3 0.5 3 1.5 3-1.5 3 0 3 1 3-1 3 0 3 0.5 3-0.5 3 0.5 3-0.5 3-0.5 3 1.5 3-0.5 3-1.5 3 2 3 0 3-1.5 3 1.5 3 1 3-1.5 3 1 3 1.5 3-0.5 3 0 3 1 3 1 3 0 3-0.5 3 1.5 3 1 3-1.5 3 1.5 3 2 3-1.5 3 0.5 3 3 3-1.5 3-0.5 3 3 3 0 3-1 3 2 3 1 3-0.5 3 1 3 1 3 1 3 0 3 1 3 2 3 0 3-0.5 3 2.5 3 1 3-1 3 2 3 1.5 3-0.5 3 1.5 3 1.5 3 0 3 1 3 1 3 0.5 3 1.5 3 0 3 1 3 2 3 0 3 0" stroke="#44ffbb"/><path d="M66 163.5l3-5 3-10.5 3-3.5 3-7 3-14.5 3-1 3-6.5 3-6.5 3-2.5 3-4.5 3 1.5 3-7 3 1 3 4.5 3-4.5 3 5.5 3 0 3 2 3 4.5 3-2 3 6 3 0.5 3 2 3 3.5 3-1 3 7 3-0.5 3 0.5 3 7 3 0 3 3 3 2 3 4.5 3 3.5 3-2 3 7.5 3 2.5 3-1 3 5.5 3 3 3 3 3 0 3 4 3 5.5 3-3.5 3 3.5 3 3.5 3-1.5 3 0.5 3 1 3 3.5 3-2 3 0 3 5 3-2 3 0 3 3 3 1 3 0 3-0.5 3 3.5 3-0.5 3-2 3 3.5 3 0 3-1 3 0.5 3 1 3 1 3-2 3 2 3 1.5 3-2.5 3 2 3 0.5 3 0.5 3-0.5 3 0 3 2 3-2 3 0.5 3 1.5 3-1.5 3 1 3-0.5 3 1 3 0 3-1 3 1.5 3-0.5 3 0 3 1 3-1.5 3 2 3-1 3 0 3 1 3-0.5 3 1 3-1 3 0.5 3 1.5 3-2.5 3 2 3 0.5 3-1 3 0.5 3 0 3 2 3-2 3 0.5 3 2.5 3-2 3 0.5 3 1 3 0.5 3-0.5 3-0.5 3 3 3-1.5 3-1 3 3 3-1 3-0.5 3 0.5 3 1.5 3 0 3-2 3 3 3 0.5 3-2 3 1.5 3 1 3 0.5 3-1 3 1.5 3 2 3-2.5 3 2 3 1.5 3-1 3 1 3 0.5 3 1.5 3-1 3 0 3 3 3-1.5 3 0.5 3 1.5 3 0 3 1 3-1 3 2 3 0 3-0.5 3 2 3-0.5 3 1 3 1 3-0.5 3 2 3-0.5 3 1 3 1 3 0 3 1.5 3-0.5 3 1 3 1.5 3-1 3 1.5 3 0.5 3 1 3 0 3 0 3 2.5 3-1 3 0.5 3 2 3-0.5 3 0.5 3 0.5 3 1.5 3 0" stroke="#4affb5"/><path d="M66 152l3-0.5 3-6 3-9.5 3-6 3-10 3-7 3-0.5 3-8 3-6.5 3 2 3-3 3-5 3 1.5 3-2 3 2.5 3 7 3-3.5 3-3 3 7.5 3 3.5 3 1.5 3 2 3-2.5 3 2 3 9.5 3 0.5 3-2.5 3 3.5 3 2.5 3 4.5 3 5.5 3-1.5 3 0.5 3 7 3 3 3 1.5 3 3.5 3 1 3 3 3 6 3 1 3 1 3 5.5 3 2 3 0.5 3 2.5 3 0.5 3 1.5 3 3.5 3-1.5 3-1 3 4 3 1.5 3 0.5 3 1 3-1 3 1.5 3 4 3 0 3-1 3 1.5 3 1 3 1.5 3 1.5 3-2 3-0.5 3 3 3 0.5 3-0.5 3 1 3-0.5 3 0.5 3 2 3-0.5 3-0.5 3 2 3 0 3-0.5 3 1 3-0.5 3 0 3 2 3-1.5 3-1 3 2 3 0.5 3-1 3 0.5 3-1.5 3 1 3 2.5 3-1 3-2 3 1 3 0.5 3 0.5 3 1 3-2 3-0.5 3 2.5 3 0 3-1 3 0.5 3-1 3 0.5 3 2 3-1 3-1 3 1.5 3 0 3 0 3 0.5 3-0.5 3 0.5 3 1.5 3-1.5 3-0.5 3 2 3 0 3-0.5 3 0.5 3-0.5 3 0.5 3 2 3-1 3-1.5 3 1.5 3 0.5 3 0.5 3 1 3-2 3 0 3 3 3 0 3-0.5 3 0.5 3 0 3 1 3 2 3-1 3-0.5 3 2 3 0 3 0 3 1 3 0 3 0.5 3 1.5 3-0.5 3-0.5 3 2 3 0.5 3-0.5 3 1 3-0.5 3 1 3 2 3-0.5 3-1 3 2 3 1 3 0.5 3 1 3-1 3 0.5 3 3 3 0 3-0.5 3 1 3 0 3 1.5 3 2 3-1 3-0.5 3 2 3 1 3 0 3 1 3 0 3 0.5 3 2 3-0.5 3 0 3 2 3 0" stroke="#50ffaf"/><path d="M66 149.5l3-4 3-5 3-7.5 3-10.5 3-8 3-2 3-3.5 3-9.5 3-6.5 3 2.5 3 1.5 3-7 3-5.5 3 4.5 3 6.5 3-1 3-3 3 2.5 3 5 3 3.5 3 0 3-0.5 3 2.5 3 6 3 2.5 3-2 3 0.5 3 6.5 3 5.5 3-1.5 3 0.5 3 6 3 5.5 3 0.5 3 1 3 4 3 4.5 3 2.5 3 2.5 3 2 3 3 3 4 3 3.5 3 1 3 1 3 3.5 3 2.5 3 0 3-0.5 3 2 3 2.5 3 0.5 3 0.5 3 1 3 1.5 3 1 3 1.5 3 1 3 0 3 1 3 2.5 3 0.5 3-1 3 0.5 3 2 3 0.5 3-1 3 0.5 3 1.5 3 1 3-0.5 3 0 3 0.5 3 1 3 1 3-0.5 3-1 3 1 3 2.5 3-0.5 3-2 3 0 3 2.5 3 0 3-2 3 0 3 1.5 3 0.5 3-1 3-0.5 3 0.5 3 1 3 0 3-0.5 3-1 3 1 3 1 3-0.5 3-1.5 3 0.5 3 2 3 0 3-1.5 3 0 3 1.5 3 0 3-0.5 3 0 3 0.5 3 0 3 0.5 3 0 3-0.5 3 0 3 1.5 3 0 3-0.5 3-0.5 3 1.5 3 0.5 3-0.5 3-0.5 3 1 3 0.5 3 0 3 0 3 0 3 0 3 1 3 0.5 3-0.5 3-0.5 3 1.5 3 1.5 3-0.5 3-1 3 1.5 3 2 3-0.5 3-0.5 3 1 3 1.5 3 0.5 3-0.5 3 0 3 1 3 1.5 3 0.5 3-1 3 0 3 2 3 1.5 3-1 3-1 3 2 3 2 3-0.5 3-1 3 1.5 3 1.5 3 0.5 3 0 3 0.5 3 1 3 1 3 0.5 3 0 3 0.5 3 1.5 3 1.5 3-0.5 3-0.5 3 2 3 1.5 3-0.5 3 0 3 1 3 1.5 3 0 3 0.5 3 0.5 3 0.5 3 1 3 1 3 0" stroke="#56ffa9"/><path d="M66 148l3-10.5 3-2 3-4.5 3-11.5 3-5 3-6 3-9 3 0.5 3-1 3-11 3-1 3 6 3-5.5 3-3 3 5.5 3 0.5 3 0.5 3 5 3-1.5 3 0 3 8 3 1 3-4 3 5.5 3 4.5 3-1 3 2.5 3 3 3 1 3 5 3 3.5 3-1 3 3.5 3 6.5 3 1 3 1 3 4.5 3 3.5 3 2.5 3 3 3 1.5 3 2.5 3 5.5 3 1.5 3 0 3 2.5 3 3 3 0 3 0.5 3 1 3 1.5 3 2 3 1 3-0.5 3 2 3 2 3 0.5 3 0.5 3 1 3 1.5 3 1.5 3 0 3 0 3 1.5 3 1 3 0 3 0 3 1 3 0.5 3 1 3 0 3 0 3 1 3 1.5 3-0.5 3-0.5 3 2 3 0.5 3-0.5 3 0.5 3 0 3 0 3 1 3-0.5 3-1.5 3 2 3 1 3-2 3 0.5 3 1 3-0.5 3 0.5 3 0.5 3-1.5 3 0.5 3 2 3-1.5 3-1 3 2 3 0.5 3-1.5 3 1 3 0 3-0.5 3 1.5 3 0 3-2 3 2 3 1.5 3-2 3 0 3 2 3-1 3 0 3 1 3-1 3 0 3 2.5 3-1.5 3-1.5 3 2.5 3 0.5 3-1.5 3 1 3 0.5 3-1 3 1.5 3 0.5 3-2 3 1.5 3 2 3-2 3 0 3 2.5 3-0.5 3-0.5 3 2 3-0.5 3 0 3 2 3 0 3-1.5 3 2.5 3 1 3-1.5 3 0.5 3 2 3-1 3 1 3 1 3-1 3 1 3 2 3-1 3-0.5 3 2 3 0.5 3-0.5 3 1 3 0.5 3 0.5 3 1.5 3 0.5 3-1 3 2 3 1.5 3-1 3 0.5 3 2 3 0 3 0.5 3 1 3 0 3 1 3 2 3-0.5 3-0.5 3 2 3 1 3-0.5 3 1 3 1 3 0.5 3 1 3 0" stroke="#5cffa3"/><path d="M66 154l3-3 3-3.5 3-8.5 3-11.5 3-8.5 3-3 3-2 3-7 3-9 3-2.5 3 2.5 3 0.5 3-5 3-3.5 3 3 3 6.5 3 1.5 3-2 3 0 3 4 3 4.5 3 2 3-0.5 3 1 3 3 3 3 3 2.5 3 1.5 3 1.5 3 2 3 3.5 3 4 3 2.5 3 0.5 3 1.5 3 4 3 5 3 2 3-0.5 3 1.5 3 5.5 3 5 3 0.5 3-1 3 2 3 4 3 2.5 3-1 3-2 3 1.5 3 3.5 3 1.5 3-1 3-0.5 3 1.5 3 3 3 0.5 3 0 3 0 3 1.5 3 1.5 3 1 3-0.5 3 0 3 0.5 3 1 3 1 3 0.5 3-0.5 3 0 3 1.5 3 1.5 3 0.5 3-1 3 0 3 1.5 3 2 3 0 3-2 3 0 3 2 3 1.5 3-1 3-2 3 0.5 3 2 3 1 3-1 3-1.5 3 1 3 1.5 3 0.5 3-1 3-0.5 3 0.5 3 1.5 3 0.5 3-1 3 0 3 0.5 3 0.5 3 1 3-0.5 3 0 3 0 3 0.5 3 1.5 3 0 3-0.5 3-0.5 3 1 3 2 3 0 3-1.5 3 0 3 1.5 3 2 3-0.5 3-1.5 3 0.5 3 2 3 1 3-0.5 3-1.5 3 1 3 2 3 0.5 3-1 3-0.5 3 1 3 1.5 3 0.5 3-0.5 3 0 3 1 3 1 3 1 3 0 3 0 3 0.5 3 1 3 1 3 0 3 0 3 0 3 1 3 1.5 3 0.5 3-1 3 0 3 1.5 3 1.5 3 0 3-1 3 0 3 1.5 3 1.5 3-0.5 3-0.5 3 0.5 3 2 3 1 3-0.5 3 0 3 1 3 1.5 3 0.5 3 0 3 0 3 1 3 1 3 0.5 3 0 3 0.5 3 0.5 3 1 3 0.5 3 0.5 3 0.5 3 0 3 0.5 3 1 3 0.5 3 0 3 0" stroke="#62ff9d"/><path d="M66 165.5l3-3 3-6 3-8 3-9.5 3-10.5 3-6 3-2.5 3-4.5 3-7 3-6 3 1.5 3 1 3-4.5 3-0.5 3 2.5 3 1 3 5.5 3 2 3-4.5 3 4.5 3 8.5 3-1.5 3 1 3 4 3 0 3 5 3 5.5 3-2.5 3 1.5 3 6.5 3 3 3 1.5 3 2 3 2 3 4.5 3 4 3 1.5 3 1 3 3 3 5 3 3.5 3 0 3 2 3 4.5 3 1.5 3 2 3 1 3-2 3 2.5 3 3.5 3-1.5 3-1 3 3 3 0.5 3 1 3 1.5 3-1 3 0.5 3 3.5 3 0 3-0.5 3 0.5 3 0.5 3 1 3 0.5 3-0.5 3 0 3 1 3 1 3 0 3-1 3 0.5 3 1.5 3 0 3 0 3 0.5 3-0.5 3 1 3 1.5 3-2 3-0.5 3 2 3 0 3-0.5 3 0.5 3-1 3 0 3 2 3-0.5 3-1.5 3 1 3 1 3-0.5 3 0 3-0.5 3 0 3 1 3 0.5 3-0.5 3-1 3 0.5 3 1.5 3-0.5 3-1 3 1 3 0 3 0.5 3 1 3-1.5 3 0 3 2.5 3 0 3-1.5 3 1 3 0 3 0 3 1.5 3-0.5 3-1.5 3 1.5 3 1.5 3-1 3 0 3 0 3 0.5 3 1 3 0 3-1 3 0 3 1 3 1 3-0.5 3-0.5 3 1 3 1 3 0 3 0.5 3-0.5 3 0 3 2.5 3-0.5 3-1.5 3 1.5 3 1 3 0 3 1 3-0.5 3-1 3 2 3 1 3-1 3 0 3 1 3 0.5 3 1 3-0.5 3 0 3 1 3 1 3 1 3-0.5 3 0 3 2 3 1 3 0 3 0.5 3 0.5 3 0.5 3 2 3 0 3-1 3 2 3 1.5 3 0 3 0.5 3 0.5 3 0.5 3 2 3 1 3-1 3 0.5 3 2 3 0.5 3 0.5 3 0" stroke="#68ff97"/><path d="M66 152l3 0.5 3-6.5 3-12.5 3-6.5 3-4 3-8 3-8 3-3.5 3-1.5 3-3.5 3-5 3-2 3 3.5 3 0 3-3.5 3 3 3 7.5 3-1.5 3-3 3 7.5 3 6 3-4.5 3 1 3 9 3 1 3-3 3 5.5 3 6.5 3-1 3 0.5 3 6.5 3 4 3 0 3 3 3 5 3 3 3 1.5 3 2.5 3 4.5 3 4 3 1 3 1.5 3 5.5 3 3.5 3-1 3 1.5 3 5 3-0.5 3-2 3 3.5 3 3 3-2 3 0 3 4 3 1 3-1.5 3 1.5 3 3 3 0 3-0.5 3 2 3 1 3 0 3 0 3 0.5 3 1 3 0 3-0.5 3 1 3 1.5 3-0.5 3-1 3 1.5 3 1.5 3-2 3 0 3 3 3-0.5 3-2 3 1 3 2 3-1.5 3-1.5 3 2 3 0.5 3-1.5 3 0 3 1.5 3-0.5 3-1 3 0.5 3 0.5 3 0 3-0.5 3-0.5 3 1 3 0.5 3-1.5 3 0 3 1.5 3-0.5 3-2 3 1.5 3 1.5 3-2 3-0.5 3 2.5 3 0 3-2 3 1 3 1.5 3-1 3-1 3 1.5 3 1 3-1 3-0.5 3 1 3 0.5 3-0.5 3 0 3 0.5 3 1 3-0.5 3-1 3 1.5 3 1 3-1.5 3 0 3 2 3 0 3-2 3 1.5 3 2 3-1 3-1 3 2.5 3 1 3-1.5 3 0.5 3 2 3-0.5 3-0.5 3 1.5 3 1 3-0.5 3 0 3 1 3 1 3 0 3 0 3 0.5 3 1.5 3 0 3-1 3 1.5 3 1.5 3-1 3 0 3 2.5 3 1 3-1.5 3 1.5 3 2.5 3-0.5 3-0.5 3 2 3 1.5 3-0.5 3 0.5 3 1.5 3 1 3 0 3 0.5 3 1.5 3 0.5 3 0.5 3 0 3 1.5 3 1 3 0 3 0.5 3 2 3 0 3-1" stroke="#6eff91"/><path d="M66 146.5l3-7 3-8 3-4.5 3-4.5 3-9 3-10 3-4 3 0.5 3-3.5 3-7.5 3-4 3 2 3 2 3-2.5 3-1.5 3 3.5 3 4 3 0.5 3-0.5 3 3 3 4 3 1.5 3-0.5 3 2.5 3 4.5 3 2 3-1 3 2 3 5.5 3 3.5 3 0.5 3 1 3 5 3 5 3 1.5 3 0.5 3 3.5 3 5 3 3 3 1 3 2 3 4.5 3 3.5 3 1 3 1.5 3 3 3 2 3-0.5 3 0.5 3 2 3 2.5 3 0 3-0.5 3 1.5 3 3 3 1 3-0.5 3 0.5 3 2.5 3 1.5 3 0 3 0 3 1.5 3 1.5 3 0 3-0.5 3 1 3 1.5 3 0.5 3-0.5 3 0.5 3 2 3 0.5 3-1 3 0.5 3 2 3 1 3-1 3-0.5 3 1 3 1.5 3-0.5 3-1 3 0 3 1.5 3 0 3-1 3 0 3 1 3 0.5 3-1 3 0 3 1 3 0.5 3-1 3 0 3 0.5 3 1 3-0.5 3-1 3 0.5 3 1.5 3 0 3-1 3-0.5 3 1.5 3 1 3-1 3-0.5 3 0.5 3 1 3 0 3-0.5 3 0.5 3 0.5 3 0 3-0.5 3 0.5 3 1 3 0 3-1 3 0.5 3 1 3 0.5 3-1 3-0.5 3 1 3 1.5 3-0.5 3-1.5 3 1 3 1.5 3 0 3-0.5 3 0 3 1 3 1 3 0 3-0.5 3 1 3 0.5 3 0 3 0 3 1 3 1 3-0.5 3 0 3 1 3 1 3 0 3-1 3 0.5 3 2 3 0.5 3-0.5 3-0.5 3 1 3 1.5 3 0 3 0 3 0.5 3 1.5 3 0.5 3 0.5 3 0.5 3 1 3 0.5 3 0 3 1 3 1.5 3 0.5 3-0.5 3 0.5 3 2 3 1 3-0.5 3 0 3 1 3 2 3 0.5 3-0.5 3 0 3 2 3 1 3 0" stroke="#74ff8b"/><path d="M66 159l3-11 3-1 3-7.5 3-14.5 3 0 3-9.5 3-7 3-2.5 3-5 3 0 3-8.5 3 2 3 3 3-8.5 3 8 3 2 3-3 3 5.5 3 2 3 2 3 0.5 3 4 3 4 3-2.5 3 5.5 3 3.5 3-1 3 4 3 4 3 2 3 0.5 3 6 3 3 3-0.5 3 6 3 2.5 3 1.5 3 3.5 3 3 3 4 3 0 3 5 3 4 3-2 3 6 3 1 3-1 3 3 3 0 3 2 3-0.5 3 1 3 3 3-2.5 3 3 3 2 3-2 3 3 3 0.5 3 0.5 3 1 3 0 3 2 3-1.5 3 1 3 2 3-2 3 1.5 3 1 3-0.5 3 0.5 3 0.5 3 1 3-1 3 1 3 1 3-1 3 1 3 0.5 3-0.5 3-0.5 3 1 3 0.5 3-2 3 1.5 3 1 3-2 3 1.5 3 0 3-0.5 3 0 3 0 3 1.5 3-2 3 0.5 3 2 3-3 3 2 3 0 3-1 3 1 3-0.5 3 1 3-1 3 0 3 2 3-2 3 0.5 3 2 3-2 3 1 3 0.5 3 0 3 0 3 0 3 1.5 3-1.5 3 0.5 3 1.5 3-1 3 0 3 1 3 0 3-0.5 3 0.5 3 1 3-1 3 0.5 3 1 3-0.5 3 0.5 3 0 3 1 3-0.5 3 0.5 3 1.5 3-1.5 3 1 3 1.5 3-1.5 3 1.5 3 0.5 3 0 3 0.5 3-0.5 3 2.5 3-1.5 3 0.5 3 2 3-2 3 1.5 3 1 3-0.5 3 0.5 3 0 3 1.5 3-0.5 3 0 3 2.5 3-1 3 0.5 3 2 3-0.5 3 0.5 3 1 3 1 3 0 3 0.5 3 2 3-0.5 3 0.5 3 1.5 3 0.5 3 0 3 1 3 1.5 3-0.5 3 1 3 1.5 3-0.5 3 1 3 1 3 0 3 1 3 0" stroke="#7aff85"/><path d="M66 148l3-5.5 3-6.5 3-5 3-6.5 3-9 3-9.5 3-3.5 3 1 3-2.5 3-8 3-6.5 3 2 3 5 3 0.5 3-3.5 3-1 3 4.5 3 6 3 1.5 3-0.5 3 1 3 3.5 3 3.5 3 2.5 3 2 3 2 3 1.5 3 2 3 3.5 3 4.5 3 2.5 3 1 3 1.5 3 4 3 5 3 3 3 0.5 3 2 3 3.5 3 4 3 3.5 3 1.5 3 1.5 3 2 3 2.5 3 2.5 3 1.5 3 0 3-0.5 3 1 3 2 3 2 3 0 3-1 3 1 3 2.5 3 2 3 0 3-0.5 3 0.5 3 2 3 1.5 3 0 3-0.5 3 1 3 0.5 3 0.5 3 0.5 3 1 3 0.5 3-0.5 3 0 3 1.5 3 1.5 3 0.5 3-1 3-0.5 3 2 3 2 3-0.5 3-1.5 3-0.5 3 1.5 3 1.5 3-0.5 3-1.5 3 0 3 1.5 3 0.5 3-0.5 3 0 3 0 3 0.5 3 0 3 0 3 0.5 3 0.5 3-0.5 3-1 3 1 3 1 3 0.5 3-1.5 3-0.5 3 1 3 1.5 3 0 3-1 3-0.5 3 0.5 3 1.5 3 0 3-0.5 3-0.5 3 0.5 3 0.5 3 0.5 3 0 3-0.5 3-0.5 3 0.5 3 0.5 3 0.5 3 0 3-1 3 0 3 1 3 0.5 3 0 3-1 3 0 3 0.5 3 1 3 0 3 0 3 0.5 3 0 3 0 3 1 3 1 3-0.5 3-0.5 3 0 3 1.5 3 1.5 3-0.5 3-1 3 0.5 3 1.5 3 1.5 3-0.5 3-1 3 0.5 3 1.5 3 1 3-0.5 3 0 3 1 3 1 3 0.5 3 0.5 3 1 3 1 3 0.5 3 0 3 1 3 2 3 0.5 3-0.5 3 0 3 2 3 2 3 0.5 3-1 3 0.5 3 2 3 1.5 3 0.5 3-0.5 3 0.5 3 1.5 3 1 3 0.5 3 0 3 0.5" stroke="#80ff80"/><path d="M66 146l3-5 3-2 3-11.5 3-11 3-3.5 3-5.5 3 0 3-10 3-6 3-0.5 3-2 3 4 3-6.5 3 0.5 3 1 3 1 3 7 3-1.5 3 4 3-1 3 1 3 6.5 3 1.5 3 5 3-3 3 2 3 5.5 3 3.5 3 5 3-3 3 3.5 3 5 3 4.5 3 5 3-2 3 4.5 3 3 3 4.5 3 4.5 3 0 3 4.5 3 1 3 4 3 4.5 3 1 3 2.5 3-2 3 3 3 2.5 3 1 3 1.5 3-2.5 3 2.5 3 2 3 2 3 0.5 3-1.5 3 2.5 3 1 3 2 3 0.5 3-1 3 1.5 3 0 3 1.5 3 0.5 3-0.5 3 1 3-1.5 3 2.5 3 0.5 3 0.5 3-0.5 3-1.5 3 2.5 3 0.5 3 1 3-1 3-1.5 3 2 3 0 3 1 3-1.5 3-1 3 1.5 3-0.5 3 1.5 3-1 3-0.5 3 0.5 3-1 3 1.5 3-0.5 3 0 3-1 3-0.5 3 2 3-0.5 3 0 3-1.5 3-0.5 3 2.5 3-0.5 3 0.5 3-2 3 0 3 1.5 3 0 3 0.5 3-1.5 3 0.5 3 0.5 3 0 3 1 3-1 3 0.5 3-0.5 3 0 3 2 3-1 3 0 3-1.5 3 1 3 2 3-1 3 0 3-1.5 3 1 3 1.5 3-0.5 3 0.5 3-1.5 3 1.5 3 0.5 3 0 3 1 3-1 3 1 3 0 3 0.5 3 1.5 3-1 3 0.5 3-0.5 3 1.5 3 1.5 3-1 3 0.5 3-1 3 2 3 1 3-0.5 3 0 3-0.5 3 2 3 0.5 3 0 3 0.5 3-0.5 3 2 3 0 3 1.5 3 0.5 3 0 3 1 3 0 3 2.5 3 0.5 3 0 3 0.5 3 0 3 3 3 0.5 3 0 3 0 3 0.5 3 2.5 3 0 3 0.5 3 0.5 3 0.5 3 2 3 0 3 1 3 0" stroke="#85ff7a"/><path d="M66 165.5l3-9 3-7 3-4.5 3-5.5 3-15.5 3-6 3-1 3-6.5 3-4.5 3-5.5 3 0 3-1.5 3-3.5 3 5 3-2 3-0.5 3 6 3 3 3 1 3-3 3 6 3 8 3-3 3 0.5 3 4 3 5.5 3 2 3-2 3 6 3 3.5 3 1.5 3 4 3 2 3 3 3 2 3 4.5 3 4.5 3-1.5 3 3.5 3 6 3 3 3 1 3 0 3 6.5 3 3 3-2 3 1.5 3 1.5 3 2 3 0 3 0 3 2.5 3-1 3 1.5 3 2.5 3-0.5 3 0 3 1 3 3 3 0 3-1.5 3 2 3 1.5 3 0 3-1 3 0 3 2.5 3-0.5 3-0.5 3 1 3 0 3 0.5 3 0.5 3 0.5 3 0 3-1 3 2.5 3 0.5 3-1.5 3-0.5 3 1 3 1.5 3-1.5 3-1.5 3 2 3 0 3 0 3-1 3 0.5 3 1 3-1 3 0.5 3 0 3-1 3 1 3 0.5 3 0 3-1.5 3 0 3 2.5 3-1 3-1.5 3 0.5 3 1 3 0.5 3-1.5 3 0.5 3 1 3-0.5 3 0.5 3 0 3 0 3 0 3 0 3 2 3-1.5 3-0.5 3 1.5 3 0.5 3 0 3-1.5 3 1 3 2 3-1.5 3 0 3 0.5 3 0.5 3 0.5 3-1 3 1 3 0 3-0.5 3 1.5 3 0 3-0.5 3 0 3 1.5 3 1 3-2 3 0.5 3 2 3 0.5 3-0.5 3-1 3 2 3 0.5 3-1 3 1 3 0 3 0.5 3 0.5 3 0.5 3 0.5 3-1 3 1 3 1.5 3-0.5 3-0.5 3 1 3 2 3 0.5 3-1.5 3 2 3 1.5 3 0 3 0.5 3 0.5 3 1.5 3 0 3 0.5 3 1.5 3-0.5 3 1 3 1.5 3 1 3 0 3-0.5 3 2.5 3 1 3-1 3 1 3 1 3 2 3-1 3 0" stroke="#8bff74"/><path d="M66 152l3-3.5 3-4.5 3-2 3-15.5 3-11 3-5.5 3-4.5 3 4 3-9.5 3-8.5 3-2.5 3-2.5 3 9 3-2.5 3-5 3 1.5 3-1.5 3 10 3 2 3-3 3 2 3-2 3 8 3 4 3-2 3 3 3-2 3 5.5 3 5.5 3 0 3 4 3-0.5 3 4 3 6 3 0.5 3 5 3 0.5 3 2.5 3 6 3 1 3 5 3 2 3 2 3 5 3 0 3 3.5 3 1.5 3 0 3 3.5 3-1 3 2 3 2 3 0 3 3.5 3-0.5 3 1 3 2.5 3 0 3 3.5 3-0.5 3 0 3 2 3 0.5 3 2.5 3 0 3-1 3 1.5 3-0.5 3 3 3 0.5 3-1.5 3 1 3-0.5 3 2 3 2 3-2 3 0.5 3-1 3 1.5 3 2 3-1.5 3-0.5 3-1.5 3 0.5 3 3 3-1.5 3-0.5 3-1.5 3-0.5 3 3 3-0.5 3-0.5 3-2 3-1 3 3 3 0 3-0.5 3-1.5 3-2 3 2.5 3 0.5 3 0 3-0.5 3-3 3 1.5 3 1 3 0.5 3 0.5 3-3 3 1 3 1 3 0.5 3 1 3-3 3 0.5 3 1 3 0.5 3 1.5 3-2 3-0.5 3 1 3 0 3 2 3-1 3-1 3 1 3 0 3 2 3-0.5 3-1 3 1 3-0.5 3 2.5 3 0 3-0.5 3 1.5 3-0.5 3 1.5 3 0.5 3-0.5 3 2 3-1 3 1 3 1 3-0.5 3 2 3-0.5 3 0.5 3 1 3-0.5 3 1.5 3 0.5 3 0 3 1 3-1 3 1.5 3 0.5 3 0 3 1.5 3-1 3 1 3 2 3 0 3 1.5 3-1.5 3 1 3 2 3 0 3 1.5 3-1 3 0 3 2 3 0.5 3 1.5 3-1 3-0.5 3 1.5 3 0.5 3 2 3-0.5 3-1 3 1 3 0.5 3 2 3 0.5" stroke="#91ff6e"/><path d="M66 152l3-3.5 3-8.5 3-6 3-6 3-12.5 3-5.5 3 2 3-9.5 3-10 3 5 3-0.5 3-8 3 1 3 2.5 3-1 3 3 3 2.5 3 1 3 2 3 0.5 3 4.5 3 6 3-3 3-0.5 3 10 3 2.5 3-4 3 5.5 3 5.5 3-1 3 4.5 3 5 3 0 3 3 3 4.5 3 3.5 3 2.5 3 1 3 3 3 7 3 1.5 3-1 3 6 3 4 3-1.5 3 3 3 3 3-2 3 1 3 4 3-0.5 3-1 3 1.5 3 2 3 1.5 3 0 3-0.5 3 2.5 3 1.5 3-1 3 1.5 3 2 3-1.5 3 0.5 3 3 3-1.5 3-1 3 2.5 3 0.5 3-0.5 3 0 3 0.5 3 1.5 3 0.5 3-1 3 1 3 1 3-1 3 0.5 3 2 3-2 3-1 3 3 3-0.5 3-2 3 1 3 1 3-0.5 3 0 3-0.5 3 0 3 0.5 3-0.5 3 0.5 3 1 3-2 3 0 3 3 3-1.5 3-2 3 2 3 1 3-1.5 3 0 3 1 3-0.5 3 0.5 3 0 3 0 3 0 3 0 3 0.5 3 1.5 3-1.5 3-1 3 2.5 3 0.5 3-2 3 1 3 1 3-1 3 0.5 3 1 3-1 3 0 3 1 3 0.5 3 0 3-1 3 0 3 2 3 0 3-1.5 3 1.5 3 1.5 3-1.5 3 0.5 3 1.5 3-1 3 0 3 2 3 0 3-1 3 0.5 3 1 3 1 3-0.5 3-0.5 3 1.5 3 1 3-1.5 3 1 3 1.5 3-1.5 3 0.5 3 2 3-0.5 3-1 3 2 3 1 3 0 3 0.5 3 0.5 3 1.5 3 1 3-0.5 3 1 3 1.5 3-0.5 3 0.5 3 2.5 3-1 3-0.5 3 3 3 1 3-1.5 3 1.5 3 1 3 0.5 3 1 3 0 3 1 3 1 3 0 3 0.5" stroke="#97ff68"/><path d="M66 148l3 0 3-5 3-13 3-9.5 3-2.5 3-4.5 3-8 3-5.5 3-3.5 3-2.5 3 0 3-2 3-4.5 3 2 3 5 3-1 3-1 3 5.5 3 4.5 3-1.5 3 1 3 5 3 3.5 3 2.5 3 1 3 0.5 3 3.5 3 7 3 2 3-2 3 3 3 7.5 3 3.5 3 0 3 2.5 3 3.5 3 4 3 4 3 1.5 3 1.5 3 4 3 5 3 1 3 1 3 4 3 2.5 3-1 3 1 3 2.5 3 1 3 0 3 0.5 3 0.5 3 1.5 3 2.5 3-0.5 3-1 3 2 3 3 3 0 3-1 3 1 3 1 3 1 3 0 3 0 3-0.5 3 1.5 3 1.5 3-1 3 0 3 1.5 3 0.5 3-0.5 3 0.5 3 1.5 3 0 3-0.5 3 0 3 0.5 3 0.5 3 0.5 3-1 3-1 3 1.5 3 1.5 3-1.5 3-1.5 3 1 3 1.5 3-0.5 3-0.5 3-0.5 3 0 3 1.5 3 0 3-1 3-0.5 3 1.5 3 0 3-1 3 0.5 3 1 3-0.5 3-0.5 3 0.5 3 0 3 0.5 3 0.5 3-1 3 0 3 1.5 3 1 3-1.5 3-1 3 2 3 1 3-1 3-0.5 3 0.5 3 0.5 3 1 3 0 3-1.5 3 0.5 3 1.5 3 0 3-1 3 0.5 3 1 3-0.5 3 0 3 1 3 0 3 0.5 3 0 3 0 3 0.5 3 1.5 3 0 3-1.5 3 0.5 3 2 3 0.5 3-1 3 0 3 1 3 0.5 3 0.5 3 0 3-1 3 1 3 2 3-0.5 3-1 3 1 3 1 3 0 3 0 3 1 3 0.5 3 1 3 0.5 3 0.5 3 0.5 3 1.5 3 0.5 3-1 3 1.5 3 2 3 0 3-0.5 3 1 3 1.5 3 1 3 0 3 0 3 0.5 3 1.5 3 1.5 3-0.5 3 0 3 1.5 3 1.5 3-0.5" stroke="#9dff62"/><path d="M66 166l3-5.5 3-7.5 3-5.5 3-15 3 0.5 3-12.5 3-8 3 4 3-14 3 3 3-5 3-3 3 3 3-7 3 11 3-6.5 3 2.5 3 8.5 3-7 3 8 3 1 3 1.5 3 3 3 1 3 5.5 3-2 3 5 3 3 3 0 3 4 3 3.5 3 1.5 3 1.5 3 6.5 3-0.5 3 3.5 3 5 3 0 3 5.5 3 0.5 3 5.5 3 1.5 3 1 3 8 3-4 3 5 3 2 3-2.5 3 5 3-2.5 3 4 3-1 3 1 3 4 3-3.5 3 4.5 3 0.5 3-0.5 3 3 3-0.5 3 1.5 3 0 3 1.5 3 1 3-1 3 2 3 0 3 0 3 0.5 3 1.5 3-1 3 1 3 1.5 3-2 3 2 3 0 3 0 3 1 3-1.5 3 2.5 3-2.5 3 1.5 3 1 3-3.5 3 3.5 3-2 3 0 3 0.5 3-1.5 3 2 3-2.5 3 2 3-0.5 3-2 3 2.5 3-2 3 0.5 3 0 3-0.5 3 0.5 3-1 3 1 3-1 3 0 3 0.5 3 0 3-0.5 3 0 3 1 3-1.5 3 1.5 3 0 3-1 3 1.5 3-1 3 1 3-1 3 1 3 1 3-2.5 3 3.5 3-1.5 3-0.5 3 2.5 3-2 3 2 3-1 3 1 3 0.5 3-1.5 3 3 3-1.5 3 0.5 3 2 3-1.5 3 1.5 3 0 3 1 3 0 3 0 3 1.5 3-0.5 3 0.5 3 1 3 0.5 3-1 3 2 3 0 3-1 3 2.5 3-1.5 3 1 3 0.5 3-0.5 3 1.5 3-1.5 3 2.5 3-0.5 3-1 3 3.5 3-2 3 2 3 0.5 3-0.5 3 2 3-1 3 2.5 3-1 3 0.5 3 2 3-1.5 3 1.5 3 1 3 0 3 0.5 3 0.5 3 1 3-0.5 3 1.5 3 0.5 3 0 3 0.5 3 1 3 0.5 3-0.5" stroke="#a3ff5c"/><path d="M66 152l3-6 3-3 3-10.5 3-6.5 3-7.5 3-9 3-2 3-6.5 3-2.5 3-4 3-5 3 4.5 3-4.5 3-1 3 3 3 2 3 4.5 3-4 3 3.5 3 7 3-0.5 3 2 3 0.5 3 6.5 3 4 3-3 3 5 3 3.5 3 3.5 3 2.5 3 0 3 7 3 2 3 2 3 4 3 1.5 3 5.5 3 2 3 2.5 3 4 3 1.5 3 5 3 2.5 3 1 3 3.5 3 1 3 3 3-1 3-0.5 3 4 3 0 3 0.5 3 0 3 1.5 3 3 3-1.5 3 1 3 2 3 1 3 1 3-1.5 3 2.5 3 1 3-0.5 3 0.5 3 0 3 1.5 3 0.5 3-1 3 2 3-0.5 3 1 3 0.5 3-0.5 3 1 3 0 3 1 3 0.5 3-1.5 3 1.5 3 0 3 0 3-0.5 3-0.5 3 2.5 3-1.5 3-1 3 1.5 3 0 3 0.5 3-1.5 3 0 3 2 3-1 3 0 3-0.5 3 1 3 0.5 3-2 3 1 3 0.5 3-0.5 3 0.5 3-1 3 1 3 0 3 0 3 1 3-1.5 3 1 3 0.5 3-0.5 3 0.5 3-1 3 2 3 0 3-1.5 3 1 3 0 3 1 3-1 3-0.5 3 2 3-0.5 3-0.5 3 0 3 0.5 3 1.5 3-1.5 3 0 3 1 3 0 3 0.5 3-1 3 1 3 1 3-1 3 1 3-0.5 3 0.5 3 1 3-0.5 3 1 3-0.5 3 0.5 3 1 3-1 3 0.5 3 0.5 3 1 3 0 3-1.5 3 2 3 0.5 3-0.5 3 0 3 0.5 3 2 3-0.5 3-0.5 3 1.5 3 0.5 3 1 3 0 3 0.5 3 2 3-0.5 3 1 3 0.5 3 0.5 3 1.5 3-0.5 3 1.5 3 0.5 3 0.5 3 1.5 3-0.5 3 1 3 1 3 0.5 3 1.5 3-1 3 1.5 3 1 3 0" stroke="#a9ff56"/><path d="M66 157l3-10 3-1.5 3-7 3-13 3-2.5 3-5.5 3-13 3-1.5 3 1.5 3-6 3-4 3-2 3-1 3 4.5 3 0 3-1 3 5.5 3 0 3-1 3 10 3 2.5 3-5.5 3 6.5 3 7.5 3-1.5 3 3 3 5 3 0 3 3.5 3 5 3 2.5 3 3.5 3 1 3 2 3 7.5 3 2.5 3-1.5 3 6 3 4.5 3-0.5 3 5 3 5.5 3-1.5 3 2 3 5.5 3 0.5 3 0.5 3 0.5 3 0 3 2 3 1 3-0.5 3 2 3 0.5 3-1.5 3 3 3 2.5 3-3 3 1 3 3 3-0.5 3 0 3 1.5 3-0.5 3-0.5 3 1.5 3 0.5 3 0.5 3-0.5 3-0.5 3 2 3 1 3-2 3 1 3 1.5 3-1.5 3 1 3 2.5 3-2 3-1 3 2 3 0 3-0.5 3 0 3-0.5 3 0.5 3 0.5 3-0.5 3 0.5 3 0.5 3-2 3 1 3 2.5 3-2.5 3-0.5 3 2 3-0.5 3-1 3 1.5 3-0.5 3-1 3 1 3 0.5 3 0 3 0 3-1.5 3 1 3 1.5 3-1 3 0 3 1.5 3-1.5 3 0 3 2.5 3-1 3-1.5 3 1.5 3 0.5 3-0.5 3 0.5 3-0.5 3 0 3 1 3-0.5 3 0.5 3 1 3-2 3 0 3 3 3-1.5 3-1 3 1.5 3 0 3-0.5 3 1.5 3 0.5 3-1.5 3 1 3 0.5 3 0.5 3 0.5 3-1 3 0.5 3 1.5 3-0.5 3-0.5 3 2 3-1 3-1 3 3 3 0 3-1.5 3 1 3 1 3-0.5 3 1 3 0 3 0 3 1 3 0.5 3 1 3 1.5 3-0.5 3-0.5 3 3 3 0.5 3-1 3 2 3 1 3-0.5 3 1.5 3 1.5 3-0.5 3 0.5 3 1 3 1 3 1 3 0 3 0 3 2 3 0.5 3 0 3 2 3 0 3-1.5" stroke="#afff50"/><path d="M66 161l3-5.5 3-6.5 3-4.5 3-14.5 3-5 3-8 3-3 3-3 3-10 3 0.5 3-5 3 4 3-3 3-4.5 3 5 3 0 3 8.5 3-3 3 0 3 5 3 2.5 3 8 3-3.5 3 3 3 3.5 3 4.5 3 6 3-3.5 3 4.5 3 2.5 3 6 3 4 3-2 3 5 3 2 3 7 3 1.5 3-0.5 3 5 3 2.5 3 7 3 0 3 1 3 3.5 3 2.5 3 4.5 3-2.5 3 0.5 3 1 3 2 3 2.5 3-3 3 1.5 3 0.5 3 2.5 3 1.5 3-2 3 1.5 3 0 3 3 3 0 3-1.5 3 1.5 3 0 3 2.5 3-1.5 3-0.5 3 1 3 0 3 2.5 3-2 3 0.5 3 0 3 1 3 1.5 3-1.5 3 1 3-0.5 3 1 3 0.5 3-1.5 3 1 3-1 3 1.5 3-0.5 3-1 3 1 3-1 3 2 3-1.5 3 0 3 0 3-0.5 3 1.5 3-1.5 3 0.5 3 0 3 0 3 1 3-1.5 3 1 3-0.5 3 0.5 3 0 3-1 3 1.5 3-1 3 1 3-0.5 3 0 3 1 3-1 3 1.5 3-1 3 0.5 3 1 3-1 3 1 3-1 3 1.5 3 0 3-0.5 3 0.5 3-1 3 2 3-0.5 3 0 3 0 3-0.5 3 2 3-1 3 0.5 3-0.5 3 0.5 3 1.5 3-1 3 1 3-1 3 1 3 1.5 3-1 3 0.5 3-1 3 2 3 0.5 3-0.5 3 0 3-0.5 3 2.5 3-0.5 3 0 3-0.5 3 0 3 2.5 3-1 3 0.5 3-1 3 1 3 2.5 3-1 3 1 3-0.5 3 1.5 3 2 3-0.5 3 0.5 3-0.5 3 2.5 3 1 3 0 3 0.5 3-0.5 3 2.5 3 0.5 3 0.5 3 0 3 0 3 2.5 3 0 3 1 3-0.5 3 1 3 2 3-0.5 3 0.5" stroke="#b5ff4a"/><path d="M66 163l3-1 3-12.5 3-9.5 3-8.5 3-4.5 3-2.5 3-12 3-5 3-4 3 0 3 1.5 3-8.5 3-0.5 3 0 3 4 3 5.5 3-4 3 3 3 2 3 4.5 3 5.5 3-2 3 4.5 3 2 3 3.5 3 5 3-0.5 3 4.5 3 2 3 3 3 4.5 3 0.5 3 5.5 3 1 3 3 3 4 3 1.5 3 5.5 3 0.5 3 2.5 3 4 3 2.5 3 5 3 0 3 1 3 2.5 3 1 3 3 3-2 3 0 3 2 3 1 3 2.5 3-2 3 0 3 2 3 1 3 2.5 3-2 3 0 3 1.5 3 1.5 3 1.5 3-2 3 0 3 1.5 3 1 3 1.5 3-2.5 3 0 3 1.5 3 1.5 3 1 3-2 3-0.5 3 2 3 1 3 1 3-2.5 3 0 3 1.5 3 0.5 3 1 3-2.5 3 0 3 1 3 1 3 0.5 3-2.5 3 0 3 1.5 3 0.5 3 0.5 3-2.5 3 0.5 3 1 3 0.5 3 0.5 3-2 3 0.5 3 0.5 3 0.5 3 0.5 3-2 3 0.5 3 1 3 0 3 0.5 3-1.5 3 1 3 0.5 3 0 3 0.5 3-1 3 0.5 3 0.5 3 0 3 0.5 3-1 3 1 3 0 3-0.5 3 1 3-0.5 3 0.5 3 0 3-0.5 3 1 3-0.5 3 1 3-0.5 3-0.5 3 1.5 3 0 3 0.5 3-0.5 3 0 3 1.5 3 0 3 0.5 3-1 3 0 3 1.5 3 0.5 3 0.5 3-1.5 3 0.5 3 1.5 3 0.5 3 0.5 3-1.5 3 0.5 3 2 3 0 3 0.5 3-1.5 3 0.5 3 2 3 0.5 3 0.5 3-1 3 1 3 2 3 1 3 0.5 3-1.5 3 1 3 2.5 3 0.5 3 0.5 3-1 3 1 3 2.5 3 0.5 3 0 3-1 3 1.5 3 2 3 0.5 3 0.5 3-1.5 3 1.5 3 2 3 0 3 0.5" stroke="#bbff44"/><path d="M66 161l3-6.5 3-8 3-3 3-5.5 3-12.5 3-9.5 3-0.5 3-1.5 3-6.5 3-4 3-1.5 3-3.5 3 0.5 3 5.5 3 1.5 3-4.5 3 1.5 3 9 3 3.5 3-1 3 2 3 4.5 3 2.5 3 4 3 5 3 1 3-1.5 3 5 3 7.5 3 1.5 3-1 3 3 3 4.5 3 3 3 3 3 3 3 0.5 3 1 3 5.5 3 5.5 3 0 3-0.5 3 4 3 4 3 1.5 3 0.5 3 0.5 3-1 3 0.5 3 3 3 1 3-2.5 3-1 3 3 3 2 3-0.5 3-0.5 3 1 3 0 3 1 3 2 3 0 3-1.5 3 0 3 2.5 3 1 3-1.5 3 0 3 1 3 0.5 3 1 3 1 3-0.5 3-1 3 1.5 3 2.5 3-0.5 3-1.5 3 0.5 3 1.5 3 0 3 0.5 3 0.5 3-1 3-0.5 3 2 3 1.5 3-1.5 3-1 3 1 3 1.5 3-0.5 3 0 3 0.5 3-0.5 3 0 3 1.5 3 0.5 3-1.5 3-1 3 2 3 1 3-1 3-0.5 3 0.5 3 0 3 0 3 1.5 3 0 3-1.5 3 0 3 2 3 0 3-1 3 0 3 0.5 3 0 3 0 3 1 3-1 3-1 3 0.5 3 1.5 3-0.5 3-1.5 3 0.5 3 1 3-0.5 3 0 3 0.5 3-0.5 3-1 3 1 3 1 3-1 3-0.5 3 1 3 0.5 3-0.5 3 0 3 0.5 3 0 3-0.5 3 1.5 3 0.5 3-1 3-0.5 3 1.5 3 0.5 3-0.5 3 0.5 3 0.5 3 0 3 0 3 1 3 0.5 3-0.5 3 0.5 3 1.5 3 0.5 3 0 3 1 3 1.5 3 0 3 0.5 3 1.5 3 1 3-0.5 3 1 3 2 3 0 3 0.5 3 1 3 1.5 3 0 3 0.5 3 1.5 3 1 3-0.5 3 1.5 3 1 3 0.5 3 0 3 1.5 3 0.5" stroke="#c1ff3e"/><path d="M66 167l3-8 3-8 3-6.5 3-10.5 3-8.5 3-4 3-5.5 3-6 3-4.5 3-5.5 3-1 3 4.5 3-3.5 3-7 3 4.5 3 7.5 3-1 3 0.5 3 4 3 1.5 3 2.5 3 5 3 2.5 3 2 3 3.5 3 0.5 3 3.5 3 7.5 3 2 3-2.5 3 4 3 7.5 3 2 3 1.5 3 3.5 3 2 3 3 3 5 3 2.5 3 2 3 4 3 1.5 3 2 3 6 3 2 3-2.5 3 1 3 4 3 0.5 3-0.5 3 0.5 3 0.5 3 1 3 2 3 0 3 0 3 1.5 3 0 3 0 3 2.5 3 1 3-2 3 0 3 2.5 3 0.5 3-0.5 3 0 3 0 3 0.5 3 1.5 3-0.5 3-0.5 3 1.5 3 0 3-1 3 2 3 1 3-1.5 3-1 3 2 3 0.5 3-0.5 3-0.5 3-0.5 3 0.5 3 1.5 3-0.5 3-1.5 3 1 3 0.5 3-1.5 3 1 3 1.5 3-1.5 3-1 3 1 3 1 3-0.5 3 0 3-1 3 0 3 2 3-0.5 3-1.5 3 1 3 0.5 3-0.5 3 0.5 3 1 3-0.5 3-1 3 1 3 0.5 3 0.5 3-0.5 3-1 3 0.5 3 1.5 3 0.5 3-1.5 3 0.5 3 1 3-1 3 0.5 3 1 3-0.5 3-1 3 1 3 0.5 3 0.5 3 0 3-1 3 0 3 2 3 1 3-1.5 3 0 3 1.5 3-0.5 3 0 3 1.5 3-0.5 3-0.5 3 1 3 0.5 3 0.5 3 0.5 3-1 3-0.5 3 2 3 1 3-1.5 3 0 3 1.5 3 0 3 0 3 1 3 0 3 0 3 0.5 3 1 3 0.5 3 1 3 0 3-0.5 3 2 3 2 3-1 3-0.5 3 1.5 3 1 3 0.5 3 1 3 0 3 0 3 1 3 1 3 0.5 3 1 3 0 3-0.5 3 1.5 3 2 3-0.5 3-1" stroke="#c7ff38"/><path d="M66 155.5l3-7.5 3-9.5 3-5.5 3-6 3-9 3-8 3-4.5 3-2 3-5 3-5.5 3 0 3-1.5 3-2 3 2.5 3 0.5 3-1 3 7 3 3 3-4.5 3 6.5 3 8.5 3-3.5 3 1.5 3 9.5 3 0 3 0.5 3 8 3 1 3 0.5 3 8.5 3 2 3-2 3 8 3 6 3-3 3 4.5 3 7.5 3 0 3 2.5 3 5.5 3 1.5 3 3 3 5 3 1 3 0.5 3 4.5 3 1 3-1.5 3 1.5 3 2.5 3 0 3 0 3 0.5 3 2 3 0.5 3 0 3 1 3 1 3 0 3 1 3 0.5 3-0.5 3 1.5 3 1 3-1.5 3 0 3 3 3-1.5 3-1.5 3 2.5 3 0.5 3-1.5 3 1.5 3 0.5 3-2 3 2.5 3 1 3-3 3 1 3 2.5 3-2.5 3-0.5 3 2.5 3-1 3-1.5 3 1.5 3-0.5 3-0.5 3 1.5 3-0.5 3-1.5 3 1.5 3 0.5 3-1.5 3 0 3 1 3 0 3-0.5 3 0 3 0.5 3 0.5 3-0.5 3 0 3 0.5 3 0 3 0 3 0.5 3-0.5 3 0 3 2 3-1.5 3-1 3 2.5 3 0 3-1.5 3 1 3 1.5 3-1.5 3 1 3 1 3-1.5 3 0.5 3 2 3-2 3 0 3 3 3-1 3-1.5 3 2 3 0.5 3-1.5 3 1.5 3 0.5 3-1 3 1.5 3 1 3-1.5 3 1 3 1.5 3-0.5 3-0.5 3 1 3 0.5 3 0 3 0 3 0.5 3 0.5 3 0.5 3-0.5 3 0.5 3 0.5 3 0 3 0.5 3 0 3 0 3 1.5 3 0 3-1.5 3 1.5 3 1.5 3-1 3 0.5 3 2 3-0.5 3 0 3 2 3-1 3 0.5 3 2.5 3-1 3-1 3 2.5 3 1 3-2 3 2 3 1.5 3-1 3 0.5 3 1.5 3-1 3 1 3 1.5 3-0.5 3 0 3 1.5" stroke="#cdff32"/><path d="M66 165l3-6 3-10 3-3 3-7 3-14 3-5 3-1 3-8 3-3 3-0.5 3-7.5 3-1 3 5.5 3-1.5 3-2 3 4.5 3 2.5 3 2.5 3 4.5 3 2 3 1.5 3 4.5 3 4.5 3 3.5 3 2.5 3 1.5 3 4.5 3 5 3 2 3 3 3 3.5 3 1.5 3 4.5 3 5.5 3 0 3 1.5 3 6 3 2.5 3 1.5 3 5 3 1.5 3 0.5 3 6 3 3.5 3-2 3 2.5 3 2.5 3-2 3 1.5 3 2.5 3-2.5 3 0 3 3.5 3-1 3-0.5 3 1.5 3 0 3-0.5 3 2 3 0 3-1 3 1 3 0.5 3 0 3 0 3 0 3-0.5 3 0.5 3 0.5 3 0 3-0.5 3 0 3 0.5 3 1 3-0.5 3-0.5 3 0.5 3 0 3 0 3 1 3-1 3-1 3 1.5 3 0.5 3-1.5 3 0.5 3 0.5 3-1.5 3 1 3 1.5 3-2 3-0.5 3 2 3-0.5 3-0.5 3 1.5 3-1 3-1 3 2 3 0.5 3-2 3 1 3 1 3-1 3 1 3 0.5 3-1 3 0.5 3 1.5 3-0.5 3 0 3 0.5 3 0 3 0.5 3 0.5 3 0 3 0 3 0 3 0.5 3 1 3 0 3-1 3 1 3 1 3-0.5 3 1 3 0 3-1 3 1 3 1.5 3-1 3 0 3 1.5 3-0.5 3 0 3 2 3-1 3-1 3 2.5 3 0.5 3-1.5 3 1 3 0.5 3-1 3 1.5 3 1 3-1.5 3 0.5 3 1.5 3-0.5 3 0 3 0.5 3-0.5 3 0 3 1.5 3 0 3-1 3 0.5 3 1 3 0.5 3 0.5 3 0 3 0 3 1 3 0.5 3 0.5 3 0.5 3-0.5 3 0.5 3 1.5 3-0.5 3 0.5 3 1 3-0.5 3 0.5 3 1.5 3-0.5 3-0.5 3 2 3 0.5 3-0.5 3 1 3 0.5 3-1 3 1.5" stroke="#d3ff2c"/><path d="M66 163.5l3-7 3-4.5 3-10 3-12 3-4 3-4 3-9.5 3-6.5 3-2 3-4.5 3-1 3 2 3-5.5 3-5 3 7 3 6 3-1.5 3 0 3 3 3 1.5 3 6 3 6.5 3-2.5 3-1 3 7.5 3 5.5 3 1 3 2.5 3 2.5 3 1 3 6 3 5.5 3 0 3 0.5 3 6 3 4 3 1.5 3 4 3 3 3 1 3 4.5 3 5 3 1 3 2 3 3.5 3 0.5 3 0 3 3.5 3 0.5 3-1.5 3 1.5 3 2 3 0 3 1.5 3 1 3-1 3 0.5 3 3 3 1 3-1 3 0.5 3 1 3 0.5 3 1.5 3 0.5 3-2 3 0.5 3 2.5 3 0.5 3-1 3 0.5 3 0.5 3 0 3 2 3 0.5 3-2 3 0 3 2.5 3 0 3-1 3 0.5 3 0 3-0.5 3 1.5 3 0.5 3-1.5 3 0 3 1.5 3-0.5 3 0 3 1 3-0.5 3-1 3 1 3 0.5 3-0.5 3 0 3 0.5 3-1 3 0.5 3 1.5 3-0.5 3-1.5 3 1 3 0.5 3 0 3 0.5 3-0.5 3-1.5 3 1.5 3 1.5 3-1 3-1 3 0.5 3 0.5 3 0.5 3 0.5 3-0.5 3-1.5 3 1 3 2 3-1 3-1 3 0.5 3 0 3 0.5 3 1 3-1 3-1 3 1 3 1 3-0.5 3 0 3 0.5 3-0.5 3 0 3 1.5 3 0 3-0.5 3 0.5 3 0.5 3-0.5 3 1 3 1 3-1.5 3 0 3 1.5 3 0.5 3-0.5 3 0.5 3 0 3-0.5 3 1.5 3 1 3-1.5 3 0 3 1.5 3 0.5 3 0.5 3 0.5 3-0.5 3 0 3 2.5 3 1 3-1 3 0 3 1.5 3 0.5 3 0.5 3 1 3-0.5 3 0 3 2 3 1 3-0.5 3 0.5 3 1 3 0 3 1 3 1.5 3-0.5 3 0 3 1.5 3 0.5 3 0" stroke="#d8ff27"/><path d="M66 170l3-5.5 3-10 3-10.5 3-2 3-7.5 3-14.5 3-3 3-1 3-7 3-2.5 3-2.5 3-4 3 1.5 3 1.5 3 1 3 2 3-1.5 3 5.5 3 8 3-4 3 0 3 10 3 3 3 0 3 3 3 3.5 3 5 3 3 3 0 3 5 3 3.5 3 1 3 6 3 2.5 3-1.5 3 6 3 5.5 3 0.5 3 1.5 3 3.5 3 5 3 3.5 3-1 3 2.5 3 5.5 3-0.5 3-0.5 3 2.5 3-0.5 3 0.5 3 2 3 0 3-0.5 3 1 3 1 3 2 3-1 3-1.5 3 3 3 1.5 3-2 3 0.5 3 1.5 3 0 3 0.5 3 0 3 0 3 1 3-0.5 3 0.5 3 1 3-1.5 3 0.5 3 2.5 3-1 3-1.5 3 2 3 0.5 3 0 3-1 3 0 3 1.5 3 0 3-1.5 3 1 3 0.5 3-1 3 1.5 3 0 3-1.5 3 0.5 3 1.5 3-0.5 3-0.5 3-0.5 3 1 3 1.5 3-2 3-0.5 3 2.5 3-0.5 3-0.5 3 0.5 3 0 3 0 3 0.5 3 0 3 0 3 0 3 0 3 1.5 3-0.5 3-2 3 2 3 1.5 3-1.5 3 0 3 0.5 3 0.5 3 0.5 3-1 3 0.5 3 1 3-0.5 3 0 3 1 3-1 3 0 3 2 3-0.5 3-1 3 0.5 3 1 3 0.5 3-0.5 3-1 3 2 3 0.5 3-1 3 0.5 3 1 3-0.5 3 1 3 0 3-0.5 3 0.5 3 0.5 3 0.5 3 0.5 3-1.5 3 1 3 2 3-1.5 3-0.5 3 1.5 3 0.5 3-0.5 3 0.5 3 0 3 1 3 0.5 3 0 3 1 3 0 3-0.5 3 2.5 3 0 3-1 3 1 3 1.5 3 0 3 0 3 0 3 1 3 1.5 3-1 3 0.5 3 1.5 3-0.5 3 0.5 3 1.5 3-0.5 3 0 3 1.5 3 0.5" stroke="#deff21"/><path d="M66 146l3-0.5 3-5 3-9 3-9 3-7.5 3-4 3-2 3-5 3-7.5 3-2.5 3 2 3-0.5 3-3 3 1.5 3 2 3 1 3 4.5 3 6 3 0 3-1.5 3 6 3 9.5 3 2 3-2 3 4 3 7 3 4 3 2 3 2.5 3 2.5 3 3.5 3 5.5 3 3.5 3 1 3 2 3 4.5 3 4 3 3 3 3 3 1.5 3 2 3 5 3 5 3 0 3-1.5 3 3 3 4 3 0 3-2 3 0.5 3 1.5 3 0.5 3 0.5 3 0.5 3-0.5 3 0 3 1.5 3 1.5 3-0.5 3-1 3 1 3 0.5 3 1 3 0 3-1 3-1 3 1.5 3 1.5 3-1 3-1.5 3 1 3 1.5 3 0 3-1 3 0 3 0.5 3 0 3 0.5 3 1 3-1 3-1 3 1 3 1 3-0.5 3-1 3 0 3 1 3 0.5 3 0 3-1 3-0.5 3 1 3 1.5 3-0.5 3-1 3 0.5 3 1 3 0 3 0 3 0.5 3 0 3-0.5 3 1 3 1.5 3-1 3-1.5 3 1.5 3 1.5 3 0 3-1 3 0 3 1 3 1 3 0.5 3-0.5 3-0.5 3 0.5 3 1.5 3 0 3-0.5 3 0 3 1 3 0 3 1 3 0.5 3-0.5 3-1 3 2 3 1.5 3-1 3-1.5 3 1.5 3 1.5 3 0 3-0.5 3 0.5 3 0.5 3 0.5 3 0.5 3 0.5 3-1 3 0.5 3 1 3 0.5 3 0 3 0 3 0 3 0.5 3 1 3 0.5 3-1 3-1 3 1.5 3 1.5 3-1 3-1 3 1 3 1 3 0 3 0 3 0.5 3 0 3 0 3 1.5 3 0.5 3-0.5 3-0.5 3 1 3 1 3 0 3 0 3 0 3 0 3 1.5 3 0.5 3-1 3-0.5 3 1.5 3 1.5 3-0.5 3-1 3 1 3 1 3 0 3 0" stroke="#e4ff1b"/><path d="M66 178.5l3-2.5 3-5.5 3-11 3-8.5 3-9.5 3-7.5 3-1.5 3-7.5 3-10.5 3 2.5 3 2.5 3-8.5 3-3 3 4.5 3 3 3 3 3-0.5 3-2 3 9.5 3 7.5 3-5.5 3 1.5 3 10 3 4 3 0 3 2 3 3 3 7 3 4.5 3-3.5 3 2.5 3 9.5 3 2 3-2.5 3 4 3 5.5 3 3 3 2.5 3-0.5 3 3 3 7.5 3 1 3-1.5 3 4.5 3 4 3-0.5 3 0 3 0.5 3 0.5 3 2 3-0.5 3-2 3 2.5 3 2 3-2 3 0 3 2 3-0.5 3 0.5 3 0.5 3-0.5 3 0.5 3 1 3-1 3 0.5 3 1.5 3-1.5 3 0 3 1.5 3-0.5 3-1 3 1.5 3 0 3 0 3 0.5 3-1 3 0 3 2 3-0.5 3-2 3 1.5 3 1 3-1 3-0.5 3 0 3 0.5 3 1.5 3-1.5 3-1.5 3 2 3 1.5 3-2 3-1 3 1.5 3 0.5 3 0 3-1 3-0.5 3 2 3 1 3-2.5 3-0.5 3 2.5 3 0.5 3-1.5 3 0 3 0.5 3 1 3 0.5 3-2 3 0 3 2.5 3-0.5 3-2 3 1 3 1.5 3-0.5 3 0 3-0.5 3 0.5 3 1.5 3-0.5 3-1.5 3 1.5 3 1 3-1 3 0 3 1 3-0.5 3 1 3 0 3-0.5 3 1 3 1 3-1 3 0.5 3 1 3-0.5 3 0 3 1.5 3-0.5 3 0 3 1 3 0 3 0.5 3 1 3-1 3 0 3 2 3-0.5 3-1 3 1.5 3 0.5 3 0 3 0.5 3-0.5 3 0.5 3 2 3-0.5 3-1.5 3 2 3 1.5 3-1 3 0 3 1 3 1 3 1 3-0.5 3-1 3 2.5 3 1.5 3-2 3 0 3 2 3 1 3-0.5 3 0 3 0 3 2 3 1 3-2 3 0.5 3 2.5 3 0 3-1.5" stroke="#eaff15"/><path d="M66 170l3-4.5 3-10.5 3-8 3-5 3-9 3-12 3-5 3 1 3-3.5 3-9.5 3-5 3 3.5 3 3 3-3 3-1.5 3 3 3 4 3 2.5 3 2.5 3 3 3 1.5 3 3 3 5 3 4.5 3 1 3 1.5 3 4.5 3 4.5 3 2.5 3 2 3 3.5 3 3 3 1.5 3 4 3 5 3 2 3 0 3 3 3 7 3 3.5 3-1 3 1.5 3 6 3 4.5 3-0.5 3-1 3 3 3 2 3-1 3 0 3 2 3 1 3-1.5 3 0 3 3 3 1.5 3-1.5 3-1 3 2 3 2.5 3-0.5 3-1 3 0.5 3 1.5 3 0 3 0 3 0.5 3 0 3 0 3 0.5 3 1 3 0 3-0.5 3 0 3 1.5 3 0.5 3-0.5 3 0 3 0.5 3 0 3 0 3 1 3 0.5 3-1.5 3 0 3 1.5 3 1.5 3-1.5 3-1.5 3 1.5 3 1.5 3-0.5 3-1 3 0.5 3 1 3 0 3-1 3 1 3 1 3-1 3-1 3 1.5 3 2 3-1 3-2 3 1 3 2 3 0 3-1.5 3-0.5 3 1.5 3 0.5 3-0.5 3 0 3 0.5 3 0 3-0.5 3 1 3 0.5 3-0.5 3-0.5 3 0.5 3 1 3 0 3-0.5 3 0 3 0 3 0.5 3 0.5 3 0 3-0.5 3-0.5 3 1 3 1.5 3-0.5 3-1 3 0.5 3 1.5 3 0.5 3-1.5 3 0 3 1.5 3 0.5 3-1 3 0.5 3 1 3 0 3-1 3 0.5 3 2 3 0 3-1.5 3 0 3 2 3 1 3-1.5 3-0.5 3 1 3 1.5 3-0.5 3 0 3 0.5 3 1 3-0.5 3 0.5 3 1.5 3 0 3-0.5 3 0.5 3 1 3 1 3-0.5 3 0 3 1 3 0.5 3 0.5 3 0.5 3 0 3 0 3 0.5 3 1.5 3 0.5 3-1 3 0 3 1.5" stroke="#f0ff0f"/><path d="M66 172l3 0 3-13.5 3-9.5 3-4 3-12 3-3.5 3-8 3-9 3 1 3-4.5 3-2.5 3-3 3-3 3 4.5 3 0.5 3 2.5 3 0.5 3 0 3 8.5 3 0 3 2.5 3 5 3-2 3 9 3 3 3-1.5 3 7 3 0.5 3 4 3 6 3-2 3 4.5 3 4 3 2.5 3 4.5 3 0 3 3.5 3 4 3 3 3 3.5 3 0 3 4.5 3 4 3 1 3 4 3-2 3 1.5 3 3.5 3-2 3 2 3 0 3-1 3 4 3-1 3-0.5 3 2 3-0.5 3 2 3 0.5 3-0.5 3 1 3 0 3 1.5 3 0 3-0.5 3 1 3-0.5 3 2 3-0.5 3-1.5 3 2.5 3-0.5 3 0.5 3 1.5 3-2.5 3 2 3 1 3-1 3 1 3-1 3 0.5 3 1.5 3-1 3 0.5 3-0.5 3 0.5 3 1 3-0.5 3 0 3 0 3 0.5 3 1.5 3-2 3 0.5 3 0.5 3-0.5 3 2 3-1.5 3-0.5 3 2 3-1 3 1 3 0 3-1.5 3 2 3-0.5 3 0 3 0 3-0.5 3 1 3 0.5 3-0.5 3 0 3-0.5 3 1.5 3-0.5 3-0.5 3 1 3-1.5 3 2 3 0.5 3-2 3 1.5 3-0.5 3 0 3 1.5 3-2 3 0.5 3 1 3-0.5 3 1 3-1 3 0 3 1 3 0 3 0.5 3-1 3 0.5 3 1 3-0.5 3 1 3-1 3 0.5 3 2 3-1.5 3 0.5 3 0.5 3-1 3 2 3-0.5 3-0.5 3 1 3-0.5 3 1 3 0.5 3-1 3 0.5 3 0.5 3 1 3 0 3-0.5 3 1 3 0 3 1 3 0.5 3-1 3 1.5 3 0.5 3 0 3 1.5 3-1.5 3 1 3 1.5 3-1 3 1.5 3-0.5 3 0.5 3 1.5 3-0.5 3 0.5 3 0.5 3 0 3 1.5 3-0.5 3 0" stroke="#f6ff09"/><path d="M66 175l3-3 3-7.5 3-9 3-13 3-1 3-8.5 3-11.5 3-1 3-3.5 3-0.5 3-9 3-2 3 8 3-5.5 3 0.5 3 2.5 3 5 3 3.5 3-5.5 3 9 3 5.5 3-1.5 3 3 3 2.5 3 8 3-0.5 3-0.5 3 8 3 1.5 3 2.5 3 0.5 3 4 3 6 3-2.5 3 4 3 4 3 2 3 3 3 0 3 6.5 3 2 3 0.5 3 4.5 3 1.5 3 3 3 0 3 0 3 3 3-1.5 3 1.5 3 0.5 3 0 3 2 3-1 3 2 3 0 3 0 3 2.5 3-1 3 1 3 1 3 0 3 1.5 3-1.5 3 1.5 3 1 3-1 3 1.5 3-0.5 3 1.5 3 0 3-1 3 2.5 3-0.5 3 0 3 0 3 0.5 3 2 3-2.5 3 1 3 1.5 3-0.5 3 0 3-1.5 3 2.5 3 0 3-2 3 1.5 3 0.5 3 0 3-1 3-0.5 3 3 3-2 3-0.5 3 1 3 0.5 3 0.5 3-2.5 3 1.5 3 1.5 3-2 3 0.5 3 0 3 1.5 3-1 3-1.5 3 2.5 3-0.5 3-0.5 3 0 3 0 3 2 3-2 3 0.5 3 1 3-0.5 3 0.5 3-1 3 1 3 0.5 3-1.5 3 1.5 3 0 3 0 3 0.5 3-0.5 3 1.5 3-1 3 0.5 3 0.5 3-0.5 3 1 3-0.5 3 1 3 0.5 3-1 3 2 3-1 3 0.5 3 0.5 3 0 3 1 3-1 3 1 3 1 3-1 3 0.5 3 0 3 1 3 0 3-1 3 2 3-0.5 3-0.5 3 0.5 3 0 3 1.5 3-1.5 3 0.5 3 2 3-0.5 3 0 3-0.5 3 2 3 0.5 3-2 3 1.5 3 1 3 0 3-0.5 3 0 3 2.5 3-1 3-0.5 3 1.5 3 0 3 1 3-1.5 3 1.5 3 1.5 3-1.5 3 1 3 0.5 3 0.5" stroke="#fcff03"/><path d="M66 172l3-3.5 3-9.5 3-9 3-5.5 3-7.5 3-9.5 3-5.5 3-2.5 3-4.5 3-6 3-1.5 3 1 3-2.5 3-3 3 3.5 3 5.5 3 0 3-2.5 3 4.5 3 7 3 1 3-1.5 3 3.5 3 7 3 2 3-1.5 3 3 3 5.5 3 2.5 3-0.5 3 3 3 4.5 3 2 3 0.5 3 3.5 3 4 3 1 3 2 3 4 3 4 3 0.5 3 2 3 4.5 3 3.5 3 0 3 0 3 3 3 2.5 3-1 3-1 3 2 3 3 3-0.5 3-1 3 2 3 2.5 3 0 3 0 3 1.5 3 1.5 3 0.5 3 0 3 1.5 3 1 3-0.5 3 0.5 3 2 3 0.5 3-0.5 3 0 3 2 3 1 3-1 3 0 3 2 3 1 3-1 3-0.5 3 2 3 1 3-1.5 3-0.5 3 1.5 3 1 3-1 3-0.5 3 1 3 0.5 3-1 3 0 3 1 3 0 3-1 3 0.5 3 1 3-0.5 3-1 3 0.5 3 1 3-0.5 3-1.5 3 0.5 3 1.5 3-0.5 3-1.5 3 0 3 1.5 3 0 3-1.5 3 0 3 1.5 3 0 3-1.5 3 0 3 1 3 0 3-0.5 3 0 3 1 3-0.5 3-0.5 3 0.5 3 1 3-0.5 3-0.5 3 1 3 1 3-1 3-0.5 3 1 3 1.5 3-0.5 3-1 3 1 3 1.5 3 0 3-1 3 1 3 1.5 3 0 3-0.5 3 0.5 3 1.5 3-0.5 3 0 3 1 3 0.5 3 0 3 0 3 1 3 0.5 3-0.5 3 0 3 1.5 3 0.5 3-1 3 0 3 1.5 3 0.5 3-1 3 0 3 1.5 3 1 3-1 3-0.5 3 1.5 3 1 3-1 3 0 3 1 3 0.5 3-0.5 3 0 3 0.5 3 0.5 3-0.5 3 0.5 3 0.5 3 0 3-0.5 3 0.5 3 1 3 0 3-1 3 0.5" stroke="#fffc00"/><path d="M66 171l3-5.5 3-11.5 3-9.5 3-4.5 3-5 3-10 3-9.5 3-3 3 0 3-3.5 3-6 3-3 3 2.5 3 2.5 3 0 3 0 3 3 3 4 3 3 3 1.5 3 3 3 4 3 3.5 3 3 3 3 3 3 3 3 3 3 3 3.5 3 3 3 2 3 2.5 3 3.5 3 4 3 2 3 1.5 3 3 3 4 3 3.5 3 1.5 3 1.5 3 4 3 3.5 3 2 3 0.5 3 1 3 2 3 1 3-0.5 3 0 3 1 3 1.5 3 0 3 0 3 0.5 3 1 3 1 3 0.5 3 0 3 0.5 3 0.5 3 0.5 3 0.5 3 0 3 0 3 0.5 3 1 3 0 3-0.5 3 0 3 1 3 1 3 0 3-1 3 0.5 3 1.5 3 0.5 3-1 3-0.5 3 1.5 3 1 3-0.5 3-1.5 3 0.5 3 2 3 0.5 3-1.5 3-0.5 3 1 3 2 3-0.5 3-1.5 3 0 3 2 3 0.5 3-1 3-1 3 1.5 3 1.5 3 0 3-1.5 3 0 3 1.5 3 1 3-0.5 3-1 3 0 3 1.5 3 0.5 3-0.5 3-1 3 0.5 3 1.5 3 0 3-0.5 3-0.5 3 0.5 3 1.5 3 0 3-1.5 3 0 3 1.5 3 1 3-1 3-1 3 0.5 3 1.5 3 0.5 3-1.5 3-0.5 3 1.5 3 1.5 3-0.5 3-1.5 3 0.5 3 1.5 3 1 3-1.5 3-0.5 3 1 3 1.5 3 0 3-1.5 3 0 3 2 3 0.5 3-1 3-0.5 3 0.5 3 1.5 3 0 3-1 3 0 3 1 3 0.5 3 0 3-0.5 3 0.5 3 0.5 3 0.5 3 0 3 0 3 0.5 3 0.5 3 0.5 3 0 3 0 3 0.5 3 1 3 0 3 0 3 0 3 0.5 3 1 3 0 3-0.5 3 0.5 3 1 3 0.5 3 0 3-0.5 3 0.5 3 1.5 3 0 3-0.5" stroke="#fff600"/><path d="M66 183l3-6 3-5 3-12.5 3-12 3-2 3-8 3-10 3-2 3-6 3-3 3 0.5 3-6.5 3 2 3 3.5 3-4.5 3 4.5 3 5.5 3 0 3 4 3 0.5 3 2.5 3 10 3 0.5 3-1.5 3 6.5 3 3.5 3 5 3 3.5 3-3 3 5.5 3 7 3-0.5 3 2.5 3 3 3 1.5 3 6 3 1.5 3 0 3 5.5 3 2 3 1 3 5 3 1.5 3 2 3 2.5 3-1.5 3 3 3 2.5 3-3 3 0.5 3 1.5 3 0.5 3 2 3-2 3-1.5 3 4 3 0.5 3-1.5 3 1 3-0.5 3 1.5 3 1.5 3-2 3 0 3 1.5 3-1 3 1 3 0 3-0.5 3 1 3-0.5 3-0.5 3 2 3-0.5 3-1 3 1 3 0 3 1 3 0 3-2 3 1 3 2 3-1 3-0.5 3-0.5 3 0 3 2.5 3-1 3-2 3 1.5 3 0.5 3 0 3 0.5 3-1 3 0.5 3 1 3-1.5 3 1 3 1 3-1.5 3 0.5 3 0.5 3-0.5 3 1.5 3-1 3-1 3 2 3 0.5 3-1 3 0 3-0.5 3 1 3 1.5 3-2 3-0.5 3 1.5 3 0 3 0.5 3-0.5 3-1 3 2 3 0 3-1 3 1 3 0 3-0.5 3 1.5 3-1 3 0.5 3 1 3-1.5 3 0.5 3 1.5 3-0.5 3 0 3 0 3 0 3 2 3 0 3-2 3 1.5 3 0.5 3 0.5 3 0.5 3-1.5 3 0.5 3 2 3-1 3 0 3 1 3-0.5 3 1 3 0 3-0.5 3 1.5 3-0.5 3-0.5 3 1.5 3 0 3 0 3 1 3-1 3 1.5 3 1.5 3-1.5 3 0 3 1.5 3 0 3 1 3-0.5 3-0.5 3 2 3 0.5 3-1 3 1 3 0 3 0.5 3 1.5 3-1 3 0 3 1.5 3-0.5 3 0.5 3 1 3-1" stroke="#fff000"/><path d="M66 170l3-6.5 3-10.5 3-7 3-4 3-14.5 3-5.5 3-3.5 3-6 3-3 3-6 3 0 3-0.5 3-1.5 3-2 3 5.5 3 5 3-5 3 7 3 5 3 1 3 4 3 2.5 3 6 3 2.5 3 3 3 2.5 3 6.5 3 3.5 3-1.5 3 7.5 3 3 3 1 3 3.5 3 3 3 4 3 1.5 3 3 3 2.5 3 4.5 3 1.5 3 0.5 3 6.5 3 1 3 1 3 2.5 3 1.5 3 0.5 3-0.5 3 1 3 0 3 1.5 3-1 3-0.5 3 3.5 3-2 3 0 3 1.5 3 0.5 3-0.5 3 0 3 1.5 3-0.5 3 1 3-1 3 0 3 2 3-1.5 3 0 3 1.5 3 0 3-0.5 3 0 3 1.5 3-0.5 3 0.5 3-0.5 3 1 3 1.5 3-2 3 1 3 1 3 0 3-0.5 3 1 3 0.5 3-0.5 3 0.5 3 0 3 1 3 0.5 3-1.5 3 1.5 3 1 3-0.5 3-0.5 3 1.5 3 0.5 3-1.5 3 1.5 3 0 3 0.5 3 0 3-1 3 2 3 0 3-1 3 0 3 1.5 3-0.5 3-1 3 1.5 3-0.5 3 0.5 3 0 3-0.5 3 1.5 3-1 3-0.5 3 0.5 3 1 3-1 3-0.5 3 1.5 3-1 3 0.5 3-0.5 3 0 3 1 3-1 3 0 3 0.5 3 0.5 3-1 3 0 3 1.5 3-1 3 0.5 3 0 3 0 3 0.5 3-0.5 3 0.5 3 0.5 3 0.5 3-1.5 3 1.5 3 1 3-1.5 3 1 3 0 3 0.5 3 0 3 0 3 0.5 3 0.5 3 0.5 3-1 3 2 3 0.5 3-1 3 1 3 0.5 3 0.5 3 0 3 0.5 3 1 3 0 3 0.5 3-0.5 3 2 3 0 3-1 3 2 3 0 3 0 3 0 3 1 3 0.5 3 0 3 0 3 0 3 1.5 3-0.5 3-0.5 3 1.5" stroke="#ffea00"/><path d="M66 188.5l3-5 3-11.5 3-5.5 3-7 3-14.5 3-5.5 3-3 3-9 3-2.5 3-3 3-5.5 3 2.5 3-1.5 3-4 3 6.5 3 3 3-2.5 3 5.5 3 3 3 1.5 3 6 3 0.5 3 2.5 3 7.5 3 1 3 1 3 6 3 2.5 3 2 3 4 3 1 3 3 3 4.5 3 0 3 2.5 3 5 3 1.5 3 1.5 3 3.5 3 2 3 3.5 3 2.5 3 0.5 3 3 3 3 3-0.5 3 0.5 3 1.5 3 0 3 0.5 3 0 3 0 3 1.5 3 0 3-0.5 3 0.5 3 1.5 3-0.5 3 0 3 0.5 3 0.5 3 0.5 3 0 3-0.5 3 1 3 0.5 3-0.5 3 0 3 0.5 3 0 3 0 3 0 3 0.5 3 0.5 3-0.5 3 0 3 0.5 3 0.5 3-0.5 3 0 3 0.5 3 0 3 0 3 0 3 0 3 0.5 3 0.5 3-1 3 0 3 1 3 0 3-0.5 3 0.5 3 0 3 0.5 3 0 3-1 3 1 3 0.5 3-1 3 0.5 3 0.5 3 0 3 0.5 3-0.5 3 0 3 1 3 0 3-1 3 1 3 0.5 3-1 3 0.5 3 0 3 0 3 1 3-0.5 3-0.5 3 1.5 3-0.5 3-0.5 3 1 3 0 3 0 3 0.5 3-1 3 0.5 3 1.5 3-1 3-0.5 3 1.5 3-0.5 3 0 3 1 3-1 3 1 3 1 3-1.5 3 1 3 1 3-1 3 0.5 3 0.5 3-0.5 3 1 3 0 3-1 3 2 3 0 3-1 3 1 3 0.5 3-0.5 3 1 3-0.5 3 0 3 1.5 3-0.5 3-0.5 3 1.5 3 0 3-0.5 3 1.5 3-0.5 3 0.5 3 1.5 3-1 3 0 3 2 3-1 3 0 3 1.5 3-0.5 3 0.5 3 1 3-1 3 1 3 1.5 3-1.5 3 0.5 3 1.5 3-1 3 1 3 0.5 3-1" stroke="#ffe400"/><path d="M66 163l3-6 3-7 3-9.5 3-5.5 3-10 3-9.5 3 0 3-8 3-7 3 3 3-6 3-4 3 4.5 3-2.5 3 2 3 4 3-0.5 3 5 3 2.5 3 0.5 3 7 3 1 3 2.5 3 6.5 3 0.5 3 3.5 3 5.5 3 0 3 5.5 3 3.5 3 0 3 6 3 2 3 1 3 6 3 1.5 3 2 3 5 3 1.5 3 3 3 3.5 3 2 3 4.5 3 1 3 1 3 4.5 3-1 3-0.5 3 4 3-1.5 3-0.5 3 3.5 3-0.5 3 0 3 1.5 3 0.5 3 1 3-0.5 3 1.5 3 2 3-2 3 1.5 3 2.5 3-2.5 3 0.5 3 2.5 3-1.5 3 0 3 2 3-0.5 3 0 3 0.5 3 1 3 0 3-1 3 2 3 0.5 3-2.5 3 2.5 3 1.5 3-3 3 1.5 3 2 3-2.5 3 0.5 3 1.5 3-0.5 3-0.5 3 0.5 3 1.5 3-1 3-1 3 3 3-1 3-2 3 3 3 0 3-2.5 3 2 3 1 3-1.5 3 0.5 3 1 3 0 3-1 3 0.5 3 2 3-2 3-0.5 3 3 3-2 3-1 3 3 3-1 3-1.5 3 2 3 0 3-1 3 0 3 1 3 0.5 3-1.5 3 1 3 1.5 3-2.5 3 0.5 3 2.5 3-2.5 3 0 3 2.5 3-1.5 3-0.5 3 1.5 3 0 3-0.5 3 0 3 1 3 0.5 3-1.5 3 1.5 3 1 3-2.5 3 1.5 3 1.5 3-2 3 1 3 1 3-1 3 0.5 3 0.5 3 0 3 0 3-0.5 3 1.5 3 0 3-1 3 1.5 3 0 3-1 3 1.5 3 0.5 3-1 3 1.5 3 0 3 0 3 1 3-0.5 3 1 3 0 3-0.5 3 1.5 3 0 3-0.5 3 1.5 3-0.5 3 0 3 1.5 3-0.5 3 0.5 3 1 3-1 3 1 3 0.5 3-0.5 3 1" stroke="#ffde00"/><path d="M66 167l3-11.5 3-7 3-4.5 3-8 3-6.5 3-15 3-0.5 3-3.5 3-5 3-0.5 3-8.5 3 2 3-2 3 5 3 3 3-7 3 7.5 3 3.5 3 5.5 3 0.5 3-0.5 3 8.5 3 0 3 7.5 3 2.5 3 0 3 5 3 2 3 8.5 3-1.5 3 1 3 5.5 3 2 3 6 3-1 3 3.5 3 3 3 2 3 7 3-1 3 2.5 3 2.5 3 4.5 3 4 3-2.5 3 3 3 0 3 1.5 3 2 3-1.5 3 1.5 3-1.5 3 3 3 1.5 3-2 3 1 3 0 3 3 3 0 3-0.5 3 1.5 3-1.5 3 2.5 3 0 3 0 3-0.5 3-0.5 3 3.5 3-1 3-0.5 3 0 3 0.5 3 2 3-1 3 1 3-0.5 3-0.5 3 2.5 3-0.5 3 0.5 3-2 3 1.5 3 2 3-1.5 3 1 3-1 3 1 3 0.5 3 0 3 1 3-2.5 3 2 3 1 3-0.5 3 0 3-1.5 3 2.5 3-0.5 3 0.5 3 0.5 3-1.5 3 1.5 3 0 3 1 3-0.5 3-1.5 3 2 3 0 3 0.5 3-1 3 0 3 1 3-1 3 2 3-1.5 3-0.5 3 1 3 0.5 3 1 3-2.5 3 1 3 1 3-0.5 3 1 3-1.5 3 1 3-0.5 3 0.5 3 1.5 3-2.5 3 1 3 0 3 1.5 3-0.5 3-1.5 3 1.5 3-0.5 3 1 3 0.5 3-1 3 0.5 3-0.5 3 2 3-0.5 3-1.5 3 1.5 3 0 3 1.5 3-1.5 3 0.5 3 0.5 3-1 3 2 3-0.5 3-0.5 3 0 3 0.5 3 2 3-1.5 3 0.5 3 0 3 0.5 3 1.5 3-1 3 1 3-1 3 1 3 1.5 3-1 3 0.5 3-0.5 3 2 3 0.5 3-1 3 1 3-1 3 1.5 3 0.5 3 0 3 0 3-1 3 2.5 3 0 3-0.5 3 0" stroke="#ffd800"/><path d="M66 176.5l3-3.5 3-4 3-10.5 3-14.5 3-8.5 3-0.5 3-4.5 3-11 3-8 3 1.5 3 1.5 3-4.5 3-4 3 2 3 3 3 1.5 3 3 3 3.5 3 1 3 0.5 3 5.5 3 7 3 1.5 3-0.5 3 3.5 3 7 3 3.5 3 0 3 3 3 5 3 2 3 1 3 3.5 3 5 3 1.5 3 0 3 3.5 3 5.5 3 2.5 3-0.5 3 2.5 3 5 3 3 3 1 3 1 3 1.5 3 0.5 3 1 3 1.5 3 0.5 3-1.5 3 0 3 3 3 2 3-1.5 3-2 3 2 3 3 3 0 3-1.5 3 0 3 2 3 0.5 3 0 3 0 3 0 3 0 3 0.5 3 1 3 0.5 3-1.5 3 0 3 1.5 3 1.5 3-1 3-1 3 1 3 1 3 0 3-1 3 1 3 0.5 3-0.5 3-0.5 3 1.5 3 0.5 3-1 3-0.5 3 1 3 1.5 3-1 3-0.5 3 0.5 3 0.5 3 0 3 0 3 0.5 3 0 3-0.5 3 0.5 3 1.5 3-0.5 3-1.5 3 0 3 2.5 3 0.5 3-1.5 3-1 3 1 3 1.5 3-0.5 3-1 3 0.5 3 0.5 3 0 3 0.5 3 0 3-0.5 3-0.5 3 1 3 1.5 3-0.5 3-1.5 3 0 3 2 3 0.5 3-1.5 3-0.5 3 1.5 3 0.5 3-1 3 0 3 1 3 0 3-0.5 3 0.5 3 1 3 0 3-1 3 0 3 1 3 0.5 3-0.5 3 0 3 0.5 3 0 3 0 3 0.5 3 0.5 3-0.5 3-0.5 3 1 3 1.5 3-1 3-1.5 3 1 3 1.5 3 0.5 3-1.5 3 0 3 1 3 1 3 0 3-0.5 3 0.5 3 0 3 0.5 3 1 3 0 3-0.5 3-0.5 3 1.5 3 1.5 3-1 3-1 3 1 3 1.5 3 0 3-1 3 0.5 3 1 3 0 3 0 3 0.5 3 0.5" stroke="#ffd300"/><path d="M66 163l3-5.5 3-14.5 3-6.5 3-2.5 3-10.5 3-11 3-4 3-2.5 3-3.5 3-5 3-6 3 1.5 3 4.5 3-5 3-3 3 10.5 3 5 3-6.5 3 3 3 11 3 1 3-2 3 6.5 3 6 3 1 3 3 3 4 3 2.5 3 4.5 3 3.5 3 0.5 3 3.5 3 6 3 1 3 1 3 5.5 3 3.5 3 1 3 4 3 3.5 3 1.5 3 4 3 4 3 0 3 1.5 3 5 3-0.5 3-2.5 3 3.5 3 3 3-2.5 3 0 3 3 3 1 3-1 3 0.5 3 1.5 3 1 3 1 3-1 3 0.5 3 2.5 3 0 3-2 3 1.5 3 3 3-2 3-1.5 3 2.5 3 1.5 3-2 3 0 3 2 3 0 3-0.5 3 0.5 3 0 3 1 3 0.5 3-1 3 0 3 2 3-0.5 3-1.5 3 1.5 3 1.5 3-1.5 3 0 3 1.5 3-0.5 3-0.5 3 1 3 0 3-0.5 3 1 3 1 3-1.5 3 0.5 3 1.5 3-0.5 3-1 3 1.5 3 0.5 3-0.5 3 0 3 0.5 3 0 3 1 3-0.5 3-1 3 1.5 3 1.5 3-2 3-1 3 3 3 0 3-2.5 3 1 3 2 3-0.5 3-1.5 3 1 3 0.5 3 0 3-0.5 3 0 3 0.5 3 1.5 3-1.5 3-1 3 2 3 1 3-2 3 0 3 2 3-0.5 3-1.5 3 1.5 3 1 3-1 3 0 3 0.5 3 0 3 0 3 1 3-1 3 0 3 1.5 3-0.5 3-1 3 1 3 0.5 3-0.5 3 0.5 3 0.5 3-0.5 3 0.5 3 0.5 3-1 3 0.5 3 2 3-0.5 3-1.5 3 1.5 3 1.5 3-1 3-1 3 2 3 0.5 3-0.5 3 0 3 1 3 0.5 3 0 3-0.5 3 0.5 3 1.5 3 0 3-1.5 3 1 3 2 3-1 3-1 3 2 3 1" stroke="#ffcd00"/><path d="M66 185l3-5 3-9.5 3-9.5 3-9 3-4.5 3-12 3-8 3 1 3-9 3 0 3-6.5 3-3 3 9 3-10 3 5 3 4.5 3-2 3 9 3-6 3 7 3 8 3-4.5 3 7.5 3 1.5 3 4.5 3 4.5 3-1.5 3 6 3 4 3 1 3 1.5 3 4 3 3 3 2 3 2.5 3 0.5 3 7 3 0.5 3 0 3 6.5 3 0 3 5 3 1 3-0.5 3 7.5 3-3 3 1 3 2 3-1.5 3 4 3-3 3 0.5 3 3.5 3-2 3 1.5 3-0.5 3 1 3 1.5 3-1 3 0.5 3 1.5 3 0.5 3-1 3 1 3 0.5 3 0 3 0.5 3-2 3 3 3 0 3-2 3 2.5 3-1.5 3 2 3 0 3-2.5 3 3.5 3-1 3-0.5 3 1 3-1 3 2.5 3-1.5 3-0.5 3 2 3-1 3 0.5 3-0.5 3 0.5 3 1 3-0.5 3-0.5 3 0.5 3 1.5 3-1.5 3 0.5 3 0 3 0 3 1.5 3-2.5 3 2 3 1 3-2 3 2 3-1.5 3 1.5 3 0.5 3-2.5 3 2.5 3-0.5 3-0.5 3 1 3-1.5 3 2 3-0.5 3-1 3 1 3 0.5 3 0 3-0.5 3 0.5 3 0 3 1 3-1 3-0.5 3 2 3-1.5 3 0.5 3 0 3 0 3 2 3-2.5 3 1 3 1.5 3-2 3 2 3-1.5 3 1 3 1.5 3-2.5 3 1.5 3 0 3 0 3 0.5 3-1 3 1 3 0.5 3-0.5 3 0 3 0.5 3 0.5 3-0.5 3 0.5 3-0.5 3 1.5 3-0.5 3-1 3 2 3-1 3 0.5 3 0.5 3-1 3 3 3-2 3 0 3 2 3-1.5 3 2 3-1.5 3 0.5 3 2 3-1.5 3 0.5 3 0.5 3 0.5 3 0.5 3-1 3 1 3 0.5 3 0.5 3-1 3 1 3 0.5 3 0 3 0.5" stroke="#ffc700"/><path d="M66 185.5l3-5.5 3-4.5 3-10 3-12.5 3-8.5 3-6 3-7 3-7.5 3-3 3-2 3-5 3-4 3 1 3 2.5 3 0 3-0.5 3 3 3 4 3 3 3 1 3 1.5 3 4 3 5 3 3.5 3 0.5 3 1.5 3 5.5 3 5.5 3 1 3-1.5 3 4 3 7 3 2.5 3-2 3 1.5 3 7 3 4.5 3-1 3 0 3 6 3 5.5 3 0 3 0 3 4 3 4 3 0 3-0.5 3 1.5 3 1.5 3 0 3 0 3 1.5 3 1 3 0 3 0 3 1.5 3 1 3 0 3 0 3 1 3 1.5 3 0 3 0 3 0 3 1 3 1 3 0 3-0.5 3 0 3 1.5 3 1 3-1 3-1 3 1.5 3 2 3-0.5 3-1.5 3 0 3 2.5 3 0.5 3-1.5 3-1 3 2.5 3 1 3-1.5 3-1 3 1.5 3 1.5 3-1 3-0.5 3 0.5 3 1 3-0.5 3 0 3 0.5 3 0.5 3-0.5 3 0 3 0.5 3 0.5 3-0.5 3 0 3 0.5 3 0.5 3-0.5 3-0.5 3 0.5 3 0.5 3 0.5 3-0.5 3-0.5 3 0 3 1 3 0.5 3-1 3-1 3 1.5 3 1 3-1 3-1.5 3 1 3 2 3-0.5 3-2 3 0 3 2 3 0.5 3-2 3-0.5 3 1.5 3 0.5 3-0.5 3-1 3 1 3 0.5 3-0.5 3 0 3 0.5 3 0 3-0.5 3 0 3 1 3 0 3-0.5 3 0 3 0.5 3 0.5 3-0.5 3-0.5 3 0.5 3 0.5 3 0.5 3-0.5 3-0.5 3 0.5 3 1 3 0 3-1 3 0 3 1.5 3 1 3-1 3-1 3 1 3 2 3-0.5 3-1.5 3 1 3 2 3 0 3-1.5 3 0.5 3 1.5 3 0.5 3-0.5 3-0.5 3 1.5 3 0.5 3-0.5 3 0.5 3 0.5 3 0.5 3 0 3 0 3 1" stroke="#ffc100"/><path d="M66 181.5l3-6 3-6 3-10.5 3-10 3-6.5 3-8 3-8.5 3-3 3-4 3-5 3-1.5 3-2 3-2.5 3 3.5 3 1.5 3-1 3 4.5 3 4 3 0 3 3 3 5 3 2 3 3 3 4 3 2 3 4 3 4.5 3 0.5 3 3 3 5.5 3 1 3 1 3 5 3 3 3 1.5 3 3 3 2.5 3 2.5 3 4 3 1.5 3 1.5 3 5 3 2.5 3 0 3 2.5 3 2.5 3 0 3 0 3 1 3 0.5 3 1.5 3 0.5 3-1 3 1.5 3 2 3-1 3 0 3 2 3 0.5 3-0.5 3 0.5 3 0.5 3 1 3 0.5 3-1 3 0.5 3 1.5 3 0 3-1.5 3 1.5 3 1 3-1 3 0 3 0.5 3 0.5 3 0.5 3-0.5 3 0 3 1 3 1 3-1.5 3 0 3 1.5 3 0 3-1 3 0.5 3 0.5 3 0.5 3 0 3-1 3 0.5 3 1.5 3-1 3-1 3 1.5 3 1 3-1.5 3 0 3 1 3 0.5 3 0 3-1 3 0 3 1.5 3 0 3-1.5 3 0.5 3 1.5 3-0.5 3-1 3 1 3 0.5 3 0 3-0.5 3-0.5 3 1 3 1 3-1.5 3-0.5 3 2 3 0 3-1.5 3 0.5 3 0.5 3 0 3 0 3-0.5 3 0.5 3 1 3-0.5 3-1.5 3 1.5 3 1 3-1.5 3 0 3 1 3 0.5 3-0.5 3-0.5 3 0 3 1 3 0.5 3-1.5 3 0.5 3 1.5 3-0.5 3-1 3 1 3 0.5 3 0 3-0.5 3 0 3 0.5 3 1 3-1 3-0.5 3 1.5 3 0.5 3-1 3 0 3 1.5 3 0 3 0 3 0 3 0.5 3 1 3 0 3-1 3 1 3 1.5 3-1 3-0.5 3 1.5 3 0.5 3-0.5 3 0 3 0.5 3 1 3 0.5 3-1 3 0 3 2 3 0 3-1 3 0.5" stroke="#ffbb00"/><path d="M66 181.5l3-3.5 3-6.5 3-11.5 3-8 3-10.5 3-4 3-5 3-7.5 3-3.5 3-6.5 3 1.5 3-0.5 3-1.5 3 0 3-2 3 6.5 3 3.5 3 2.5 3 1.5 3-1 3 7 3 4 3 4.5 3 1.5 3-0.5 3 6 3 3.5 3 5.5 3 1 3-0.5 3 4 3 3 3 5.5 3 1 3-0.5 3 3 3 2.5 3 6 3 1.5 3 0.5 3 1.5 3 2.5 3 6 3 1 3 0.5 3-0.5 3 0.5 3 3.5 3 0 3 0 3-1.5 3 0 3 3 3 0.5 3 0.5 3-1.5 3-0.5 3 2.5 3 1 3 1 3-1.5 3-0.5 3 1 3 1 3 1.5 3-1.5 3-1 3 1 3 1 3 1.5 3-1.5 3-0.5 3 0 3 1 3 2 3-1 3-0.5 3-0.5 3 1 3 2 3-1 3 0 3-1.5 3 1 3 1.5 3 0 3 0 3-1.5 3 0.5 3 1.5 3 0.5 3 0 3-1.5 3 0 3 1.5 3 0.5 3 0.5 3-1.5 3 0 3 0.5 3 1.5 3 0.5 3-1.5 3 0 3 0 3 1.5 3 0.5 3-1.5 3 0 3 0 3 1 3 1 3-1 3 0 3-1 3 1.5 3 0.5 3 0 3-0.5 3-1 3 1.5 3 0.5 3 0 3 0 3-1.5 3 1.5 3 0 3 0.5 3 0 3-1.5 3 1 3 0.5 3 0.5 3 0 3-1 3 0.5 3 0 3 1 3 0 3-1 3 1 3-0.5 3 1 3 0 3-0.5 3 0.5 3-0.5 3 1 3 0 3 0 3 0 3 0 3 1 3-0.5 3 0 3 0 3 0 3 1 3-0.5 3 0.5 3 0 3 0 3 1 3-0.5 3 1 3-0.5 3 0.5 3 1 3-0.5 3 0.5 3 0 3 0.5 3 0.5 3 0 3 0.5 3-0.5 3 0.5 3 1 3 0 3 0.5 3-1 3 1 3 0.5 3 0.5 3 0" stroke="#ffb500"/><path d="M66 163l3-4.5 3-13 3-8 3-2.5 3-8.5 3-12 3-4.5 3 0.5 3-5.5 3-7 3-0.5 3 2 3-1.5 3-1.5 3 3.5 3 4.5 3 2.5 3 1.5 3 3 3 4.5 3 5 3 2 3 2 3 5.5 3 5.5 3 2 3 1.5 3 5.5 3 5 3 1 3 2 3 5 3 4 3 1 3 2.5 3 5 3 3 3 1.5 3 3 3 4 3 2.5 3 2.5 3 3 3 2 3 1.5 3 2.5 3 1 3-0.5 3 0.5 3 2.5 3 0 3-1.5 3 2 3 2.5 3-1 3-1.5 3 2.5 3 2 3-1.5 3-1 3 3 3 1 3-2 3-0.5 3 2.5 3 0.5 3-2.5 3 0.5 3 2 3 0 3-2 3 1 3 1.5 3-0.5 3-1 3 1 3 0.5 3-0.5 3 0 3 0 3 0.5 3-0.5 3 0.5 3-0.5 3 0 3 0.5 3 0.5 3-1 3 0 3 1 3 0 3-1 3 0 3 1 3 0 3-1 3 0.5 3 1 3-0.5 3-0.5 3 0.5 3 0.5 3 0 3-0.5 3 0 3 0.5 3 0 3 0 3-0.5 3 0 3 1 3-0.5 3-1 3 1 3 1 3-1 3-1 3 1 3 1.5 3-1.5 3-1 3 2 3 1 3-2 3-0.5 3 2 3 0.5 3-1.5 3 0 3 1.5 3 0 3-1 3 0.5 3 1.5 3-0.5 3-1 3 1 3 0.5 3 0 3 0 3 0.5 3 0 3 0 3 0.5 3 0.5 3-0.5 3 0.5 3 1 3-0.5 3-0.5 3 1 3 1 3-0.5 3-0.5 3 1 3 1 3-1 3 0 3 1.5 3 0.5 3-1 3 0.5 3 1.5 3 0 3-0.5 3 0.5 3 1 3 0.5 3-0.5 3 0 3 1 3 0.5 3 0 3 0 3 0.5 3 1 3 0 3-0.5 3 0.5 3 1 3 0 3-0.5 3 1 3 1 3-1" stroke="#ffaf00"/><path d="M66 177l3-7 3-10.5 3-7 3-5.5 3-9.5 3-10 3-5 3-3.5 3-4 3-2.5 3-3 3-4.5 3 1 3 5.5 3 0.5 3-3.5 3 3.5 3 8.5 3 3 3-2.5 3 3 3 7.5 3 4 3 1 3 2 3 3.5 3 4.5 3 5 3 1.5 3-0.5 3 3.5 3 7 3 2.5 3-2 3 2 3 7 3 4 3-1 3 1.5 3 4.5 3 4 3 2 3 1.5 3 1.5 3 2 3 3 3 0.5 3-1.5 3 0 3 3 3 1.5 3-2 3-0.5 3 2.5 3 1.5 3-1 3 0 3 1 3 1 3 0 3 0.5 3 0 3 0 3 1 3 1 3-1 3-0.5 3 1 3 1 3-0.5 3-0.5 3 1 3 0.5 3-0.5 3 0.5 3 0.5 3-0.5 3 0 3 1.5 3 0 3-1 3 0 3 1.5 3 0 3-1 3 0 3 1 3 0 3 0 3 0.5 3-0.5 3 0 3 1 3 0.5 3-1.5 3-0.5 3 2 3 1 3-1.5 3-1 3 1.5 3 1 3-0.5 3-0.5 3 0 3 0.5 3 0.5 3 0.5 3-1.5 3 0 3 1.5 3 1 3-1.5 3-1 3 1.5 3 1.5 3-1.5 3-1 3 1 3 1 3 0 3-0.5 3-0.5 3 0.5 3 0.5 3 0.5 3-1 3-0.5 3 1.5 3 1 3-1 3-1 3 1 3 1 3-0.5 3-0.5 3 0.5 3 0.5 3 0 3 0.5 3-0.5 3 0 3 0.5 3 1 3-0.5 3-1 3 1 3 1 3-0.5 3-0.5 3 0.5 3 0.5 3 0 3 0 3 0.5 3-0.5 3 0 3 1 3 0.5 3-0.5 3-0.5 3 1.5 3 0.5 3-0.5 3 0 3 0.5 3 0.5 3 0.5 3 0 3 0 3 0 3 1 3 1 3-1 3-0.5 3 1.5 3 1 3-0.5 3-1 3 1 3 1 3 0 3-0.5 3 0.5 3 0" stroke="#ffa900"/><path d="M66 182l3-9 3-3.5 3-6.5 3-11 3-8.5 3-7.5 3-7.5 3-2.5 3-1.5 3-6 3-4.5 3-0.5 3 2 3 2.5 3-1 3-1.5 3 6 3 7 3-1 3 0 3 7 3 3 3 1 3 6 3 3.5 3-2.5 3 5.5 3 9 3-1.5 3-3 3 7.5 3 5.5 3-2 3 2.5 3 5 3 0 3 1.5 3 7 3 1 3-2.5 3 5 3 6.5 3-0.5 3-0.5 3 3.5 3 1.5 3 0 3 1 3 0 3-1 3 1.5 3 2 3-0.5 3-0.5 3 0 3 1.5 3 1.5 3-0.5 3-1 3 1.5 3 1.5 3-0.5 3-0.5 3 1 3 0 3 0 3 1.5 3 0.5 3-2.5 3 1 3 3 3-1 3-2 3 2 3 1 3-1.5 3 1 3 1 3-1.5 3 0 3 2.5 3 0 3-2.5 3 1 3 2 3-1 3-0.5 3 1 3 0 3-0.5 3 1.5 3-0.5 3-1 3 0.5 3 1.5 3 0 3-1 3 0 3 0.5 3 1 3 0 3-1.5 3 0.5 3 1.5 3-0.5 3-0.5 3 1 3-1 3-0.5 3 2 3 0.5 3-2.5 3 0.5 3 2.5 3-1 3-1.5 3 1.5 3 0 3-1 3 1 3 1 3-2 3-0.5 3 3 3-0.5 3-2 3 0.5 3 2 3-1 3-0.5 3 1 3-0.5 3-0.5 3 1.5 3 0.5 3-1.5 3 0 3 1.5 3 0 3 0 3-0.5 3 0 3 1 3 0.5 3-1 3 0.5 3 0.5 3 0 3 0 3 1 3-1 3-0.5 3 2 3 0.5 3-2 3 0.5 3 2 3-0.5 3-1 3 1.5 3 0 3-1 3 1.5 3 1.5 3-2 3 0 3 2.5 3 0 3-1.5 3 0.5 3 1.5 3-0.5 3 0.5 3 0.5 3-0.5 3 0 3 1.5 3 0.5 3-1 3 0 3 1 3 0.5 3 0 3-0.5 3 0" stroke="#ffa300"/><path d="M66 202.5l3-9 3-10.5 3-7 3-9 3-8 3-10.5 3-8.5 3 0.5 3-4 3-9.5 3-0.5 3 1.5 3-1.5 3-1 3-0.5 3 5 3 6 3-3.5 3 1 3 9 3 2 3 0 3 3 3 4 3 6.5 3 0 3-0.5 3 7 3 5 3-2 3 2 3 4 3 4 3 1.5 3-1 3 4 3 6.5 3-1 3 0 3 5 3 3.5 3 1.5 3 0 3 2 3 5 3 0 3-3 3 2.5 3 2.5 3-1 3-1 3 0 3 2.5 3 1 3-2.5 3 0 3 3.5 3-0.5 3-1.5 3 0.5 3 1.5 3 1 3-1.5 3-1 3 2.5 3 0.5 3-2 3 0 3 1.5 3 0.5 3-1 3-1 3 1.5 3 1.5 3-2 3-0.5 3 2 3 0.5 3-1 3-1 3 1 3 1.5 3-1 3-1.5 3 1.5 3 1.5 3-1.5 3-0.5 3 0.5 3 1.5 3 0 3-2 3 0.5 3 2.5 3-1.5 3-1 3 1 3 1 3 0 3-1.5 3 0 3 2 3 0 3-2 3 0.5 3 1.5 3-0.5 3-0.5 3-0.5 3 1.5 3 1 3-2 3-0.5 3 2 3 0 3-1 3 0 3 0.5 3 1 3-1 3-1 3 2 3 0.5 3-1.5 3 0 3 1 3 0.5 3-0.5 3-1 3 1 3 1 3-1 3-0.5 3 1 3 0.5 3 0 3-0.5 3 0 3 1.5 3-0.5 3-1.5 3 1.5 3 0.5 3-0.5 3 0 3 0 3 0.5 3 0.5 3-1 3 0.5 3 1 3-0.5 3-0.5 3 0.5 3 0.5 3 0.5 3-0.5 3-0.5 3 1.5 3 0 3-0.5 3 0.5 3 0.5 3 0.5 3 0 3 0 3 0.5 3 1 3-1 3 0.5 3 0.5 3 0 3 0.5 3 0 3 0 3 1 3 0 3-0.5 3 1 3 0.5 3 0 3 0.5 3-0.5 3 0.5 3 1" stroke="#ff9d00"/><path d="M66 195.5l3-3.5 3-10 3-11 3-5.5 3-12.5 3-9.5 3-3 3-7.5 3-3.5 3-3.5 3-9 3 2.5 3 2.5 3-4.5 3 1.5 3 0.5 3 2 3 8 3-1.5 3-1.5 3 6 3 3.5 3 4 3 3 3-2.5 3 5.5 3 6.5 3 0.5 3 3 3 2 3 1 3 6.5 3 1.5 3 0 3 5.5 3 2 3 2 3 4.5 3 1 3 3.5 3 4.5 3 0 3 3 3 4.5 3 0.5 3 2 3 0 3-0.5 3 4 3 0 3-1.5 3 1.5 3 0 3 2 3 1.5 3-2 3 0 3 2.5 3 0 3 0.5 3 0 3-1.5 3 2 3 1 3-1.5 3 0.5 3-0.5 3 0 3 1.5 3-1.5 3-0.5 3 1.5 3-1 3 0 3 0.5 3-1 3 1 3 0 3-1.5 3 1 3 0.5 3-1 3 0.5 3-1 3 0.5 3 1.5 3-1 3-1 3 1 3 0 3 0.5 3 0 3-2 3 1.5 3 1 3-0.5 3 0 3-0.5 3 0 3 2 3-0.5 3-1 3 1 3 0 3 0.5 3 0.5 3-1 3 0.5 3 1 3-1 3 1 3 0.5 3-0.5 3 1 3-0.5 3-0.5 3 2 3 0 3-1 3 0.5 3 0 3 1 3 1 3-2 3 0 3 1.5 3 0 3 0.5 3-0.5 3-1 3 1.5 3 0.5 3-1 3 0.5 3-0.5 3 0.5 3 1 3-1 3-0.5 3 1 3-0.5 3 0.5 3 0 3-1 3 1 3 0 3-1 3 1 3 0.5 3-1 3 1 3-1 3 0 3 1.5 3-1 3-0.5 3 0.5 3 0 3 1 3 0 3-1.5 3 1.5 3 1 3-0.5 3 0.5 3-0.5 3 0 3 2 3-0.5 3-0.5 3 1 3 0 3 1 3 0.5 3-1 3 1 3 1 3-0.5 3 1 3 0 3 0 3 1 3 0 3-0.5 3 1.5" stroke="#ff9700"/><path d="M66 170.5l3-8.5 3-12 3-7.5 3-7 3-3 3-14 3-8.5 3-0.5 3-2.5 3-1.5 3-10.5 3-1 3 6 3-0.5 3 2 3-3.5 3 6.5 3 7 3-1 3 3.5 3 0 3 7.5 3 5 3-1 3 5 3 2 3 6 3 3.5 3 0 3 5 3 1.5 3 5 3 2.5 3 1 3 4.5 3 1.5 3 5 3 3 3 0.5 3 4.5 3 2 3 5 3 2 3 0 3 4 3 1.5 3 2.5 3-1 3-1 3 3.5 3 0.5 3 1 3-1 3 0.5 3 3.5 3-0.5 3 0.5 3-1 3 2 3 2.5 3-1 3-0.5 3 0.5 3 2 3 1.5 3-2.5 3 0.5 3 1 3 1.5 3 0 3-2 3 1.5 3 1.5 3 0 3-0.5 3-1.5 3 3 3 0.5 3-1 3-0.5 3 0 3 2.5 3-0.5 3-1 3 0 3 0 3 2 3-1 3-0.5 3 0.5 3 0 3 1.5 3-1.5 3 0 3 1 3-0.5 3 1 3-1 3 0.5 3 0.5 3-0.5 3 1 3-1 3 0 3 1 3-0.5 3 1 3-1.5 3 0.5 3 1 3-0.5 3 0.5 3-1.5 3 1 3 1 3-1 3 0 3-1 3 1.5 3 0.5 3-1.5 3 0 3 0 3 1.5 3 0 3-2 3 0.5 3 0.5 3 1.5 3-1.5 3-1.5 3 2 3 0.5 3 0 3-1.5 3-0.5 3 2.5 3-0.5 3-0.5 3-1 3 0.5 3 2 3-1 3-0.5 3-0.5 3 1 3 1 3-1.5 3 0 3 0.5 3 0.5 3 0.5 3-1.5 3 1 3 0 3 0.5 3 0 3-1 3 1 3 0.5 3 0 3 0.5 3-1 3 1.5 3 0 3 0 3 0.5 3-1 3 1.5 3 0 3 0.5 3 0 3-0.5 3 1.5 3 0 3 0 3 0 3-0.5 3 2 3 0 3-0.5 3 0 3 0.5 3 1.5 3-0.5" stroke="#ff9100"/><path d="M66 175l3-5.5 3-6 3-11.5 3-5 3-5.5 3-14.5 3-6 3 3.5 3-7.5 3-7 3 1.5 3-3.5 3 0 3 6.5 3-3.5 3-1.5 3 11 3 3 3-3.5 3 5.5 3 5 3 1 3 6.5 3 2 3-1.5 3 7.5 3 6.5 3-2 3 2 3 6 3 2 3 2.5 3 3 3 0 3 3.5 3 6.5 3 0 3 0 3 5 3 3.5 3 1.5 3 2.5 3 1.5 3 2 3 4 3 0.5 3-1.5 3 1 3 2.5 3 0 3-0.5 3 0 3 1 3 1.5 3 0.5 3-1 3 0 3 2 3 1 3-1 3-0.5 3 1.5 3 1 3-0.5 3 0 3-0.5 3 0.5 3 1.5 3-0.5 3-1.5 3 1.5 3 1.5 3-1 3 0 3 0.5 3-0.5 3 1 3 0.5 3-1.5 3 0 3 2.5 3-1 3-1 3 1 3 0 3 0 3 1 3-1 3-1 3 2.5 3 0 3-2 3 1 3 1 3-1 3 1 3 0 3-1.5 3 2 3 1 3-2 3 0 3 1.5 3-0.5 3 0 3 0.5 3-1 3 0.5 3 2 3-1.5 3-1.5 3 2 3 0.5 3-1 3 0.5 3-0.5 3 0 3 1.5 3-0.5 3-1.5 3 1 3 1.5 3-1 3-0.5 3 0.5 3 0 3 0.5 3 0.5 3-1.5 3 0.5 3 1.5 3-0.5 3-1 3 0.5 3 0.5 3 0.5 3 0 3-0.5 3 0 3 1 3 0.5 3-1 3 0 3 0.5 3 1 3-0.5 3-0.5 3 0.5 3 0.5 3 0.5 3 0 3-1 3 0.5 3 1.5 3-0.5 3-1 3 1 3 0 3 0.5 3 0.5 3-0.5 3 0 3 1.5 3 0 3-1 3 1 3 1 3-0.5 3 0.5 3 0 3-0.5 3 1.5 3 1 3-1.5 3 0 3 2 3-0.5 3 0 3 0.5 3-0.5 3 0.5 3 1.5 3-1 3-0.5 3 1.5" stroke="#ff8b00"/><path d="M66 164l3-2 3-8 3-10 3-3 3-12 3-10.5 3 1 3-7 3-5 3 1.5 3-8.5 3-1 3 7.5 3-4.5 3 2.5 3 6 3-2.5 3 7 3 7 3-3 3 5.5 3 5.5 3 0 3 8 3 3 3-1 3 7 3 4 3 1 3 6 3 1 3 1 3 6.5 3 2 3 1.5 3 4.5 3 1 3 3 3 5.5 3 0.5 3 2.5 3 3.5 3 1.5 3 3.5 3 2 3-0.5 3 1.5 3 1 3 0 3 1.5 3-0.5 3 0 3 1.5 3 0 3 0.5 3 0.5 3-0.5 3 1 3 1 3-0.5 3 1 3-0.5 3-0.5 3 1.5 3 0 3-0.5 3 0.5 3-0.5 3 0 3 1.5 3-1 3-0.5 3 1 3-0.5 3 0.5 3 0.5 3-1.5 3 0.5 3 1.5 3-1.5 3 1 3 0 3-2 3 2 3 0.5 3-1.5 3 1 3-0.5 3-1 3 2.5 3-1 3-1.5 3 2 3-1 3 0 3 1.5 3-1.5 3-0.5 3 2 3-1 3 0 3 1 3-2 3 1 3 1.5 3-1.5 3 0.5 3 0.5 3-1.5 3 1.5 3 0.5 3-1.5 3 1 3 0 3-0.5 3 1.5 3-1 3-0.5 3 1 3 0 3 0 3 0.5 3-1 3 0 3 1.5 3-0.5 3 0 3 0.5 3-1 3 1 3 0.5 3-0.5 3 0.5 3 0 3 0 3 1 3 0 3-0.5 3 0.5 3 0 3 0.5 3 0.5 3-0.5 3 0.5 3 0.5 3 0 3 0.5 3 0 3-0.5 3 1 3 0 3 0 3 1 3-1 3 0 3 2 3-1 3 0 3 1 3-0.5 3 0.5 3 1.5 3-1.5 3 1 3 0.5 3-0.5 3 1.5 3 0 3-1 3 1.5 3 0.5 3-1 3 1.5 3-0.5 3-0.5 3 2 3-0.5 3-0.5 3 1.5 3-1 3 0 3 2 3-1 3-0.5 3 1.5" stroke="#ff8500"/><path d="M66 161.5l3-2.5 3-4.5 3-8.5 3-7 3-12 3-10 3 1.5 3-2 3-10 3-3.5 3-0.5 3-1.5 3 3.5 3 1.5 3-4.5 3 5 3 8.5 3 0 3 1.5 3 5 3 1.5 3 5 3 6.5 3-0.5 3 1.5 3 8 3 3 3 0.5 3 5 3 2.5 3 2 3 5.5 3 1.5 3-0.5 3 6 3 4.5 3 0 3 2.5 3 3.5 3 2 3 4.5 3 3 3-1 3 2.5 3 5 3 0.5 3-0.5 3 1 3-1 3 2 3 3 3-2 3-1.5 3 2.5 3 1.5 3 0 3 0.5 3-1 3-0.5 3 3.5 3 0.5 3-2 3 0 3 1 3 0.5 3 1 3 0 3-2.5 3 1.5 3 2.5 3-1 3-1 3 0 3 0 3 1.5 3 1 3-1.5 3-1.5 3 2.5 3 0.5 3-1 3 0.5 3-1 3 0 3 2 3 0 3-2 3 0.5 3 1 3-0.5 3 0.5 3 0 3-1 3 1 3 1 3-1 3-0.5 3 1 3 0 3 0 3 0.5 3-1 3 0 3 2 3-1 3-1 3 1 3 0.5 3-0.5 3 0.5 3-0.5 3-1 3 2 3 0 3-1.5 3 0 3 1 3 0 3 0.5 3 0 3-1.5 3 1 3 1.5 3-1 3-1 3 0.5 3 0 3 1 3 1 3-2 3-0.5 3 2 3 0.5 3-1 3 0 3-0.5 3 0.5 3 2 3-0.5 3-2 3 1 3 1.5 3 0 3 0 3-0.5 3-1 3 1.5 3 1.5 3-1 3-1 3 1 3 0.5 3 0.5 3 0.5 3-1.5 3 0 3 2 3 0 3-1 3 1 3 0 3 0 3 1.5 3-0.5 3-0.5 3 1 3 1 3-0.5 3 0.5 3 0.5 3-0.5 3 1 3 0.5 3-1 3 0.5 3 1.5 3-0.5 3 0 3 1 3-0.5 3 0.5 3 1 3-0.5 3-0.5 3 1.5" stroke="#ff8000"/><path d="M66 182l3-9 3-10.5 3-7.5 3-8 3-8 3-8.5 3-8.5 3-3.5 3-4 3-3.5 3-1 3-6 3-2.5 3 8.5 3 0.5 3-5.5 3 6.5 3 6 3-2 3 5 3 5 3-3 3 5 3 9 3-2.5 3 0 3 8 3 3 3 0.5 3 3.5 3 2 3 2 3 4.5 3 2.5 3 1 3 2.5 3 3.5 3 4.5 3 1.5 3 0 3 4.5 3 5 3 0 3 2.5 3 3 3-0.5 3 1.5 3 3.5 3-2.5 3-1 3 5 3 0.5 3-2.5 3 2.5 3 1 3-0.5 3 2 3 1 3-1.5 3 1.5 3 2 3 0 3-0.5 3 0.5 3 1 3 1 3-0.5 3 0 3 1 3 0 3 0.5 3 1.5 3-1.5 3 0 3 2.5 3 0 3-2 3 1.5 3 1.5 3-1.5 3 1 3 1 3-2 3 1 3 2 3-1.5 3-1 3 2 3 0 3 0 3 0 3 0 3 0 3 1 3 0 3-0.5 3 0 3 0 3 1.5 3-0.5 3-1.5 3 1.5 3 1 3-1.5 3 0.5 3 1 3-1.5 3 0.5 3 2 3-2 3-1 3 2.5 3 0 3-1.5 3 0.5 3 0.5 3-1 3 1 3 0 3-1 3 0.5 3 1 3-0.5 3-0.5 3-0.5 3 1 3 0.5 3-1 3 0 3 0.5 3-0.5 3 0.5 3 1 3-1.5 3-0.5 3 2 3 0 3-2 3 1 3 1 3-1 3 0.5 3 0.5 3-1.5 3 1 3 1.5 3-1.5 3-0.5 3 1 3 0.5 3-0.5 3 0 3 0 3 0 3 0.5 3 0 3 0.5 3-0.5 3 0 3 1.5 3 0 3-1.5 3 1.5 3 1 3-1 3 0.5 3 1 3-1.5 3 1 3 2 3-1.5 3-0.5 3 2 3 0 3-0.5 3 0.5 3 0.5 3 0 3 1 3 0 3-0.5 3 0.5 3 1 3 0 3 0" stroke="#ff7a00"/><path d="M66 171l3-10.5 3-2.5 3-6.5 3-11 3-8 3-9 3-3 3-2 3-8.5 3-1.5 3-0.5 3-4.5 3 4.5 3 1 3-3.5 3 7 3 5 3 1.5 3 3 3 0 3 7.5 3 7.5 3-3.5 3 3.5 3 8 3 2 3 3 3 2 3 2.5 3 6.5 3 1 3 1 3 5 3 1 3 3 3 5.5 3-0.5 3 2 3 5 3 2 3 2.5 3 1 3 2 3 6 3 0 3-2.5 3 3.5 3 1 3-0.5 3 0.5 3-1 3 1.5 3 1.5 3-1.5 3 1 3 0.5 3-0.5 3 2 3 0 3-1.5 3 1 3 1 3 0 3 0 3-1.5 3 1.5 3 1.5 3-2.5 3 0 3 1.5 3 0 3 0 3-0.5 3-0.5 3 2 3-0.5 3-1 3 1.5 3-1 3 0.5 3 1 3-1.5 3 0 3 1 3 0 3 0.5 3-1 3-0.5 3 2.5 3-0.5 3-2 3 1.5 3 0.5 3 0 3 0 3-1 3 1.5 3 1 3-1.5 3 1 3 0 3-0.5 3 1.5 3 0 3-1.5 3 1 3 0.5 3 0.5 3 0 3-1.5 3 1.5 3 1.5 3-2 3 0 3 1 3 0 3 0.5 3-0.5 3-0.5 3 2 3-0.5 3-0.5 3 1 3-1 3 0.5 3 1.5 3-1.5 3 0 3 1 3 0 3 0.5 3-1 3-0.5 3 2.5 3-0.5 3-1 3 0.5 3 0.5 3 0.5 3 0 3-1 3 1 3 1 3-1 3 0.5 3 0 3-1 3 1.5 3 0 3-1 3 0.5 3 0.5 3 0.5 3 0 3-1.5 3 1 3 1.5 3-1.5 3 0 3 0.5 3 0.5 3 0.5 3-1 3 0 3 1.5 3-0.5 3 0 3 0.5 3-0.5 3 0.5 3 1 3-1 3 0 3 0.5 3 0.5 3 1 3-1 3-0.5 3 2 3 0 3-1 3 0.5 3 0 3 1 3 0" stroke="#ff7400"/><path d="M66 160.5l3-6 3-2.5 3-10.5 3-7 3-12.5 3-4 3-3 3-6.5 3-5 3-6 3 2.5 3-1.5 3-1 3-2 3 4 3 6 3 1 3 2 3 0 3 8 3 3 3 2.5 3 1.5 3 2 3 9 3-0.5 3 4.5 3 0 3 4.5 3 6.5 3-1.5 3 4.5 3 0 3 6.5 3 3 3-1 3 5.5 3 0 3 7.5 3 0 3 1 3 4.5 3 1 3 6.5 3-2.5 3 1.5 3 2 3 0.5 3 3 3-3.5 3 2.5 3 0.5 3 1.5 3 0.5 3-2 3 3 3 0 3 1.5 3-0.5 3 0 3 2 3 0 3 0.5 3-1 3 1 3 1 3 0.5 3-0.5 3 0 3 1.5 3 0 3 1 3-1.5 3 1 3 1.5 3-0.5 3 0.5 3-1.5 3 2 3 0.5 3 0 3 0 3-1.5 3 3 3-1.5 3 0.5 3-0.5 3 0 3 2.5 3-2 3 1 3-1 3 1 3 1.5 3-2 3 1 3-1 3 2 3 0 3-1.5 3 1.5 3-1 3 2 3-1 3-0.5 3 1 3-0.5 3 1.5 3-1.5 3 0 3 0.5 3 0.5 3 0.5 3-1.5 3 1 3 0 3 1 3-1 3-0.5 3 1 3 0.5 3 0 3-1.5 3 1 3 0 3 1 3-0.5 3-1 3 1.5 3-0.5 3 1 3-1.5 3 0 3 1.5 3-0.5 3 1 3-2 3 1.5 3 0.5 3-0.5 3 0.5 3-1.5 3 2 3-0.5 3 0 3 0 3-1 3 2.5 3-1 3 0.5 3-0.5 3 0 3 2 3-2 3 1 3-1 3 1 3 1 3-1.5 3 1 3-0.5 3 1.5 3 0 3-1 3 1 3 0 3 1.5 3-1 3 0 3 0.5 3 1 3 0 3-0.5 3 0.5 3 0 3 1 3-0.5 3 0 3 0.5 3 0.5 3 1 3-1.5 3 1 3 0 3 1" stroke="#ff6e00"/><path d="M66 168l3-4 3-9 3-6.5 3-9.5 3-10.5 3-3.5 3-6.5 3-6 3-2.5 3-6.5 3 0 3 1 3-4 3 2 3 2 3 2 3 7 3-0.5 3 1 3 6 3 2 3 5 3 3 3-1 3 6 3 4.5 3 2 3 4 3 0 3 3 3 6.5 3 0.5 3 2 3 2.5 3 1.5 3 6 3 2.5 3 0 3 3.5 3 2.5 3 4 3 4 3-1 3 2 3 3.5 3 1 3 2 3-1 3-1 3 3.5 3 0.5 3 0 3 0 3-1 3 2.5 3 2 3-1.5 3 0.5 3 0.5 3 1 3 2 3-1 3-0.5 3 1 3 0.5 3 1 3 0 3-1.5 3 1.5 3 1 3 0 3 0.5 3-1 3 0.5 3 2 3-0.5 3 0 3 0 3-0.5 3 2 3 0 3-1 3 0 3 0 3 1 3 1 3-1.5 3 0 3 1 3 0 3 1 3-1 3-0.5 3 1.5 3 0.5 3-0.5 3 0.5 3-1.5 3 1.5 3 1 3-1 3 0 3 0 3 0 3 1.5 3-0.5 3-1 3 1 3-0.5 3 1 3 0 3-1 3 0.5 3 0.5 3 0 3 0.5 3-1 3 0 3 1.5 3-0.5 3 0 3 0 3-1 3 1.5 3 0 3-1 3 1 3-0.5 3 0.5 3 0.5 3-1 3 0.5 3 0.5 3-0.5 3 1 3-0.5 3-0.5 3 1 3-0.5 3 0 3 1 3-1 3 1 3 0 3-0.5 3 0.5 3 0 3 0 3 1 3-1 3 0 3 1 3-0.5 3 0.5 3 0 3-0.5 3 1 3 0 3-0.5 3 1 3-0.5 3 0.5 3 1 3-1 3 0.5 3 0.5 3 0 3 0.5 3 0 3-0.5 3 1.5 3-0.5 3 0.5 3 0 3-0.5 3 1 3 0.5 3-0.5 3 0.5 3 0 3 0.5 3 1 3-1 3 0 3 1" stroke="#ff6800"/><path d="M66 192l3-8 3-2 3-8 3-13.5 3-6.5 3-5 3-10.5 3-4.5 3 3.5 3-5.5 3-10.5 3 2.5 3 6.5 3-3.5 3-1 3 7.5 3 1 3-2 3 8 3 7 3-3.5 3 0 3 10 3 4 3-2 3 4.5 3 6 3-0.5 3 2 3 7.5 3 1 3-3 3 4.5 3 6.5 3 0 3 0 3 4.5 3 2.5 3 0 3 4 3 4.5 3-1 3 0.5 3 5 3 2 3-1.5 3 0.5 3 1.5 3-0.5 3 0 3 2 3 0 3-2 3 0.5 3 2.5 3-0.5 3-1 3 0.5 3 0.5 3 0 3 0.5 3 0.5 3-0.5 3-1 3 1 3 0.5 3 0 3-1 3 0 3 0.5 3 0 3 0 3 0 3-0.5 3 0 3 0.5 3 0.5 3-0.5 3-1 3 0.5 3 1 3 0 3-1 3 0.5 3 0 3-0.5 3 0.5 3 1 3-1 3-1 3 1.5 3 1 3-1.5 3-0.5 3 1.5 3-0.5 3-0.5 3 1 3 0.5 3-2 3 0.5 3 2 3-0.5 3-1.5 3 0.5 3 1 3-1 3 0 3 1.5 3-1 3-1.5 3 2 3 1 3-1.5 3-0.5 3 1.5 3-0.5 3-1 3 1.5 3 0.5 3-2 3 0.5 3 2 3-0.5 3-1.5 3 0.5 3 1.5 3-1 3 0 3 1.5 3-1 3-1.5 3 2 3 1 3-1.5 3-0.5 3 1.5 3 0 3-0.5 3 0.5 3 1 3-1.5 3 0 3 2 3 0 3-1.5 3 0.5 3 1 3-0.5 3 0 3 1 3-0.5 3-0.5 3 1 3 1 3-1 3-0.5 3 1 3 0.5 3 0 3 0 3 0.5 3 0 3 0 3 1 3 0.5 3-0.5 3 0 3 0.5 3 0.5 3 0.5 3-0.5 3 0.5 3 0 3 0.5 3 0.5 3 0 3 0 3 0 3 1 3 0.5 3-0.5 3-0.5 3 1 3 0.5" stroke="#ff6200"/><path d="M66 199l3-12.5 3-4.5 3-5.5 3-15 3-4.5 3-9 3-9.5 3 3 3-8.5 3-7.5 3 5.5 3-6.5 3 0.5 3 5 3-6.5 3 7.5 3 6 3-5.5 3 7.5 3 3 3-1 3 9.5 3-1.5 3 0.5 3 10 3-1 3 2 3 6 3-2 3 6 3 4 3-3.5 3 6 3 3 3-1 3 6 3-0.5 3 1 3 7 3-1 3 1.5 3 5 3-0.5 3 3.5 3 2 3-2.5 3 3 3 1 3-1.5 3 1.5 3-0.5 3 0 3 2.5 3-1.5 3-0.5 3 2 3-0.5 3 0.5 3 0.5 3-1 3 1.5 3 0.5 3-1 3 0.5 3 0 3 0 3 0.5 3-0.5 3 0 3 1 3-0.5 3 0 3 0 3 0 3 0.5 3 0 3-0.5 3 0 3 0.5 3 0.5 3-0.5 3 0 3 0.5 3 0 3 0 3-0.5 3 0 3 1.5 3-0.5 3-0.5 3 0.5 3-0.5 3 1 3 0 3-1 3 1 3 0.5 3-1 3 1 3-0.5 3-0.5 3 2 3-1.5 3-0.5 3 1.5 3-0.5 3 0 3 1 3-2 3 1.5 3 1 3-2 3 1.5 3-0.5 3-0.5 3 2 3-1.5 3-0.5 3 2 3-1.5 3 0.5 3 1 3-2 3 2 3 0.5 3-2.5 3 2 3 0 3-1 3 1.5 3-1 3-0.5 3 2.5 3-2 3 0 3 1.5 3-1.5 3 1.5 3 0.5 3-2 3 2 3 0 3-1.5 3 2 3-1 3 0 3 1.5 3-1.5 3 0 3 1.5 3-1 3 0.5 3 0.5 3-1.5 3 2 3 0 3-1.5 3 1.5 3-0.5 3 0 3 1.5 3-1.5 3 0.5 3 1.5 3-1 3 0.5 3 0.5 3-0.5 3 1.5 3 0 3-1 3 1 3 0.5 3-0.5 3 1 3-0.5 3 0.5 3 1 3-1 3 0.5 3 0.5 3 0 3 0.5 3 0 3-0.5" stroke="#ff5c00"/><path d="M66 194.5l3-3.5 3-9.5 3-8.5 3-5.5 3-13.5 3-5.5 3-4 3-9 3-1 3-5 3-2.5 3 1.5 3-8 3 4.5 3 4.5 3-2 3 3 3-0.5 3 4.5 3 7 3-5 3 3 3 6 3 2 3 4 3-3 3 3 3 8.5 3-1.5 3 0.5 3 1.5 3 2.5 3 6 3-2.5 3 0 3 6 3 1.5 3 2.5 3 0 3 1 3 7 3 0.5 3 0 3 3 3 0.5 3 3 3-0.5 3-2 3 3.5 3-0.5 3 0 3 1.5 3-1 3 2 3 0.5 3-1 3 2.5 3-0.5 3 0.5 3 1.5 3-0.5 3 1.5 3 0 3-1 3 2.5 3 0 3 0 3 0.5 3-0.5 3 2.5 3 0 3-1.5 3 1.5 3 1 3 0.5 3 0.5 3-2 3 2.5 3 1.5 3-1.5 3 0 3 0 3 1.5 3 1.5 3-2.5 3 1 3 1 3 0 3 0.5 3-1.5 3 1 3 2 3-1.5 3 0.5 3 0 3 0.5 3 1 3-1.5 3 0.5 3 1.5 3-1 3 0.5 3 0 3-0.5 3 1.5 3-1.5 3 0.5 3 1 3-1.5 3 1 3 0 3-0.5 3 1.5 3-2 3 0.5 3 1.5 3-1 3 0 3-1 3 0.5 3 2 3-2 3-0.5 3 1 3-0.5 3 1 3-1.5 3-1 3 2.5 3-0.5 3-1 3 0 3-0.5 3 2 3-1 3-1.5 3 1.5 3 0 3 0 3-0.5 3-1 3 2 3 0 3-1.5 3 0.5 3-0.5 3 1 3 0.5 3-1.5 3 1 3 0 3-0.5 3 1 3-1 3 1 3 0.5 3-1.5 3 1.5 3 0 3-0.5 3 1 3-0.5 3 1 3 0.5 3-1.5 3 2 3 0.5 3-0.5 3 0.5 3-1 3 2 3 1 3-2 3 1 3 0.5 3 1 3 0.5 3-1.5 3 1 3 2 3-1 3 0.5 3-0.5 3 1 3 1.5" stroke="#ff5600"/><path d="M66 172l3-7 3-9.5 3-6 3-9 3-10 3-5.5 3-5 3-6.5 3-4 3-1 3-3.5 3-3 3 2 3 2 3 0 3 4 3 5 3 0.5 3 3.5 3 6.5 3 1 3 3 3 6.5 3 2 3 2 3 6 3 3 3 2 3 4.5 3 3.5 3 2 3 2.5 3 4 3 2.5 3 1.5 3 4 3 3.5 3 0.5 3 3.5 3 4.5 3 0.5 3 2.5 3 4.5 3 0 3 1.5 3 2.5 3 0 3 0 3 1.5 3 0 3 0 3 0.5 3 0.5 3 0 3-0.5 3 1.5 3 0.5 3-1 3 1 3 1 3-1.5 3 1 3 0.5 3-1.5 3 1 3 0.5 3-1 3 0.5 3 0 3 0 3 0 3 0 3 0.5 3 0 3-1 3 1.5 3-0.5 3-1 3 1.5 3 0 3-1.5 3 2 3-0.5 3-1 3 1.5 3 0 3-1 3 1 3 0 3 0 3 0 3 0 3 0.5 3 0 3-0.5 3 1.5 3-0.5 3-0.5 3 2 3-1 3-0.5 3 2 3-1 3-0.5 3 1.5 3-0.5 3 0 3 0.5 3 0 3 0 3 0 3 0 3 1 3-0.5 3 0 3 1.5 3-1.5 3 0.5 3 1.5 3-1.5 3 0.5 3 1.5 3-1.5 3 0.5 3 1 3-1 3 0.5 3 0.5 3-0.5 3 0.5 3-0.5 3 0.5 3 0.5 3-1 3 1 3 0.5 3-1.5 3 1.5 3 0.5 3-2 3 1.5 3 0.5 3-1.5 3 1 3 0 3-0.5 3 1 3-0.5 3 0 3 0.5 3-1 3 1 3 0 3-1 3 1.5 3-0.5 3-1.5 3 2 3-0.5 3-1 3 2 3-1 3-0.5 3 1.5 3-0.5 3 0 3 0.5 3-0.5 3 1 3 0 3-0.5 3 1.5 3-1 3 0 3 1.5 3-1 3 0 3 2 3-1.5 3 0 3 2 3-1.5 3 0.5 3 1 3-0.5" stroke="#ff5000"/><path d="M66 198l3-7.5 3-10 3-6 3-9.5 3-6 3-12.5 3-4.5 3 1 3-8.5 3-3 3-4 3 4.5 3 0 3-7.5 3 8 3 4.5 3 2 3-1.5 3 2 3 12 3-2 3 0 3 5.5 3 6 3 4.5 3-4.5 3 7 3 7 3-1 3 1.5 3 1 3 8 3 0 3-2 3 6 3 2.5 3 3 3-1.5 3 3 3 6 3-1 3 2 3 2 3 3 3 2 3-2.5 3 3 3 0 3 0 3 0 3-0.5 3 2 3-1.5 3 0.5 3 1 3-1.5 3 1.5 3-0.5 3 0.5 3 0 3-1 3 2 3-1.5 3 0 3 0 3 0 3 1 3-2.5 3 1 3 1 3-1 3-0.5 3-1 3 2.5 3-1 3-2 3 1.5 3 0 3 1 3-2.5 3 0.5 3 2.5 3-2 3-0.5 3 0 3 1.5 3 0 3-2.5 3 2 3 0.5 3 0 3-1.5 3-0.5 3 3 3-1.5 3-1 3 1 3 0.5 3 0.5 3-2 3 1 3 1 3-1 3 0 3-0.5 3 1.5 3-0.5 3-1 3 1.5 3-0.5 3 0.5 3-0.5 3 0 3 1 3-1.5 3 1.5 3-0.5 3-0.5 3 1 3-0.5 3 1 3-1 3 0 3 1.5 3-1 3 0 3-0.5 3 1.5 3 0.5 3-2 3 1.5 3 0 3 0.5 3-1 3-0.5 3 3 3-1.5 3-0.5 3 0.5 3 1 3 1 3-2.5 3 1 3 1.5 3-0.5 3-0.5 3-0.5 3 2.5 3-0.5 3-1.5 3 1 3 0.5 3 1 3-2 3 0.5 3 2 3-1 3 0 3 0 3 1 3 0.5 3-1.5 3 1.5 3 0.5 3 0 3 0 3-0.5 3 1.5 3-0.5 3 0 3 0.5 3 0 3 1 3-1 3 1 3 0.5 3-1 3 1.5 3-0.5 3 0.5 3 0 3 0 3 1 3-1.5 3 1" stroke="#ff4a00"/><path d="M66 188.5l3-3 3-6.5 3-10.5 3-12 3-4 3-6.5 3-13 3 0 3-1.5 3-8.5 3-1 3-0.5 3-0.5 3-0.5 3 1 3 6 3-1 3 2 3 7 3-1.5 3 3.5 3 6.5 3-0.5 3 3.5 3 4 3 3 3 2 3 1.5 3 6 3 1 3-1.5 3 7.5 3 2 3-1.5 3 4.5 3 3.5 3 1.5 3 0 3 4 3 5 3-2 3 2.5 3 6 3-1 3 0.5 3 3 3 0.5 3 0 3-0.5 3 2 3 0.5 3-2 3 2.5 3 0.5 3-1.5 3 2 3 0 3 0 3 1 3 0 3 0.5 3-0.5 3 1 3 1 3-1.5 3 1 3 1 3-1.5 3 0.5 3 1 3 0 3-0.5 3 0 3 1.5 3-1 3-1 3 2.5 3-0.5 3-1.5 3 1.5 3 0.5 3-0.5 3-0.5 3 1 3 1 3-2 3 1 3 1.5 3-1.5 3 0 3 1.5 3-0.5 3 0 3-0.5 3 1 3 0 3-1 3 1.5 3-0.5 3-0.5 3 1.5 3-0.5 3-0.5 3 1 3 0 3-0.5 3 0 3 1 3 0 3-1.5 3 1.5 3 0.5 3-2 3 1 3 1 3-0.5 3-0.5 3 0.5 3 1 3-1 3-1 3 2.5 3-1 3-1 3 1.5 3 0 3-0.5 3-0.5 3 1 3 0.5 3-1.5 3 1 3 1 3-1.5 3 0.5 3 1 3-1 3 0.5 3 0 3 0 3 0 3 0 3 1 3-1 3 0 3 1.5 3-1 3-0.5 3 1.5 3-0.5 3-0.5 3 0.5 3 0.5 3 0 3-1 3 1.5 3 0.5 3-2 3 1.5 3 0.5 3-0.5 3 0 3 0.5 3 1 3-1 3 0 3 2 3-1.5 3-0.5 3 2 3-0.5 3-0.5 3 0.5 3 0.5 3 0.5 3-1 3 1 3 0.5 3-1 3 1.5 3 0 3-0.5 3 1 3 0 3-0.5" stroke="#ff4400"/><path d="M66 197.5l3-5 3-8 3-8.5 3-4 3-10.5 3-15 3-3 3 2.5 3-6.5 3-7.5 3 0.5 3-2.5 3-2.5 3 6 3 3 3-3 3 1.5 3 5 3 3 3 5 3 3 3-3 3 3 3 10 3 3 3-3 3 4.5 3 4.5 3 0.5 3 3.5 3 4.5 3-1 3 0 3 5 3 3 3 1.5 3 2.5 3 0 3 0.5 3 6.5 3 3.5 3-2.5 3 1.5 3 4.5 3 0.5 3 0 3 2.5 3-1 3-2 3 1.5 3 2.5 3-1 3-0.5 3 0 3-0.5 3 1.5 3 2 3-2 3-1.5 3 2.5 3 0.5 3-1 3 0.5 3 0.5 3-1.5 3 0 3 2 3-0.5 3-1 3 0 3 0 3 0.5 3 1 3-0.5 3-2 3 1 3 1.5 3-1 3-0.5 3 1 3-0.5 3-1 3 2 3 0.5 3-1.5 3-0.5 3 1 3 0.5 3 0.5 3 0 3-2 3 0.5 3 2 3 0 3-1.5 3 1 3 0 3-1 3 1.5 3 1 3-1.5 3-1 3 1.5 3 0.5 3 0 3 0 3-1 3 0 3 1.5 3 0.5 3-1.5 3 0 3 1 3-1 3 0.5 3 1.5 3-1 3-1.5 3 1.5 3 1 3-0.5 3-0.5 3 0 3-0.5 3 1 3 1 3-1 3-0.5 3 1 3 0 3-0.5 3 1.5 3 0 3-2 3 0.5 3 2.5 3-0.5 3-1.5 3 0.5 3 0 3 0.5 3 1 3-0.5 3-1 3 1 3 0.5 3-0.5 3 0.5 3 0.5 3-1 3-0.5 3 2.5 3 0 3-2 3 0.5 3 1 3 0 3 0.5 3 0 3-1 3 0.5 3 1.5 3-0.5 3 0 3 0.5 3-0.5 3-0.5 3 2 3 1 3-2 3 0 3 1.5 3 0.5 3-0.5 3 0.5 3-0.5 3 0 3 1 3 0.5 3-0.5 3 0 3 0.5 3-0.5 3 1 3 1" stroke="#ff3e00"/><path d="M66 194l3-11.5 3-8.5 3-2.5 3-12.5 3-10.5 3-1 3-10.5 3-8.5 3 3.5 3-3.5 3-7.5 3 1 3-0.5 3 0 3 4 3 0.5 3 2 3 3 3 1 3 6 3 4 3-3.5 3 6 3 7 3-2.5 3 4 3 6.5 3-2.5 3 3 3 7.5 3-1.5 3-0.5 3 6 3 1.5 3 1 3 4 3 1 3 1.5 3 3.5 3 2 3 3 3 1.5 3 0 3 5 3 2 3-2.5 3 2.5 3 2 3-3 3 2.5 3 2.5 3-3.5 3 1 3 3.5 3-1.5 3 0 3 1.5 3-0.5 3 0.5 3 1.5 3-0.5 3 0 3 0.5 3 0 3 1.5 3-0.5 3-1 3 1.5 3 0.5 3-1.5 3 2 3 0 3-2 3 2 3 1.5 3-2.5 3 1 3 1 3-1 3 0.5 3 1 3-1 3 0 3 1 3 0 3 0 3-0.5 3 0 3 1.5 3-0.5 3-1 3 1.5 3-1 3-0.5 3 2.5 3-0.5 3-2.5 3 2 3 0.5 3-1.5 3 1 3 0.5 3-1.5 3 1 3 1 3-1 3 0 3 0 3 0 3 1 3-1 3 0 3 1 3-1 3 0 3 1.5 3-1.5 3-1 3 2.5 3-0.5 3-1.5 3 1.5 3 0 3-1.5 3 2 3 0 3-1.5 3 0.5 3 1 3-0.5 3 0.5 3-0.5 3 0 3 1 3-0.5 3 0 3 1 3-1.5 3 0.5 3 2 3-1.5 3-0.5 3 2 3-1 3-0.5 3 2 3-1 3-1 3 1.5 3 0.5 3-1 3 0.5 3 0 3 0 3 1 3-0.5 3 0 3 0.5 3-0.5 3 1 3 1 3-2 3 1 3 1.5 3-1 3 0 3 1.5 3-1.5 3 0 3 2.5 3-1 3-1 3 1.5 3 0 3 0 3 0.5 3 0 3 0 3 0.5 3 0 3 0.5 3 0 3-1 3 1.5 3 0.5" stroke="#ff3800"/><path d="M66 169.5l3-6.5 3-5.5 3-9 3-11 3-3.5 3-4 3-12 3-6.5 3 2.5 3-2 3-6 3-1.5 3 0 3 1.5 3 5.5 3 1.5 3-1 3 5.5 3 5.5 3 0.5 3 4.5 3 5 3-0.5 3 2.5 3 8.5 3 2.5 3-1 3 3.5 3 5.5 3 2.5 3 2.5 3 1 3 1 3 5.5 3 4 3-0.5 3 1.5 3 5 3 1.5 3 1.5 3 4.5 3 2 3-0.5 3 3.5 3 3.5 3-0.5 3 0 3 0.5 3 0.5 3 1.5 3 1 3-2 3 0 3 3 3 0.5 3-2 3 1.5 3 1 3-0.5 3 1 3 1 3-1 3 0 3 1.5 3 0 3 0 3 0.5 3-0.5 3 0.5 3 2 3-0.5 3-2 3 1.5 3 2 3-1 3 0 3 0.5 3 0 3 0.5 3 1 3-0.5 3-0.5 3 0.5 3 0.5 3 0 3 0.5 3 0 3-1.5 3 1.5 3 1.5 3-1 3-1 3 1.5 3 0.5 3-0.5 3 0.5 3-0.5 3 0 3 1.5 3 0 3-1 3 0.5 3 1 3-1 3 0.5 3 1 3-1 3-0.5 3 1.5 3 0.5 3-1.5 3 0 3 0.5 3 0.5 3 0.5 3-0.5 3-1 3 1 3 1 3-1 3-0.5 3 1 3 0 3-0.5 3 1 3 0 3-1.5 3 0.5 3 1 3 0 3-0.5 3 0 3-0.5 3 1 3 1 3-1.5 3-0.5 3 1.5 3 0.5 3-1.5 3 0.5 3 0.5 3-0.5 3 0.5 3 0.5 3-0.5 3-0.5 3 0.5 3 0 3 0.5 3 0 3-0.5 3-0.5 3 2 3 0 3-1.5 3 0 3 1.5 3 0 3-0.5 3 0.5 3-0.5 3 0.5 3 1 3 0 3-0.5 3 0.5 3 0 3 0 3 1 3 0.5 3-1.5 3 1 3 1.5 3-0.5 3-1 3 1 3 0.5 3 0 3 0.5 3 0 3-0.5 3 1 3 0.5 3-0.5" stroke="#ff3200"/><path d="M66 169l3-4 3-8.5 3-8 3-7 3-9 3-8 3-5.5 3-5.5 3-2.5 3-1 3-6.5 3-4.5 3 4.5 3 4 3-1 3 0.5 3 2.5 3 5 3 6 3 0.5 3-1.5 3 6 3 7 3 1.5 3 1 3 3 3 3.5 3 4 3 3.5 3 0.5 3 2.5 3 4 3 2 3 2 3 4 3 2 3 0.5 3 4 3 3.5 3 2.5 3 2 3 1.5 3 2 3 5 3 1.5 3-1.5 3 0.5 3 2.5 3 1 3 0 3-0.5 3 0 3 2 3 1.5 3-1 3-0.5 3 2 3 1 3 0 3 0.5 3 0.5 3 0 3 1 3 0 3 0 3 1 3 0 3-0.5 3 1.5 3 1 3-0.5 3-0.5 3 1 3 0.5 3 1 3 0 3-1.5 3 1 3 2 3-0.5 3-1 3 0.5 3 0.5 3 0.5 3 0.5 3-1 3 0 3 1.5 3 0 3-0.5 3 0.5 3 0 3 0 3 0.5 3 0.5 3-0.5 3 0 3 0 3 0 3 1 3 0.5 3-1 3-0.5 3 2 3 0.5 3-1 3-0.5 3 0 3 1 3 1 3-1 3-1 3 1 3 1 3-1 3 0 3 0 3 0 3 0.5 3 0.5 3-1 3 0.5 3 0.5 3-0.5 3 0 3 1 3-0.5 3-1 3 1 3 0.5 3 0 3-0.5 3-0.5 3 0.5 3 1.5 3-0.5 3-1.5 3 0.5 3 1 3 0.5 3-0.5 3-0.5 3 0 3 1 3 0.5 3-1 3 0 3 0.5 3 0 3 0 3 0.5 3-0.5 3 0 3 0.5 3 0 3 0 3 0.5 3-0.5 3-0.5 3 1.5 3 0.5 3-1 3 0 3 0.5 3 0.5 3 1 3-1 3-0.5 3 1 3 1 3-0.5 3-0.5 3 0.5 3 0.5 3 0.5 3 0 3-0.5 3 0.5 3 0.5 3 0 3 0 3 0.5 3 0 3-0.5 3 1" stroke="#ff2c00"/><path d="M66 188.5l3-2 3-11.5 3-11.5 3-12 3-4 3-3.5 3-11 3-6.5 3-5 3-1 3 1 3-6.5 3 0 3 2 3 1 3 4.5 3 0.5 3 5 3 4 3-1.5 3 4.5 3 5 3 5.5 3 3.5 3-3 3 5 3 7 3 4.5 3 2 3-3 3 4.5 3 7.5 3 2.5 3 1 3-1 3 4 3 7 3 1 3 2 3 0.5 3 3.5 3 5.5 3 0.5 3 2 3 1.5 3 0.5 3 2 3-0.5 3 1.5 3 1.5 3-1 3 0.5 3 0 3 2 3 1.5 3-2 3-0.5 3 1.5 3 1.5 3 1.5 3-2.5 3-0.5 3 1.5 3 1 3 0.5 3-2.5 3-0.5 3 2 3 0 3 0 3-1.5 3-0.5 3 1.5 3-0.5 3-0.5 3 0 3-0.5 3 0.5 3-1 3 0.5 3 1 3-1 3-0.5 3-0.5 3 0.5 3 2 3-1.5 3-1 3-0.5 3 1 3 2 3-2 3-1.5 3 0.5 3 1 3 1.5 3-2 3-1 3 1 3 0.5 3 0.5 3-1 3-1 3 1 3 0 3 0 3 0 3-0.5 3 1 3-1 3 0 3 1 3-0.5 3 0 3-1 3 0 3 2 3-0.5 3-1 3-1 3 0.5 3 2 3-0.5 3-1 3-0.5 3 0.5 3 2 3-0.5 3-1.5 3 0 3 0.5 3 1.5 3-0.5 3-1 3 1 3 0 3 0.5 3 0 3-0.5 3 1 3-0.5 3 0 3 1 3 0 3 0.5 3-0.5 3-1 3 2 3 0.5 3 0 3-1 3-0.5 3 2 3 1 3-1 3-0.5 3-0.5 3 2 3 1 3-1 3 0 3 0 3 1.5 3 0.5 3-1 3 0.5 3 0 3 0.5 3 0.5 3-0.5 3 1 3 0 3 0 3 0.5 3 0 3 1 3 0 3-1.5 3 1.5 3 0.5 3 1 3-1 3-1 3 1 3 1" stroke="#ff2700"/><path d="M66 190.5l3-4 3-9 3-9 3-5.5 3-10.5 3-9.5 3-3 3-4.5 3-4.5 3-3 3-5 3 2 3 2 3-6 3 3.5 3 9 3-1.5 3-1.5 3 6.5 3 4.5 3 2 3 0.5 3 2.5 3 8.5 3 1.5 3-3 3 7 3 7 3-2.5 3 1 3 5 3 3 3 1 3 0.5 3 3 3 5.5 3-0.5 3-0.5 3 6 3 2.5 3-0.5 3 3 3 2.5 3 1.5 3 1.5 3 0 3 0.5 3 2 3-1 3-0.5 3 1.5 3 0 3 0 3 1.5 3-1.5 3 0.5 3 2 3-1 3-0.5 3 2 3 0 3-0.5 3 0 3 0 3 1.5 3-0.5 3-2 3 2 3 1.5 3-2.5 3 0 3 2 3 0 3-1 3-0.5 3 1 3 1.5 3-1.5 3-1 3 2.5 3 0 3-2 3 1 3 1 3-0.5 3-0.5 3 0 3 1 3 0.5 3-1 3 0 3 1.5 3-0.5 3-1 3 1 3 0 3 0 3 1 3-1 3 0 3 1.5 3-0.5 3-0.5 3 0.5 3 0 3 0.5 3 0 3-1 3 1 3 1 3-2 3 0 3 2 3-0.5 3-1 3 0.5 3 0.5 3 0.5 3-1 3-0.5 3 2 3 0 3-2 3 1 3 1.5 3-1 3-0.5 3 0.5 3 0.5 3 0 3-1 3 0 3 2 3-1 3-1 3 1.5 3 0.5 3-1 3 0.5 3 0 3 0 3 0.5 3-0.5 3 0 3 1 3-0.5 3 0 3 0.5 3-0.5 3 0.5 3 0.5 3-1 3 0 3 1.5 3-1 3-0.5 3 1 3 0.5 3 0 3-0.5 3 0 3 1.5 3 0 3-2 3 1.5 3 1.5 3-1.5 3 0 3 1 3 0.5 3-0.5 3-0.5 3 0.5 3 1.5 3-1 3-1 3 2 3 0.5 3-1 3 0 3 1 3 0 3 0 3-0.5 3 0.5" stroke="#ff2100"/><path d="M66 194l3-10 3-8.5 3-3 3-15 3-7.5 3-3.5 3-11 3-3 3-3 3-5 3-1.5 3-4 3 1.5 3 1.5 3-1.5 3 4.5 3 3.5 3-1 3 4 3 5.5 3-1 3 3.5 3 6 3-1 3 4.5 3 4 3 0.5 3 5 3 0 3 3.5 3 4 3-2 3 5.5 3 3 3-2.5 3 7 3 1 3 0 3 5.5 3 0.5 3 3 3 2.5 3 0.5 3 4.5 3 0 3 0 3 3.5 3-2 3 0.5 3 2.5 3-1 3 0 3 1.5 3 0 3 0 3 1 3 0.5 3 0.5 3 0.5 3 0 3 1.5 3-0.5 3-0.5 3 2.5 3-1.5 3 0 3 2 3-2 3 1 3 1 3-1 3 1.5 3-0.5 3 0 3 1.5 3-2 3 1.5 3 0.5 3-1.5 3 2 3 0 3-1.5 3 1.5 3 0 3-0.5 3 0.5 3 0 3 0.5 3 0 3-0.5 3 1 3 0 3-1 3 1.5 3 0 3-1.5 3 1.5 3 0 3-1 3 1.5 3-0.5 3-0.5 3 1 3-1 3 1.5 3-0.5 3-1 3 2 3-1.5 3-0.5 3 2 3-2 3 0.5 3 1 3-1 3 1 3-0.5 3 0 3 0.5 3-1 3 0.5 3 0.5 3-1 3 1 3 0 3-1 3 0.5 3 0.5 3-1 3 0.5 3 0.5 3-0.5 3 0 3 0.5 3-0.5 3 1 3-1 3 0.5 3 0.5 3-1.5 3 1.5 3 0 3-1.5 3 2 3-0.5 3-0.5 3 1 3-1 3 1 3 0 3-1 3 2 3-1.5 3 0 3 1.5 3-1 3 0 3 1 3-0.5 3 0 3 0.5 3 0.5 3 0 3 0 3 0.5 3 0.5 3-0.5 3 0.5 3 1 3-1 3 0 3 1.5 3-1 3 0.5 3 1.5 3-1.5 3 1 3 0.5 3-0.5 3 1 3-0.5 3 0.5 3 1 3-1.5 3 1.5" stroke="#ff1b00"/><path d="M66 210l3-8 3-12.5 3-3 3-13 3-8.5 3-7.5 3-6.5 3-4 3-7 3-1.5 3-2.5 3-3.5 3-2 3 4 3 0.5 3-3.5 3 9.5 3-2 3 1 3 7 3-2 3 6.5 3-1 3 3 3 7.5 3-5 3 7.5 3 3.5 3-2.5 3 6 3 0.5 3 2 3 1.5 3 2 3 3.5 3 0 3 2.5 3 3 3 2 3 0 3 4 3 3.5 3-2 3 5 3 0.5 3 0 3 2.5 3-2 3 3 3-1.5 3-0.5 3 4 3-3.5 3 2 3 1.5 3-1.5 3 1.5 3 0 3 1 3 0 3-0.5 3 1.5 3 0 3-0.5 3 0.5 3 1.5 3-1.5 3 0.5 3 1.5 3-2 3 1.5 3 0.5 3-0.5 3 1 3-1.5 3 2 3-0.5 3-1.5 3 3 3-2 3 0.5 3 1 3-0.5 3 0.5 3-0.5 3 1 3 0 3-1 3 1 3 0.5 3-0.5 3 0 3 1.5 3-1 3-0.5 3 2 3-1.5 3 0.5 3 0 3 0 3 1 3-2 3 2 3 0 3-2 3 2.5 3-1 3-0.5 3 1 3-0.5 3 0.5 3-1 3 0.5 3 1 3-1 3 0 3 0.5 3 0 3-1 3 1.5 3-0.5 3-1 3 1.5 3-1 3 0.5 3-0.5 3-0.5 3 2 3-2.5 3 1 3 1 3-2 3 1.5 3-0.5 3 0 3 0.5 3-1 3 1.5 3-1 3 0 3 0.5 3 0 3-0.5 3 0.5 3 0.5 3-1.5 3 1 3 0.5 3-1.5 3 1.5 3-1 3 1 3-0.5 3-1 3 2.5 3-2 3 0.5 3 1.5 3-2 3 1.5 3 0 3 0 3 0.5 3-1 3 1.5 3 0 3-0.5 3 0.5 3 0.5 3-0.5 3 0.5 3 1 3-1 3 0.5 3 1 3-0.5 3 1 3-1 3 1 3 0.5 3-1.5 3 2.5 3-1 3 0 3 1.5" stroke="#ff1500"/><path d="M66 177.5l3-4.5 3-8 3-10.5 3-9 3-6.5 3-6 3-7 3-5 3-4.5 3-5 3-1 3 2.5 3-2 3-5 3 2 3 10.5 3 3.5 3-4.5 3 1 3 9 3 5.5 3-1.5 3 2 3 6 3 3 3 1 3 5 3 5.5 3 0 3-1 3 5.5 3 6 3 1 3-1.5 3 3 3 5.5 3 3.5 3 1 3 1 3 2.5 3 3.5 3 4 3 1.5 3 0.5 3 1.5 3 2.5 3 1 3 0 3 0.5 3 1 3-1 3 1 3 2.5 3 0.5 3-2.5 3 0.5 3 3.5 3 1 3-2 3-0.5 3 2.5 3 1 3-1 3-0.5 3 1.5 3 0 3-0.5 3 1 3 1 3-1 3-1 3 1.5 3 1.5 3-0.5 3-1 3 0 3 1 3 1 3 0 3-1 3-0.5 3 1 3 1.5 3-0.5 3-1.5 3 0.5 3 1.5 3 0 3-1 3 0.5 3 0.5 3-1 3 0.5 3 1.5 3 0 3-2 3 0 3 2.5 3 0.5 3-2 3-1 3 2 3 1 3-1 3-0.5 3 0.5 3 0 3 0 3 0 3 1 3-1 3-0.5 3 0.5 3 1 3 0 3-1 3-0.5 3 0.5 3 1 3 0 3-1 3-0.5 3 0.5 3 1.5 3-0.5 3-1.5 3 0.5 3 1 3 0 3-1 3 0.5 3 0.5 3-1 3 0 3 1.5 3 0.5 3-2 3-0.5 3 2 3 1 3-1.5 3-1 3 1 3 1 3-0.5 3-0.5 3 0.5 3 0 3 0 3 0.5 3 0 3-0.5 3 0 3 0.5 3 0.5 3 0 3-0.5 3 0 3 0 3 1 3 1 3-1 3-1 3 1 3 2 3-0.5 3-1.5 3 0.5 3 1.5 3 0 3-1 3 1 3 0.5 3-0.5 3 0 3 1.5 3 0.5 3-1.5 3-0.5 3 2 3 1 3-1.5 3-0.5 3 1 3 1" stroke="#ff0f00"/><path d="M66 178l3-7.5 3-10.5 3-5.5 3-7.5 3-12.5 3-5 3-2.5 3-10 3-6.5 3 3.5 3-1.5 3-8.5 3 0.5 3 4.5 3 1.5 3 3 3 2.5 3 0.5 3 4 3 7 3 0.5 3 1 3 7 3 2.5 3 0.5 3 6.5 3 5.5 3-2 3 2 3 8 3 2.5 3-0.5 3 3 3 4 3 2 3 4 3 2 3 0.5 3 4 3 4.5 3 1 3 2 3 4.5 3 0.5 3 0 3 4.5 3 1.5 3-2.5 3 0.5 3 3.5 3 0 3-1 3 1 3 0.5 3 0.5 3 1.5 3 0 3-0.5 3 1.5 3 1 3-1 3 1 3 1.5 3-1.5 3-0.5 3 2.5 3 0 3-2 3 0.5 3 1.5 3 0 3-0.5 3 0.5 3-0.5 3 0 3 1.5 3-1 3-0.5 3 1 3 0 3-1 3 1 3 1 3-2 3 0 3 2 3 0 3-1.5 3 0 3 1 3 0 3 0 3 0 3-0.5 3 0 3 1.5 3-1 3-0.5 3 1 3-0.5 3-1 3 1.5 3 1 3-2 3-0.5 3 2 3 0 3-1.5 3 0.5 3 0.5 3-0.5 3 0.5 3-0.5 3-0.5 3 0.5 3 0.5 3-1 3 0 3 1 3-1 3-0.5 3 1.5 3 0.5 3-2 3 0 3 2 3-0.5 3-1 3 0.5 3 0 3 0 3 0.5 3-0.5 3-0.5 3 1 3 0 3-0.5 3 0.5 3 0.5 3-1 3-0.5 3 2 3 0 3-1.5 3 0.5 3 1 3 0 3-0.5 3 0.5 3-0.5 3 0.5 3 1 3-0.5 3-0.5 3 1 3 0 3-0.5 3 1 3 0.5 3-1.5 3 0.5 3 2 3-0.5 3-1 3 1 3 0.5 3 0 3 0.5 3 0 3-0.5 3 1 3 1 3-0.5 3 0 3 1 3-0.5 3-0.5 3 1.5 3 0.5 3-1.5 3 0.5 3 2 3-0.5 3-1 3 1" stroke="#ff0900"/><path d="M66 176l3-6 3-7.5 3-7.5 3-8 3-10.5 3-3 3-8.5 3-6 3 0 3-7 3-0.5 3-2.5 3 0 3 2.5 3-1.5 3 8 3-2 3 3 3 9 3-6 3 9 3 4 3-3 3 9.5 3 0.5 3 1.5 3 6 3 1.5 3 2.5 3 2.5 3 4 3 0.5 3 3 3 4.5 3-1 3 5 3 2 3 1 3 4.5 3 0.5 3 4 3 1.5 3 2 3 4 3-2 3 4 3 0.5 3-2.5 3 5 3-2 3 0 3 3 3-2 3 1 3 1.5 3-0.5 3 0.5 3 1 3 0.5 3-1 3 2 3 0 3-1 3 2.5 3-1.5 3 0.5 3 1 3-1 3 1.5 3-0.5 3 1 3 0 3-1 3 2.5 3-2 3 0.5 3 2 3-2 3 1.5 3 0.5 3-1.5 3 1.5 3 0 3-0.5 3 0 3 1 3-0.5 3-0.5 3 2 3-2 3 1 3 1 3-2 3 2 3-0.5 3-0.5 3 1 3-1 3 1.5 3-1 3 0.5 3 1 3-2 3 2 3 0 3-1.5 3 2 3-1 3-0.5 3 1 3-0.5 3 0 3 0.5 3 0.5 3-1.5 3 1 3 0.5 3-1.5 3 2 3-1 3-0.5 3 1.5 3-1.5 3 1 3 0 3-0.5 3 1 3-1.5 3 1.5 3-0.5 3-0.5 3 1.5 3-1.5 3 0.5 3 1 3-1 3 0.5 3 0.5 3-0.5 3 0 3 0.5 3 0 3-1 3 2 3-1 3-0.5 3 2 3-2 3 1 3 0.5 3-1 3 1 3-0.5 3 0.5 3 0 3-0.5 3 1 3-1 3 1 3 0.5 3-1 3 1 3 0 3-0.5 3 1 3 0 3 0 3 0 3 1 3-1 3 0.5 3 1.5 3-2 3 1.5 3 0.5 3-1.5 3 2 3-1 3 0 3 1.5 3-1 3 1 3-0.5 3 0.5 3 0" stroke="#ff0300"/><path d="M66 163l3-7.5 3-3.5 3-7.5 3-10.5 3-8.5 3-5.5 3-2.5 3-6.5 3-4.5 3-1 3-7.5 3 2 3 6 3-6 3 3 3 7 3-1.5 3 7 3 5.5 3-2 3 4 3 5.5 3 4 3 3.5 3 2 3 4.5 3 2 3 3.5 3 7 3-1 3 1 3 7 3 0 3 3 3 6 3-1.5 3 2.5 3 5.5 3 1.5 3 2.5 3 2.5 3 2 3 2.5 3 2.5 3 3 3 0 3-1.5 3 3.5 3 0 3-0.5 3 2.5 3-1.5 3-0.5 3 3.5 3-0.5 3-0.5 3 1 3 0 3 0.5 3 1 3 0.5 3 0 3-1 3 1.5 3 0.5 3-1 3 1 3 0 3-1.5 3 2.5 3 0.5 3-2 3 1.5 3 0 3-0.5 3 1.5 3-0.5 3-0.5 3 0 3 0.5 3 1 3-1 3 0 3 0.5 3-1 3 1.5 3 1 3-2.5 3 1 3 0.5 3-1 3 1.5 3 0 3-1.5 3 0.5 3 1 3 0 3 0 3-0.5 3 0.5 3-0.5 3 0.5 3 1.5 3-2 3 0 3 1.5 3-1 3 0.5 3 1 3-2 3 0.5 3 1 3-0.5 3 0 3-0.5 3 0 3 0.5 3 0 3 0.5 3-1 3-0.5 3 1.5 3-0.5 3-0.5 3 1.5 3-1.5 3-0.5 3 2 3-0.5 3-0.5 3 0.5 3-0.5 3 0.5 3 0.5 3 0 3-0.5 3-0.5 3 1 3 0.5 3-1 3 1 3-0.5 3-0.5 3 2 3-0.5 3-1 3 1 3 0 3-0.5 3 1.5 3-0.5 3-0.5 3 0 3 1 3 0.5 3-1 3 0.5 3 0.5 3-1 3 1.5 3 0.5 3-1.5 3 1 3 1 3-1 3 1.5 3 0 3-1 3 1 3 0.5 3 0 3 0 3 0 3 0.5 3 0 3 0.5 3 1 3-1.5 3 0.5 3 1.5 3-1 3 1 3 0.5 3-1.5 3 1" stroke="#fc0000"/><path d="M66 183.5l3-4.5 3-8 3-11.5 3-4.5 3-9.5 3-8.5 3-6 3-5 3 0 3-8.5 3-1.5 3 1 3-2 3 2 3-1.5 3 6.5 3 2.5 3-0.5 3 5.5 3 2 3 5 3 0.5 3 3 3 6.5 3 0.5 3 4 3 2 3 4 3 3.5 3-0.5 3 5 3 2 3 2.5 3 2 3 1.5 3 5 3 0.5 3 2.5 3 3 3 2 3 3.5 3 0 3 4 3 2.5 3 0 3 2 3-0.5 3 2 3-0.5 3-0.5 3 2 3-0.5 3 1 3-0.5 3 1 3 1 3-1 3 1.5 3 0 3 0.5 3 0.5 3-1 3 1.5 3-0.5 3 0 3 0.5 3-0.5 3 1 3-1 3 0.5 3 0.5 3-0.5 3 1 3-1 3 1 3 0 3-0.5 3 1 3-1 3 1 3-0.5 3 0 3 1 3-1 3 0.5 3 0 3 0 3 0.5 3-1 3 1.5 3-0.5 3 0 3 0.5 3-0.5 3 1 3-1 3 0.5 3 0.5 3-0.5 3 1 3-1 3 0.5 3 0.5 3-0.5 3 0.5 3-0.5 3 1 3-0.5 3-0.5 3 1 3-0.5 3 0.5 3-0.5 3 0 3 1 3-1 3 1 3-0.5 3 0 3 0.5 3-1 3 1 3-0.5 3 0.5 3 0 3-0.5 3 1 3-0.5 3 0 3 0.5 3-0.5 3 0.5 3-0.5 3 0.5 3 0 3 0 3 0.5 3-0.5 3 0.5 3 0 3-0.5 3 1 3-1 3 1 3-0.5 3 0 3 1 3-1 3 0.5 3 0 3 0 3 0.5 3-1 3 1 3-0.5 3 0.5 3 0 3-0.5 3 1 3-0.5 3 0.5 3 0 3 0 3 0.5 3-0.5 3 0.5 3 0.5 3-0.5 3 1 3-0.5 3 0.5 3 0 3 0 3 0.5 3-0.5 3 1 3-0.5 3 0.5 3 0.5 3-0.5 3 0.5 3 0 3 0.5 3 0 3-0.5" stroke="#f60000"/><path d="M66 185.5l3-9 3-6 3-3.5 3-10.5 3-13 3-6 3-1.5 3-5.5 3-7.5 3-1.5 3 0 3-4 3-2 3 4 3 3.5 3-1 3 1.5 3 6 3 3.5 3 0.5 3 3 3 5 3 2 3 1.5 3 6 3 4 3-1 3 1.5 3 7 3 4.5 3-2 3 0 3 5.5 3 5 3 0.5 3 0 3 3 3 3.5 3 2.5 3 3 3 1.5 3 0 3 2.5 3 5.5 3 2 3-3.5 3-1 3 4.5 3 3 3-3 3-2 3 2 3 2.5 3 0 3-0.5 3-0.5 3 0 3 1.5 3 2 3-0.5 3-2.5 3 0.5 3 3.5 3 0.5 3-2.5 3-1.5 3 2.5 3 2 3-1 3-2 3 0.5 3 1 3 1 3 0 3-1 3-1 3 1 3 2 3 0 3-2.5 3 0 3 2.5 3 1 3-2 3-1 3 1.5 3 1 3-0.5 3-0.5 3 0 3 0 3 0.5 3 1 3 0 3-1.5 3 0 3 2 3 0 3-1.5 3-0.5 3 2 3 0.5 3-1.5 3 0 3 1 3 0 3-0.5 3 0.5 3 0.5 3-0.5 3-1 3 1 3 0.5 3-0.5 3-0.5 3 1 3 0 3-1 3 0.5 3 1 3-0.5 3-1.5 3 1 3 1.5 3-1 3-1.5 3 1 3 1.5 3-0.5 3-1 3 0 3 0.5 3 0.5 3 0 3 0 3-0.5 3-0.5 3 1.5 3 1 3-1.5 3-1.5 3 1.5 3 2 3-0.5 3-2 3 0 3 1.5 3 0.5 3-0.5 3-0.5 3-0.5 3 0.5 3 1.5 3 0 3-1.5 3-1 3 2 3 2 3-1.5 3-2 3 1 3 2.5 3 0 3-1.5 3-0.5 3 1 3 1 3 0 3 0 3-1 3 0 3 2 3 1 3-1.5 3-1.5 3 1.5 3 2 3-0.5 3-1.5 3 0.5 3 1.5 3 0 3-0.5 3 0 3 0" stroke="#f00000"/><path d="M66 176.5l3-7.5 3 1 3-12 3-12 3-3 3-9 3-4.5 3-5 3-3.5 3-2.5 3-6.5 3 7 3-1.5 3-7 3 9.5 3 4 3 1 3 1 3 3 3 8 3-1 3 4.5 3 6 3-2.5 3 7 3 5.5 3-0.5 3 2.5 3 3 3 7 3-1 3-1 3 7.5 3 0 3 2 3 4 3 0 3 3 3 2 3 4 3 1 3-1.5 3 6.5 3 2 3-2 3 2 3 0.5 3 1.5 3-1 3 0 3 2 3-2.5 3 2 3 1.5 3-3 3 1.5 3 1.5 3 0.5 3-1 3-1 3 3 3-1 3-1 3 2 3-1 3 0.5 3 1 3-0.5 3 0 3-1 3 2.5 3 0 3-2.5 3 2.5 3 0.5 3-0.5 3 0.5 3-0.5 3 1 3-0.5 3 0.5 3 1.5 3-2.5 3 1.5 3 1.5 3-1.5 3 0 3 0 3 2 3-1 3-1 3 2 3-1 3 0 3 2 3-1.5 3 0 3 0.5 3 1 3 0 3-2 3 2 3 1 3-2 3 1 3 0 3 0 3 0 3 0 3 0.5 3-1.5 3 1 3 1.5 3-2.5 3 0.5 3 1 3 0 3-0.5 3-1 3 1.5 3-0.5 3-0.5 3 1.5 3-1.5 3-0.5 3 2 3-0.5 3-0.5 3-1 3 1.5 3 0.5 3-2.5 3 1.5 3 0 3-0.5 3 1 3-0.5 3 0 3-0.5 3 1 3 1 3-2.5 3 1 3 1.5 3-1 3 0 3 0 3 0.5 3 0 3-0.5 3 1.5 3-1.5 3 0 3 2 3-1 3-0.5 3 0.5 3 1 3 0 3-1.5 3 1.5 3 1 3-1.5 3 1.5 3-0.5 3 0 3 1 3 0 3 0.5 3-1.5 3 1 3 2 3-2 3 0.5 3 1 3 0 3 0.5 3-0.5 3 0.5 3 0 3-0.5 3 2 3-1.5 3-0.5 3 2" stroke="#ea0000"/><path d="M66 175.5l3-9.5 3-6.5 3-5 3-10.5 3-8.5 3-8 3-4 3-2 3-9.5 3-3.5 3 4.5 3-5.5 3-4.5 3 6 3 3 3 1 3 1 3 3 3 7.5 3 0.5 3-1.5 3 8.5 3 4 3-1 3 4.5 3 4 3 3 3 3 3 0.5 3 4.5 3 4 3-0.5 3 3.5 3 3.5 3 1 3 4 3 1.5 3 1 3 5 3 2 3 0.5 3 4 3 2.5 3 2 3 1 3 0 3 3 3 1 3-2.5 3 1.5 3 3 3-1.5 3-0.5 3 1.5 3 1 3 0.5 3-1 3 1 3 2.5 3-1.5 3 0 3 2 3 0 3-0.5 3 0.5 3 0.5 3 1 3-0.5 3-0.5 3 2 3 0 3-1 3 1.5 3-0.5 3 0.5 3 1 3-1 3 0.5 3 1 3-0.5 3 0 3 0.5 3 0 3 1 3-1 3-0.5 3 2 3-0.5 3-1.5 3 1.5 3 0.5 3-0.5 3 0 3 0 3 1.5 3-0.5 3-1.5 3 1.5 3 1 3-1.5 3 0 3 1 3 0 3 0 3-0.5 3 0.5 3 1 3-1.5 3 0 3 1.5 3-1 3 0 3 0.5 3-0.5 3 0.5 3 0 3-1 3 1 3 0 3-0.5 3 0.5 3-0.5 3 0.5 3 0.5 3-1.5 3 0.5 3 1.5 3-1 3-0.5 3 0.5 3 0.5 3 0 3-1 3 0.5 3 1.5 3-1.5 3-0.5 3 1.5 3 0 3-1 3 0.5 3 0.5 3 0.5 3-0.5 3-1 3 1.5 3 0 3-1 3 0.5 3 0.5 3-0.5 3 0.5 3-0.5 3 0.5 3 0.5 3-0.5 3 0 3 1 3-0.5 3 0.5 3 0 3-0.5 3 1 3 0 3-0.5 3 1 3 0.5 3-0.5 3 0 3 0 3 1 3 0 3-1 3 1 3 1.5 3-1.5 3 0 3 1.5 3 0 3-0.5 3 0 3 0.5 3 1 3-1 3-0.5" stroke="#e40000"/><path d="M66 174.5l3-9 3-3 3-10 3-10 3-2.5 3-12.5 3-3.5 3 0 3-12 3 3.5 3-1.5 3-9.5 3 10.5 3-2.5 3-2.5 3 13.5 3-5 3 2.5 3 12 3-6.5 3 7.5 3 8.5 3-6 3 10 3 4.5 3-3.5 3 10.5 3 1.5 3-1 3 8.5 3 0 3 1 3 7 3-1 3 3 3 5 3 0 3 3 3 4 3 1 3 2.5 3 3.5 3 1.5 3 1.5 3 2.5 3 0.5 3 0 3 2 3-0.5 3 0 3 2 3-1 3 0.5 3 1.5 3-1.5 3 1.5 3 1 3-1.5 3 1.5 3 0.5 3-1 3 1.5 3-0.5 3-0.5 3 1 3-1 3 0.5 3 0 3-0.5 3 0.5 3-0.5 3 0 3 0.5 3-1.5 3 1.5 3-0.5 3-1 3 2 3-1.5 3-0.5 3 2.5 3-3 3 1 3 1.5 3-3 3 2.5 3 0 3-2.5 3 3 3-1 3-2 3 3.5 3-2.5 3-0.5 3 3 3-3 3 1 3 2 3-3.5 3 2 3 1 3-2.5 3 2 3-0.5 3-1.5 3 2.5 3-1.5 3-0.5 3 1.5 3-1.5 3 0.5 3 0.5 3-1 3 1 3-0.5 3 0 3 0.5 3-1 3 1 3-0.5 3-0.5 3 1 3-1 3 0.5 3 0.5 3-1 3 1 3 0 3-1 3 1 3 0 3-1 3 1.5 3-0.5 3-0.5 3 1 3-0.5 3 0 3 1 3-0.5 3 0 3 0.5 3 0 3-0.5 3 1 3 0 3-0.5 3 1 3 0 3-1 3 1.5 3-0.5 3-0.5 3 2 3-1.5 3 0 3 2 3-2 3 1 3 1.5 3-2.5 3 2 3 1 3-2 3 2.5 3-0.5 3-1.5 3 3 3-1.5 3-0.5 3 2.5 3-1.5 3 0.5 3 1.5 3-2 3 1.5 3 0.5 3-1 3 1.5 3 0 3-0.5 3 1.5 3-1 3 0.5 3 0.5" stroke="#de0000"/><path d="M66 188.5l3-3.5 3-10.5 3-6 3-4.5 3-13 3-6 3-4.5 3-2 3-5 3-6 3 2.5 3-1.5 3 0 3-2 3 3.5 3 7.5 3-3.5 3 4 3 4 3 3.5 3 5.5 3-4 3 8.5 3 4.5 3-1 3 6 3-0.5 3 7 3 2 3-3 3 7.5 3 0.5 3 2 3 2 3-0.5 3 7 3-0.5 3 0.5 3 4 3 1 3 3.5 3-0.5 3 2 3 4 3-0.5 3 0.5 3-0.5 3 2 3 0 3-2 3 1.5 3 0 3 1 3-1.5 3 0 3 2.5 3-1.5 3 0 3 0 3 0 3 2 3-3 3 1 3 1.5 3-1.5 3 1 3-2 3 1.5 3 1 3-2.5 3 1.5 3-0.5 3 0.5 3 0 3-1.5 3 2.5 3-0.5 3-1 3 0.5 3 0 3 1 3-1 3-0.5 3 1.5 3 0 3 0 3-1 3 1 3 0.5 3-1 3 0.5 3 0 3 1.5 3-1 3-1 3 2 3-0.5 3 0.5 3-0.5 3-0.5 3 2.5 3-2 3 0 3 1.5 3-1 3 1.5 3-2 3 1 3 1.5 3-2 3 1 3 0 3 0.5 3 0.5 3-2 3 2 3 0 3-0.5 3 0 3 0 3 1.5 3-1 3-0.5 3 0.5 3 0.5 3 0.5 3-1.5 3 1 3 1 3-1 3 0.5 3-1 3 1.5 3 0 3-1.5 3 2 3-1 3 1 3-0.5 3-1 3 2.5 3-1.5 3 0 3 0.5 3-0.5 3 1.5 3-1.5 3 0 3 2 3-1.5 3 0.5 3-0.5 3 0.5 3 1 3-2 3 1 3 0.5 3 0 3-0.5 3-0.5 3 1.5 3-0.5 3 0 3 0 3 0 3 1 3-1 3 0 3 1 3-0.5 3 0.5 3-1 3 1.5 3 0.5 3-1.5 3 1 3-0.5 3 1 3 0 3-1.5 3 2 3-0.5 3-0.5 3 0.5 3-0.5" stroke="#d80000"/><path d="M66 159l3-3 3-4 3-10 3-10 3-5.5 3-5 3-7 3-4.5 3-2.5 3-4.5 3-2 3 2.5 3-1 3-3.5 3 5 3 9.5 3 0 3-3 3 6 3 10 3 0.5 3-1.5 3 6 3 6.5 3 1.5 3 1.5 3 5.5 3 2.5 3 1.5 3 4 3 4.5 3 0 3 1 3 5 3 4 3 0 3 1.5 3 4 3 3 3 1.5 3 2.5 3 2 3 1.5 3 3.5 3 2.5 3-1.5 3-1 3 3.5 3 1.5 3-2.5 3-1 3 3 3 1.5 3-2 3-0.5 3 2.5 3 0 3-0.5 3 1 3 1 3-1 3 0 3 2 3 0 3-1 3 0 3 2 3 0.5 3-1 3 0 3 1.5 3 0.5 3 0 3 0 3 0 3 0.5 3 1.5 3 0 3-1 3 0.5 3 2 3 0 3-2 3 0.5 3 2 3 0 3-1.5 3 1 3 1 3-0.5 3 0 3 1 3 0 3-1 3 1 3 1.5 3-1 3-1 3 1 3 1.5 3-0.5 3-1 3 0.5 3 1 3 0 3-0.5 3 0 3 0 3 0.5 3 0.5 3-0.5 3-1 3 1 3 1 3-1 3-1 3 1 3 0.5 3-0.5 3-0.5 3 1 3-0.5 3-0.5 3 0.5 3 1 3-1.5 3-0.5 3 1.5 3 0.5 3-2 3-0.5 3 2 3 0 3-1 3-0.5 3 1 3 0 3 0 3 0 3-0.5 3 0 3 0.5 3 0.5 3-1 3-0.5 3 1.5 3 0.5 3-1 3-0.5 3 1 3 0 3-0.5 3 0.5 3 0.5 3-1 3 0 3 1.5 3 0 3-1.5 3 0.5 3 2 3-0.5 3-1.5 3 1 3 1.5 3 0 3-1 3 0.5 3 1 3 0 3 0 3 0.5 3-0.5 3 0 3 1 3 0.5 3-1 3 0.5 3 1 3 0 3-0.5 3 0.5 3 0.5 3 0 3 0" stroke="#d30000"/><path d="M66 180l3-8 3-5.5 3-11 3-8.5 3-5 3-12 3-1 3-2.5 3-11 3-1.5 3-1.5 3 3 3 0 3-9.5 3 7 3 8.5 3 0 3 2 3-2 3 7.5 3 7 3-3 3 6 3 3 3 0.5 3 6 3 1.5 3 5.5 3 2 3-3 3 7.5 3 4.5 3 0 3 1 3 0 3 8 3 3.5 3-2.5 3 3.5 3 2.5 3 3.5 3 3.5 3-1 3 4 3 1.5 3-1 3 3.5 3 0 3-0.5 3 0 3-0.5 3 4.5 3-0.5 3-3 3 1.5 3 1.5 3 1.5 3-0.5 3-2 3 2.5 3 1 3-1 3 1.5 3-1 3 0.5 3 0.5 3-0.5 3 2 3-1 3-1.5 3 1.5 3 1 3 1 3-1.5 3-1.5 3 3 3 0.5 3-1 3 0 3-1 3 2 3 0 3-1 3 1.5 3-1 3 0 3 1 3-0.5 3 1 3-1.5 3-0.5 3 3 3-0.5 3-1 3-0.5 3 0 3 2.5 3-1 3-1.5 3 1.5 3-0.5 3 1 3 0 3-1 3 1.5 3-1.5 3 0 3 2 3-1 3-0.5 3-0.5 3 1 3 2 3-2.5 3-1 3 1.5 3 0.5 3 0.5 3-1.5 3-0.5 3 2 3-1 3 0 3 0.5 3-1 3 0.5 3-0.5 3 1 3 1 3-2.5 3 0 3 2 3 0 3 0 3-2 3 0.5 3 2.5 3-1.5 3 0 3 0 3 0 3 1 3-1 3 0.5 3 0.5 3-1.5 3 1 3 0.5 3 0 3 0 3-2 3 2 3 1.5 3-1.5 3-0.5 3 0 3 1 3 1 3-2 3 0.5 3 1 3-0.5 3 1 3-0.5 3 0 3 0.5 3-1 3 2 3 0.5 3-1.5 3 0 3 0.5 3 1.5 3 0.5 3-2.5 3 1 3 1 3 0 3 0.5 3-1.5 3 1 3 1 3-1 3 1 3 0" stroke="#cd0000"/><path d="M66 201.5l3-6.5 3-8 3-7 3-8.5 3-11.5 3-9 3-2.5 3-1.5 3-6 3-8 3-1.5 3 4 3 1 3-4 3-1.5 3 5 3 6 3 1 3 0 3 2.5 3 4 3 3.5 3 3.5 3 3 3 2 3 1 3 4 3 5.5 3 2.5 3-1.5 3 0.5 3 5.5 3 5 3 0 3-1.5 3 2.5 3 5.5 3 3 3-0.5 3 0.5 3 3 3 3.5 3 2 3 1 3 1 3 0.5 3 0.5 3 1 3 1 3-0.5 3-1.5 3 1 3 2 3 0.5 3-1.5 3-1 3 2 3 1.5 3-0.5 3-1.5 3 0.5 3 1.5 3 0.5 3-1 3-0.5 3 0 3 0.5 3 0 3 0 3 0 3-0.5 3-0.5 3 0.5 3 1 3-0.5 3-1.5 3 0.5 3 1 3 0.5 3-1 3-1 3 1 3 1 3-0.5 3-0.5 3 0 3 1 3-0.5 3 0 3 0 3 0.5 3 0 3-0.5 3 0.5 3 0.5 3-0.5 3-0.5 3 0.5 3 0.5 3 0 3-0.5 3 0 3 1 3 0 3-1 3 0 3 1 3 0 3-1 3 0 3 1 3 0.5 3-1 3-0.5 3 0.5 3 1 3-0.5 3-1 3 0.5 3 0.5 3 0 3-0.5 3 0 3 0.5 3 0 3-0.5 3 0.5 3 0.5 3-0.5 3-1 3 1 3 1 3-0.5 3-1 3 0 3 1 3 1 3-1 3-1 3 0.5 3 1 3 0 3-0.5 3-0.5 3 0.5 3 0.5 3 0 3 0 3 0 3-0.5 3 0 3 1 3 0.5 3-1 3-1 3 1 3 1.5 3-0.5 3-1 3 0 3 1 3 1 3-0.5 3-1 3 0.5 3 1 3 0 3 0 3 0 3 0 3 0 3 0.5 3 1 3-0.5 3-0.5 3 0 3 1.5 3 0.5 3-1 3-1 3 1 3 1.5 3 0 3-1 3-0.5" stroke="#c70000"/><path d="M66 188.5l3-6 3-1 3-11.5 3-15 3-2.5 3-3.5 3-14 3-5 3 4.5 3-7 3-9 3 5 3 3 3-6.5 3 2 3 8.5 3-0.5 3-1.5 3 7 3 4.5 3-1 3 3.5 3 6 3 1.5 3 2 3 4 3 3.5 3 2 3 3 3 2 3 2.5 3 3.5 3 1 3 2 3 4 3 2 3 0.5 3 3.5 3 4 3 0 3 1.5 3 5 3 1.5 3-0.5 3 3 3 2.5 3-1.5 3 0 3 2.5 3 0 3-1.5 3 1.5 3 1.5 3-1.5 3 0.5 3 1.5 3-0.5 3 0 3 1 3 0 3 0 3 0.5 3 0 3-0.5 3 0.5 3 0.5 3-1 3 0 3 1.5 3-1 3-1 3 1.5 3 0.5 3-2 3 0.5 3 2 3-2 3-0.5 3 2 3 0 3-2 3 1 3 1.5 3-1.5 3-1 3 2.5 3 0 3-2 3 1 3 1.5 3-1.5 3-0.5 3 1.5 3 0 3-1 3 0.5 3 0.5 3 0 3-0.5 3 0.5 3 0.5 3-0.5 3 0 3 0 3 1 3-0.5 3-0.5 3 0.5 3 0.5 3-1 3 0 3 1.5 3-0.5 3-1.5 3 1 3 1.5 3-1.5 3-0.5 3 2 3-0.5 3-1.5 3 1 3 1.5 3-1.5 3-1 3 2 3 0 3-1.5 3 1 3 1 3-1.5 3 0 3 1 3 0 3-1 3 1 3 0 3-0.5 3 0 3 1 3-0.5 3 0 3 0.5 3-0.5 3 0 3 0.5 3 0 3-1 3 1 3 0.5 3-1 3 0 3 1 3-0.5 3-1 3 1.5 3 0 3-1 3 0.5 3 1 3-0.5 3-0.5 3 1 3 0.5 3-1 3 0.5 3 0.5 3 0 3-0.5 3 1 3 0 3 0 3 0 3 0 3 0.5 3 0 3 0 3 0 3 1 3-0.5 3 0 3 0.5 3 0.5 3-1 3 0.5" stroke="#c10000"/><path d="M66 186l3-4.5 3-5 3-10 3-10.5 3-7.5 3-6 3-5 3-5.5 3-5 3-3.5 3 0 3 0 3-3.5 3 0.5 3 4.5 3 2 3 2.5 3 2.5 3 0 3 5 3 6.5 3-1 3 2.5 3 5.5 3 1.5 3 4.5 3 3.5 3-1.5 3 5 3 5 3-0.5 3 2.5 3 3 3 0 3 5 3 3 3-2 3 4.5 3 4 3 0 3 3.5 3 2 3-0.5 3 5 3 2 3-2.5 3 2 3 1 3-1 3 2.5 3-1 3-1.5 3 3 3 0.5 3-1.5 3 1.5 3-0.5 3 0 3 2 3-0.5 3-1 3 1.5 3 0.5 3-0.5 3 0.5 3-0.5 3 0 3 1.5 3-1 3-0.5 3 0.5 3 0.5 3 0 3 0.5 3-1 3 0.5 3 0.5 3 0.5 3-0.5 3-0.5 3 1 3 0 3 0 3 0 3-0.5 3 0.5 3 1 3-0.5 3-0.5 3 0.5 3 0 3 0.5 3 0.5 3-1 3 0 3 1.5 3-1 3-0.5 3 1 3-0.5 3 0.5 3 1 3-1.5 3 0 3 1.5 3-1 3 0 3 0.5 3-1 3 1 3 1 3-2 3 0.5 3 1 3-1 3 0.5 3 0.5 3-1.5 3 1 3 1 3-1.5 3 0 3 1 3-1 3 1 3 0 3-1.5 3 1 3 1 3-1.5 3 0.5 3 0 3-0.5 3 1.5 3-0.5 3-1 3 1 3 0.5 3-0.5 3 0.5 3-0.5 3-0.5 3 1 3 0 3-0.5 3 0 3 0.5 3 0.5 3 0 3-0.5 3 0 3 0.5 3 0.5 3-0.5 3-0.5 3 0.5 3 0.5 3 0 3 0 3-0.5 3 0 3 1.5 3-0.5 3-0.5 3 0.5 3 0.5 3 0 3 0.5 3-0.5 3-0.5 3 2 3-0.5 3-0.5 3 0.5 3 0 3 0 3 1.5 3-1 3-0.5 3 1.5 3-0.5 3 0 3 0.5 3-0.5 3 0" stroke="#bb0000"/><path d="M66 187.5l3-9 3-12 3-0.5 3-13 3-5.5 3-7.5 3-12.5 3 4.5 3-6 3-4.5 3-1 3-7 3 7 3 1 3-1.5 3 3 3 1 3 6.5 3 3 3 0.5 3 2 3 4 3 6 3 1 3 3 3 1 3 4.5 3 6 3-1.5 3 3.5 3 1.5 3 2.5 3 6.5 3-3 3 3 3 4 3 0.5 3 7 3-2.5 3 1.5 3 6 3-0.5 3 5.5 3-1 3-0.5 3 5.5 3-2 3 1.5 3 0 3-2.5 3 4.5 3-1 3-0.5 3 1 3-1.5 3 3 3 0 3-1 3 1 3 0 3 1.5 3 0 3-1 3 0 3 1 3 1 3-1 3 0 3-0.5 3 1 3 1.5 3-2 3 1 3-0.5 3 0.5 3 2 3-2.5 3 0.5 3 1 3-1 3 2.5 3-2.5 3 0 3 2 3-1.5 3 2 3-1.5 3-1 3 3 3-1.5 3 0.5 3 0 3-1.5 3 3 3-1 3-0.5 3 0.5 3-1 3 2 3-0.5 3-1 3 0.5 3 0.5 3 0.5 3 0 3-1 3 0 3 1 3 0.5 3-1 3 0 3-0.5 3 1 3 1 3-2 3 1 3-0.5 3 0.5 3 1.5 3-3 3 1.5 3 0.5 3-1 3 2 3-2.5 3 0.5 3 1.5 3-1.5 3 1.5 3-1.5 3-0.5 3 2.5 3-1.5 3 0.5 3-0.5 3-0.5 3 2.5 3-1.5 3-0.5 3 0.5 3-0.5 3 1.5 3-0.5 3-1 3 0.5 3 0.5 3 0.5 3-0.5 3-0.5 3 0 3 1 3 0.5 3-1 3 0 3 0 3 1 3 0.5 3-2 3 1 3 0 3 0.5 3 1 3-2 3 1.5 3 0.5 3-1 3 2 3-2.5 3 1 3 1.5 3-1.5 3 1.5 3-1 3 0 3 2 3-1.5 3 1 3-0.5 3 0 3 2 3-1.5 3 0 3 0.5 3 0 3 1" stroke="#b50000"/><path d="M66 183.5l3-0.5 3-6 3-10 3-11 3-7.5 3 0.5 3-10 3-9 3 2 3-2 3-1.5 3-5.5 3 1.5 3 5.5 3-3.5 3 5.5 3 3.5 3 0 3 3 3 2.5 3 8.5 3-0.5 3-2 3 9 3 3.5 3 1.5 3 0 3 3 3 7 3-1.5 3 1.5 3 4 3 0.5 3 2.5 3 1 3 4 3 1 3-1 3 5.5 3 3 3-0.5 3 1 3 2.5 3 5 3-1.5 3-1.5 3 3.5 3 0 3 0 3-1 3 0.5 3 1.5 3-1.5 3 1.5 3 1 3-1.5 3 0.5 3 1 3 2 3-1 3-1.5 3 2.5 3 0.5 3-0.5 3-0.5 3 0.5 3 1.5 3-1 3 0 3 1.5 3-1 3 0.5 3 0.5 3 0.5 3-0.5 3-1.5 3 2.5 3 0.5 3-1.5 3 0 3 0.5 3 2 3-1.5 3-1 3 2 3-0.5 3 0 3 0 3 0.5 3 0.5 3-1.5 3 1.5 3 0.5 3-1.5 3 0.5 3 0.5 3 1 3-1 3-1.5 3 2.5 3-0.5 3-1 3 0 3 0 3 1.5 3-1.5 3 0 3 1 3-1.5 3 0.5 3 0.5 3 0 3-0.5 3-1 3 2 3 0 3-2 3 0.5 3 0.5 3 1 3-1 3-1 3 1.5 3-0.5 3-0.5 3 1 3-0.5 3 0 3-0.5 3 1 3 0.5 3-2 3 1 3 1 3 0 3-0.5 3-1 3 2 3 0 3-1 3 0.5 3 0 3 0.5 3-0.5 3 0.5 3 1 3-1.5 3 0.5 3 1 3 0 3-0.5 3-1 3 2 3 0.5 3-2 3 1 3 0.5 3 0.5 3-0.5 3-0.5 3 1.5 3-1 3 0 3 1 3-0.5 3 0 3 0 3 1 3 0.5 3-2 3 1 3 1 3 0 3-0.5 3-1 3 2 3-0.5 3-0.5 3 0.5 3 0 3 0 3 0 3 0.5 3 0.5 3-1.5" stroke="#af0000"/><path d="M66 173l3-5 3-5 3-7 3-13.5 3-6.5 3-0.5 3-14 3-2 3-1.5 3-3.5 3-4.5 3-1.5 3 5 3-4 3 4.5 3 2.5 3 3.5 3 4 3-1.5 3 8.5 3 2 3 2 3 3 3 6 3 4 3-3 3 10 3 2.5 3-0.5 3 4 3 5 3 2 3-2 3 8.5 3 1.5 3-0.5 3 5 3 2.5 3 3 3 0 3 5 3 2.5 3 1 3 3 3 0.5 3 3.5 3-1.5 3 0.5 3 2 3-0.5 3 0 3 0 3 3.5 3-2.5 3 0 3 3.5 3-1.5 3-0.5 3 1 3 2 3-2 3 0 3 2.5 3-1.5 3 0 3 0.5 3 0.5 3-1 3-0.5 3 2 3-1.5 3 0.5 3-0.5 3 0.5 3 0.5 3-1.5 3 1 3 0 3 0 3-1 3 1 3 1 3-2.5 3 1.5 3 1 3-1 3-1 3 1.5 3 0.5 3-2.5 3 2 3 0 3-1 3 0.5 3 0 3 1 3-2 3 1.5 3 0 3-0.5 3 0.5 3-1 3 1.5 3-1 3-0.5 3 1 3 0 3-0.5 3-1 3 2.5 3-1.5 3-1 3 1.5 3 0 3-1 3-0.5 3 2 3-1.5 3-0.5 3 1.5 3-1 3 0 3-0.5 3 1.5 3-1 3-0.5 3 1 3-0.5 3 0.5 3-1 3 0.5 3 1 3-1 3 0.5 3 0 3 1 3-2 3 1 3 1.5 3-2 3 0.5 3 1 3 0 3-1.5 3 1 3 1.5 3-2 3 1 3 0.5 3 0 3-0.5 3 0 3 1.5 3-1.5 3 1 3 0 3 0 3 0.5 3-1 3 1.5 3 0 3-0.5 3 0.5 3 1 3 0 3-1.5 3 2.5 3-0.5 3-1 3 1 3 1 3-0.5 3-1 3 2.5 3-1 3-0.5 3 1 3 0 3 0.5 3-1 3 1.5 3 0 3-0.5 3 0.5 3 0" stroke="#a90000"/><path d="M66 191l3-0.5 3-11 3-11.5 3-7 3-6 3-4.5 3-13.5 3-5 3 4 3-5 3-4 3-5 3 3 3 5.5 3-4 3 4 3 1 3 2 3 7 3 0 3 2.5 3 1 3 5 3 8 3-3 3 1.5 3 6 3 4 3 3 3-3 3 4.5 3 5.5 3-0.5 3 3 3 0 3 3.5 3 3.5 3 1 3 3.5 3-1 3 3.5 3 5.5 3-0.5 3 0.5 3 1 3 3.5 3 2 3-4 3 1 3 2 3 0.5 3 0 3-1.5 3 2 3 0.5 3-0.5 3 1.5 3-1.5 3 1 3 1 3 0 3 0 3-1.5 3 2 3 1 3-2 3 0 3 0 3 2 3-0.5 3-2 3 1.5 3 0 3 0.5 3 0 3-1 3 0.5 3 0 3 1 3 0 3-2 3 1.5 3 1 3-0.5 3-0.5 3-1 3 2.5 3 0 3-2 3 1 3 0 3 1 3-0.5 3-1 3 1 3-0.5 3 1 3 0.5 3-2 3 1 3 0.5 3 1 3-1 3-1.5 3 2 3 0.5 3-1 3-0.5 3-0.5 3 2 3-0.5 3-1 3 0.5 3-0.5 3 1 3 0 3-0.5 3 0 3-0.5 3 2 3-1 3-1.5 3 1 3 0.5 3 0.5 3-1.5 3-0.5 3 2 3-0.5 3 0 3-0.5 3-0.5 3 1.5 3-0.5 3 0 3 0 3-1 3 2 3-0.5 3-0.5 3-0.5 3 0.5 3 2 3-2 3-0.5 3 1.5 3 0 3 0 3-1 3 0 3 1.5 3-1 3 1 3-0.5 3-1 3 1.5 3 0 3 0 3-1 3 0 3 2.5 3-1 3-1 3 0.5 3 1 3 1 3-2 3 0.5 3 1 3 0 3 0.5 3-0.5 3 0 3 0.5 3 0 3 1 3-1.5 3 0 3 2 3-0.5 3 0 3-1 3 1 3 1.5 3-1.5" stroke="#a30000"/><path d="M66 209l3-4 3-7.5 3-8.5 3-10 3-11.5 3-5.5 3-5 3-6 3-1 3-7 3-4.5 3 6 3-2.5 3-4.5 3 5.5 3 0 3 1.5 3 6.5 3-1.5 3 0 3 6.5 3 3 3 3 3 1.5 3 0.5 3 6 3 3 3 1 3 3.5 3 0 3 1.5 3 6.5 3-0.5 3-1 3 5 3 1.5 3 1.5 3 4 3-0.5 3 1 3 4.5 3 2 3 1.5 3 0.5 3 0.5 3 3 3 0.5 3-1.5 3 1.5 3-0.5 3 0 3 3 3-2 3-1.5 3 3 3 0 3-0.5 3 1 3-1 3 0 3 2 3-0.5 3-0.5 3-0.5 3 0 3 1.5 3-0.5 3-1.5 3 1 3-0.5 3-0.5 3 1.5 3-1.5 3-1 3 2 3-0.5 3-1 3 0.5 3-1 3 0.5 3 1 3-0.5 3-0.5 3 0 3 0.5 3 1 3-0.5 3-1 3 1 3 0 3-0.5 3 1.5 3-1.5 3-0.5 3 2 3-0.5 3-1 3 1 3-0.5 3 0 3 1 3-1 3 0 3 0 3 0.5 3 1 3-1 3-1 3 1.5 3-0.5 3-0.5 3 1 3-1 3-0.5 3 2 3-1 3-1 3 1 3 0 3 0 3 0.5 3-1 3 0 3 0.5 3 0 3 0.5 3-1 3-0.5 3 1.5 3-0.5 3-0.5 3 1 3-1 3 0 3 1.5 3-1 3-1 3 1 3 0 3 0 3 0.5 3-1 3 0.5 3 0.5 3-0.5 3 0.5 3-1 3 0 3 1.5 3-0.5 3-1 3 1 3-0.5 3 0 3 1.5 3-1.5 3-0.5 3 1.5 3-0.5 3 0 3 0.5 3-1 3 1 3 0.5 3-0.5 3 0.5 3-0.5 3 0 3 1.5 3-0.5 3-1 3 1.5 3-0.5 3 0 3 1.5 3-1.5 3 0 3 1.5 3 0 3-0.5 3 0 3 0 3 1 3 0 3-0.5" stroke="#9d0000"/><path d="M66 176.5l3-5 3-4.5 3-7 3-12 3-4.5 3-6 3-9.5 3 0.5 3-2 3-8 3-1 3 1.5 3 2.5 3 0 3-4.5 3 7.5 3 9.5 3-4.5 3 0.5 3 7 3 4 3 3.5 3 0 3 3 3 7 3 0.5 3 1.5 3 6.5 3-0.5 3 1 3 5.5 3 2 3 1 3 0.5 3 2.5 3 6.5 3-0.5 3-2.5 3 6 3 4 3 0 3 1 3 1.5 3 3.5 3 2 3-2.5 3 2 3 1 3-2 3 1.5 3 1 3-1.5 3 0.5 3 0.5 3 1 3 0.5 3-2.5 3 1.5 3 3 3-2 3-1 3 1.5 3 0.5 3 1 3-1.5 3 0 3 2 3-0.5 3-0.5 3 1.5 3-0.5 3 0 3 1 3 0.5 3 0 3-0.5 3 0 3 2.5 3-0.5 3-2 3 1.5 3 1.5 3-0.5 3-0.5 3-0.5 3 1.5 3 1 3-2 3 1 3 1 3-0.5 3 0.5 3 0.5 3-0.5 3 0.5 3-0.5 3 1 3 1 3-2 3 0.5 3 2.5 3-1 3-1.5 3 0.5 3 1 3 1 3-1.5 3-1 3 2 3 0 3-1 3 0.5 3 0 3-0.5 3 0.5 3 0 3 0.5 3-1 3-0.5 3 2 3 0 3-2.5 3 0.5 3 1.5 3 0 3-1 3-1 3 1 3 1 3-2 3 0 3 1 3-0.5 3 0.5 3 0 3-0.5 3 0.5 3-1 3 0.5 3 1 3-1.5 3-0.5 3 2 3-0.5 3-1 3 0 3 0.5 3 1.5 3-1.5 3-1.5 3 2 3 0 3-1 3 0.5 3 0 3 0 3 0.5 3-0.5 3 1 3-0.5 3-0.5 3 1.5 3 0.5 3-1.5 3 0.5 3 1 3 0.5 3 0 3-1.5 3 1.5 3 1.5 3-1.5 3 0 3 1 3 0 3 0.5 3 0 3 0 3 1 3-1 3 0.5 3 1.5 3-1 3-0.5 3 1.5" stroke="#970000"/><path d="M66 193l3-5.5 3-9.5 3-7 3-9.5 3-10 3-2.5 3-4.5 3-11.5 3-3 3 3.5 3-3 3-3.5 3-2 3-0.5 3 7 3 6 3-5.5 3-1 3 10 3 5 3-1 3 2 3 2.5 3 4.5 3 7 3-0.5 3-1 3 6 3 5 3-0.5 3 2.5 3 2.5 3 0.5 3 3.5 3 3.5 3 0 3 2 3 3 3 1 3 3.5 3 4 3-1.5 3 0.5 3 5.5 3 2 3-1.5 3-0.5 3 0.5 3 1.5 3 2 3-2 3-2.5 3 3 3 2.5 3-2 3-1 3 1 3 1 3 1 3 0 3-2 3 1 3 1.5 3-0.5 3-1 3 1 3-0.5 3-0.5 3 1.5 3-0.5 3-1 3 0.5 3 0.5 3 0 3 1 3-1 3-1.5 3 2 3 1.5 3-2 3-0.5 3 0.5 3 0.5 3 1 3-0.5 3-2 3 1 3 2.5 3-1 3-2 3 1 3 1 3 0 3 0.5 3-1 3-0.5 3 2 3 0 3-1.5 3 0.5 3 0.5 3-0.5 3 1 3 0.5 3-1.5 3 0 3 1 3 0 3 0 3 0 3-1 3 0.5 3 2 3-1 3-2 3 1 3 1 3 0 3 0 3-1.5 3 0 3 2.5 3-0.5 3-2 3 0.5 3 1.5 3-0.5 3 0 3-0.5 3-0.5 3 1 3 1 3-1.5 3 0 3 1 3-0.5 3 0 3 1 3-0.5 3-1 3 1 3 0.5 3-0.5 3 0.5 3-1 3 0 3 2 3 0 3-2.5 3 1 3 1.5 3-0.5 3-0.5 3-0.5 3 0 3 1.5 3 0.5 3-2 3 0 3 2 3 0 3-0.5 3 0 3 0 3 0.5 3 1 3-1 3-0.5 3 1 3 0.5 3-0.5 3 0.5 3 0.5 3-1 3 0.5 3 1 3-0.5 3 0 3 0 3 0 3 1 3 0.5 3-1.5 3-0.5 3 2" stroke="#910000"/><path d="M66 212.5l3-3.5 3-7.5 3-9 3-6.5 3-13 3-3.5 3-5 3-7 3-0.5 3-5 3 1.5 3-2 3-4.5 3 6.5 3-1 3 2 3 1.5 3 0 3 7.5 3-1.5 3 2 3 5.5 3 0.5 3 5.5 3-1 3 3.5 3 5.5 3-1.5 3 3.5 3 1 3 2 3 3.5 3-2.5 3 4 3 2 3 0 3 2.5 3-0.5 3 4.5 3 1 3-1 3 4 3 0.5 3 2 3 0 3-0.5 3 3 3-2 3-0.5 3 1 3-0.5 3 1.5 3-2 3 0 3 2 3-1.5 3 0.5 3-0.5 3 0.5 3 1 3-2 3 1 3 0.5 3-0.5 3 0 3-1.5 3 2 3-0.5 3-1.5 3 1 3-0.5 3 1 3-0.5 3-1.5 3 2 3-0.5 3-0.5 3 0 3 0 3 1.5 3-1.5 3 0 3 1.5 3-0.5 3 0.5 3-1 3 1 3 1 3-2 3 1 3 0.5 3 0 3 0.5 3-1.5 3 1.5 3 0.5 3-1 3 0.5 3-0.5 3 1.5 3-0.5 3-1 3 1.5 3-0.5 3 0.5 3-0.5 3-0.5 3 2 3-1.5 3-0.5 3 1 3 0 3 0.5 3-1.5 3 0.5 3 1.5 3-1.5 3 0.5 3-0.5 3 1 3 0 3-2 3 1.5 3 0.5 3-1 3 0 3-0.5 3 1.5 3-0.5 3-1.5 3 1 3 0 3 0.5 3-1 3-0.5 3 2 3-1.5 3-0.5 3 0.5 3 0 3 1 3-2 3 0.5 3 1.5 3-1 3 0 3-0.5 3 0.5 3 1 3-2 3 1 3 0 3 0 3 0 3-1 3 1.5 3 0 3-1.5 3 1 3 0 3 1 3-1 3-0.5 3 2 3-0.5 3-0.5 3 0 3 0.5 3 1.5 3-1.5 3 0 3 1.5 3-0.5 3 0.5 3-1 3 1 3 1 3-1.5 3 1 3 0 3 1 3 0 3-1.5 3 2 3 0" stroke="#8b0000"/><path d="M66 198l3-5 3-12 3-5.5 3-8.5 3-11 3-2.5 3-6 3-9.5 3 0 3 1 3-5.5 3-2.5 3 1 3 2.5 3 3.5 3-2 3 0.5 3 9 3 1.5 3-2.5 3 7 3 4 3-0.5 3 6.5 3 2.5 3-2 3 7.5 3 5.5 3-4.5 3 3 3 7 3-0.5 3 0 3 4 3 1.5 3 2.5 3 2.5 3-0.5 3 2.5 3 4 3 1 3 1.5 3 2 3 0.5 3 3.5 3 0.5 3-3.5 3 2.5 3 3.5 3-4 3-0.5 3 3.5 3-1 3-1.5 3 2 3-1 3-0.5 3 2.5 3-1 3-1.5 3 2 3 0.5 3-1 3-0.5 3 0.5 3 0.5 3 0 3-1.5 3 0 3 2 3-1 3-1 3 1.5 3-0.5 3-0.5 3 1.5 3-1 3-1.5 3 2.5 3 0.5 3-3 3 1.5 3 1.5 3-1.5 3 0 3 1 3-0.5 3 0.5 3 0.5 3-1.5 3 1 3 1 3-0.5 3-0.5 3 0 3 0.5 3 1 3-0.5 3-1.5 3 2 3 1 3-2.5 3 0.5 3 2 3-1.5 3 0.5 3 1 3-2 3 0.5 3 2 3-1.5 3-1 3 2 3 0 3-1 3 0 3 0 3 0.5 3 0.5 3-1.5 3 0.5 3 1.5 3-1 3-0.5 3 1 3-1 3 0.5 3 1 3-1.5 3-0.5 3 2.5 3-1 3-2 3 2 3 0.5 3-1.5 3 0.5 3 0.5 3-1 3 1 3 0.5 3-1.5 3 0.5 3 1 3-0.5 3-0.5 3 0 3 0.5 3 1 3-1.5 3-0.5 3 1.5 3 0 3-1.5 3 1 3 0.5 3-1 3 1 3 0 3-1.5 3 1.5 3 1 3-1.5 3-0.5 3 2 3-0.5 3-0.5 3 0.5 3 0 3 0.5 3 0 3-0.5 3 0.5 3 0.5 3-0.5 3 0 3 0.5 3-0.5 3 1 3 0.5 3-1.5 3 0.5 3 2 3-1.5 3-0.5" stroke="#850000"/><path d="M66 167.5l3-9 3-9 3-6.5 3-7.5 3-10 3-9.5 3-3.5 3-1.5 3-9.5 3-5 3 5 3-3 3-7 3 7 3 6.5 3-2.5 3 2.5 3 8 3 3 3 1.5 3 3.5 3 5.5 3 5.5 3 1 3 3 3 8 3 2.5 3 1 3 6.5 3 4 3 0.5 3 4.5 3 5 3 1 3 4 3 4 3 1.5 3 3.5 3 4 3 2 3 2.5 3 3.5 3 2.5 3 2.5 3 1 3 1 3 2.5 3 0 3-1.5 3 2.5 3 1.5 3-2.5 3 1 3 2.5 3-1 3-1.5 3 2 3 1 3-1 3-0.5 3 0.5 3 1 3-1 3-1.5 3 1.5 3 0.5 3-2.5 3 0 3 2 3-2 3-1 3 1.5 3-0.5 3-1 3 0.5 3 0 3 0 3 0 3-0.5 3 0 3 0.5 3-1 3 0 3 0.5 3-0.5 3 0 3 0.5 3-1 3 0 3 1.5 3-1 3-1 3 1.5 3 0 3-1 3 0.5 3 1 3-0.5 3-0.5 3 0.5 3 1 3 0 3-1 3 0.5 3 1.5 3-1.5 3-0.5 3 2.5 3-0.5 3-1.5 3 1 3 1 3-1 3 0 3 1 3 0 3 0 3-0.5 3 0.5 3 1 3-1 3 0 3 1.5 3 0 3-1 3 1 3 0.5 3-1 3 1 3 0.5 3-1 3 0.5 3 0.5 3-0.5 3 0.5 3 0.5 3 0 3 0 3 0 3 0 3 0.5 3-0.5 3-0.5 3 1.5 3-0.5 3-1 3 1 3 1 3-2 3 0 3 1.5 3-0.5 3-1 3 0.5 3 0.5 3-0.5 3-0.5 3 0 3 1 3-0.5 3-1.5 3 1.5 3 0.5 3-1.5 3 0 3 1.5 3-1 3-0.5 3 0.5 3 0 3 0 3 0 3 0 3 0 3 0 3-0.5 3 0.5 3 0.5 3-1 3 0.5 3 0.5 3-0.5 3 0 3 1 3-1" stroke="#800000"/></g><g clip-path="url(#ca)"><line x1="87.30" y1="21.10" x2="87.30" y2="296.30" stroke="#000" stroke-width="2.0" stroke-dasharray="7.3 4 1.5 4.3" stroke-dashoffset="-0.4"/><line x1="143.10" y1="21.10" x2="143.10" y2="296.30" stroke="#111" stroke-width="1.5" stroke-dasharray="1.1 0.9"/></g><line x1="94.90" y1="296.30" x2="94.90" y2="290.70" stroke="#262626" stroke-width="1.0" /><line x1="94.90" y1="21.10" x2="94.90" y2="26.70" stroke="#262626" stroke-width="1.0" /><line x1="153.35" y1="296.30" x2="153.35" y2="290.70" stroke="#262626" stroke-width="1.0" /><line x1="153.35" y1="21.10" x2="153.35" y2="26.70" stroke="#262626" stroke-width="1.0" /><line x1="211.80" y1="296.30" x2="211.80" y2="290.70" stroke="#262626" stroke-width="1.0" /><line x1="211.80" y1="21.10" x2="211.80" y2="26.70" stroke="#262626" stroke-width="1.0" /><line x1="270.25" y1="296.30" x2="270.25" y2="290.70" stroke="#262626" stroke-width="1.0" /><line x1="270.25" y1="21.10" x2="270.25" y2="26.70" stroke="#262626" stroke-width="1.0" /><line x1="328.70" y1="296.30" x2="328.70" y2="290.70" stroke="#262626" stroke-width="1.0" /><line x1="328.70" y1="21.10" x2="328.70" y2="26.70" stroke="#262626" stroke-width="1.0" /><line x1="387.15" y1="296.30" x2="387.15" y2="290.70" stroke="#262626" stroke-width="1.0" /><line x1="387.15" y1="21.10" x2="387.15" y2="26.70" stroke="#262626" stroke-width="1.0" /><line x1="445.60" y1="296.30" x2="445.60" y2="290.70" stroke="#262626" stroke-width="1.0" /><line x1="445.60" y1="21.10" x2="445.60" y2="26.70" stroke="#262626" stroke-width="1.0" /><line x1="504.05" y1="296.30" x2="504.05" y2="290.70" stroke="#262626" stroke-width="1.0" /><line x1="504.05" y1="21.10" x2="504.05" y2="26.70" stroke="#262626" stroke-width="1.0" /><line x1="562.50" y1="296.30" x2="562.50" y2="290.70" stroke="#262626" stroke-width="1.0" /><line x1="562.50" y1="21.10" x2="562.50" y2="26.70" stroke="#262626" stroke-width="1.0" /><line x1="65.50" y1="290.40" x2="68.50" y2="290.40" stroke="#262626" stroke-width="1.0" /><line x1="620.90" y1="290.40" x2="617.90" y2="290.40" stroke="#262626" stroke-width="1.0" /><line x1="65.50" y1="277.15" x2="68.50" y2="277.15" stroke="#262626" stroke-width="1.0" /><line x1="620.90" y1="277.15" x2="617.90" y2="277.15" stroke="#262626" stroke-width="1.0" /><line x1="65.50" y1="267.74" x2="68.50" y2="267.74" stroke="#262626" stroke-width="1.0" /><line x1="620.90" y1="267.74" x2="617.90" y2="267.74" stroke="#262626" stroke-width="1.0" /><line x1="65.50" y1="260.45" x2="68.50" y2="260.45" stroke="#262626" stroke-width="1.0" /><line x1="620.90" y1="260.45" x2="617.90" y2="260.45" stroke="#262626" stroke-width="1.0" /><line x1="65.50" y1="254.49" x2="68.50" y2="254.49" stroke="#262626" stroke-width="1.0" /><line x1="620.90" y1="254.49" x2="617.90" y2="254.49" stroke="#262626" stroke-width="1.0" /><line x1="65.50" y1="249.46" x2="68.50" y2="249.46" stroke="#262626" stroke-width="1.0" /><line x1="620.90" y1="249.46" x2="617.90" y2="249.46" stroke="#262626" stroke-width="1.0" /><line x1="65.50" y1="245.09" x2="68.50" y2="245.09" stroke="#262626" stroke-width="1.0" /><line x1="620.90" y1="245.09" x2="617.90" y2="245.09" stroke="#262626" stroke-width="1.0" /><line x1="65.50" y1="241.24" x2="68.50" y2="241.24" stroke="#262626" stroke-width="1.0" /><line x1="620.90" y1="241.24" x2="617.90" y2="241.24" stroke="#262626" stroke-width="1.0" /><line x1="65.50" y1="237.80" x2="71.10" y2="237.80" stroke="#262626" stroke-width="1.0" /><line x1="620.90" y1="237.80" x2="615.30" y2="237.80" stroke="#262626" stroke-width="1.0" /><line x1="65.50" y1="215.15" x2="68.50" y2="215.15" stroke="#262626" stroke-width="1.0" /><line x1="620.90" y1="215.15" x2="617.90" y2="215.15" stroke="#262626" stroke-width="1.0" /><line x1="65.50" y1="201.90" x2="68.50" y2="201.90" stroke="#262626" stroke-width="1.0" /><line x1="620.90" y1="201.90" x2="617.90" y2="201.90" stroke="#262626" stroke-width="1.0" /><line x1="65.50" y1="192.49" x2="68.50" y2="192.49" stroke="#262626" stroke-width="1.0" /><line x1="620.90" y1="192.49" x2="617.90" y2="192.49" stroke="#262626" stroke-width="1.0" /><line x1="65.50" y1="185.20" x2="68.50" y2="185.20" stroke="#262626" stroke-width="1.0" /><line x1="620.90" y1="185.20" x2="617.90" y2="185.20" stroke="#262626" stroke-width="1.0" /><line x1="65.50" y1="179.24" x2="68.50" y2="179.24" stroke="#262626" stroke-width="1.0" /><line x1="620.90" y1="179.24" x2="617.90" y2="179.24" stroke="#262626" stroke-width="1.0" /><line x1="65.50" y1="174.21" x2="68.50" y2="174.21" stroke="#262626" stroke-width="1.0" /><line x1="620.90" y1="174.21" x2="617.90" y2="174.21" stroke="#262626" stroke-width="1.0" /><line x1="65.50" y1="169.84" x2="68.50" y2="169.84" stroke="#262626" stroke-width="1.0" /><line x1="620.90" y1="169.84" x2="617.90" y2="169.84" stroke="#262626" stroke-width="1.0" /><line x1="65.50" y1="165.99" x2="68.50" y2="165.99" stroke="#262626" stroke-width="1.0" /><line x1="620.90" y1="165.99" x2="617.90" y2="165.99" stroke="#262626" stroke-width="1.0" /><line x1="65.50" y1="162.55" x2="71.10" y2="162.55" stroke="#262626" stroke-width="1.0" /><line x1="620.90" y1="162.55" x2="615.30" y2="162.55" stroke="#262626" stroke-width="1.0" /><line x1="65.50" y1="139.90" x2="68.50" y2="139.90" stroke="#262626" stroke-width="1.0" /><line x1="620.90" y1="139.90" x2="617.90" y2="139.90" stroke="#262626" stroke-width="1.0" /><line x1="65.50" y1="126.65" x2="68.50" y2="126.65" stroke="#262626" stroke-width="1.0" /><line x1="620.90" y1="126.65" x2="617.90" y2="126.65" stroke="#262626" stroke-width="1.0" /><line x1="65.50" y1="117.24" x2="68.50" y2="117.24" stroke="#262626" stroke-width="1.0" /><line x1="620.90" y1="117.24" x2="617.90" y2="117.24" stroke="#262626" stroke-width="1.0" /><line x1="65.50" y1="109.95" x2="68.50" y2="109.95" stroke="#262626" stroke-width="1.0" /><line x1="620.90" y1="109.95" x2="617.90" y2="109.95" stroke="#262626" stroke-width="1.0" /><line x1="65.50" y1="103.99" x2="68.50" y2="103.99" stroke="#262626" stroke-width="1.0" /><line x1="620.90" y1="103.99" x2="617.90" y2="103.99" stroke="#262626" stroke-width="1.0" /><line x1="65.50" y1="98.96" x2="68.50" y2="98.96" stroke="#262626" stroke-width="1.0" /><line x1="620.90" y1="98.96" x2="617.90" y2="98.96" stroke="#262626" stroke-width="1.0" /><line x1="65.50" y1="94.59" x2="68.50" y2="94.59" stroke="#262626" stroke-width="1.0" /><line x1="620.90" y1="94.59" x2="617.90" y2="94.59" stroke="#262626" stroke-width="1.0" /><line x1="65.50" y1="90.74" x2="68.50" y2="90.74" stroke="#262626" stroke-width="1.0" /><line x1="620.90" y1="90.74" x2="617.90" y2="90.74" stroke="#262626" stroke-width="1.0" /><line x1="65.50" y1="87.30" x2="71.10" y2="87.30" stroke="#262626" stroke-width="1.0" /><line x1="620.90" y1="87.30" x2="615.30" y2="87.30" stroke="#262626" stroke-width="1.0" /><rect x="65.5" y="21.1" width="555.40" height="275.20" fill="none" stroke="#262626" stroke-width="1.1"/><rect x="344.5" y="39.4" width="260.40" height="120.00" fill="#fff" stroke="#262626" stroke-width="1.1"/><line x1="344.40" y1="159.40" x2="344.40" y2="156.80" stroke="#262626" stroke-width="1.0" /><line x1="344.40" y1="39.40" x2="344.40" y2="42.00" stroke="#262626" stroke-width="1.0" /><line x1="392.68" y1="159.40" x2="392.68" y2="156.80" stroke="#262626" stroke-width="1.0" /><line x1="392.68" y1="39.40" x2="392.68" y2="42.00" stroke="#262626" stroke-width="1.0" /><line x1="440.96" y1="159.40" x2="440.96" y2="156.80" stroke="#262626" stroke-width="1.0" /><line x1="440.96" y1="39.40" x2="440.96" y2="42.00" stroke="#262626" stroke-width="1.0" /><line x1="489.24" y1="159.40" x2="489.24" y2="156.80" stroke="#262626" stroke-width="1.0" /><line x1="489.24" y1="39.40" x2="489.24" y2="42.00" stroke="#262626" stroke-width="1.0" /><line x1="537.52" y1="159.40" x2="537.52" y2="156.80" stroke="#262626" stroke-width="1.0" /><line x1="537.52" y1="39.40" x2="537.52" y2="42.00" stroke="#262626" stroke-width="1.0" /><line x1="585.80" y1="159.40" x2="585.80" y2="156.80" stroke="#262626" stroke-width="1.0" /><line x1="585.80" y1="39.40" x2="585.80" y2="42.00" stroke="#262626" stroke-width="1.0" /><line x1="344.50" y1="147.03" x2="347.10" y2="147.03" stroke="#262626" stroke-width="1.0" /><line x1="604.90" y1="147.03" x2="602.30" y2="147.03" stroke="#262626" stroke-width="1.0" /><line x1="344.50" y1="117.10" x2="347.10" y2="117.10" stroke="#262626" stroke-width="1.0" /><line x1="604.90" y1="117.10" x2="602.30" y2="117.10" stroke="#262626" stroke-width="1.0" /><line x1="344.50" y1="87.16" x2="347.10" y2="87.16" stroke="#262626" stroke-width="1.0" /><line x1="604.90" y1="87.16" x2="602.30" y2="87.16" stroke="#262626" stroke-width="1.0" /><line x1="344.50" y1="57.23" x2="347.10" y2="57.23" stroke="#262626" stroke-width="1.0" /><line x1="604.90" y1="57.23" x2="602.30" y2="57.23" stroke="#262626" stroke-width="1.0" /><path d="M344.5 118.2L345.2 118.3 346.1 118.4 347.1 118.4 348.0 118.3 348.7 118.6 349.4 119.1 350.0 118.7 350.5 116.5 350.9 112.0 351.3 105.7 351.6 98.3 352.0 90.0 352.4 79.6 352.8 67.4 353.1 56.1 353.5 48.5 353.8 45.3 354.2 45.0 354.5 47.3 355.0 52.0 355.7 60.2 356.4 71.5 357.2 83.9 358.0 95.0 358.7 104.9 359.3 114.4 359.9 123.1 360.5 130.0 361.0 135.0 361.5 138.4 362.0 140.7 362.4 142.0 362.8 142.8 363.2 142.8 363.5 141.4 364.0 138.0 364.6 131.7 365.2 123.2 365.9 113.8 366.5 105.0 367.1 95.9 367.6 86.1 368.2 78.0 368.7 74.0 369.2 75.4 369.6 80.7 370.1 87.9 370.5 95.0 370.9 102.4 371.3 110.8 371.7 118.8 372.0 125.0 372.3 128.9 372.6 131.4 372.9 132.6 373.2 133.0 373.5 132.5 373.8 130.9 374.2 128.4 374.5 125.0 374.8 120.0 375.1 113.5 375.4 107.0 375.8 102.0 376.4 99.1 377.1 97.4 377.8 96.0 378.5 94.0 379.1 90.6 379.7 86.4 380.2 82.8 380.7 81.0 381.2 81.4 381.6 83.2 382.0 86.2 382.5 90.0 383.1 95.4 383.8 102.4 384.5 108.9 385.2 113.0 385.9 113.3 386.6 111.2 387.4 108.6 388.0 107.5 388.6 108.5 389.1 110.5 389.6 112.9 390.0 115.0 390.3 116.7 390.5 118.3 390.8 119.8 391.4 121.0 392.3 121.9 393.5 122.5 394.8 122.9 395.9 123.0 396.8 123.0 397.7 122.8 398.4 122.2 399.2 121.0 399.9 118.8 400.6 115.8 401.3 112.7 402.0 110.0 402.8 107.5 403.6 105.1 404.5 103.3 405.2 103.0 405.8 104.5 406.4 107.5 407.0 111.2 407.5 115.0 408.0 119.1 408.5 123.7 409.0 128.2 409.5 132.0 409.9 135.2 410.3 138.0 410.7 140.1 411.2 141.0 411.9 140.6 412.8 139.1 413.7 136.8 414.5 134.0 415.2 130.4 415.8 126.0 416.4 121.6 417.0 118.0 417.7 115.3 418.4 113.1 419.2 111.6 420.0 111.0 420.8 111.4 421.7 112.6 422.5 114.5 423.4 117.0 424.3 120.5 425.1 124.8 426.0 129.3 427.0 133.0 428.0 136.2 429.0 139.1 430.1 141.2 431.3 142.0 432.6 140.9 434.0 138.2 435.5 135.2 436.8 133.0 438.0 132.0 439.2 131.6 440.3 131.1 441.3 130.0 442.1 128.0 442.8 125.5 443.4 122.7 444.0 120.0 444.6 117.2 445.3 114.4 446.0 111.6 446.9 109.0 448.2 106.9 449.7 105.1 451.2 103.2 452.5 101.0 453.5 98.5 454.3 96.0 455.1 92.8 455.8 88.6 456.5 82.4 457.2 74.8 457.9 67.4 458.5 62.0 459.0 59.2 459.5 58.1 460.0 57.8 460.5 57.5 461.0 56.9 461.5 56.6 462.0 56.6 462.5 57.3 463.1 58.7 463.8 60.8 464.4 63.3 465.0 66.0 465.5 69.0 465.9 72.4 466.3 75.9 467.0 79.6 468.0 83.5 469.2 87.6 470.4 91.6 471.4 95.3 472.2 98.5 472.8 101.3 473.4 104.1 474.0 107.0 474.7 110.1 475.3 113.3 476.1 116.5 477.0 119.8 478.2 123.4 479.6 127.4 481.1 130.9 482.6 133.2 484.1 133.7 485.5 133.0 487.0 132.1 488.2 132.1 489.2 133.3 489.9 135.2 490.6 137.5 491.5 139.9 492.6 142.7 493.8 145.9 495.0 148.8 496.0 151.0 496.7 152.1 497.2 152.5 497.7 152.4 498.3 152.2 499.0 151.8 499.9 151.0 500.7 150.1 501.7 148.9 502.7 147.3 503.8 145.3 505.0 143.5 506.2 142.2 507.6 141.8 509.0 141.9 510.4 142.2 511.7 142.6 512.7 143.4 513.5 144.5 514.2 145.1 515.1 144.4 516.1 141.8 517.3 138.0 518.5 133.4 519.6 128.8 520.7 124.3 521.8 119.6 522.9 114.5 524.0 108.7 525.1 101.9 526.3 94.4 527.5 86.7 528.5 79.7 529.4 72.7 530.3 65.6 531.0 59.8 531.8 56.7 532.5 57.4 533.1 60.9 533.8 65.6 534.5 70.0 535.3 74.6 536.2 79.8 537.1 84.3 537.9 86.8 538.7 86.4 539.4 84.0 540.2 80.8 541.0 78.0 541.8 75.0 542.7 71.5 543.6 69.1 544.6 69.6 545.8 74.2 547.0 81.6 548.4 90.1 549.7 97.5 551.1 103.7 552.5 109.6 553.9 115.1 555.3 119.9 556.7 124.1 558.2 127.8 559.6 130.9 560.9 133.3 562.1 135.0 563.1 135.9 564.1 136.4 565.3 136.6 566.7 136.2 568.2 135.2 569.6 134.4 570.9 134.4 571.8 135.6 572.5 137.5 573.2 139.8 574.0 142.0 575.0 144.5 576.1 147.4 577.1 149.9 578.1 151.1 578.9 150.7 579.5 149.1 580.2 147.0 581.0 145.0 582.0 142.7 583.2 140.0 584.3 137.7 585.4 136.6 586.3 137.0 587.2 138.5 588.0 140.6 589.0 143.0 590.1 146.3 591.4 150.4 592.6 153.9 593.7 155.6 594.6 154.7 595.5 152.1 596.2 148.6 597.0 145.0 597.8 141.3 598.5 137.1 599.3 132.8 600.0 128.8 600.7 125.0 601.4 121.2 602.0 117.9 602.6 115.4 603.2 114.0 603.7 113.4 604.2 113.2 604.5 113.0" stroke="#0072BD" stroke-width="2.2" fill="none" stroke-linejoin="round"/><path d="M344.5 117.3L345.8 116.9 347.1 117.2 348.4 117.0 349.7 116.4 351.0 114.5 352.3 109.6 353.6 104.5 354.9 106.4 356.2 108.2 357.5 114.0 358.8 118.8 360.1 123.1 361.4 125.5 362.7 127.2 364.0 126.9 365.3 122.2 366.6 117.0 367.9 110.8 369.2 103.9 370.5 100.3 371.8 94.3 373.1 95.1 374.4 98.9 375.7 112.8 377.0 126.7 378.3 128.0 379.6 129.1 380.9 128.6 382.2 125.4 383.5 125.9 384.8 126.2 386.1 127.8 387.4 124.3 388.7 122.2 390.0 119.8 391.3 118.9 392.6 118.1 393.9 116.3 395.2 116.3 396.5 115.2 397.8 116.0 399.1 117.1 400.4 118.0 401.7 118.5 403.0 119.9 404.3 119.3 405.6 120.1 406.9 120.9 408.2 121.2 409.5 121.9 410.8 123.2 412.1 125.6 413.4 126.6 414.7 125.1 416.0 120.9 417.3 119.3 418.6 117.8 419.9 116.2 421.2 114.9 422.5 113.9 423.8 115.7 425.1 115.9 426.4 118.0 427.7 118.0 429.0 118.3 430.3 119.4 431.6 118.9 432.9 120.6 434.2 120.4 435.5 120.3 436.8 119.5 438.1 119.2 439.4 120.0 440.7 119.1 442.0 119.2 443.3 118.2 444.6 118.1 445.9 114.8 447.2 114.0 448.5 112.6 449.8 111.9 451.1 112.4 452.4 114.2 453.7 116.9 455.0 118.0 456.3 118.7 457.6 116.0 458.9 115.5 460.2 114.1 461.5 113.9 462.8 113.8 464.1 112.1 465.4 111.7 466.7 113.6 468.0 115.2 469.3 115.7 470.6 117.6 471.9 118.7 473.2 118.8 474.5 118.5 475.8 116.6 477.1 116.1 478.4 114.4 479.7 112.3 481.0 113.0 482.3 110.4 483.6 112.3 484.9 114.4 486.2 115.3 487.5 115.9 488.8 116.9 490.1 118.5 491.4 119.3 492.7 121.6 494.0 122.0 495.3 121.0 496.6 120.4 497.9 119.7 499.2 118.5 500.5 118.6 501.8 117.8 503.1 117.0 504.4 117.5 505.7 115.8 507.0 115.3 508.3 115.4 509.6 114.6 510.9 115.1 512.2 116.7 513.5 117.9 514.8 119.3 516.1 120.1 517.4 123.0 518.7 122.6 520.0 121.7 521.3 120.6 522.6 120.7 523.9 121.9 525.2 122.4 526.5 123.6 527.8 124.8 529.1 123.5 530.4 123.9 531.7 123.6 533.0 121.8 534.3 120.7 535.6 118.5 536.9 116.7 538.2 116.0 539.5 115.3 540.8 112.5 542.1 112.3 543.4 113.1 544.7 115.2 546.0 116.8 547.3 117.8 548.6 118.6 549.9 119.6 551.2 117.7 552.5 116.2 553.8 117.6 555.1 117.2 556.4 116.2 557.7 117.2 559.0 118.6 560.3 119.0 561.6 119.3 562.9 118.9 564.2 118.4 565.5 115.7 566.8 116.0 568.1 114.5 569.4 113.6 570.7 114.6 572.0 116.3 573.3 117.3 574.6 119.5 575.9 121.2 577.2 120.8 578.5 123.1 579.8 121.8 581.1 121.1 582.4 119.1 583.7 119.4 585.0 118.4 586.3 118.3 587.6 117.4 588.9 120.1 590.2 119.1 591.5 119.1 592.8 118.5 594.1 117.5 595.4 117.7 596.7 116.7 598.0 115.6 599.3 115.1 600.6 114.7 601.9 116.5 603.2 116.5" stroke="#EDB120" stroke-width="2.0" fill="none" stroke-linejoin="round"/><line x1="383.70" y1="61.70" x2="391.10" y2="61.70" stroke="#0072BD" stroke-width="2.2" /><line x1="383.70" y1="81.50" x2="391.10" y2="81.50" stroke="#EDB120" stroke-width="2.2" /><g clip-path="url(#cb)" fill="none" stroke-width="1.2" stroke-linejoin="round"><path d="M66.5 391l1.5-4.5 1.6-1.5 1.5 4.5 1.6 4 1.5 6 1.6 5.5 1.5 6 1.6 6 1.5 5.5 1.5 5 1.6 5.5 1.5 5.5 1.6 4.5 1.5 2.5 1.6 3 1.5 3 1.5 2.5 1.6 1 1.5 1 1.6 1 1.5 0.5 1.6 0.5 1.5 0.5 1.6 0.5 1.5 0.5 1.5 0.5 1.6 1 1.5 0.5 1.6 1.5 1.5 1 1.6 1.5 1.5 1 1.5 1 1.6 1 1.5 1 1.6 0.5 1.5 1 1.6 0.5 1.5 0.5 1.6 0.5 1.5 0.5 1.5 0.5 1.6 0.5 1.5 1 1.6 0.5 1.5 0.5 1.6 0.5 1.5 0 1.5 0.5 1.6 0 1.5 0.5 1.6 0.5 1.5 0.5 1.6 0.5 1.5 0.5 1.6 0.5 1.5 1 1.5 0.5 1.6 0.5 1.5 0.5 1.6 1 1.5 0 1.6 0.5 1.5 0 1.5 0.5 1.6 0 1.5 0 1.6 0 1.5 0.5 1.6 0 1.5 0.5 1.6 0.5 1.5 0 1.5 0.5 1.6 0 1.5 0.5 1.6 0 1.5 0.5 1.6 0 1.5 0.5 1.5 0 1.6 0.5 1.5 0 1.6 0 1.5 0 1.6 0 1.5 0 1.6 0 1.5 0 1.5-0.5 1.6 0 1.5 0 1.6 0 1.5 0 1.6 0 1.5 0.5 1.5 0 1.6 0 1.5 0.5 1.6 0 1.5 0 1.6 0 1.5 0.5 1.6 0 1.5 0 1.5 0 1.6 0 1.5 0 1.6 0 1.5-0.5 1.6 0 1.5 0 1.5 0 1.6-0.5 1.5 0.5 1.6 0 1.5 0 1.6 0.5 1.5 0.5 1.6 0.5 1.5 0.5 1.5 0.5 1.6 0.5 1.5 0.5 1.6 0 1.5 0 1.6 0 1.5-0.5 1.6 0 1.5-0.5 1.5-0.5 1.6-0.5 1.5 0 1.6-0.5 1.5 0 1.6 0.5 1.5 0 1.5 0 1.6 0 1.5 0.5 1.6 0 1.5 0 1.6 0 1.5 0.5 1.6 0 1.5 0 1.5 0.5 1.6 0 1.5 0.5 1.6 0 1.5 0.5 1.6 0 1.5 0 1.5 0 1.6 0.5 1.5 0 1.6 0 1.5 0 1.6 0 1.5 0 1.6 0 1.5 0.5 1.5 0 1.6 0 1.5 0.5 1.6 0" stroke="#add96b"/><path d="M66.5 391.5l1.5-5 1.6-2 1.5 4.5 1.6 4.5 1.5 5.5 1.6 5.5 1.5 6 1.6 5 1.5 5 1.5 4 1.6 4.5 1.5 4.5 1.6 3 1.5 2 1.6 2 1.5 2.5 1.5 2.5 1.6 1 1.5 1.5 1.6 1.5 1.5 1 1.6 1.5 1.5 1 1.6 1 1.5 1 1.5 1 1.6 1 1.5 1 1.6 0.5 1.5 1.5 1.6 1 1.5 1 1.5 1 1.6 1 1.5 1 1.6 1 1.5 1 1.6 1 1.5 0.5 1.6 1 1.5 0.5 1.5 0.5 1.6 0.5 1.5 0.5 1.6 0.5 1.5 0 1.6 0 1.5 0 1.5 0 1.6 0.5 1.5 0 1.6 0.5 1.5 0 1.6 0 1.5 0.5 1.6 0 1.5 0.5 1.5 0 1.6 0.5 1.5 0 1.6 0.5 1.5 0.5 1.6 1 1.5 0.5 1.5 0.5 1.6 0 1.5 0.5 1.6 0 1.5 0.5 1.6 0 1.5 0 1.6 0 1.5 0 1.5 0.5 1.6 0 1.5 0.5 1.6 0.5 1.5 0 1.6 0.5 1.5 0.5 1.5 0.5 1.6 0.5 1.5 0.5 1.6 0.5 1.5 0 1.6 0.5 1.5 0.5 1.6 0 1.5 0.5 1.5 0 1.6 0 1.5 0.5 1.6 0 1.5 0 1.6 0 1.5 0 1.5 0 1.6 0 1.5-0.5 1.6 0 1.5 0 1.6-0.5 1.5 0 1.6 0 1.5 0 1.5 0 1.6 0 1.5 0.5 1.6 0 1.5 0.5 1.6 0.5 1.5 0.5 1.5 0 1.6 0.5 1.5 0.5 1.6 0 1.5 0 1.6 0 1.5 0 1.6 0 1.5-0.5 1.5 0 1.6 0 1.5-0.5 1.6 0 1.5 0 1.6 0 1.5 0 1.6 0.5 1.5 0 1.5 0 1.6 0.5 1.5 0 1.6 0 1.5 0.5 1.6 0 1.5 0 1.5 0.5 1.6 0 1.5 0 1.6 0 1.5 0 1.6 0 1.5 0 1.6-0.5 1.5 0 1.5 0 1.6 0 1.5 0.5 1.6 0 1.5 0 1.6 0.5 1.5 0 1.5 0 1.6 0.5 1.5 0 1.6-0.5 1.5 0 1.6-0.5 1.5 0 1.6-0.5 1.5-0.5 1.5-0.5 1.6-0.5 1.5-0.5 1.6 0" stroke="#9bcc6d"/><path d="M66.5 419l1.5-28.5 1.6-12 1.5-0.5 1.6 2.5 1.5 5 1.6 6 1.5 6.5 1.6 6.5 1.5 6 1.5 6 1.6 5.5 1.5 6 1.6 4.5 1.5 3 1.6 3 1.5 3 1.5 2.5 1.6 1.5 1.5 1.5 1.6 1.5 1.5 1.5 1.6 1 1.5 1.5 1.6 1.5 1.5 1 1.5 1.5 1.6 1 1.5 1 1.6 1 1.5 1 1.6 1 1.5 1 1.5 1 1.6 1 1.5 0.5 1.6 1.5 1.5 1 1.6 1 1.5 1 1.6 0.5 1.5 1 1.5 0.5 1.6 1 1.5 0.5 1.6 0 1.5 0 1.6 0.5 1.5 0 1.5 0.5 1.6 0 1.5 0.5 1.6 0 1.5 0.5 1.6 0.5 1.5 0.5 1.6 0 1.5 0.5 1.5 0.5 1.6 0.5 1.5 0.5 1.6 0.5 1.5 0.5 1.6 0.5 1.5 1 1.5 0.5 1.6 0 1.5 0.5 1.6 0 1.5 0.5 1.6 0 1.5 0 1.6 0 1.5 0 1.5 0.5 1.6 0 1.5 0.5 1.6 0 1.5 0.5 1.6 0.5 1.5 0.5 1.5 0.5 1.6 0.5 1.5 0 1.6 0.5 1.5 0 1.6 0 1.5 0 1.6 0 1.5 0 1.5 0 1.6 0 1.5 0 1.6 0 1.5 0.5 1.6 0 1.5 0 1.5 0 1.6 0 1.5 0 1.6 0 1.5-0.5 1.6 0 1.5 0 1.6 0 1.5 0 1.5 0 1.6 0 1.5-0.5 1.6 0 1.5 0 1.6 0 1.5 0 1.5 0 1.6 0 1.5 0 1.6 0 1.5 0.5 1.6 0 1.5 0.5 1.6 0.5 1.5 0 1.5 0.5 1.6 0 1.5 0.5 1.6 0 1.5 0 1.6 0 1.5 0 1.6 0 1.5 0 1.5 0 1.6 0 1.5 0 1.6 0 1.5 0.5 1.6 0.5 1.5 0 1.5 0.5 1.6 0.5 1.5 0 1.6 0.5 1.5 0 1.6 0 1.5 0 1.6-0.5 1.5 0 1.5-0.5 1.6-0.5 1.5 0 1.6 0 1.5 0 1.6 0 1.5 0 1.5 0.5 1.6 0 1.5 0 1.6 0.5 1.5 0 1.6 0 1.5 0 1.6 0 1.5 0 1.5 0 1.6 0 1.5 0 1.6 0" stroke="#51837f"/><path d="M66.5 389.5l1.5-3.5 1.6-1 1.5 4 1.6 4 1.5 4.5 1.6 5.5 1.5 5 1.6 5 1.5 4 1.5 5 1.6 4.5 1.5 5 1.6 4 1.5 2.5 1.6 3 1.5 3.5 1.5 2.5 1.6 2 1.5 1.5 1.6 1.5 1.5 2 1.6 1 1.5 1.5 1.6 1 1.5 1.5 1.5 1 1.6 0.5 1.5 1 1.6 0.5 1.5 0.5 1.6 0.5 1.5 0.5 1.5 0.5 1.6 0 1.5 0.5 1.6 0.5 1.5 0.5 1.6 0.5 1.5 0.5 1.6 0 1.5 0.5 1.5 0.5 1.6 0 1.5 1 1.6 0.5 1.5 0 1.6 0.5 1.5 0.5 1.5 1 1.6 0.5 1.5 0.5 1.6 0.5 1.5 0.5 1.6 0.5 1.5 0 1.6 0 1.5 0 1.5 0 1.6 0 1.5 0.5 1.6 0 1.5 0 1.6 0.5 1.5 0.5 1.5 0.5 1.6 0 1.5 0.5 1.6 0.5 1.5 0.5 1.6 0.5 1.5 0.5 1.6 0 1.5 0.5 1.5 0.5 1.6 0 1.5 0 1.6 0.5 1.5 0 1.6 0.5 1.5 0.5 1.5 0 1.6 0.5 1.5 0.5 1.6 0.5 1.5 0 1.6 0.5 1.5 0 1.6 0 1.5 0 1.5 0 1.6 0 1.5 0 1.6 0.5 1.5 0 1.6 0 1.5 0.5 1.5 0 1.6 0.5 1.5 0.5 1.6 0 1.5 0.5 1.6 0 1.5 0 1.6 0 1.5 0 1.5-0.5 1.6-0.5 1.5 0 1.6-0.5 1.5-0.5 1.6-0.5 1.5 0 1.5-0.5 1.6 0 1.5 0 1.6 0 1.5 0.5 1.6 0 1.5 0 1.6 0 1.5 0 1.5 0.5 1.6 0 1.5 0 1.6 0 1.5 0 1.6 0 1.5 0 1.6 0 1.5 0 1.5 0 1.6 0 1.5 0 1.6-0.5 1.5 0 1.6 0 1.5 0 1.5 0 1.6 0 1.5 0 1.6 0.5 1.5 0 1.6 0.5 1.5 0 1.6 0.5 1.5 0.5 1.5 0.5 1.6 0 1.5 0.5 1.6 0 1.5 0 1.6 0.5 1.5 0 1.5 0 1.6 0.5 1.5 0 1.6 0 1.5 0 1.6 0 1.5 0 1.6 0 1.5 0 1.5 0 1.6 0 1.5 0 1.6 0" stroke="#caeb69"/><path d="M66.5 390l1.5-5.5 1.6-2.5 1.5 3 1.6 3.5 1.5 5 1.6 5 1.5 5.5 1.6 5 1.5 5.5 1.5 5 1.6 5.5 1.5 5 1.6 4.5 1.5 3.5 1.6 3 1.5 3 1.5 3 1.6 1.5 1.5 1.5 1.6 1.5 1.5 1 1.6 1.5 1.5 1 1.6 1.5 1.5 1.5 1.5 1.5 1.6 1.5 1.5 1.5 1.6 1 1.5 1.5 1.6 1.5 1.5 1 1.5 1 1.6 1 1.5 0 1.6 1 1.5 0.5 1.6 0.5 1.5 0.5 1.6 0.5 1.5 1 1.5 0.5 1.6 0.5 1.5 0.5 1.6 0.5 1.5 0 1.6 0.5 1.5 0 1.5 0 1.6 0 1.5 0.5 1.6 0 1.5 0.5 1.6 0 1.5 0.5 1.6 0.5 1.5 0 1.5 1 1.6 0.5 1.5 0.5 1.6 0.5 1.5 1 1.6 0.5 1.5 0.5 1.5 0.5 1.6 0.5 1.5 0 1.6 0 1.5 0.5 1.6 0 1.5 0 1.6 0 1.5-0.5 1.5 0 1.6 0 1.5 0 1.6 0 1.5-0.5 1.6 0 1.5 0 1.5 0 1.6 0.5 1.5 0 1.6 0.5 1.5 0.5 1.6 0.5 1.5 0.5 1.6 0.5 1.5 0.5 1.5 0.5 1.6 0 1.5 0.5 1.6 0.5 1.5 0 1.6 0.5 1.5 0.5 1.5 0 1.6 0 1.5 0.5 1.6 0 1.5 0 1.6 0 1.5-0.5 1.6 0 1.5 0 1.5-0.5 1.6 0 1.5 0 1.6-0.5 1.5 0 1.6 0 1.5 0 1.5 0 1.6 0 1.5 0.5 1.6 0 1.5 0.5 1.6 0 1.5 0.5 1.6 0.5 1.5 0 1.5 0 1.6 0.5 1.5 0 1.6-0.5 1.5 0 1.6-0.5 1.5 0 1.6-0.5 1.5-0.5 1.5-0.5 1.6 0 1.5-0.5 1.6 0 1.5 0.5 1.6 0 1.5 0.5 1.5 0.5 1.6 0 1.5 0.5 1.6 0.5 1.5 0.5 1.6 0 1.5 0.5 1.6 0 1.5 0 1.5 0 1.6 0 1.5 0 1.6 0 1.5 0 1.6 0 1.5 0 1.5 0 1.6 0 1.5 0 1.6 0 1.5 0.5 1.6 0 1.5 0.5 1.6 0.5 1.5 0.5 1.5 0 1.6 0.5 1.5 0 1.6 0" stroke="#8cbf71"/><path d="M66.5 374.5l1.5-8 1.6-2.5 1.5 5 1.6 5 1.5 7 1.6 7 1.5 7 1.6 6.5 1.5 6.5 1.5 6 1.6 6 1.5 6 1.6 5 1.5 3 1.6 3.5 1.5 3.5 1.5 3 1.6 2 1.5 2 1.6 1.5 1.5 2 1.6 1.5 1.5 1.5 1.6 1.5 1.5 2 1.5 1 1.6 1.5 1.5 1 1.6 1 1.5 1 1.6 1 1.5 0.5 1.5 0 1.6 0.5 1.5 0 1.6 0.5 1.5 0.5 1.6 0.5 1.5 0.5 1.6 0.5 1.5 1 1.5 1 1.6 0.5 1.5 1 1.6 0.5 1.5 0.5 1.6 0.5 1.5 1 1.5 0.5 1.6 0.5 1.5 0 1.6 0.5 1.5 0.5 1.6 0 1.5 0.5 1.6 0 1.5 0 1.5 0.5 1.6 0 1.5 0 1.6 0.5 1.5 0.5 1.6 0.5 1.5 0 1.5 0.5 1.6 1 1.5 0.5 1.6 0.5 1.5 1 1.6 1 1.5 0.5 1.6 0.5 1.5 0.5 1.5 0 1.6 0.5 1.5 0 1.6 0 1.5-0.5 1.6 0 1.5 0 1.5 0 1.6 0 1.5 0 1.6 0.5 1.5 0 1.6 0 1.5 0.5 1.6 0 1.5 0.5 1.5 0 1.6 0.5 1.5 0 1.6 0 1.5 0.5 1.6 0 1.5 0 1.5 0 1.6 0 1.5 0 1.6 0 1.5 0 1.6 0 1.5 0.5 1.6 0 1.5 0 1.5 0.5 1.6 0 1.5 0 1.6 0 1.5 0 1.6 0 1.5-0.5 1.5 0 1.6 0 1.5 0 1.6 0 1.5-0.5 1.6 0.5 1.5 0 1.6 0 1.5 0 1.5 0.5 1.6 0 1.5 0.5 1.6 0.5 1.5 0.5 1.6 0.5 1.5 0.5 1.6 0 1.5 0.5 1.5 0 1.6 0 1.5 0 1.6 0 1.5-0.5 1.6 0 1.5 0 1.5-0.5 1.6 0 1.5 0 1.6 0 1.5 0 1.6-0.5 1.5 0 1.6 0 1.5 0 1.5 0 1.6-0.5 1.5 0 1.6 0.5 1.5 0 1.6 0.5 1.5 0 1.5 0.5 1.6 0.5 1.5 0 1.6 0.5 1.5 0 1.6 0.5 1.5 0 1.6 0 1.5 0 1.5 0 1.6 0 1.5 0 1.6 0.5" stroke="#2040a8"/><path d="M66.5 373.5l1.5-6.5 1.6-2 1.5 4.5 1.6 5 1.5 6.5 1.6 6.5 1.5 6.5 1.6 6.5 1.5 6.5 1.5 6.5 1.6 6.5 1.5 6.5 1.6 5.5 1.5 4 1.6 4 1.5 4 1.5 3.5 1.6 2 1.5 2 1.6 1.5 1.5 1.5 1.6 1.5 1.5 1.5 1.6 1 1.5 1.5 1.5 1.5 1.6 1 1.5 1 1.6 1.5 1.5 1 1.6 1 1.5 1 1.5 0.5 1.6 0.5 1.5 1 1.6 1 1.5 1 1.6 1 1.5 1 1.6 1.5 1.5 1 1.5 0.5 1.6 1 1.5 1 1.6 0.5 1.5 0.5 1.6 0.5 1.5 0.5 1.5 0.5 1.6 0.5 1.5 0.5 1.6 0.5 1.5 0.5 1.6 0.5 1.5 0.5 1.6 0.5 1.5 0.5 1.5 0.5 1.6 0.5 1.5 0.5 1.6 0.5 1.5 0 1.6 0.5 1.5 0.5 1.5 0 1.6 0 1.5 0 1.6 0.5 1.5 0 1.6 0 1.5 0.5 1.6 0 1.5 0.5 1.5 0.5 1.6 0 1.5 0.5 1.6 0.5 1.5 0 1.6 0.5 1.5 0.5 1.5 0 1.6 0 1.5 0.5 1.6 0.5 1.5 0 1.6 0.5 1.5 0 1.6 0.5 1.5 0 1.5 0.5 1.6 0.5 1.5 0 1.6 0 1.5 0 1.6 0.5 1.5 0 1.5 0 1.6 0 1.5 0 1.6 0 1.5 0.5 1.6 0 1.5 0 1.6 0.5 1.5 0 1.5 0 1.6 0.5 1.5 0 1.6 0.5 1.5 0 1.6 0.5 1.5 0 1.5 0 1.6 0 1.5 0 1.6-0.5 1.5 0 1.6-0.5 1.5 0 1.6-0.5 1.5 0 1.5 0 1.6 0 1.5 0 1.6 0.5 1.5 0 1.6 0 1.5 0 1.6 0 1.5 0 1.5 0 1.6 0 1.5 0.5 1.6 0 1.5 0.5 1.6 0.5 1.5 0.5 1.5 0 1.6 0.5 1.5 0 1.6 0 1.5 0 1.6 0 1.5-0.5 1.6 0 1.5-0.5 1.5 0 1.6 0 1.5 0 1.6 0 1.5-0.5 1.6 0 1.5 0 1.5 0 1.6 0 1.5 0 1.6 0 1.5 0 1.6 0.5 1.5 0 1.6 0 1.5 0 1.5 0.5 1.6 0 1.5 0 1.6 0" stroke="#366695"/><path d="M66.5 375l1.5-4 1.6-1 1.5 4.5 1.6 5 1.5 6 1.6 6 1.5 6.5 1.6 6 1.5 5.5 1.5 5.5 1.6 6 1.5 6 1.6 5 1.5 3 1.6 3 1.5 3 1.5 2.5 1.6 1.5 1.5 1 1.6 1.5 1.5 1 1.6 1.5 1.5 1.5 1.6 1 1.5 2 1.5 1.5 1.6 1.5 1.5 2 1.6 1.5 1.5 1.5 1.6 2 1.5 1.5 1.5 1 1.6 1 1.5 0.5 1.6 0 1.5 0 1.6 0 1.5 0 1.6-0.5 1.5 0 1.5 0 1.6 0.5 1.5 0.5 1.6 0.5 1.5 1 1.6 1 1.5 1 1.5 1 1.6 0.5 1.5 1 1.6 0.5 1.5 1 1.6 0.5 1.5 0.5 1.6 0 1.5 0.5 1.5 1 1.6 0.5 1.5 0.5 1.6 1 1.5 0.5 1.6 1 1.5 0.5 1.5 0.5 1.6 0.5 1.5 0.5 1.6 0.5 1.5 0.5 1.6 0 1.5 0.5 1.6 0 1.5 0 1.5 0.5 1.6 0 1.5 0 1.6 0.5 1.5 0 1.6 0.5 1.5 0.5 1.5 0 1.6 0.5 1.5 0 1.6 0.5 1.5 0 1.6 0.5 1.5 0 1.6 0 1.5 0 1.5 0.5 1.6 0 1.5 0 1.6 0 1.5 0 1.6 0 1.5 0 1.5 0 1.6-0.5 1.5 0 1.6 0 1.5 0 1.6-0.5 1.5 0 1.6 0 1.5 0 1.5-0.5 1.6 0 1.5 0 1.6 0 1.5 0 1.6 0 1.5 0 1.5 0.5 1.6 0 1.5 0 1.6 0 1.5 0.5 1.6 0 1.5 0 1.6 0.5 1.5 0.5 1.5 0 1.6 0.5 1.5 0 1.6 0.5 1.5 0 1.6 0 1.5 0 1.6 0 1.5 0 1.5 0 1.6 0 1.5 0 1.6 0 1.5 0 1.6 0.5 1.5 0 1.5 0 1.6 0 1.5 0 1.6 0.5 1.5 0 1.6 0 1.5-0.5 1.6 0 1.5 0 1.5 0 1.6-0.5 1.5 0 1.6 0 1.5 0 1.6 0 1.5 0.5 1.5 0 1.6 0.5 1.5 0.5 1.6 0.5 1.5 0.5 1.6 0 1.5 0.5 1.6 0 1.5 0 1.5-0.5 1.6 0 1.5 0 1.6 0" stroke="#5a8c7c"/><path d="M66.5 394l1.5-22.5 1.6-8.5 1.5 2 1.6 4.5 1.5 6.5 1.6 7 1.5 7.5 1.6 7 1.5 7 1.5 6.5 1.6 6.5 1.5 6 1.6 5 1.5 4 1.6 3 1.5 3.5 1.5 3 1.6 1.5 1.5 1.5 1.6 1.5 1.5 2 1.6 1.5 1.5 2 1.6 2 1.5 2 1.5 2 1.6 1.5 1.5 2 1.6 1.5 1.5 1.5 1.6 1.5 1.5 1.5 1.5 1 1.6 1 1.5 0.5 1.6 1 1.5 1 1.6 1 1.5 1 1.6 1 1.5 0.5 1.5 0.5 1.6 1 1.5 0.5 1.6 0.5 1.5 0.5 1.6 0 1.5 0.5 1.5 0.5 1.6 0.5 1.5 1 1.6 0.5 1.5 1 1.6 0.5 1.5 0.5 1.6 0.5 1.5 0.5 1.5 0.5 1.6 0 1.5 0.5 1.6 0 1.5 0.5 1.6 0 1.5 0.5 1.5 0 1.6 0.5 1.5 0.5 1.6 0.5 1.5 0.5 1.6 0.5 1.5 0.5 1.6 0.5 1.5 0.5 1.5 0.5 1.6 0 1.5 0.5 1.6 0 1.5 0 1.6 0 1.5 0 1.5-0.5 1.6 0 1.5 0 1.6 0.5 1.5 0 1.6 0.5 1.5 0 1.6 0.5 1.5 0 1.5 0.5 1.6 0.5 1.5 0 1.6 0 1.5 0.5 1.6 0 1.5 0.5 1.5 0 1.6 0 1.5 0 1.6 0 1.5 0 1.6 0.5 1.5 0 1.6 0 1.5 0 1.5 0.5 1.6 0 1.5 0.5 1.6 0 1.5 0 1.6 0.5 1.5 0 1.5 0 1.6 0.5 1.5 0 1.6 0 1.5 0 1.6-0.5 1.5 0 1.6 0 1.5 0 1.5 0 1.6 0 1.5 0 1.6 0 1.5 0 1.6 0.5 1.5 0 1.6 0.5 1.5 0.5 1.5 0 1.6 0.5 1.5 0 1.6-0.5 1.5 0 1.6-0.5 1.5-0.5 1.5-0.5 1.6-0.5 1.5 0 1.6 0 1.5 0 1.6 0 1.5 0 1.6 0 1.5 0 1.5 0 1.6 0 1.5 0 1.6 0 1.5 0 1.6-0.5 1.5 0.5 1.5 0 1.6 0 1.5 0.5 1.6 0 1.5 0 1.6 0.5 1.5 0 1.6 0.5 1.5 0 1.5 0 1.6 0 1.5 0 1.6-0.5" stroke="#1b36ab"/><path d="M66.5 417l1.5-23 1.6-10.5 1.5 0.5 1.6 2 1.5 4.5 1.6 5.5 1.5 5.5 1.6 6 1.5 5.5 1.5 5.5 1.6 6 1.5 5.5 1.6 4 1.5 2.5 1.6 2.5 1.5 2.5 1.5 2 1.6 0.5 1.5 0.5 1.6 1 1.5 0.5 1.6 1 1.5 1 1.6 1.5 1.5 1.5 1.5 2 1.6 1.5 1.5 1.5 1.6 2 1.5 1.5 1.6 1.5 1.5 1.5 1.5 1 1.6 1 1.5 1 1.6 0.5 1.5 0.5 1.6 0.5 1.5 0.5 1.6 0.5 1.5 0.5 1.5 0.5 1.6 0.5 1.5 0.5 1.6 1 1.5 0.5 1.6 0 1.5 0.5 1.5 0.5 1.6 0 1.5 0 1.6 0 1.5 0 1.6 0 1.5 0.5 1.6 0 1.5 0.5 1.5 0.5 1.6 0.5 1.5 0.5 1.6 0.5 1.5 0.5 1.6 0.5 1.5 0.5 1.5 0.5 1.6 0 1.5 0.5 1.6 0 1.5 0.5 1.6 0 1.5 0 1.6 0 1.5 0.5 1.5 0 1.6 0 1.5 0 1.6 0.5 1.5 0 1.6 0.5 1.5 0 1.5 0.5 1.6 0.5 1.5 0 1.6 0.5 1.5 0.5 1.6 0 1.5 0.5 1.6 0.5 1.5 0 1.5 0.5 1.6 0.5 1.5 0 1.6 0.5 1.5 0 1.6 0.5 1.5 0 1.5 0 1.6 0 1.5 0 1.6 0 1.5 0 1.6 0 1.5 0 1.6-0.5 1.5 0 1.5-0.5 1.6-0.5 1.5-0.5 1.6-0.5 1.5 0 1.6-0.5 1.5-0.5 1.5 0 1.6 0 1.5 0 1.6 0.5 1.5 0 1.6 0.5 1.5 0.5 1.6 0.5 1.5 0.5 1.5 1 1.6 0 1.5 0.5 1.6 0 1.5 0.5 1.6 0 1.5 0 1.6 0.5 1.5 0 1.5 0.5 1.6 0 1.5 0 1.6 0.5 1.5 0 1.6 0 1.5 0 1.5 0 1.6-0.5 1.5 0 1.6-0.5 1.5 0 1.6-0.5 1.5 0 1.6-0.5 1.5 0 1.5 0 1.6 0 1.5 0 1.6 0.5 1.5 0 1.6 0.5 1.5 0.5 1.5 0.5 1.6 0 1.5 0.5 1.6 0 1.5 0 1.6-0.5 1.5 0 1.6-0.5 1.5 0 1.5-0.5 1.6 0 1.5 0 1.6 0" stroke="#63967a"/><path d="M66.5 397.5l1.5-6.5 1.6-3 1.5 3.5 1.6 2.5 1.5 5 1.6 5 1.5 5 1.6 5.5 1.5 5 1.5 5 1.6 5 1.5 5 1.6 4 1.5 3.5 1.6 2.5 1.5 3.5 1.5 2.5 1.6 1.5 1.5 1.5 1.6 1.5 1.5 1 1.6 1 1.5 1 1.6 0.5 1.5 1 1.5 0.5 1.6 0.5 1.5 1 1.6 1 1.5 1 1.6 1.5 1.5 1 1.5 1.5 1.6 1 1.5 0.5 1.6 1 1.5 0.5 1.6 0.5 1.5 0.5 1.6 0 1.5 0 1.5 0.5 1.6 0 1.5 0 1.6 0.5 1.5 0.5 1.6 0 1.5 0.5 1.5 0.5 1.6 0 1.5 0.5 1.6 0 1.5 0.5 1.6 0 1.5 0.5 1.6 0 1.5 0.5 1.5 0.5 1.6 0.5 1.5 0.5 1.6 0.5 1.5 0.5 1.6 0.5 1.5 1 1.5 0.5 1.6 0 1.5 0.5 1.6 0.5 1.5 0 1.6 0 1.5 0 1.6 0 1.5 0 1.5 0 1.6 0 1.5 0 1.6 0 1.5 0.5 1.6 0.5 1.5 0 1.5 0.5 1.6 1 1.5 0.5 1.6 0 1.5 0.5 1.6 0.5 1.5 0 1.6 0.5 1.5 0 1.5 0 1.6 0 1.5 0 1.6 0.5 1.5 0 1.6 0 1.5 0.5 1.5 0 1.6 0 1.5 0 1.6 0 1.5-0.5 1.6 0 1.5-0.5 1.6 0 1.5 0 1.5 0 1.6 0 1.5 0 1.6 0 1.5 0 1.6 0 1.5 0 1.5 0.5 1.6 0 1.5 0 1.6 0.5 1.5 0 1.6 0 1.5 0.5 1.6 0 1.5-0.5 1.5 0 1.6 0 1.5 0 1.6-0.5 1.5 0 1.6 0 1.5 0 1.6 0 1.5 0 1.5 0 1.6 0 1.5 0 1.6 0 1.5 0 1.6 0 1.5-0.5 1.5 0 1.6 0 1.5-0.5 1.6 0 1.5 0 1.6 0 1.5 0 1.6 0 1.5 0.5 1.5 0 1.6 0.5 1.5 0.5 1.6 0.5 1.5 0.5 1.6 0.5 1.5 0 1.5 0 1.6 0 1.5 0 1.6 0 1.5 0 1.6 0 1.5 0 1.6 0 1.5 0 1.5 0 1.6 0 1.5 0 1.6-0.5" stroke="#93c56f"/><path d="M66.5 353.5l1.5-2.5 1.6 1 1.5 6.5 1.6 7 1.5 8.5 1.6 8 1.5 7.5 1.6 8 1.5 6.5 1.5 6 1.6 5.5 1.5 5.5 1.6 4.5 1.5 3 1.6 3.5 1.5 3.5 1.5 3 1.6 2 1.5 2 1.6 2.5 1.5 2 1.6 2 1.5 1.5 1.6 1.5 1.5 1.5 1.5 1.5 1.6 1 1.5 1 1.6 1 1.5 1 1.6 1 1.5 1 1.5 1 1.6 1 1.5 1.5 1.6 1 1.5 1 1.6 1.5 1.5 1 1.6 1 1.5 1 1.5 1 1.6 1 1.5 1 1.6 0.5 1.5 0.5 1.6 0.5 1.5 0.5 1.5 0.5 1.6 0 1.5 0.5 1.6 0.5 1.5 0 1.6 0.5 1.5 0.5 1.6 0.5 1.5 0.5 1.5 0.5 1.6 0.5 1.5 0.5 1.6 1 1.5 0.5 1.6 1 1.5 0.5 1.5 1 1.6 0.5 1.5 0.5 1.6 0 1.5 0.5 1.6 0.5 1.5 0.5 1.6 0 1.5 0.5 1.5 0 1.6 0.5 1.5 0 1.6 0 1.5 0.5 1.6 0 1.5 0 1.5 0.5 1.6 0 1.5 0.5 1.6 0.5 1.5 0.5 1.6 0.5 1.5 0.5 1.6 0 1.5 0.5 1.5 0 1.6 0 1.5-0.5 1.6 0 1.5 0 1.6-0.5 1.5 0 1.5 0 1.6 0 1.5 0 1.6 0 1.5 0 1.6 0.5 1.5 0 1.6 0.5 1.5 0 1.5 0 1.6 0.5 1.5 0 1.6-0.5 1.5 0.5 1.6-0.5 1.5 0.5 1.5 0 1.6 0 1.5-0.5 1.6 0 1.5 0.5 1.6 0 1.5 0 1.6-0.5 1.5 0.5 1.5 0 1.6 0 1.5 0 1.6 0 1.5 0 1.6-0.5 1.5 0 1.6 0 1.5 0 1.5-0.5 1.6 0 1.5 0 1.6 0 1.5 0.5 1.6 0 1.5 0 1.5 0.5 1.6 0 1.5 0.5 1.6 0.5 1.5 0 1.6 0 1.5 0 1.6 0 1.5 0 1.5 0 1.6 0 1.5 0 1.6-0.5 1.5 0 1.6 0 1.5 0 1.5 0 1.6 0.5 1.5 0 1.6 0 1.5 0 1.6 0 1.5 0 1.6 0 1.5 0 1.5 0 1.6-0.5 1.5 0 1.6 0" stroke="#254aa5"/><path d="M66.5 415l1.5-20.5 1.6-8.5 1.5 1 1.6 3 1.5 5.5 1.6 5.5 1.5 6 1.6 6 1.5 5.5 1.5 5 1.6 5 1.5 5.5 1.6 4.5 1.5 3 1.6 3 1.5 3.5 1.5 3 1.6 1.5 1.5 2 1.6 2 1.5 1.5 1.6 1.5 1.5 1.5 1.6 1.5 1.5 1 1.5 1.5 1.6 0.5 1.5 1 1.6 1 1.5 1 1.6 1 1.5 1 1.5 1 1.6 0.5 1.5 0.5 1.6 0.5 1.5 0.5 1.6 0 1.5 0.5 1.6-0.5 1.5 0 1.5 0.5 1.6 0.5 1.5 0.5 1.6 1 1.5 0.5 1.6 0.5 1.5 1 1.5 1 1.6 0.5 1.5 0.5 1.6 0.5 1.5 0.5 1.6 0.5 1.5 0 1.6 0.5 1.5 0.5 1.5 0.5 1.6 0.5 1.5 0.5 1.6 0.5 1.5 1 1.6 0.5 1.5 0.5 1.5 0.5 1.6 0 1.5 0.5 1.6 0 1.5 0 1.6 0.5 1.5 0 1.6 0 1.5 0 1.5 0.5 1.6 0 1.5 0 1.6 0.5 1.5 0.5 1.6 0 1.5 0.5 1.5 0.5 1.6 0 1.5 0.5 1.6 0.5 1.5 0 1.6 0 1.5 0 1.6 0.5 1.5 0 1.5 0 1.6 0 1.5 0.5 1.6 0.5 1.5 0 1.6 0.5 1.5 0 1.5 0.5 1.6 0 1.5-0.5 1.6 0 1.5 0 1.6 0 1.5 0 1.6 0 1.5 0 1.5 0 1.6 0 1.5 0 1.6 0 1.5 0.5 1.6 0 1.5 0 1.5 0.5 1.6 0 1.5 0.5 1.6 0.5 1.5 0 1.6 0 1.5 0 1.6 0 1.5 0 1.5-0.5 1.6-0.5 1.5-0.5 1.6 0 1.5-0.5 1.6-0.5 1.5 0 1.6-0.5 1.5 0 1.5 0 1.6-0.5 1.5 0 1.6 0 1.5 0.5 1.6 0 1.5 0.5 1.5 0.5 1.6 0.5 1.5 1 1.6 0.5 1.5 0.5 1.6 0.5 1.5 0.5 1.6 0 1.5 0 1.5 0 1.6 0 1.5-0.5 1.6-0.5 1.5 0 1.6-0.5 1.5-0.5 1.5-0.5 1.6 0 1.5-0.5 1.6 0 1.5 0 1.6 0.5 1.5 0.5 1.6 0 1.5 0.5 1.5 0.5 1.6 0.5 1.5 0 1.6 0.5" stroke="#497c84"/><path d="M66.5 441.5l1.5-27.5 1.6-12.5 1.5-1 1.6 1 1.5 4 1.6 4.5 1.5 5 1.6 5 1.5 4.5 1.5 4.5 1.6 4.5 1.5 4.5 1.6 3.5 1.5 2.5 1.6 3 1.5 3 1.5 2.5 1.6 1.5 1.5 1.5 1.6 2 1.5 1.5 1.6 1.5 1.5 1 1.6 1 1.5 0.5 1.5 0.5 1.6 0.5 1.5 0 1.6 0.5 1.5 0.5 1.6 0.5 1.5 1 1.5 0.5 1.6 1 1.5 0.5 1.6 1 1.5 1 1.6 0.5 1.5 0.5 1.6 0.5 1.5 0.5 1.5 0 1.6 0 1.5 0.5 1.6 0.5 1.5 0 1.6 0.5 1.5 0 1.5 0.5 1.6 0.5 1.5 0.5 1.6 0.5 1.5 0.5 1.6 0 1.5 0.5 1.6 0 1.5 0.5 1.5 0 1.6 0.5 1.5 0.5 1.6 0 1.5 0.5 1.6 0.5 1.5 0 1.5 0.5 1.6 0.5 1.5 0.5 1.6 0.5 1.5 0 1.6 0.5 1.5 0.5 1.6 0.5 1.5 0.5 1.5 0 1.6 0.5 1.5 0 1.6 0 1.5 0 1.6 0 1.5 0 1.5 0 1.6 0.5 1.5 0 1.6 0 1.5 0 1.6 0.5 1.5 0 1.6 0 1.5 0 1.5 0.5 1.6 0 1.5 0 1.6 0.5 1.5 0 1.6 0.5 1.5 0 1.5 0.5 1.6 0 1.5 0 1.6 0 1.5 0 1.6 0 1.5 0.5 1.6 0 1.5 0.5 1.5 0 1.6 0.5 1.5 0 1.6 0.5 1.5 0 1.6 0 1.5 0 1.5 0 1.6-0.5 1.5 0 1.6-0.5 1.5 0 1.6-0.5 1.5 0 1.6 0 1.5 0 1.5 0 1.6 0 1.5 0.5 1.6 0.5 1.5 0 1.6 0.5 1.5 0.5 1.6 0 1.5 0 1.5 0.5 1.6 0 1.5 0 1.6 0 1.5 0 1.6 0 1.5 0.5 1.5 0 1.6 0 1.5 0 1.6 0 1.5 0 1.6 0 1.5 0 1.6-0.5 1.5 0 1.5 0 1.6 0.5 1.5 0 1.6 0 1.5 0 1.6 0 1.5 0 1.5 0 1.6 0 1.5 0 1.6 0 1.5 0 1.6 0.5 1.5 0 1.6 0 1.5 0 1.5 0 1.6-0.5 1.5 0 1.6 0" stroke="#77ab76"/><path d="M66.5 368.5l1.5-3.5 1.6-0.5 1.5 5.5 1.6 5.5 1.5 7 1.6 7.5 1.5 7.5 1.6 7 1.5 6.5 1.5 6.5 1.6 6 1.5 6.5 1.6 4.5 1.5 3 1.6 3.5 1.5 3 1.5 2.5 1.6 1.5 1.5 1.5 1.6 2 1.5 1.5 1.6 1 1.5 1.5 1.6 1 1.5 1 1.5 1 1.6 0.5 1.5 1 1.6 0.5 1.5 1 1.6 1 1.5 1 1.5 1 1.6 1 1.5 1 1.6 1.5 1.5 1 1.6 1.5 1.5 1.5 1.6 1 1.5 1 1.5 1 1.6 1 1.5 1 1.6 1 1.5 0.5 1.6 1 1.5 0.5 1.5 0.5 1.6 0.5 1.5 0 1.6 0.5 1.5 0 1.6 0.5 1.5 0 1.6 0 1.5 0.5 1.5 0.5 1.6 0.5 1.5 0.5 1.6 1 1.5 0.5 1.6 0 1.5 0.5 1.5 0.5 1.6 0 1.5 0 1.6-0.5 1.5 0 1.6 0 1.5 0 1.6 0 1.5 0 1.5 0.5 1.6 0 1.5 0.5 1.6 0 1.5 0.5 1.6 0.5 1.5 0.5 1.5 0 1.6 0 1.5 0.5 1.6 0 1.5 0.5 1.6 0 1.5 0 1.6 0.5 1.5 0 1.5 0.5 1.6 0.5 1.5 0.5 1.6 0.5 1.5 0.5 1.6 0.5 1.5 0.5 1.5 0.5 1.6 0 1.5 0 1.6 0 1.5 0 1.6-0.5 1.5 0 1.6 0 1.5-0.5 1.5 0 1.6-0.5 1.5 0 1.6 0 1.5 0 1.6 0 1.5 0 1.5 0 1.6 0 1.5 0 1.6 0 1.5 0.5 1.6 0 1.5 0.5 1.6 0.5 1.5 0 1.5 0.5 1.6 0.5 1.5 0 1.6 0.5 1.5 0 1.6-0.5 1.5 0 1.6-0.5 1.5-0.5 1.5-0.5 1.6-0.5 1.5-0.5 1.6 0 1.5 0 1.6 0 1.5 0 1.5 0 1.6 0.5 1.5 0.5 1.6 0.5 1.5 0 1.6 0.5 1.5 0.5 1.6 0 1.5 0.5 1.5 0 1.6 0 1.5 0.5 1.6 0 1.5 0 1.6 0 1.5 0 1.5 0.5 1.6 0 1.5 0.5 1.6 0 1.5 0 1.6 0.5 1.5 0 1.6 0 1.5 0 1.5-0.5 1.6 0 1.5 0 1.6-0.5" stroke="#2a53a1"/><path d="M66.5 381l1.5-4 1.6-1.5 1.5 4.5 1.6 4.5 1.5 5.5 1.6 6.5 1.5 5.5 1.6 6.5 1.5 5.5 1.5 5.5 1.6 6 1.5 6 1.6 4.5 1.5 3.5 1.6 3.5 1.5 3.5 1.5 3 1.6 1.5 1.5 1.5 1.6 1.5 1.5 1.5 1.6 1 1.5 1.5 1.6 1 1.5 1 1.5 1 1.6 1 1.5 0.5 1.6 1 1.5 0.5 1.6 1 1.5 1 1.5 1 1.6 0.5 1.5 1 1.6 1 1.5 1 1.6 1 1.5 1 1.6 1 1.5 0.5 1.5 1 1.6 0.5 1.5 1 1.6 0.5 1.5 0.5 1.6 0.5 1.5 0 1.5 0.5 1.6 0 1.5 0.5 1.6 0 1.5 0.5 1.6 0 1.5 0 1.6 0 1.5 0.5 1.5 0 1.6 0.5 1.5 0 1.6 0.5 1.5 0.5 1.6 0.5 1.5 0.5 1.5 0.5 1.6 0 1.5 0.5 1.6 0 1.5 0.5 1.6 0 1.5 0.5 1.6 0.5 1.5 0.5 1.5 0.5 1.6 0.5 1.5 0.5 1.6 0.5 1.5 0 1.6 0.5 1.5 0.5 1.5 0 1.6 0 1.5 0 1.6 0 1.5 0.5 1.6 0 1.5 0 1.6 0.5 1.5 0 1.5 0.5 1.6 0 1.5 0.5 1.6 0 1.5 0.5 1.6 0 1.5 0 1.5 0 1.6 0 1.5 0 1.6 0 1.5-0.5 1.6 0 1.5-0.5 1.6 0 1.5 0 1.5 0 1.6 0 1.5 0 1.6 0 1.5 0.5 1.6 0 1.5 0.5 1.5 0 1.6 0 1.5 0.5 1.6 0 1.5 0 1.6 0 1.5 0 1.6 0.5 1.5 0 1.5 0 1.6 0 1.5 0 1.6 0 1.5 0 1.6 0 1.5 0 1.6 0 1.5 0.5 1.5 0 1.6 0 1.5 0 1.6 0 1.5 0 1.6 0 1.5-0.5 1.5 0 1.6-0.5 1.5 0 1.6-0.5 1.5 0 1.6 0 1.5 0 1.6 0 1.5 0.5 1.5 0 1.6 0 1.5 0.5 1.6 0 1.5 0.5 1.6 0 1.5 0.5 1.5 0 1.6 0.5 1.5 0 1.6 0 1.5 0 1.6 0 1.5 0 1.6-0.5 1.5 0 1.5-0.5 1.6 0 1.5-0.5 1.6 0" stroke="#a4d26c"/><path d="M66.5 405.5l1.5-6 1.6-3 1.5 3.5 1.6 4 1.5 5 1.6 5.5 1.5 6 1.6 5.5 1.5 5 1.5 5 1.6 5 1.5 4 1.6 3.5 1.5 2 1.6 1.5 1.5 1.5 1.5 1 1.6 0 1.5 0.5 1.6 0 1.5 0.5 1.6 0.5 1.5 1 1.6 1 1.5 1 1.5 1 1.6 1 1.5 0.5 1.6 1 1.5 0.5 1.6 1 1.5 0 1.5 0.5 1.6 0.5 1.5 0 1.6 0.5 1.5 0.5 1.6 0.5 1.5 0.5 1.6 0.5 1.5 0.5 1.5 0.5 1.6 1 1.5 0.5 1.6 0.5 1.5 0 1.6 0.5 1.5 0 1.5 0 1.6 0 1.5 0 1.6 0 1.5 0 1.6 0 1.5 0.5 1.6 0 1.5 0.5 1.5 0.5 1.6 0.5 1.5 0.5 1.6 0.5 1.5 0.5 1.6 0.5 1.5 0.5 1.5 0.5 1.6 0 1.5 0.5 1.6 0 1.5 0 1.6-0.5 1.5 0 1.6 0 1.5 0 1.5 0 1.6 0 1.5 0 1.6 0.5 1.5 0.5 1.6 0.5 1.5 0.5 1.5 0.5 1.6 0 1.5 0.5 1.6 0 1.5 0 1.6 0.5 1.5 0 1.6 0.5 1.5 0.5 1.5 0 1.6 0.5 1.5 0 1.6 0 1.5 0.5 1.6 0 1.5 0.5 1.5 0 1.6 0.5 1.5 0 1.6 0.5 1.5 0 1.6 0 1.5 0.5 1.6-0.5 1.5 0 1.5 0 1.6-0.5 1.5 0 1.6-0.5 1.5 0 1.6 0 1.5 0 1.5 0 1.6 0 1.5 0.5 1.6 0.5 1.5 0 1.6 0.5 1.5 0.5 1.6 0 1.5 0.5 1.5 0 1.6 0 1.5 0 1.6 0 1.5-0.5 1.6 0 1.5-0.5 1.6-0.5 1.5 0 1.5 0 1.6-0.5 1.5 0 1.6 0.5 1.5 0 1.6 0 1.5 0 1.5 0.5 1.6 0 1.5 0.5 1.6 0 1.5 0 1.6 0 1.5 0 1.6-0.5 1.5 0 1.5 0 1.6 0 1.5 0 1.6 0 1.5 0 1.6 0 1.5 0 1.5 0.5 1.6 0.5 1.5 0 1.6 0.5 1.5 0.5 1.6 0 1.5 0 1.6 0 1.5 0 1.5-0.5 1.6 0 1.5-0.5 1.6 0" stroke="#d6ef69"/><path d="M66.5 380.5l1.5-5.5 1.6-1.5 1.5 5 1.6 5 1.5 6.5 1.6 7 1.5 6.5 1.6 6.5 1.5 6 1.5 6 1.6 5.5 1.5 6 1.6 4.5 1.5 3 1.6 3.5 1.5 3.5 1.5 2.5 1.6 2 1.5 1.5 1.6 1 1.5 1.5 1.6 1.5 1.5 1.5 1.6 1.5 1.5 1 1.5 2 1.6 1 1.5 1.5 1.6 1.5 1.5 1 1.6 1.5 1.5 1 1.5 1 1.6 1 1.5 0.5 1.6 1 1.5 0.5 1.6 1 1.5 0.5 1.6 1 1.5 0.5 1.5 0.5 1.6 1 1.5 1 1.6 1 1.5 0.5 1.6 1 1.5 0.5 1.5 0.5 1.6 0.5 1.5 0.5 1.6 0 1.5 0.5 1.6 0 1.5 0 1.6 0.5 1.5 0 1.5 0 1.6 0 1.5 0.5 1.6 0 1.5 0.5 1.6 0 1.5 0.5 1.5 0.5 1.6 0 1.5 0 1.6 0.5 1.5 0 1.6 0.5 1.5 0 1.6 0 1.5 0 1.5 0.5 1.6 0 1.5 0 1.6 0 1.5 0 1.6 0.5 1.5 0 1.5 0 1.6 0.5 1.5 0.5 1.6 0.5 1.5 0.5 1.6 0.5 1.5 1 1.6 0.5 1.5 1 1.5 0.5 1.6 0.5 1.5 0.5 1.6 0 1.5 0 1.6 0 1.5 0 1.5 0 1.6-0.5 1.5 0 1.6-0.5 1.5 0 1.6 0 1.5 0 1.6 0 1.5 0 1.5 0.5 1.6 0.5 1.5 0.5 1.6 0.5 1.5 0 1.6 0.5 1.5 0.5 1.5 0.5 1.6 0 1.5 0.5 1.6 0 1.5 0 1.6 0 1.5 0 1.6 0 1.5-0.5 1.5 0 1.6-0.5 1.5-0.5 1.6-0.5 1.5-0.5 1.6 0 1.5-0.5 1.6 0 1.5-0.5 1.5 0 1.6 0 1.5 0 1.6 0 1.5 0.5 1.6 0 1.5 0 1.5 0 1.6-0.5 1.5 0 1.6 0 1.5 0 1.6 0 1.5 0 1.6 0 1.5 0.5 1.5 0 1.6 0.5 1.5 0.5 1.6 0.5 1.5 0.5 1.6 0.5 1.5 1 1.5 0.5 1.6 0.5 1.5 0.5 1.6 0 1.5 0 1.6 0 1.5 0 1.6-0.5 1.5-0.5 1.5-0.5 1.6-0.5 1.5 0 1.6-0.5" stroke="#305c9c"/><path d="M66.5 450.5l1.5-30 1.6-14.5 1.5-2.5 1.6 0.5 1.5 3 1.6 4 1.5 4.5 1.6 5 1.5 4.5 1.5 4.5 1.6 5 1.5 5 1.6 4 1.5 2.5 1.6 2.5 1.5 3 1.5 2 1.6 1 1.5 1.5 1.6 1 1.5 1 1.6 1 1.5 1 1.6 1 1.5 1 1.5 0.5 1.6 0.5 1.5 1 1.6 0.5 1.5 1 1.6 0.5 1.5 1 1.5 0.5 1.6 0.5 1.5 0.5 1.6 0.5 1.5 0.5 1.6 1 1.5 0 1.6 0.5 1.5 0.5 1.5 0.5 1.6 0.5 1.5 0.5 1.6 0.5 1.5 0.5 1.6 0.5 1.5 0.5 1.5 0.5 1.6 0.5 1.5 0.5 1.6 0.5 1.5 0 1.6 0.5 1.5 0.5 1.6 0.5 1.5 0 1.5 0.5 1.6 0.5 1.5 0 1.6 0.5 1.5 0 1.6 0.5 1.5 0.5 1.5 0 1.6 0.5 1.5 0 1.6 0.5 1.5 0.5 1.6 0 1.5 0.5 1.6 0.5 1.5 0 1.5 0.5 1.6 0.5 1.5 0 1.6 0.5 1.5 0.5 1.6 0 1.5 0.5 1.5 0.5 1.6 0 1.5 0.5 1.6 0.5 1.5 0 1.6 0.5 1.5 0.5 1.6 0 1.5 0 1.5 0 1.6 0 1.5 0 1.6 0 1.5 0 1.6 0 1.5 0 1.5 0 1.6 0 1.5 0 1.6 0 1.5 0 1.6-0.5 1.5 0 1.6-0.5 1.5 0 1.5-0.5 1.6 0 1.5 0 1.6 0 1.5 0 1.6 0.5 1.5 0 1.5 0 1.6 0 1.5 0.5 1.6 0.5 1.5 0 1.6 0.5 1.5 0.5 1.6 0 1.5 0.5 1.5 0.5 1.6 0 1.5 0 1.6 0 1.5-0.5 1.6-0.5 1.5-0.5 1.6-0.5 1.5 0 1.5-0.5 1.6 0 1.5 0 1.6 0 1.5 0.5 1.6 0.5 1.5 0.5 1.5 0.5 1.6 0 1.5 0.5 1.6 0 1.5 0.5 1.6 0 1.5 0 1.6 0 1.5 0 1.5 0 1.6 0 1.5 0 1.6 0 1.5 0 1.6 0 1.5-0.5 1.5 0 1.6-0.5 1.5 0 1.6 0 1.5 0 1.6 0 1.5 0 1.6 0 1.5-0.5 1.5 0 1.6 0 1.5 0 1.6 0" stroke="#85b872"/><path d="M66.5 394l1.5-4.5 1.6-2 1.5 4 1.6 3 1.5 5 1.6 5.5 1.5 5 1.6 5 1.5 4.5 1.5 4.5 1.6 5 1.5 5 1.6 4 1.5 3 1.6 3.5 1.5 3.5 1.5 3 1.6 1.5 1.5 1.5 1.6 1.5 1.5 1.5 1.6 0.5 1.5 1 1.6 0.5 1.5 0.5 1.5 0.5 1.6 0.5 1.5 0.5 1.6 0 1.5 1 1.6 0.5 1.5 0.5 1.5 0 1.6 0.5 1.5 0 1.6 0.5 1.5 0.5 1.6 0 1.5 0.5 1.6 0.5 1.5 0.5 1.5 0.5 1.6 0.5 1.5 1 1.6 0.5 1.5 1 1.6 0.5 1.5 1 1.5 1 1.6 1 1.5 1 1.6 1 1.5 1 1.6 0.5 1.5 1 1.6 0.5 1.5 0 1.5 0.5 1.6 0 1.5 0 1.6-0.5 1.5 0 1.6 0 1.5 0 1.5 0 1.6 0 1.5 0 1.6 0 1.5 0.5 1.6 0.5 1.5 0.5 1.6 0.5 1.5 1 1.5 0.5 1.6 0.5 1.5 0.5 1.6 0.5 1.5 0.5 1.6 0 1.5 0.5 1.5 0 1.6 0 1.5 0 1.6 0 1.5 0 1.6 0 1.5 0 1.6 0.5 1.5 0 1.5 0 1.6 0.5 1.5 0 1.6 0 1.5 0 1.6 0 1.5 0 1.5-0.5 1.6 0 1.5 0 1.6-0.5 1.5 0 1.6 0 1.5 0 1.6 0.5 1.5 0 1.5 0 1.6 0 1.5 0.5 1.6 0 1.5-0.5 1.6 0 1.5 0 1.5 0 1.6 0 1.5 0 1.6 0 1.5 0 1.6 0 1.5 0 1.6 0 1.5 0.5 1.5 0 1.6 0 1.5 0 1.6 0 1.5 0.5 1.6 0 1.5 0.5 1.6 0 1.5 0.5 1.5 0.5 1.6 0 1.5 0.5 1.6 0 1.5 0.5 1.6 0 1.5 0 1.5 0 1.6 0 1.5 0 1.6 0 1.5 0 1.6 0 1.5 0 1.6 0 1.5 0 1.5 0 1.6-0.5 1.5 0 1.6 0.5 1.5 0 1.6 0 1.5 0 1.5 0.5 1.6 0 1.5 0.5 1.6 0 1.5 0 1.6 0.5 1.5 0 1.6 0 1.5 0.5 1.5 0 1.6 0 1.5 0.5 1.6 0" stroke="#b7df6a"/><path d="M66.5 380l1.5-4 1.6-0.5 1.5 5 1.6 4.5 1.5 6 1.6 6 1.5 6 1.6 5.5 1.5 5.5 1.5 5.5 1.6 5 1.5 5 1.6 4.5 1.5 3 1.6 3.5 1.5 3 1.5 3 1.6 2 1.5 2 1.6 2.5 1.5 2 1.6 2 1.5 1.5 1.6 2 1.5 2 1.5 1.5 1.6 1 1.5 1 1.6 1 1.5 1 1.6 1 1.5 1 1.5 0.5 1.6 1 1.5 0.5 1.6 0.5 1.5 0.5 1.6 1 1.5 0.5 1.6 0.5 1.5 1 1.5 0.5 1.6 1 1.5 1 1.6 1 1.5 0.5 1.6 0.5 1.5 0.5 1.5 0.5 1.6 0.5 1.5 0.5 1.6 0.5 1.5 0 1.6 0.5 1.5 0.5 1.6 0 1.5 0.5 1.5 0 1.6 0 1.5 0 1.6-0.5 1.5 0 1.6 0.5 1.5 0 1.5 0.5 1.6 0 1.5 1 1.6 0.5 1.5 0.5 1.6 1 1.5 1 1.6 0.5 1.5 0 1.5 0.5 1.6 0 1.5 0 1.6 0 1.5 0 1.6 0 1.5 0 1.5 0 1.6 0 1.5 0.5 1.6 0 1.5 0.5 1.6 0.5 1.5 1 1.6 0.5 1.5 0.5 1.5 0.5 1.6 0 1.5 0 1.6 0.5 1.5-0.5 1.6 0 1.5-0.5 1.5-0.5 1.6-0.5 1.5 0 1.6-0.5 1.5 0 1.6-0.5 1.5 0 1.6 0.5 1.5 0 1.5 0.5 1.6 0.5 1.5 0.5 1.6 0.5 1.5 0.5 1.6 0 1.5 0.5 1.5 0 1.6 0 1.5 0 1.6 0 1.5 0 1.6 0 1.5 0 1.6 0 1.5 0 1.5 0 1.6 0.5 1.5 0 1.6 0 1.5 0 1.6 0.5 1.5 0 1.6 0 1.5 0.5 1.5 0 1.6 0.5 1.5 0 1.6 0 1.5 0 1.6 0 1.5 0 1.5 0 1.6-0.5 1.5-0.5 1.6 0 1.5-0.5 1.6 0 1.5 0 1.6 0 1.5 0 1.5 0 1.6 0 1.5 0 1.6 0.5 1.5 0 1.6 0 1.5 0.5 1.5 0 1.6 0 1.5 0.5 1.6 0 1.5 0 1.6-0.5 1.5 0 1.6 0 1.5 0 1.5 0 1.6-0.5 1.5 0 1.6 0" stroke="#407589"/><path d="M66.5 428l1.5-27.5 1.6-12.5 1.5-0.5 1.6 1.5 1.5 4 1.6 4.5 1.5 5 1.6 5 1.5 5 1.5 4.5 1.6 5 1.5 4.5 1.6 4.5 1.5 3 1.6 3.5 1.5 3 1.5 3.5 1.6 1.5 1.5 2 1.6 2 1.5 2 1.6 1.5 1.5 1.5 1.6 1.5 1.5 1.5 1.5 1.5 1.6 1 1.5 1 1.6 1.5 1.5 1 1.6 1.5 1.5 1 1.5 1.5 1.6 1 1.5 1 1.6 1.5 1.5 1 1.6 1 1.5 0.5 1.6 1 1.5 0.5 1.5 0 1.6 0.5 1.5 0 1.6 0 1.5 0 1.6 0 1.5 0 1.5 0 1.6 0.5 1.5 0.5 1.6 0 1.5 0.5 1.6 0.5 1.5 0.5 1.6 0.5 1.5 0 1.5 0.5 1.6 0 1.5 0.5 1.6 0 1.5 0.5 1.6 0.5 1.5 0.5 1.5 0.5 1.6 0.5 1.5 1 1.6 0.5 1.5 0.5 1.6 0.5 1.5 0.5 1.6 0.5 1.5 0 1.5 0.5 1.6 0 1.5 0.5 1.6 0.5 1.5 0.5 1.6 0 1.5 0.5 1.5 0 1.6 0 1.5 0.5 1.6 0 1.5 0 1.6 0 1.5 0 1.6 0.5 1.5 0 1.5 0 1.6 0 1.5 0 1.6 0 1.5 0 1.6 0 1.5 0 1.5 0 1.6 0 1.5 0 1.6 0.5 1.5 0 1.6 0.5 1.5 0 1.6 0 1.5 0 1.5 0 1.6 0 1.5 0 1.6 0 1.5 0 1.6 0.5 1.5 0 1.5 0 1.6 0 1.5 0.5 1.6 0 1.5 0 1.6 0.5 1.5 0 1.6 0 1.5 0 1.5 0 1.6 0 1.5 0 1.6 0 1.5 0 1.6 0 1.5-0.5 1.6 0 1.5-0.5 1.5 0 1.6-0.5 1.5 0 1.6 0 1.5 0 1.6 0 1.5 0.5 1.5 0 1.6 0 1.5 0.5 1.6 0 1.5 0 1.6 0.5 1.5 0 1.6 0 1.5 0 1.5 0.5 1.6 0 1.5 0 1.6 0 1.5 0 1.6 0 1.5 0.5 1.5 0 1.6 0 1.5 0 1.6 0.5 1.5 0.5 1.6 0.5 1.5 0.5 1.6 0 1.5 0.5 1.5 0 1.6 0.5 1.5 0 1.6-0.5" stroke="#6ca179"/><path d="M66.5 432.5l1.5-22 1.6-10 1.5-0.5 1.6 1.5 1.5 3.5 1.6 4.5 1.5 4.5 1.6 5 1.5 4.5 1.5 4.5 1.6 5 1.5 5 1.6 4 1.5 2.5 1.6 3 1.5 3 1.5 2 1.6 1.5 1.5 1 1.6 1 1.5 0.5 1.6 1 1.5 0.5 1.6 0.5 1.5 1 1.5 1 1.6 1 1.5 1 1.6 1 1.5 1 1.6 1.5 1.5 1 1.5 0.5 1.6 0.5 1.5 0.5 1.6 0.5 1.5 0.5 1.6 0 1.5 0.5 1.6 0.5 1.5 0.5 1.5 0.5 1.6 0.5 1.5 1 1.6 0.5 1.5 0 1.6 0.5 1.5 0 1.5 0 1.6 0 1.5 0.5 1.6 0 1.5 0 1.6 0.5 1.5 0 1.6 0.5 1.5 0 1.5 0.5 1.6 0 1.5 0 1.6 0 1.5 0 1.6 0 1.5 0 1.5 0.5 1.6 0 1.5 0.5 1.6 0.5 1.5 0.5 1.6 0 1.5 1 1.6 0 1.5 0.5 1.5 0.5 1.6 0.5 1.5 0.5 1.6 0.5 1.5 0 1.6 0.5 1.5 0 1.5 0 1.6 0 1.5 0 1.6 0 1.5 0 1.6 0 1.5 0 1.6 0 1.5 0.5 1.5 0 1.6 0 1.5 0.5 1.6 0 1.5 0.5 1.6 0 1.5-0.5 1.5 0 1.6 0 1.5-0.5 1.6 0 1.5-0.5 1.6 0 1.5 0 1.6 0 1.5 0 1.5 0.5 1.6 0 1.5 0 1.6 0.5 1.5 0 1.6 0.5 1.5 0.5 1.5 0 1.6 0.5 1.5 0.5 1.6 0.5 1.5 0.5 1.6 0 1.5 0.5 1.6 0.5 1.5 0 1.5 0 1.6 0.5 1.5-0.5 1.6 0 1.5 0 1.6-0.5 1.5 0 1.6-0.5 1.5-0.5 1.5-0.5 1.6-0.5 1.5 0 1.6-0.5 1.5-0.5 1.6 0 1.5-0.5 1.5 0.5 1.6 0 1.5 0.5 1.6 0.5 1.5 0 1.6 0.5 1.5 0 1.6 0 1.5 0 1.5 0 1.6 0 1.5-0.5 1.6 0 1.5 0 1.6 0 1.5 0 1.5 0.5 1.6 0.5 1.5 0.5 1.6 0 1.5 0.5 1.6 0 1.5 0.5 1.6 0 1.5-0.5 1.5 0 1.6 0 1.5 0 1.6 0.5" stroke="#c0e669"/><path d="M66.5 384l1.5-6.5 1.6-2.5 1.5 4 1.6 4 1.5 6 1.6 6.5 1.5 6 1.6 6.5 1.5 6.5 1.5 6 1.6 6 1.5 6.5 1.6 4.5 1.5 4 1.6 3.5 1.5 3 1.5 2.5 1.6 1 1.5 1.5 1.6 1 1.5 1.5 1.6 1 1.5 1 1.6 1 1.5 1.5 1.5 1.5 1.6 1 1.5 1 1.6 1.5 1.5 1 1.6 1 1.5 1 1.5 0.5 1.6 1 1.5 0.5 1.6 0.5 1.5 0.5 1.6 1 1.5 0.5 1.6 0.5 1.5 0.5 1.5 1 1.6 0.5 1.5 0.5 1.6 0.5 1.5 0.5 1.6 0.5 1.5 0.5 1.5 0 1.6 0.5 1.5 0 1.6 0.5 1.5 0.5 1.6 0.5 1.5 0.5 1.6 0.5 1.5 0.5 1.5 0.5 1.6 1 1.5 1 1.6 0.5 1.5 1 1.6 0.5 1.5 0.5 1.5 0.5 1.6 0.5 1.5 0.5 1.6 0.5 1.5 0 1.6 0.5 1.5 0 1.6 0.5 1.5 0 1.5 0 1.6 0.5 1.5 0 1.6 0.5 1.5 0 1.6 0 1.5 0 1.5 0.5 1.6 0 1.5 0 1.6 0 1.5 0 1.6 0 1.5 0.5 1.6 0 1.5 0.5 1.5 0 1.6 0 1.5 0.5 1.6 0.5 1.5 0 1.6 0 1.5 0.5 1.5 0.5 1.6 0 1.5 0.5 1.6 0 1.5 0 1.6-0.5 1.5 0 1.6-0.5 1.5-1 1.5-0.5 1.6-0.5 1.5-0.5 1.6-0.5 1.5-0.5 1.6 0 1.5 0.5 1.5 0 1.6 0.5 1.5 0.5 1.6 1 1.5 0.5 1.6 0 1.5 0.5 1.6 0.5 1.5 0 1.5 0 1.6 0 1.5-0.5 1.6 0 1.5-0.5 1.6 0 1.5 0 1.6-0.5 1.5 0 1.5 0 1.6 0.5 1.5 0 1.6 0.5 1.5 0.5 1.6 0 1.5 0.5 1.5 0 1.6 0 1.5 0.5 1.6 0 1.5 0 1.6 0 1.5 0 1.6-0.5 1.5 0 1.5 0 1.6 0 1.5-0.5 1.6 0 1.5 0 1.6-0.5 1.5 0 1.5 0 1.6-0.5 1.5 0.5 1.6 0 1.5 0 1.6 0.5 1.5 0.5 1.6 0 1.5 0.5 1.5 1 1.6 0 1.5 0.5 1.6 0" stroke="#3b6e8e"/></g><g clip-path="url(#cc)" fill="none" stroke-width="1.0" stroke-linejoin="round"><path d="M364.3 524l1.5 0 1.6 0 1.5 0 1.6-29 1.5-36 1.6-32.5 1.5-26 1.5 8.5 1.6 6 1.5 3.5 1.6 3.5 1.5 5 1.6 5.5 1.5 2.5 1.5 1.5 1.6 1.5 1.5 3.5 1.6 4 1.5 2.5 1.6 2 1.5 1 1.5 0.5 1.6 2.5 1.5 1.5 1.6-0.5 1.5 0.5 1.6 2.5 1.5 1 1.5 1.5 1.6 3 1.5 2.5 1.6 0 1.5-1 1.5 1 1.6 1 1.5 1 1.6-1 1.5-1 1.6 1 1.5 2.5 1.5 1.5 1.6-0.5 1.5 0 1.6 0.5 1.5 1 1.6 0.5 1.5 1 1.5 0.5 1.6 1 1.5 1 1.6 0 1.5 0 1.6 0 1.5 0.5 1.5 1.5 1.6 1.5 1.5 1.5 1.6 0 1.5-0.5 1.6 0 1.5 0.5 1.5 0 1.6 0 1.5 1 1.6 0 1.5 0.5 1.6 0.5 1.5 0 1.5 0 1.6 0 1.5 1 1.6 2 1.5 2.5 1.6 0 1.5-0.5 1.5-1 1.6 0.5 1.5 1 1.6 1 1.5 0 1.6 0 1.5 0 1.5 0.5 1.6 1 1.5 0 1.6-0.5 1.5 0 1.5 0 1.6 0 1.5-0.5 1.6 0 1.5 0 1.6 0.5 1.5 1 1.5 0.5 1.6 0 1.5 1 1.6 0.5 1.5-0.5 1.6 0 1.5 1 1.5-0.5 1.6-0.5 1.5 1 1.6 1 1.5-0.5 1.6 0 1.5 0 1.5-0.5 1.6 0.5 1.5 1.5 1.6-0.5 1.5 0.5 1.6 0 1.5 0.5 1.5 0.5 1.6 0.5 1.5 0 1.6-1 1.5-0.5 1.6 1 1.5 1.5 1.5-0.5 1.6 0 1.5 0.5 1.6 0.5 1.5-1 1.6-1 1.5 0.5 1.5 1 1.6 0 1.5 0 1.6 0.5 1.5 0.5 1.6 0.5 1.5 0.5 1.5 0 1.6-0.5 1.5-1 1.6 0 1.5 0 1.5 0 1.6 0 1.5 0 1.6 0 1.5 0 1.6 0.5 1.5 1 1.5 1 1.6 0 1.5-1 1.6-0.5 1.5 0.5 1.6 0 1.5 0.5 1.5 0 1.6 0 1.5-0.5 1.6 0 1.5 0.5 1.6 1 1.5 0 1.5-0.5 1.6 0 1.5-0.5 1.6 0" stroke="#437787"/><path d="M364.3 513l1.5 0.5 1.6-5.5 1.5-4 1.6 0.5 1.5 3.5 1.6 0.5 1.5-1.5 1.5-0.5 1.6-24 1.5-48.5 1.6-51 1.5 5 1.6 2.5 1.5 3 1.5 4.5 1.6 4 1.5 5 1.6 4 1.5 1.5 1.6 2 1.5 1 1.5 1 1.6 3 1.5 4 1.6 2.5 1.5 3.5 1.6 2.5 1.5 2.5 1.5 1 1.6 1 1.5 2.5 1.6 2.5 1.5 0.5 1.5 1 1.6 2 1.5 2 1.6 1 1.5 1.5 1.6 1 1.5 0.5 1.5 0.5 1.6 0.5 1.5 0.5 1.6 1 1.5 1.5 1.6 1 1.5 0.5 1.5 0.5 1.6 0 1.5 1 1.6 1.5 1.5 1.5 1.6 2 1.5 1.5 1.5 0 1.6 0 1.5 0.5 1.6 1 1.5 2 1.6 1 1.5-0.5 1.5 0 1.6 0.5 1.5 0 1.6-0.5 1.5 0 1.6 0.5 1.5 1 1.5 1.5 1.6 1 1.5 1.5 1.6 0 1.5 0 1.6-1 1.5 1 1.5 0.5 1.6 0 1.5 1 1.6 1 1.5 0.5 1.6 1 1.5 0 1.5-0.5 1.6-1.5 1.5 0.5 1.6 1.5 1.5 1.5 1.5 0 1.6-0.5 1.5 0 1.6 0.5 1.5 0 1.6 0 1.5 0.5 1.5 1 1.6 1 1.5 0 1.6-1 1.5 0 1.6 1 1.5 1 1.5 0.5 1.6 1.5 1.5 1 1.6-0.5 1.5-0.5 1.6-0.5 1.5 0 1.5 0.5 1.6 0 1.5 0.5 1.6 0 1.5-0.5 1.6 0.5 1.5 1.5 1.5 0.5 1.6 0 1.5 0.5 1.6 0.5 1.5 0 1.6-1 1.5 0 1.5-0.5 1.6 1 1.5 2 1.6 1 1.5 0 1.6 0 1.5-0.5 1.5-0.5 1.6-0.5 1.5-0.5 1.6 0 1.5 1 1.6 1 1.5 0.5 1.5-1 1.6-0.5 1.5 0.5 1.6 0 1.5 0 1.5 0.5 1.6 0 1.5 0 1.6 0.5 1.5 0 1.6 0.5 1.5 0.5 1.5 0 1.6 0 1.5-0.5 1.6-0.5 1.5 0 1.6 0.5 1.5 0.5 1.5 0 1.6-0.5 1.5-0.5 1.6 0.5 1.5 1 1.6 0 1.5 0 1.5 0 1.6 0.5 1.5 1 1.6 0.5" stroke="#84b773"/><path d="M364.3 524l1.5 0 1.6-10.5 1.5-26.5 1.6-25 1.5-31.5 1.6-33 1.5-14.5 1.5 6 1.6 9 1.5 7.5 1.6 6 1.5 3.5 1.6 2 1.5 2 1.5 2 1.6 3.5 1.5 4.5 1.6 2.5 1.5 1.5 1.6 1.5 1.5 1.5 1.5 3 1.6 2.5 1.5 2 1.6 3 1.5 2 1.6-1 1.5 0 1.5 3 1.6 3 1.5 1.5 1.6 0.5 1.5 0 1.5 1.5 1.6 2 1.5 0.5 1.6-0.5 1.5 0.5 1.6 1.5 1.5 1 1.5 0.5 1.6 0.5 1.5 0.5 1.6 1.5 1.5 2 1.6 1 1.5 1 1.5 1 1.6 0 1.5 0 1.6 0.5 1.5 1.5 1.6 2 1.5 1 1.5 0 1.6 0 1.5 0.5 1.6 0.5 1.5 1 1.6 1 1.5 1 1.5 0 1.6 0 1.5 0 1.6-0.5 1.5-0.5 1.6 1 1.5 1.5 1.5 1.5 1.6 0 1.5 0 1.6 0.5 1.5 1 1.6 0.5 1.5 0 1.5 0 1.6 1 1.5 2 1.6 0 1.5-0.5 1.6-0.5 1.5-1 1.5 1 1.6 1 1.5 0.5 1.6-0.5 1.5 0.5 1.5 0.5 1.6 0 1.5 0 1.6 1 1.5 0 1.6 0.5 1.5 0 1.5 0 1.6 0 1.5 0.5 1.6 0.5 1.5 0 1.6-1 1.5 0.5 1.5 1 1.6 0.5 1.5-0.5 1.6 0 1.5 0.5 1.6 1 1.5 0.5 1.5 0.5 1.6-0.5 1.5-0.5 1.6 0.5 1.5 1 1.6 0.5 1.5 0 1.5 0 1.6-0.5 1.5 0.5 1.6 0.5 1.5-1 1.6-1.5 1.5 0 1.5 1.5 1.6 1 1.5 1 1.6-0.5 1.5 0 1.6 0 1.5 0 1.5 0.5 1.6 0.5 1.5 0 1.6 0 1.5-0.5 1.6-0.5 1.5-0.5 1.5 0 1.6 0.5 1.5 0.5 1.6-0.5 1.5-0.5 1.5 0 1.6 1.5 1.5 1.5 1.6 0.5 1.5-0.5 1.6-1 1.5-1 1.5-0.5 1.6 1 1.5 0.5 1.6 0 1.5 1 1.6 1.5 1.5 0.5 1.5-0.5 1.6-0.5 1.5-0.5 1.6-0.5 1.5 0.5 1.6 0 1.5 0 1.5 0 1.6 1 1.5 1 1.6-1" stroke="#6fa478"/><path d="M364.3 498l1.5 7 1.6-7 1.5-23.5 1.6-30 1.5-25.5 1.6-17 1.5 8 1.5 3.5 1.6 1.5 1.5 3 1.6 2 1.5 0 1.6 2 1.5 2.5 1.5 2 1.6 1 1.5-0.5 1.6 2.5 1.5 4 1.6 4.5 1.5 1.5 1.5-2.5 1.6-2.5 1.5 1 1.6 2 1.5 0.5 1.6 0.5 1.5 1 1.5 2.5 1.6 3 1.5 2.5 1.6 1 1.5 1.5 1.5 0.5 1.6-0.5 1.5 0.5 1.6 1 1.5 1.5 1.6 0.5 1.5 1 1.5 1 1.6 2.5 1.5 2.5 1.6 0.5 1.5 0 1.6 0 1.5 0.5 1.5 0.5 1.6 1 1.5 1 1.6 0.5 1.5-0.5 1.6 1 1.5 2 1.5 0.5 1.6 0.5 1.5 1 1.6 1 1.5 0.5 1.6 0.5 1.5 0.5 1.5 0.5 1.6 0.5 1.5 1 1.6 0.5 1.5 1 1.6-0.5 1.5-1 1.5 0 1.6 0.5 1.5-0.5 1.6 0.5 1.5 1.5 1.6 1 1.5 0 1.5 0.5 1.6 1 1.5 0.5 1.6 0.5 1.5 0.5 1.6 0 1.5 1 1.5 0 1.6 0 1.5 0 1.6 1 1.5 0.5 1.5 0 1.6 1 1.5 1 1.6 0 1.5-0.5 1.6 0 1.5 1 1.5 1 1.6 0.5 1.5-0.5 1.6 0 1.5 0.5 1.6 0.5 1.5 0.5 1.5-1 1.6-0.5 1.5 0 1.6 0 1.5-0.5 1.6 0.5 1.5 1 1.5 1 1.6 1 1.5 0 1.6 0.5 1.5-0.5 1.6 0 1.5 1 1.5 0.5 1.6 0.5 1.5 0 1.6 0 1.5 1 1.6 0.5 1.5 0 1.5-0.5 1.6-1 1.5-1.5 1.6 0 1.5 1 1.6 1 1.5 0.5 1.5 0.5 1.6 1 1.5 0 1.6-1.5 1.5 0 1.6 0.5 1.5 0 1.5-0.5 1.6 0 1.5 0 1.6 0 1.5 0.5 1.5 0.5 1.6 0 1.5-1 1.6 0 1.5 0.5 1.6 1 1.5 0.5 1.5-0.5 1.6-0.5 1.5 0 1.6 0 1.5 0.5 1.6 1 1.5 0.5 1.5-0.5 1.6 0 1.5 0.5 1.6 1 1.5 0.5 1.6-0.5 1.5 0 1.5-0.5 1.6-0.5 1.5-1 1.6 0.5" stroke="#a4d26c"/><path d="M364.3 506l1.5 5 1.6 7.5 1.5-0.5 1.6-2 1.5-4 1.6-3 1.5 0.5 1.5 1.5 1.6-1 1.5-2 1.6-3.5 1.5-1 1.6 3.5 1.5 3 1.5-0.5 1.6-1.5 1.5-3.5 1.6-6.5 1.5-10.5 1.6-11 1.5-10.5 1.5-8.5 1.6-7.5 1.5-6 1.6 0.5 1.5 1 1.6 0.5 1.5-0.5 1.5-0.5 1.6 0 1.5-0.5 1.6-1 1.5-1 1.5-1 1.6-1.5 1.5 0 1.6 1 1.5 1 1.6 0.5 1.5 0 1.5-1.5 1.6-1.5 1.5-1.5 1.6-0.5 1.5 0.5 1.6 0 1.5-0.5 1.5-1 1.6-0.5 1.5 0 1.6-0.5 1.5-1 1.6-1.5 1.5-2 1.5-1 1.6 0.5 1.5-0.5 1.6 0 1.5 0 1.6 0 1.5 0.5 1.5-1 1.6-1 1.5-0.5 1.6-0.5 1.5-1 1.6 2.5 1.5 2 1.5 1.5 1.6 2 1.5 2 1.6 1.5 1.5 1.5 1.6 2 1.5 2 1.5 2.5 1.6 3 1.5 2.5 1.6 1.5 1.5 1.5 1.6 1.5 1.5 1.5 1.5 1 1.6 1.5 1.5 1 1.6 1.5 1.5 2 1.5 1 1.6 1 1.5 0 1.6 0.5 1.5 1 1.6 1.5 1.5 0.5 1.5 1 1.6 2 1.5 0 1.6-1 1.5 1 1.6 2 1.5 0.5 1.5 1 1.6 0.5 1.5 1 1.6 1.5 1.5 1 1.6-1 1.5 0 1.5 1.5 1.6 1.5 1.5 1.5 1.6 0 1.5-0.5 1.6 0 1.5 1.5 1.5 1 1.6 1 1.5 0 1.6 0.5 1.5 0.5 1.6 0 1.5 0 1.5 0 1.6-0.5 1.5 1 1.6 1.5 1.5 0 1.6 0 1.5-0.5 1.5-0.5 1.6 0 1.5 1 1.6 0 1.5-0.5 1.6 0 1.5 0.5 1.5 0.5 1.6 1 1.5 1 1.6 0 1.5-0.5 1.5 0.5 1.6 1 1.5 0 1.6-0.5 1.5-0.5 1.6 0 1.5 0.5 1.5 0.5 1.6 0 1.5 0.5 1.6 0.5 1.5 0.5 1.6 1 1.5 0 1.5 0 1.6-0.5 1.5-0.5 1.6-0.5 1.5-0.5 1.6 0.5 1.5 0.5 1.5 1 1.6 1 1.5 0.5 1.6 0" stroke="#dbf169"/><path d="M364.3 506l1.5-3.5 1.6-2.5 1.5 2.5 1.6 0.5 1.5-0.5 1.6 4 1.5 6.5 1.5-10 1.6-24.5 1.5-21 1.6-21.5 1.5-25.5 1.6-22.5 1.5 7.5 1.5 6.5 1.6 6 1.5 7.5 1.6 8.5 1.5 4.5 1.6 3 1.5 3 1.5 2.5 1.6 2.5 1.5 4 1.6 4.5 1.5 3 1.6 1.5 1.5 2 1.5 0.5 1.6 0.5 1.5 1 1.6 1 1.5 2 1.5 1.5 1.6 0.5 1.5-0.5 1.6-0.5 1.5 0.5 1.6 2.5 1.5 2 1.5 0.5 1.6 0.5 1.5 1.5 1.6 1.5 1.5 0 1.6 0 1.5 1 1.5 1 1.6 1 1.5 1 1.6 0.5 1.5 1 1.6 0 1.5 0.5 1.5 0 1.6 0.5 1.5 1.5 1.6 1 1.5 1 1.6 0 1.5-1 1.5-0.5 1.6 0 1.5 1 1.6 2 1.5 0.5 1.6-1 1.5 0 1.5 1 1.6 1 1.5 0 1.6 0 1.5 0.5 1.6 1 1.5 2.5 1.5 0.5 1.6-0.5 1.5-1.5 1.6-0.5 1.5 0.5 1.6 1 1.5 1 1.5 1 1.6 0.5 1.5 0.5 1.6-1 1.5-0.5 1.5 0.5 1.6 1.5 1.5 0.5 1.6-0.5 1.5-0.5 1.6 0.5 1.5 0 1.5-0.5 1.6 1 1.5 1 1.6 0.5 1.5-0.5 1.6-1 1.5 0 1.5 1.5 1.6 1.5 1.5 1 1.6-0.5 1.5-0.5 1.6 0 1.5-0.5 1.5 0 1.6 0 1.5 0 1.6-0.5 1.5-0.5 1.6 1 1.5 0.5 1.5 0 1.6 1 1.5 1 1.6 0 1.5-1.5 1.6 0 1.5 0.5 1.5 0.5 1.6 1 1.5 1 1.6 0.5 1.5-1 1.6-1 1.5-0.5 1.5 0.5 1.6 0.5 1.5 0.5 1.6 1 1.5 0 1.6 0.5 1.5-0.5 1.5-0.5 1.6 0.5 1.5 0 1.6-0.5 1.5 0 1.5 0 1.6 0 1.5 0 1.6 0 1.5-0.5 1.6 0.5 1.5 0.5 1.5-0.5 1.6-0.5 1.5 0.5 1.6 1 1.5 0 1.6-0.5 1.5 0.5 1.5 0 1.6 0.5 1.5 0.5 1.6 0.5 1.5 0 1.6-0.5 1.5 0 1.5 0 1.6 0.5 1.5 1 1.6 0" stroke="#4b7f82"/><path d="M364.3 519l1.5-15.5 1.6-55 1.5-24 1.6 6.5 1.5 8.5 1.6 2 1.5-4 1.5 0.5 1.6 0.5 1.5 1 1.6 8 1.5 5.5 1.6 3 1.5 2 1.5 3 1.6 1.5 1.5-0.5 1.6-1.5 1.5-1 1.6 0 1.5 0.5 1.5 0.5 1.6 0 1.5 0 1.6 1 1.5 1.5 1.6 3 1.5 4 1.5 1.5 1.6-0.5 1.5 0 1.6 2 1.5 0.5 1.5 0.5 1.6-0.5 1.5 0 1.6 1.5 1.5 0.5 1.6 0.5 1.5 2 1.5 1.5 1.6 0.5 1.5-1 1.6-0.5 1.5 0.5 1.6 1 1.5 0.5 1.5 1 1.6 0.5 1.5 0.5 1.6 1 1.5 0.5 1.6-0.5 1.5 0 1.5 0 1.6 1 1.5 0.5 1.6 1 1.5 0.5 1.6 1.5 1.5 0.5 1.5 0.5 1.6 0 1.5 0.5 1.6 0 1.5 0 1.6 0 1.5 0.5 1.5 0 1.6-0.5 1.5 0.5 1.6 0.5 1.5 1 1.6 1 1.5 0 1.5-0.5 1.6 0 1.5 0.5 1.6 0.5 1.5 0.5 1.6 0 1.5 0 1.5 0 1.6 1.5 1.5 0.5 1.6-0.5 1.5 0 1.5 0.5 1.6-0.5 1.5-1 1.6 0 1.5 0 1.6 1 1.5 1 1.5 1.5 1.6 0 1.5-0.5 1.6 0 1.5-0.5 1.6 1 1.5 1.5 1.5 0.5 1.6-1.5 1.5-1.5 1.6-0.5 1.5 0.5 1.6 1 1.5 0.5 1.5 0.5 1.6 0.5 1.5-0.5 1.6-0.5 1.5 0 1.6 1 1.5 0.5 1.5 0.5 1.6 0 1.5 0 1.6-1.5 1.5-0.5 1.6 0.5 1.5 0.5 1.5 0.5 1.6 0 1.5-1 1.6 0 1.5 0.5 1.6 1 1.5 1 1.5 0.5 1.6 0 1.5-1 1.6 0 1.5 0.5 1.6 0.5 1.5-0.5 1.5 0 1.6-1 1.5-0.5 1.6 0.5 1.5 1 1.5 0.5 1.6 0.5 1.5-1 1.6-0.5 1.5 0.5 1.6 1 1.5 0 1.5-0.5 1.6 0 1.5 0 1.6-0.5 1.5 0 1.6 1 1.5 1 1.5 0.5 1.6-0.5 1.5-0.5 1.6 0 1.5-0.5 1.6 0 1.5 1.5 1.5 0.5 1.6-0.5 1.5-0.5 1.6 0.5" stroke="#346298"/><path d="M364.3 524l1.5-10 1.6 0.5 1.5 4.5 1.6-22 1.5-24 1.6-25 1.5-28.5 1.5-21.5 1.6 10 1.5 8.5 1.6 0.5 1.5-2 1.6 1.5 1.5 5.5 1.5 6.5 1.6 2.5 1.5 2 1.6 5.5 1.5 6.5 1.6 2.5 1.5-0.5 1.5 2.5 1.6 3.5 1.5 2 1.6 1.5 1.5 2.5 1.6 3 1.5 3 1.5 1.5 1.6 0 1.5 0 1.6 1.5 1.5 2 1.5 2 1.6 0 1.5 0 1.6 1.5 1.5 2 1.6 2 1.5 0 1.5-1 1.6 0.5 1.5 2 1.6 2 1.5 0 1.6-0.5 1.5 0.5 1.5 1 1.6 0.5 1.5 1.5 1.6 1 1.5 0 1.6-0.5 1.5 0 1.5 0.5 1.6 2 1.5 0.5 1.6-0.5 1.5 1 1.6 1 1.5 0.5 1.5 0 1.6 0 1.5 2 1.6 1.5 1.5-1 1.6-1 1.5 0 1.5 0 1.6 0.5 1.5 0.5 1.6 0 1.5-0.5 1.6 1 1.5 0.5 1.5 0 1.6-0.5 1.5-0.5 1.6-0.5 1.5 1 1.6 2 1.5 1.5 1.5 0.5 1.6 0 1.5-1 1.6 0 1.5 0.5 1.5 1 1.6 0 1.5-0.5 1.6 0 1.5 1 1.6 0.5 1.5 0 1.5 0.5 1.6 0 1.5-1.5 1.6-0.5 1.5 0 1.6 0.5 1.5 0 1.5 1 1.6 1 1.5 0.5 1.6-1 1.5 0 1.6 0.5 1.5 1 1.5 1 1.6 0 1.5-1 1.6 0 1.5 0.5 1.6 0.5 1.5 1 1.5-0.5 1.6-1 1.5-1 1.6 0.5 1.5 1.5 1.6 0.5 1.5 0 1.5-1 1.6 0 1.5 0.5 1.6 0.5 1.5 0.5 1.6 0 1.5-1 1.5 0 1.6 0.5 1.5 0.5 1.6 0.5 1.5-0.5 1.6 1 1.5 1 1.5-0.5 1.6-1.5 1.5 0 1.6 0.5 1.5 0.5 1.5-0.5 1.6-1 1.5 0 1.6 1 1.5 1 1.6 1 1.5 0 1.5-1 1.6-1 1.5-0.5 1.6 0.5 1.5 0.5 1.6 1 1.5 0.5 1.5-0.5 1.6-0.5 1.5 0 1.6-0.5 1.5-0.5 1.6 0 1.5 0.5 1.5 0.5 1.6-1 1.5-1 1.6-1.5" stroke="#1e3ba9"/><path d="M364.3 499.5l1.5 8 1.6 11 1.5-9 1.6-48 1.5-43.5 1.6-22 1.5 9.5 1.5 3 1.6-0.5 1.5 5.5 1.6 9.5 1.5 6 1.6 1 1.5 0.5 1.5 2 1.6 3 1.5 5.5 1.6 4 1.5 1 1.6 1 1.5 2 1.5 1 1.6 0 1.5 1 1.6 3.5 1.5 3 1.6 1.5 1.5 0 1.5 0.5 1.6 1.5 1.5 1.5 1.6 1 1.5 2 1.5 0 1.6-1 1.5 0 1.6 2 1.5 2 1.6 1 1.5 1.5 1.5 1 1.6-0.5 1.5-0.5 1.6-0.5 1.5-0.5 1.6 0 1.5 2 1.5 2.5 1.6 1.5 1.5 0.5 1.6 1 1.5 1 1.6 1 1.5 1.5 1.5 0 1.6-0.5 1.5 0.5 1.6 0 1.5 0 1.6 0 1.5 0.5 1.5 0 1.6 1 1.5 1.5 1.6 0.5 1.5-0.5 1.6 0 1.5 1 1.5 2.5 1.6 1 1.5-0.5 1.6-1 1.5 0.5 1.6 0.5 1.5 1 1.5 0.5 1.6 0 1.5-0.5 1.6-1 1.5 0 1.6 1.5 1.5 1.5 1.5 2 1.6 1 1.5-0.5 1.6 0 1.5 1 1.5 0 1.6-2 1.5-2 1.6 0 1.5 1.5 1.6 0.5 1.5 0.5 1.5 0 1.6 0 1.5 0.5 1.6 1.5 1.5 1 1.6 0 1.5-2 1.5-0.5 1.6 1.5 1.5 1 1.6 0 1.5 0 1.6 2 1.5 1 1.5-1.5 1.6-1.5 1.5 0 1.6 1 1.5 0 1.6 0 1.5 0.5 1.5 0 1.6 0 1.5 0.5 1.6 1 1.5 0.5 1.6 0.5 1.5 0.5 1.5 0 1.6-1 1.5-0.5 1.6 0.5 1.5-0.5 1.6 0.5 1.5 0.5 1.5 0.5 1.6-0.5 1.5-0.5 1.6 0.5 1.5 1.5 1.6 0.5 1.5-1 1.5 0 1.6 0 1.5 0.5 1.6 0 1.5-1 1.5-1 1.6-0.5 1.5 0 1.6 0 1.5 0.5 1.6 0.5 1.5 0 1.5 0 1.6 0 1.5 1 1.6 1 1.5 1 1.6 0 1.5 0 1.5-1 1.6 0.5 1.5 0.5 1.6 0 1.5-0.5 1.6 0 1.5 0 1.5 0 1.6 0 1.5 0 1.6 0.5" stroke="#274ea4"/><path d="M364.3 516.5l1.5 3 1.6 1.5 1.5-3.5 1.6-15.5 1.5-16.5 1.6-18.5 1.5-21 1.5-18.5 1.6-9 1.5 4.5 1.6 0 1.5-0.5 1.6 3 1.5 5 1.5 5.5 1.6 4.5 1.5 3.5 1.6 2 1.5 1 1.6 1.5 1.5 1.5 1.5 1.5 1.6 2.5 1.5 1.5 1.6 0 1.5 1 1.6 2.5 1.5 0.5 1.5-1 1.6-0.5 1.5 1.5 1.6 1.5 1.5 2 1.5 2 1.6 0.5 1.5 0.5 1.6 1.5 1.5 0.5 1.6 1 1.5 1.5 1.5 0 1.6-1 1.5 0.5 1.6 1 1.5 0.5 1.6 0.5 1.5-0.5 1.5 0 1.6 0 1.5 0.5 1.6 1.5 1.5 1.5 1.6 1.5 1.5 2 1.5 1 1.6-0.5 1.5-0.5 1.6-1.5 1.5 0.5 1.6 1.5 1.5 1 1.5 1 1.6 1 1.5 0.5 1.6 0.5 1.5-0.5 1.6-1 1.5-0.5 1.5 1 1.6 1.5 1.5 0.5 1.6 0 1.5 0 1.6 1 1.5 0.5 1.5 0 1.6-0.5 1.5 0.5 1.6 1 1.5-0.5 1.6-1 1.5 0.5 1.5 2 1.6 2 1.5 0 1.6 0 1.5 0 1.5 0.5 1.6-1 1.5-1 1.6 0.5 1.5 0.5 1.6 1 1.5 1.5 1.5 1.5 1.6 0 1.5-0.5 1.6 0 1.5-0.5 1.6-1 1.5 0 1.5 1 1.6 2 1.5-0.5 1.6-1 1.5 0 1.6 0.5 1.5 0 1.5 0.5 1.6 0.5 1.5 0.5 1.6-0.5 1.5-0.5 1.6 0.5 1.5 0.5 1.5 0.5 1.6 0.5 1.5-0.5 1.6 0 1.5-0.5 1.6-1 1.5 0 1.5 0 1.6 1 1.5 0.5 1.6 0 1.5 0.5 1.6 1 1.5 0 1.5-0.5 1.6 0 1.5-0.5 1.6-0.5 1.5 0.5 1.6 1 1.5 0.5 1.5 0 1.6 1 1.5 0.5 1.6-0.5 1.5-1 1.5-0.5 1.6 0 1.5 1 1.6 0.5 1.5-1 1.6-0.5 1.5 0.5 1.5 0 1.6 0.5 1.5 1 1.6 0 1.5-1 1.6-0.5 1.5 1 1.5 1 1.6 0.5 1.5-0.5 1.6-0.5 1.5 0 1.6 0.5 1.5-0.5 1.5-0.5 1.6 0.5 1.5 0.5 1.6-0.5" stroke="#3e738a"/><path d="M364.3 503l1.5-3.5 1.6-3 1.5 4 1.6 4.5 1.5 5.5 1.6 7 1.5 0 1.5-14.5 1.6-24.5 1.5-19 1.6-18 1.5-21 1.6-12.5 1.5 3.5 1.5 5.5 1.6 5.5 1.5 5.5 1.6 4.5 1.5 2 1.6 2 1.5 4 1.5 5 1.6 3.5 1.5 2 1.6 2 1.5 3.5 1.6 5.5 1.5 3 1.5 1.5 1.6 1 1.5 2 1.6 1 1.5-0.5 1.5 1 1.6 2.5 1.5 2.5 1.6 1 1.5 1.5 1.6 2 1.5-0.5 1.5-1 1.6 0.5 1.5 2.5 1.6 1 1.5 0 1.6 1 1.5 0.5 1.5 0.5 1.6 0.5 1.5 0.5 1.6 0.5 1.5 0.5 1.6 1 1.5 1.5 1.5 0 1.6 0 1.5 0 1.6 1 1.5 1 1.6 2 1.5 1.5 1.5 1 1.6-0.5 1.5-1 1.6-0.5 1.5 0.5 1.6 0.5 1.5-0.5 1.5-1 1.6 0.5 1.5 1.5 1.6 1.5 1.5 1 1.6-0.5 1.5-0.5 1.5-0.5 1.6-1 1.5-1 1.6 0 1.5 0.5 1.6 1 1.5 1 1.5 0 1.6 0 1.5 0.5 1.6 1 1.5 0.5 1.5-0.5 1.6 1 1.5 0.5 1.6-0.5 1.5-0.5 1.6 0.5 1.5 0 1.5 0 1.6 0 1.5 0 1.6-0.5 1.5 0.5 1.6 0 1.5-0.5 1.5 0 1.6 1.5 1.5 1.5 1.6 0.5 1.5-0.5 1.6-0.5 1.5-0.5 1.5 0 1.6 0.5 1.5 1 1.6 0 1.5-1.5 1.6-1 1.5 0.5 1.5 0.5 1.6 0 1.5 0 1.6 0.5 1.5 0.5 1.6 0 1.5 0 1.5 0.5 1.6 0 1.5 0.5 1.6 1 1.5-0.5 1.6-0.5 1.5-0.5 1.5 0.5 1.6 1 1.5 0 1.6 0.5 1.5 0 1.6-0.5 1.5-0.5 1.5 0.5 1.6-0.5 1.5-1.5 1.6 0 1.5 0.5 1.5 1 1.6 0 1.5-1 1.6-1 1.5 1 1.6 1.5 1.5 1 1.5 1 1.6 0 1.5-1.5 1.6-1.5 1.5-0.5 1.6 0 1.5 1 1.5 1.5 1.6 0.5 1.5-0.5 1.6 0 1.5 0 1.6-0.5 1.5-0.5 1.5 0.5 1.6 0.5 1.5-1 1.6-1" stroke="#1b35ab"/><path d="M364.3 516l1.5 3 1.6-0.5 1.5-18 1.6-31 1.5-28.5 1.6-21 1.5 6.5 1.5 4 1.6 2 1.5 0 1.6 3 1.5 9 1.6 5.5 1.5-4 1.5-2 1.6 2 1.5 3 1.6 4 1.5 2 1.6 0.5 1.5 1 1.5 1.5 1.6 2.5 1.5 0.5 1.6 0 1.5 2 1.6 2 1.5 0.5 1.5 1.5 1.6 1 1.5 0.5 1.6 1 1.5 1 1.5 2 1.6 2.5 1.5-0.5 1.6-1 1.5 1 1.6 0.5 1.5-1 1.5 1 1.6 2.5 1.5 1 1.6-0.5 1.5 0 1.6 1 1.5 1 1.5 0.5 1.6 1 1.5 1.5 1.6 0.5 1.5 0 1.6 0.5 1.5 1 1.5 0 1.6-1 1.5-0.5 1.6 1 1.5 1.5 1.6 2 1.5 1 1.5-1 1.6-1.5 1.5-0.5 1.6 1 1.5 0 1.6 1 1.5 0 1.5 0 1.6 1 1.5 0.5 1.6 0 1.5 0.5 1.6 0.5 1.5 0.5 1.5 0.5 1.6 0.5 1.5 0 1.6-0.5 1.5-0.5 1.6 0.5 1.5 1 1.5 1 1.6 0 1.5 0 1.6 0.5 1.5 0.5 1.5-0.5 1.6-1.5 1.5 0.5 1.6 0.5 1.5-0.5 1.6-0.5 1.5 1 1.5 1.5 1.6 1 1.5-1 1.6-1 1.5 0 1.6 1 1.5 0.5 1.5 1 1.6 0.5 1.5-0.5 1.6 0.5 1.5 0.5 1.6 0.5 1.5 0 1.5 0 1.6 0.5 1.5-1 1.6-1.5 1.5-0.5 1.6 0 1.5 0.5 1.5 2 1.6 1.5 1.5-0.5 1.6-1 1.5 0 1.6 0 1.5 0.5 1.5 0.5 1.6 0 1.5-0.5 1.6-1 1.5 0.5 1.6 1 1.5 1 1.5 0 1.6 0 1.5 1 1.6-0.5 1.5-1 1.6-0.5 1.5-1 1.5-0.5 1.6 0 1.5 0 1.6 0.5 1.5 1 1.5-0.5 1.6 0 1.5 0.5 1.6 0.5 1.5 0 1.6 0.5 1.5 1 1.5 0.5 1.6 0 1.5-1 1.6-1 1.5-0.5 1.6 1 1.5 1 1.5-0.5 1.6-0.5 1.5 0.5 1.6 0.5 1.5 0.5 1.6 0 1.5 0 1.5 1 1.6 0.5 1.5-0.5 1.6-1" stroke="#346298"/><path d="M364.3 524l1.5 0 1.6 0 1.5-7 1.6-5.5 1.5 0 1.6 4.5 1.5 3.5 1.5-3 1.6 0 1.5 1 1.6-30 1.5-43 1.6-19 1.5 4.5 1.5 3.5 1.6 2.5 1.5 0.5 1.6 4.5 1.5 6.5 1.6 1 1.5-3 1.5 0 1.6 2 1.5 1.5 1.6 2.5 1.5 3 1.6 2 1.5 1 1.5 0.5 1.6 1 1.5 2 1.6 1.5 1.5 2.5 1.5 2 1.6 1 1.5 1 1.6 1.5 1.5 1 1.6 0 1.5-1 1.5 0.5 1.6 2 1.5 1 1.6-0.5 1.5-0.5 1.6 0 1.5 0 1.5 0.5 1.6 2 1.5 1.5 1.6 1.5 1.5 0.5 1.6 0.5 1.5 1 1.5 0.5 1.6 1 1.5 1 1.6 0 1.5-0.5 1.6 0.5 1.5 2 1.5 0.5 1.6-0.5 1.5 1 1.6 1 1.5 0.5 1.6 0.5 1.5-0.5 1.5 0 1.6 1 1.5 1.5 1.6-0.5 1.5-1 1.6 0.5 1.5 0.5 1.5 0.5 1.6 0 1.5 0 1.6 0.5 1.5 1 1.6 1 1.5 0 1.5-0.5 1.6 0.5 1.5 1 1.6 1 1.5-0.5 1.5-0.5 1.6-0.5 1.5 0 1.6-0.5 1.5-0.5 1.6 0.5 1.5 1 1.5 0 1.6 0 1.5 0.5 1.6-0.5 1.5 0.5 1.6 0.5 1.5 0.5 1.5 1 1.6 1 1.5 0.5 1.6-1 1.5-1 1.6 0 1.5 1 1.5 0 1.6-1 1.5 0.5 1.6 1 1.5 0 1.6 1.5 1.5 0.5 1.5-0.5 1.6 0 1.5 0.5 1.6 0 1.5 0.5 1.6-0.5 1.5-1 1.5-0.5 1.6 0.5 1.5 0.5 1.6 0 1.5-1 1.6-1 1.5-1 1.5 1.5 1.6 2 1.5 0.5 1.6-0.5 1.5-0.5 1.6-0.5 1.5 0 1.5 0.5 1.6 0.5 1.5 0.5 1.6 0.5 1.5 0 1.5 0 1.6 0.5 1.5 0.5 1.6 0.5 1.5 0 1.6-0.5 1.5-0.5 1.5-0.5 1.6 0 1.5 0.5 1.6 0.5 1.5 0 1.6-1 1.5-0.5 1.5 0 1.6 0.5 1.5 0.5 1.6 0 1.5-0.5 1.6 0 1.5 0 1.5 0.5 1.6 1.5 1.5 1 1.6 0" stroke="#2448a6"/><path d="M364.3 518.5l1.5-2 1.6-28 1.5-28.5 1.6-25.5 1.5-23 1.6-21.5 1.5-4 1.5 7.5 1.6 3.5 1.5 0.5 1.6 1 1.5 4.5 1.6 5 1.5 4 1.5 3 1.6 4.5 1.5 6 1.6 5.5 1.5 2.5 1.6 2.5 1.5 2.5 1.5 3 1.6 4 1.5 4.5 1.6 1.5 1.5-1 1.6-0.5 1.5 0 1.5 0.5 1.6 1.5 1.5 2 1.6 2.5 1.5 2 1.5 0 1.6-1.5 1.5-0.5 1.6 1.5 1.5 3.5 1.6 2 1.5-0.5 1.5 0 1.6 1.5 1.5 2 1.6 1.5 1.5 0 1.6 0 1.5 0 1.5 1.5 1.6 2 1.5 1.5 1.6 0.5 1.5 1 1.6 0 1.5-0.5 1.5 0.5 1.6 1 1.5 1 1.6 0.5 1.5 0 1.6-0.5 1.5 1.5 1.5 1 1.6-0.5 1.5 0.5 1.6 0.5 1.5 0.5 1.6 1 1.5 0.5 1.5 0.5 1.6 0 1.5-0.5 1.6 0 1.5 1 1.6 0.5 1.5 0.5 1.5 0.5 1.6 1 1.5 0 1.6 0.5 1.5 0 1.6 0 1.5 0 1.5-0.5 1.6-0.5 1.5 0.5 1.6 1 1.5 1 1.5 1.5 1.6 1.5 1.5 0.5 1.6-0.5 1.5-2 1.6 0 1.5 1 1.5 0 1.6-1 1.5-0.5 1.6 0.5 1.5 1.5 1.6 1 1.5 0.5 1.5-0.5 1.6-0.5 1.5 0 1.6 1 1.5 0.5 1.6-0.5 1.5-0.5 1.5 0.5 1.6 0 1.5 0 1.6 0.5 1.5 0.5 1.6 1 1.5 1 1.5 0 1.6-0.5 1.5-1 1.6-0.5 1.5 0 1.6 1 1.5 1 1.5 0.5 1.6 0.5 1.5 0 1.6 0 1.5 0 1.6 0.5 1.5 0 1.5-1 1.6-1 1.5 0.5 1.6 1 1.5 0.5 1.6 0 1.5 0.5 1.5 0.5 1.6-0.5 1.5 0 1.6 0.5 1.5 0.5 1.5 0.5 1.6-0.5 1.5-1 1.6-0.5 1.5 0.5 1.6 0.5 1.5-0.5 1.5 0.5 1.6 0 1.5 0 1.6 0.5 1.5 0 1.6 0 1.5 0.5 1.5 0 1.6-0.5 1.5-0.5 1.6 0 1.5 1.5 1.6 0.5 1.5 0 1.5 0 1.6 0.5 1.5-0.5 1.6-0.5" stroke="#86b972"/><path d="M364.3 521l1.5-6.5 1.6-7 1.5-4 1.6 3 1.5 5.5 1.6 1 1.5-15 1.5-24 1.6-22 1.5-23.5 1.6-7.5 1.5 0 1.6 2 1.5 4 1.5 1 1.6 1 1.5 6 1.6 5.5 1.5 2.5 1.6 1 1.5 1.5 1.5 2.5 1.6 2 1.5 1.5 1.6 2 1.5 2.5 1.6 0.5 1.5-1 1.5 1 1.6 3 1.5 3 1.6 0.5 1.5 1 1.5 0.5 1.6 0.5 1.5 0.5 1.6 2 1.5 0.5 1.6 1.5 1.5 1.5 1.5 1 1.6 0.5 1.5-0.5 1.6-0.5 1.5 0.5 1.6 1 1.5 1 1.5 1.5 1.6 1 1.5 0.5 1.6 1 1.5 1 1.6 0.5 1.5 0.5 1.5-1 1.6-0.5 1.5 1 1.6 1 1.5 1 1.6 1 1.5 0.5 1.5 0 1.6 0.5 1.5 0.5 1.6 2 1.5 0.5 1.6-0.5 1.5 0 1.5 0 1.6 0 1.5-1 1.6 1 1.5 0.5 1.6-0.5 1.5 0.5 1.5 0.5 1.6 0 1.5-0.5 1.6 0.5 1.5 1 1.6 1.5 1.5 1.5 1.5 0.5 1.6-0.5 1.5-1 1.6 0.5 1.5 1 1.5-0.5 1.6 0 1.5 0 1.6 0.5 1.5 1 1.6 1 1.5 1 1.5-0.5 1.6-1 1.5-1 1.6 0 1.5 1 1.6 0.5 1.5-0.5 1.5 0.5 1.6 0.5 1.5 0 1.6 0 1.5-1.5 1.6-0.5 1.5 1 1.5 1.5 1.6 0.5 1.5 0 1.6 0.5 1.5 0 1.6 0.5 1.5 0.5 1.5 0 1.6 0 1.5 0 1.6 1 1.5 0 1.6-0.5 1.5-1 1.5 0.5 1.6 1 1.5 0 1.6 0 1.5 0.5 1.6 0.5 1.5 0 1.5 0 1.6-1 1.5-0.5 1.6-0.5 1.5 0.5 1.6 1.5 1.5 1 1.5-0.5 1.6-0.5 1.5 0 1.6 0.5 1.5 0 1.5 0 1.6 0 1.5 0 1.6-0.5 1.5-0.5 1.6 1 1.5 1 1.5 0 1.6-0.5 1.5 0 1.6 0 1.5 0.5 1.6 0 1.5 0 1.5-1 1.6 0 1.5 0.5 1.6 1 1.5 0.5 1.6 1 1.5 0 1.5 0 1.6-0.5 1.5-0.5 1.6 0" stroke="#588a7d"/><path d="M364.3 524l1.5 0 1.6 0 1.5-4 1.6-4 1.5 3 1.6 5 1.5 0 1.5 0 1.6-1.5 1.5-2 1.6 1.5 1.5-35.5 1.6-65.5 1.5-19 1.5 7 1.6 9.5 1.5 6 1.6 2 1.5 0.5 1.6 1.5 1.5 4 1.5 4.5 1.6 3.5 1.5 3.5 1.6 2.5 1.5 2 1.6 1.5 1.5 1 1.5 0 1.6 0 1.5 1 1.6 2.5 1.5 3.5 1.5 1 1.6-1.5 1.5 0.5 1.6 1.5 1.5 1.5 1.6 2 1.5 1.5 1.5 0.5 1.6 2 1.5 1.5 1.6 1 1.5 0.5 1.6 1.5 1.5 1.5 1.5 0 1.6-1.5 1.5 0 1.6 1.5 1.5 2 1.6 1 1.5 0.5 1.5 0 1.6 0.5 1.5 0 1.6 0 1.5-0.5 1.6 0 1.5 0.5 1.5 1.5 1.6 1.5 1.5 1.5 1.6 1 1.5 0 1.6 0.5 1.5 1 1.5 0.5 1.6 0 1.5 0 1.6-1 1.5 0.5 1.6 1.5 1.5 1 1.5-1 1.6 0 1.5 0.5 1.6 0.5 1.5 1 1.6 0 1.5 1 1.5 0.5 1.6-0.5 1.5-0.5 1.6 1.5 1.5 1 1.5-1 1.6-1.5 1.5 0.5 1.6 1.5 1.5 1.5 1.6 0 1.5 0 1.5 0.5 1.6-0.5 1.5 0 1.6 0.5 1.5 0 1.6 0.5 1.5 0 1.5 0 1.6 0 1.5 0 1.6 0 1.5 0.5 1.6 0 1.5 0 1.5 0.5 1.6 1 1.5 0.5 1.6 0.5 1.5 0.5 1.6-0.5 1.5-0.5 1.5 0 1.6 0 1.5 0 1.6 1 1.5 1 1.6 0.5 1.5-1 1.5-1 1.6 0.5 1.5 1.5 1.6 1.5 1.5 0 1.6-1 1.5 0 1.5 0.5 1.6-1.5 1.5-1 1.6 0.5 1.5 1 1.6 0.5 1.5 0 1.5 0 1.6 0 1.5 0.5 1.6 0.5 1.5 0 1.5-1 1.6-0.5 1.5 0.5 1.6 0.5 1.5 0.5 1.6 0 1.5 0 1.5 0 1.6 0 1.5 0 1.6 0 1.5 0 1.6 0 1.5-0.5 1.5-0.5 1.6 0.5 1.5 1 1.6-0.5 1.5 0 1.6-0.5 1.5 0 1.5 0 1.6 0 1.5 0.5 1.6 1.5" stroke="#62957b"/><path d="M364.3 524l1.5-5.5 1.6-3.5 1.5-2.5 1.6-7.5 1.5-1.5 1.6 0.5 1.5-2 1.5 0 1.6-1 1.5-20.5 1.6-21.5 1.5-16.5 1.6-18 1.5-22.5 1.5-1.5 1.6 0 1.5 1 1.6 4 1.5 8 1.6 6.5 1.5 3 1.5 1.5 1.6 1.5 1.5-1 1.6 0.5 1.5 3 1.6 3 1.5 0.5 1.5 0 1.6 1 1.5 2 1.6 2.5 1.5 2.5 1.5 1.5 1.6 0.5 1.5 0.5 1.6 0 1.5 0.5 1.6 2 1.5 0.5 1.5 0.5 1.6 2.5 1.5 3 1.6 1 1.5 0 1.6 1 1.5 1 1.5 1 1.6 2 1.5 1.5 1.6 0 1.5-0.5 1.6 0.5 1.5 2.5 1.5 1.5 1.6 0.5 1.5 0.5 1.6 0 1.5 0.5 1.6 1.5 1.5 2 1.5 1 1.6-1 1.5-1 1.6-0.5 1.5 2 1.6 1.5 1.5 1 1.5 1 1.6 0 1.5-0.5 1.6 0.5 1.5 1.5 1.6 0 1.5 0 1.5 1 1.6 2 1.5 0.5 1.6 0 1.5 0.5 1.6 0.5 1.5 1 1.5 1 1.6 0.5 1.5-1 1.6-1.5 1.5 0 1.5 1.5 1.6 1.5 1.5 0 1.6 1 1.5 0.5 1.6-0.5 1.5 0 1.5-0.5 1.6 0.5 1.5 1.5 1.6 1 1.5 1 1.6 0 1.5 0 1.5-0.5 1.6-0.5 1.5-0.5 1.6 0.5 1.5 1 1.6 0.5 1.5 0 1.5 0.5 1.6 0.5 1.5-1 1.6-0.5 1.5 1 1.6 1.5 1.5 0.5 1.5-0.5 1.6-0.5 1.5 0 1.6 0 1.5 0.5 1.6 0.5 1.5 0 1.5 0 1.6 2 1.5 1 1.6 0 1.5-0.5 1.6 0 1.5-0.5 1.5-1 1.6 0.5 1.5 1.5 1.6 0.5 1.5 1 1.6 0.5 1.5-0.5 1.5 0 1.6 0 1.5 0 1.6 1 1.5 1 1.5-0.5 1.6-0.5 1.5 0.5 1.6 0.5 1.5-0.5 1.6-1 1.5 0 1.5 0.5 1.6 0 1.5 1 1.6 1 1.5-0.5 1.6-1 1.5-0.5 1.5 0 1.6 1 1.5 0.5 1.6-0.5 1.5-0.5 1.6 0 1.5 0 1.5 0 1.6 0.5 1.5 1 1.6 0.5" stroke="#9acb6e"/><path d="M364.3 524l1.5 0 1.6 0 1.5 0 1.6 0 1.5-19 1.6-22.5 1.5-21.5 1.5-20.5 1.6-20 1.5-23 1.6 1 1.5 1.5 1.6 3.5 1.5 6 1.5 5.5 1.6 2.5 1.5 0 1.6 1.5 1.5 3 1.6 3 1.5 4 1.5 4 1.6 2.5 1.5 1.5 1.6 1 1.5 0 1.6 0 1.5 3.5 1.5 3 1.6 1.5 1.5 1 1.6 2 1.5 2 1.5 0.5 1.6-0.5 1.5 0 1.6 1.5 1.5 0 1.6 0 1.5 2.5 1.5 3.5 1.6 2 1.5 0.5 1.6-0.5 1.5-0.5 1.6 1 1.5 1 1.5 1 1.6 2 1.5 1.5 1.6 0.5 1.5-1 1.6 0 1.5 0.5 1.5 1.5 1.6 2 1.5 1 1.6 1.5 1.5 0 1.6-1 1.5 0 1.5 1 1.6 1 1.5 1 1.6 1.5 1.5 1 1.6-0.5 1.5 0 1.5 0 1.6 0.5 1.5 1 1.6 0 1.5-0.5 1.6-0.5 1.5 0.5 1.5 1 1.6 0.5 1.5 0.5 1.6 0 1.5 0.5 1.6 0.5 1.5 0.5 1.5-0.5 1.6 0 1.5 0.5 1.6 2 1.5 1.5 1.5 0 1.6 0 1.5 0.5 1.6 0 1.5 0 1.6-0.5 1.5-0.5 1.5 1 1.6 1 1.5 0 1.6 0 1.5 0 1.6 0 1.5 0 1.5 0 1.6 1 1.5 1.5 1.6 0.5 1.5 0 1.6 0 1.5 0 1.5 0.5 1.6-0.5 1.5-0.5 1.6 0.5 1.5 2 1.6 0 1.5-0.5 1.5-0.5 1.6 0 1.5 1 1.6 1.5 1.5 0 1.6-1 1.5-0.5 1.5 1 1.6 1 1.5 0 1.6-0.5 1.5 0 1.6 0.5 1.5 0 1.5-0.5 1.6 0.5 1.5 0.5 1.6 0 1.5 0 1.6 0 1.5-1 1.5-1 1.6-0.5 1.5 1 1.6 0.5 1.5 0.5 1.5 0 1.6 1 1.5 0 1.6-0.5 1.5-0.5 1.6 0.5 1.5 0 1.5 0.5 1.6 0 1.5-0.5 1.6 0.5 1.5 0.5 1.6 1 1.5 0.5 1.5-0.5 1.6-0.5 1.5 0.5 1.6 0.5 1.5 1 1.6-0.5 1.5-1 1.5-0.5 1.6 0.5 1.5 0.5 1.6-0.5" stroke="#82b673"/><path d="M364.3 492l1.5 3 1.6-16.5 1.5-19.5 1.6-22.5 1.5-24 1.6-20.5 1.5-9.5 1.5 6 1.6 7 1.5 10 1.6 8.5 1.5 9.5 1.6 8 1.5 3 1.5 3.5 1.6 2 1.5 1 1.6 4 1.5 4 1.6 3 1.5 2 1.5-0.5 1.6-0.5 1.5 1 1.6 2 1.5 3.5 1.6 1.5 1.5 0 1.5 0.5 1.6 1 1.5 2 1.6 2 1.5 2 1.5 1 1.6-0.5 1.5 0.5 1.6 1.5 1.5 1.5 1.6 0.5 1.5-0.5 1.5-1 1.6 0 1.5 1 1.6 1 1.5 0.5 1.6 1.5 1.5 2 1.5 1 1.6 1 1.5 0 1.6 0.5 1.5 1.5 1.6 0 1.5-0.5 1.5-0.5 1.6 0.5 1.5 0.5 1.6 0.5 1.5 1 1.6 1 1.5 0.5 1.5 0.5 1.6 0.5 1.5 0.5 1.6 0 1.5 0 1.6 0 1.5 0 1.5 0 1.6 1 1.5 1 1.6-0.5 1.5-1 1.6-0.5 1.5 1 1.5 1 1.6 0.5 1.5 0.5 1.6 1.5 1.5 0.5 1.6 0 1.5 0 1.5-0.5 1.6-0.5 1.5 0.5 1.6 0.5 1.5 0 1.5 1 1.6 0.5 1.5 0.5 1.6 0 1.5-0.5 1.6 0 1.5 0 1.5 0.5 1.6 0.5 1.5 0.5 1.6-0.5 1.5 0 1.6 0 1.5 0.5 1.5 0.5 1.6 0 1.5 0 1.6 0 1.5 0 1.6-0.5 1.5 0.5 1.5 1.5 1.6 0 1.5 0.5 1.6 1 1.5 0 1.6-0.5 1.5 0.5 1.5 0 1.6-0.5 1.5 0 1.6 1 1.5 0 1.6-0.5 1.5-0.5 1.5 0.5 1.6 1 1.5 0 1.6-1 1.5-1 1.6-0.5 1.5 0 1.5 0.5 1.6 0.5 1.5 0.5 1.6 0 1.5 0 1.6 0 1.5 0 1.5 0 1.6 0 1.5 0.5 1.6 1 1.5 0.5 1.5-0.5 1.6 0.5 1.5 0 1.6 0 1.5-0.5 1.6 0.5 1.5-0.5 1.5-1 1.6 0 1.5 1.5 1.6 1.5 1.5 0 1.6-1 1.5-1.5 1.5 0 1.6 0.5 1.5 0.5 1.6-0.5 1.5 0 1.6 0 1.5 1 1.5 0 1.6 0 1.5-0.5 1.6 0" stroke="#4f8181"/><path d="M364.3 524l1.5-3 1.6-8.5 1.5 0.5 1.6 9.5 1.5 1.5 1.6 0 1.5 0 1.5-2.5 1.6-2 1.5 0 1.6 2 1.5 1.5 1.6 1 1.5-1 1.5-1 1.6 2 1.5-8 1.6-12 1.5-11.5 1.6-12.5 1.5-12 1.5-11 1.6-9.5 1.5-2 1.6-1 1.5 0 1.6 0 1.5-1.5 1.5-2 1.6-1.5 1.5-2 1.6-3 1.5-0.5 1.5 1 1.6 2 1.5 1 1.6 0.5 1.5 0.5 1.6 2 1.5 2 1.5 1 1.6 2.5 1.5 3 1.6 1 1.5 0.5 1.6 2.5 1.5 2.5 1.5 2 1.6 0.5 1.5 1 1.6 0.5 1.5 1.5 1.6 1 1.5 1.5 1.5 1.5 1.6 0.5 1.5 0.5 1.6 1 1.5 1 1.6 0.5 1.5-0.5 1.5 0.5 1.6 1 1.5 1 1.6 1 1.5 1.5 1.6 1.5 1.5 1.5 1.5 1.5 1.6 0 1.5-0.5 1.6 0.5 1.5 0 1.6 0 1.5 0.5 1.5 1.5 1.6 1 1.5 0 1.6 0 1.5-0.5 1.6 0.5 1.5 0.5 1.5 2 1.6 1.5 1.5 0 1.6-1.5 1.5 0.5 1.5 1 1.6 0 1.5-0.5 1.6 0 1.5 0.5 1.6 0 1.5 0.5 1.5 1 1.6 0 1.5 0.5 1.6 0.5 1.5 1 1.6 1.5 1.5 0 1.5-0.5 1.6-1 1.5 0 1.6 2 1.5 1.5 1.6 0 1.5-0.5 1.5 0 1.6-1 1.5-1 1.6 1 1.5 1 1.6 0 1.5 0 1.5 0 1.6 0 1.5 0.5 1.6 0 1.5-1 1.6-0.5 1.5 0 1.5 1 1.6 1 1.5 0.5 1.6 0.5 1.5 0 1.6-0.5 1.5 0.5 1.5 1 1.6 0 1.5 0 1.6-0.5 1.5-1 1.6 0 1.5 1 1.5 0 1.6-0.5 1.5 0.5 1.6 0.5 1.5 0 1.5 0 1.6 0 1.5 0 1.6-1 1.5 0.5 1.6 0.5 1.5-0.5 1.5-0.5 1.6 0 1.5 0 1.6 0.5 1.5 0.5 1.6 0 1.5 0 1.5 0 1.6 1 1.5 0.5 1.6-0.5 1.5-1 1.6-0.5 1.5 0 1.5 0 1.6-0.5 1.5 0.5 1.6 1" stroke="#ecf668"/><path d="M364.3 511.5l1.5 3.5 1.6-6 1.5-31.5 1.6-28 1.5-26 1.6-25 1.5 5.5 1.5 1.5 1.6 3 1.5 6.5 1.6 8 1.5 7 1.6 4.5 1.5 3.5 1.5 7.5 1.6 3.5 1.5 1 1.6 1.5 1.5-1 1.6-0.5 1.5 1.5 1.5 4 1.6 5 1.5 2 1.6-1 1.5 0 1.6 2 1.5 1 1.5 1.5 1.6 1 1.5 1.5 1.6-0.5 1.5-0.5 1.5-1 1.6 0.5 1.5 2 1.6 2 1.5 0 1.6-0.5 1.5 0 1.5 1.5 1.6 1 1.5-1 1.6-0.5 1.5 1 1.6 1 1.5 1.5 1.5 0.5 1.6 0.5 1.5 1 1.6 0.5 1.5 0.5 1.6 1 1.5 0.5 1.5 0 1.6-0.5 1.5 0 1.6 0 1.5 0.5 1.6 1.5 1.5 0.5 1.5 0.5 1.6 0 1.5 0 1.6 0.5 1.5 0 1.6 0.5 1.5 0.5 1.5 0 1.6 0 1.5 1 1.6 0 1.5 0.5 1.6 0 1.5 0 1.5 0 1.6 0.5 1.5 0 1.6 0 1.5 0 1.6 0 1.5 0 1.5 1 1.6 2 1.5 0.5 1.6-0.5 1.5-1 1.5 0.5 1.6 1 1.5 0.5 1.6-0.5 1.5 0 1.6 1 1.5-0.5 1.5 0 1.6 0 1.5 0 1.6 1 1.5 0.5 1.6-0.5 1.5-0.5 1.5 0.5 1.6 0 1.5 0.5 1.6 0 1.5 0 1.6 0.5 1.5 0.5 1.5 1 1.6 0.5 1.5 0.5 1.6 0.5 1.5 0 1.6-1 1.5-1.5 1.5-0.5 1.6 1 1.5 0.5 1.6 0.5 1.5 0.5 1.6 0 1.5-1 1.5 0 1.6 0 1.5 0.5 1.6 1 1.5 1 1.6 0 1.5-0.5 1.5-1 1.6-1.5 1.5-0.5 1.6 0.5 1.5 2 1.6 1 1.5-0.5 1.5-1 1.6-0.5 1.5 0 1.6 0.5 1.5 1 1.5 1 1.6 0 1.5-0.5 1.6-0.5 1.5 1 1.6 0 1.5 0.5 1.5 0.5 1.6 0.5 1.5 0.5 1.6-1 1.5-1 1.6-0.5 1.5 0 1.5 0.5 1.6 1.5 1.5 1.5 1.6 0 1.5-1 1.6-0.5 1.5 0.5 1.5-1 1.6-1 1.5 0 1.6 1" stroke="#5f927b"/><path d="M364.3 524l1.5 0 1.6-2.5 1.5-8 1.6-5.5 1.5 0.5 1.6 9 1.5 6.5 1.5 0 1.6-49 1.5-61.5 1.6 1.5 1.5 2.5 1.6 4.5 1.5 5 1.5 4 1.6 0 1.5-1 1.6 1 1.5 1.5 1.6 1 1.5 4.5 1.5 6 1.6 2 1.5 0 1.6 1 1.5 2.5 1.6 2.5 1.5 2.5 1.5 3.5 1.6 1.5 1.5-3 1.6-1.5 1.5 1 1.5 1.5 1.6 0 1.5 0 1.6 1 1.5 2.5 1.6 1.5 1.5 0.5 1.5 0 1.6 0.5 1.5 0.5 1.6 1.5 1.5 1.5 1.6 0.5 1.5 0 1.5 0.5 1.6 0.5 1.5 0.5 1.6 0.5 1.5 0.5 1.6 1 1.5 1 1.5 1 1.6 0 1.5 0.5 1.6 0.5 1.5 1 1.6 0.5 1.5 0.5 1.5 1.5 1.6 0.5 1.5 0 1.6 0.5 1.5 1 1.6 0.5 1.5-0.5 1.5 1 1.6 0.5 1.5 1 1.6 0.5 1.5-0.5 1.6 0.5 1.5 0.5 1.5 0.5 1.6-0.5 1.5-1 1.6 0.5 1.5 1 1.6 0.5 1.5 1 1.5 0.5 1.6 0.5 1.5 0.5 1.6 0.5 1.5 0 1.5 0.5 1.6 0.5 1.5 0.5 1.6-0.5 1.5 0 1.6 1 1.5 0.5 1.5-1 1.6 0 1.5 1 1.6 0.5 1.5-1 1.6 0.5 1.5 0.5 1.5 1 1.6 1 1.5-0.5 1.6-1.5 1.5 0 1.6 1 1.5-0.5 1.5-0.5 1.6 0.5 1.5 0.5 1.6 0 1.5 0.5 1.6 1 1.5 0.5 1.5-0.5 1.6-1 1.5 0 1.6 1 1.5 2 1.6 2 1.5-1 1.5-2.5 1.6-0.5 1.5 0.5 1.6 0 1.5 0.5 1.6 1 1.5 0.5 1.5-0.5 1.6-1 1.5-0.5 1.6 0.5 1.5 1 1.6 0 1.5 0 1.5 0.5 1.6 1 1.5 0.5 1.6-0.5 1.5-1 1.5 0 1.6 0.5 1.5 1 1.6 1 1.5 0.5 1.6-0.5 1.5-1.5 1.5-1 1.6 0 1.5 1 1.6 1 1.5 0 1.6 0.5 1.5-0.5 1.5-0.5 1.6 0 1.5 1 1.6 1 1.5-0.5 1.6-1 1.5 0 1.5 0.5 1.6 0.5 1.5 0.5 1.6 0" stroke="#80b374"/><path d="M364.3 503.5l1.5-8.5 1.6 7.5 1.5 14.5 1.6 7 1.5-37 1.6-47 1.5-44.5 1.5 7.5 1.6 5 1.5 3 1.6 3 1.5 6.5 1.6 6.5 1.5 5 1.5 5 1.6 2.5 1.5 2.5 1.6 5 1.5 3.5 1.6 1 1.5 0 1.5 0 1.6 2 1.5 1.5 1.6 1.5 1.5 2 1.6 2 1.5 1.5 1.5-1 1.6-1 1.5 0 1.6 1.5 1.5 2 1.5 1.5 1.6 0.5 1.5-0.5 1.6 0.5 1.5 2 1.6 1.5 1.5 0.5 1.5 1 1.6 1 1.5 1 1.6 0 1.5 0.5 1.6 0.5 1.5 1 1.5 0 1.6 0 1.5 0.5 1.6 1.5 1.5 1 1.6 0.5 1.5 1.5 1.5 0.5 1.6 0 1.5 0 1.6 0.5 1.5 1.5 1.6 1 1.5 0.5 1.5-1 1.6 0.5 1.5 1.5 1.6 1 1.5 0 1.6-0.5 1.5 1 1.5 1.5 1.6 0.5 1.5-1 1.6-0.5 1.5 0.5 1.6 0.5 1.5 0 1.5 1 1.6 1 1.5-0.5 1.6-0.5 1.5 0.5 1.6 1.5 1.5 1 1.5 1 1.6-0.5 1.5-1 1.6-0.5 1.5 0.5 1.5 0 1.6 0.5 1.5 1.5 1.6 0 1.5-0.5 1.6 0 1.5 0.5 1.5 0 1.6 1 1.5 1 1.6 0 1.5-1 1.6 0 1.5 0.5 1.5 0 1.6 0 1.5 1 1.6 0.5 1.5 0 1.6 0.5 1.5 0.5 1.5-0.5 1.6-0.5 1.5 0 1.6 0.5 1.5 0.5 1.6 0.5 1.5 1 1.5 0 1.6-1 1.5 0 1.6 1.5 1.5 0.5 1.6-0.5 1.5-0.5 1.5 0 1.6 0 1.5 0.5 1.6 1 1.5 1 1.6 0 1.5-1.5 1.5-0.5 1.6 0 1.5 1 1.6 0.5 1.5 0.5 1.6 1 1.5 0.5 1.5-0.5 1.6-0.5 1.5-0.5 1.6-0.5 1.5-0.5 1.5-0.5 1.6 0 1.5 0.5 1.6-0.5 1.5 1 1.6 1 1.5 0 1.5-1 1.6-0.5 1.5-0.5 1.6-0.5 1.5 0 1.6 1 1.5 1 1.5-0.5 1.6-0.5 1.5 0 1.6 0.5 1.5 0 1.6 0 1.5 1 1.5 1 1.6 0 1.5 0 1.6-1" stroke="#3b6f8e"/><path d="M364.3 524l1.5 0 1.6 0 1.5-4.5 1.6-9.5 1.5 3 1.6 7.5 1.5 3 1.5-1 1.6-1.5 1.5-2 1.6-1.5 1.5-0.5 1.6 1.5 1.5 0 1.5-1 1.6-5 1.5-20 1.6-18 1.5-15 1.6-12.5 1.5 1.5 1.5-1.5 1.6-1.5 1.5 1 1.6 0 1.5-0.5 1.6-2 1.5-3 1.5-1 1.6 1.5 1.5 0 1.6-2 1.5-1.5 1.5-1.5 1.6 0.5 1.5 0.5 1.6-2.5 1.5-1.5 1.6 0.5 1.5 1.5 1.5-1.5 1.6-1.5 1.5-1 1.6-0.5 1.5-1.5 1.6-1 1.5 1 1.5 1 1.6-0.5 1.5-1.5 1.6-1 1.5-2 1.6-1 1.5-0.5 1.5-1 1.6 1.5 1.5 3.5 1.6 3 1.5 1.5 1.6 1.5 1.5 2 1.5 3.5 1.6 3 1.5 1 1.6 1.5 1.5 2.5 1.6 2.5 1.5 1 1.5 0.5 1.6 1.5 1.5 1.5 1.6 1.5 1.5 1.5 1.6 2 1.5 1 1.5 1.5 1.6 2 1.5 1.5 1.6 1.5 1.5 0.5 1.6 0.5 1.5 1.5 1.5 1 1.6 1 1.5 0.5 1.6 1 1.5 1.5 1.5 1.5 1.6 0 1.5 0.5 1.6 1 1.5 1.5 1.6 1 1.5 0.5 1.5 0.5 1.6 0 1.5 0 1.6 0.5 1.5 1 1.6 1 1.5 0.5 1.5 0 1.6 0 1.5 0.5 1.6 0.5 1.5 1.5 1.6 1.5 1.5-0.5 1.5-0.5 1.6 0.5 1.5 2 1.6 1 1.5 0.5 1.6 0 1.5-0.5 1.5-0.5 1.6-0.5 1.5-0.5 1.6 0.5 1.5 1 1.6 0.5 1.5 0 1.5 0 1.6 1 1.5 0.5 1.6 0.5 1.5-1 1.6-1.5 1.5-0.5 1.5 1.5 1.6 2 1.5 1.5 1.6 0 1.5-0.5 1.6-0.5 1.5-0.5 1.5-0.5 1.6 0 1.5 0 1.6 0 1.5 2 1.5 1 1.6 0.5 1.5-0.5 1.6-0.5 1.5 0.5 1.6 1.5 1.5 0 1.5-1.5 1.6 0 1.5 0 1.6 0.5 1.5-0.5 1.6-1 1.5-0.5 1.5 0 1.6 1 1.5 0.5 1.6 1 1.5 1.5 1.6 0 1.5-0.5 1.5 0 1.6 0.5 1.5-0.5 1.6 0" stroke="#f5fa68"/><path d="M364.3 501.5l1.5 4.5 1.6 1.5 1.5-4.5 1.6 0 1.5 8 1.6 4 1.5-3 1.5-5 1.6-2.5 1.5 1 1.6 3 1.5 3.5 1.6 4 1.5 2.5 1.5-3 1.6-4.5 1.5-1.5 1.6-2.5 1.5-9.5 1.6-11 1.5-13 1.5-14 1.6-11 1.5-5.5 1.6 2 1.5-1 1.6-1 1.5 0 1.5 0.5 1.6-1 1.5-1.5 1.6-0.5 1.5 1 1.5 0.5 1.6 0 1.5 0 1.6-0.5 1.5-2 1.6-1 1.5-1 1.5 0 1.6 0 1.5-1 1.6-1 1.5-0.5 1.6 0.5 1.5 0.5 1.5-0.5 1.6-2 1.5-1 1.6-0.5 1.5 0 1.6 0.5 1.5 0.5 1.5-0.5 1.6 0 1.5 0 1.6-0.5 1.5 0 1.6-0.5 1.5-1.5 1.5-1 1.6 1.5 1.5 3 1.6 3 1.5 2 1.6 1.5 1.5 1.5 1.5 1.5 1.6 0.5 1.5 0.5 1.6 2 1.5 2.5 1.6 1.5 1.5 2 1.5 2.5 1.6 1.5 1.5 1 1.6 1 1.5 0.5 1.6 0.5 1.5 0 1.5 1.5 1.6 2 1.5 0.5 1.6 1 1.5 2 1.5 2 1.6 1 1.5 0.5 1.6 0 1.5 0 1.6 1 1.5 1.5 1.5 0.5 1.6 0.5 1.5 2 1.6 1 1.5 0.5 1.6 0 1.5 0 1.5 0.5 1.6 0.5 1.5 0.5 1.6 0.5 1.5 0 1.6 0 1.5 1 1.5 1 1.6 0.5 1.5 2 1.6 1 1.5 0.5 1.6-0.5 1.5 0 1.5 0 1.6 0 1.5 0.5 1.6 0.5 1.5 0 1.6 0.5 1.5 0.5 1.5 0.5 1.6 1 1.5 0 1.6-0.5 1.5 0.5 1.6-0.5 1.5 0.5 1.5 1 1.6 1 1.5 0.5 1.6 0 1.5-0.5 1.6-0.5 1.5-0.5 1.5-0.5 1.6-0.5 1.5 0 1.6 0 1.5 0 1.5 1.5 1.6 2 1.5 0.5 1.6 0 1.5 0 1.6-0.5 1.5 0.5 1.5 1 1.6 0 1.5 0 1.6 0.5 1.5 0 1.6 0 1.5-0.5 1.5-0.5 1.6 0.5 1.5 0 1.6 0 1.5 0.5 1.6 0 1.5-0.5 1.5 0.5 1.6 1 1.5-0.5 1.6 0" stroke="#f6fa68"/><path d="M364.3 517.5l1.5-8.5 1.6-0.5 1.5 5.5 1.6 6 1.5 2 1.6-0.5 1.5 2 1.5 0.5 1.6-1.5 1.5-0.5 1.6 2 1.5-17 1.6-50.5 1.5-39 1.5 6.5 1.6 6 1.5 3.5 1.6 3 1.5 4 1.6 4.5 1.5 2 1.5 1 1.6 4 1.5 5.5 1.6 3.5 1.5 2 1.6 0.5 1.5 0 1.5 0 1.6 0.5 1.5 2 1.6 3 1.5 2.5 1.5 1.5 1.6-0.5 1.5 0 1.6 1 1.5 0 1.6 0 1.5 0.5 1.5 1 1.6 1.5 1.5 0.5 1.6-0.5 1.5 0 1.6 2 1.5 2 1.5 1 1.6 0.5 1.5 0 1.6-1 1.5 0 1.6 0.5 1.5 0 1.5 0.5 1.6 1 1.5 1 1.6 0 1.5 0 1.6 1.5 1.5 1 1.5-1.5 1.6-0.5 1.5 0.5 1.6 1.5 1.5 1 1.6 0.5 1.5 0.5 1.5 0.5 1.6 0 1.5-0.5 1.6 0.5 1.5 0 1.6 0 1.5 0 1.5 1 1.6 1 1.5 1 1.6-0.5 1.5 0 1.6 0.5 1.5 0 1.5 0.5 1.6 0.5 1.5 0 1.6 0 1.5 0 1.5 0.5 1.6 0.5 1.5 1.5 1.6 0 1.5-0.5 1.6-0.5 1.5-0.5 1.5-0.5 1.6 0.5 1.5 1 1.6 0.5 1.5 0.5 1.6 0 1.5 0.5 1.5 0 1.6 0 1.5 0.5 1.6 0 1.5 0 1.6-0.5 1.5 0 1.5-0.5 1.6 0 1.5 0 1.6 0.5 1.5 0 1.6 0 1.5 0.5 1.5 0.5 1.6 0.5 1.5 1 1.6-0.5 1.5 0 1.6 1.5 1.5 0 1.5-0.5 1.6 0 1.5 1 1.6 0.5 1.5-1.5 1.6-1 1.5 0 1.5 0.5 1.6 0.5 1.5 0 1.6 0 1.5 0 1.6 0.5 1.5 0 1.5-0.5 1.6 0 1.5 0 1.6-0.5 1.5 0 1.5 1 1.6 1.5 1.5 1.5 1.6-0.5 1.5-1 1.6-0.5 1.5 0.5 1.5 0.5 1.6-1 1.5 0 1.6 0 1.5-1 1.6-0.5 1.5 1 1.5 1 1.6-0.5 1.5-0.5 1.6 0.5 1.5 0.5 1.6 0.5 1.5 0.5 1.5 0 1.6-1 1.5 0 1.6 0" stroke="#2a53a1"/><path d="M364.3 524l1.5-5 1.6-11 1.5-33.5 1.6-33.5 1.5-26.5 1.6-9 1.5 1 1.5 0 1.6 5.5 1.5 5.5 1.6 2 1.5 2.5 1.6 5.5 1.5 5.5 1.5 2 1.6-3 1.5-1.5 1.6 3 1.5 4.5 1.6 1.5 1.5 0 1.5 1 1.6 0.5 1.5 1.5 1.6 2 1.5 1 1.6 0 1.5 1 1.5 1.5 1.6 2 1.5 2 1.6 1.5 1.5 0.5 1.5 0.5 1.6 3 1.5 1.5 1.6-1 1.5 0.5 1.6 1.5 1.5 0 1.5-0.5 1.6 1 1.5 1 1.6 0.5 1.5 1 1.6 1.5 1.5 0.5 1.5 0 1.6 0 1.5 0.5 1.6 1.5 1.5 1 1.6 0.5 1.5 1.5 1.5 1.5 1.6 0 1.5 0 1.6-0.5 1.5 1 1.6 0.5 1.5 0.5 1.5 0.5 1.6 1 1.5 0.5 1.6-1 1.5-0.5 1.6 0.5 1.5 0.5 1.5 0.5 1.6 1 1.5 0.5 1.6-0.5 1.5 0 1.6 0 1.5 0.5 1.5 1 1.6 1.5 1.5 1 1.6 0.5 1.5 0 1.6-0.5 1.5 0 1.5 0 1.6 0.5 1.5 1 1.6 0.5 1.5 0.5 1.5 0.5 1.6 1.5 1.5 0.5 1.6-1 1.5 0.5 1.6 0.5 1.5 0.5 1.5-0.5 1.6-0.5 1.5 0 1.6 0.5 1.5 0.5 1.6 0.5 1.5 1 1.5 1 1.6 0.5 1.5-1 1.6-0.5 1.5 1 1.6 1 1.5 0 1.5-0.5 1.6 0 1.5-0.5 1.6-1 1.5 0 1.6 2 1.5 0.5 1.5 0 1.6 0.5 1.5-0.5 1.6 0 1.5 0 1.6 0 1.5 0.5 1.5 0 1.6 0.5 1.5 0.5 1.6 0.5 1.5-0.5 1.6-0.5 1.5 0 1.5 0.5 1.6-0.5 1.5 0 1.6 0.5 1.5 1 1.6 0.5 1.5 1 1.5 0 1.6-1 1.5-1 1.6 0 1.5 1 1.5 1 1.6 1 1.5 0 1.6 0 1.5 0 1.6-1.5 1.5-2.5 1.5 0 1.6 2 1.5 2.5 1.6 0 1.5-0.5 1.6-1 1.5 0.5 1.5 0.5 1.6 0.5 1.5-0.5 1.6-0.5 1.5-0.5 1.6 0.5 1.5 0.5 1.5 0 1.6-0.5 1.5 0 1.6 1" stroke="#99ca6e"/><path d="M364.3 504.5l1.5 2.5 1.6 8.5 1.5 2 1.6-4.5 1.5-11.5 1.6-45.5 1.5-48 1.5-29.5 1.6 3.5 1.5 7 1.6 9.5 1.5 9.5 1.6 5.5 1.5 3 1.5 4.5 1.6 4 1.5 4.5 1.6 6 1.5 5 1.6 2 1.5 2 1.5 3 1.6 2 1.5 1 1.6-0.5 1.5-1 1.6 2 1.5 4 1.5 2 1.6 2 1.5 3 1.6 3 1.5 0.5 1.5-1.5 1.6 1.5 1.5 2.5 1.6 1 1.5 0 1.6 0 1.5 0.5 1.5 0.5 1.6 1.5 1.5 1.5 1.6 1.5 1.5-0.5 1.6-1 1.5 0 1.5 1.5 1.6 0.5 1.5 1 1.6 1.5 1.5 0.5 1.6 0 1.5 0.5 1.5 0 1.6 0 1.5 1 1.6 0.5 1.5 0.5 1.6 1.5 1.5 1.5 1.5 1.5 1.6 0.5 1.5-1 1.6-1.5 1.5 0.5 1.6 1 1.5-0.5 1.5 0 1.6 1.5 1.5 1 1.6 0 1.5-0.5 1.6 0.5 1.5 1 1.5 1 1.6 0 1.5 0.5 1.6 0.5 1.5 0 1.6-0.5 1.5 0 1.5 1.5 1.6 0 1.5-0.5 1.6 0.5 1.5 0 1.5 0 1.6 0.5 1.5 0 1.6 0 1.5 0 1.6 0 1.5 1 1.5 0.5 1.6 0 1.5 1 1.6 0 1.5-0.5 1.6 0 1.5 0.5 1.5 0.5 1.6-0.5 1.5 0 1.6 0.5 1.5 0.5 1.6 0.5 1.5 0 1.5-0.5 1.6-1 1.5-0.5 1.6-0.5 1.5 0.5 1.6 1.5 1.5 1.5 1.5 0.5 1.6 0.5 1.5 0 1.6-0.5 1.5 0 1.6 0 1.5 0.5 1.5 0 1.6 0 1.5-1 1.6-1 1.5 0 1.6 1 1.5 1.5 1.5 0 1.6-0.5 1.5-1 1.6 0.5 1.5 1.5 1.6 0 1.5 0.5 1.5 0 1.6 0 1.5-0.5 1.6 0 1.5 0 1.5 0.5 1.6 0.5 1.5 0 1.6-1 1.5-1 1.6-0.5 1.5 0 1.5 1 1.6 0.5 1.5 1 1.6 1 1.5 0.5 1.6-0.5 1.5-0.5 1.5 0.5 1.6 0.5 1.5-0.5 1.6-0.5 1.5 0 1.6 0 1.5 0.5 1.5 0.5 1.6-1 1.5-1 1.6-1.5" stroke="#4d8081"/><path d="M364.3 524l1.5-2 1.6 1.5 1.5 0.5 1.6 0 1.5 0 1.6 0 1.5 0 1.5 0 1.6-5.5 1.5-2 1.6 2.5 1.5 3 1.6 0.5 1.5-1.5 1.5-11 1.6-7.5 1.5-8 1.6-12 1.5-14 1.6-13.5 1.5-10.5 1.5-3 1.6 0 1.5 1 1.6 1.5 1.5 0 1.6-1.5 1.5-2 1.5-1.5 1.6 1 1.5 0.5 1.6 0 1.5-0.5 1.5-0.5 1.6-1 1.5-0.5 1.6-0.5 1.5 0 1.6-1 1.5-1 1.5-2 1.6-3 1.5-1 1.6 0.5 1.5 0 1.6 0 1.5 1 1.5 0 1.6-0.5 1.5-2 1.6-1.5 1.5-0.5 1.6 1 1.5-0.5 1.5-1 1.6 0 1.5-0.5 1.6-0.5 1.5-1 1.6 0 1.5 1.5 1.5 2 1.6 1 1.5 2 1.6 3 1.5 3 1.6 2.5 1.5 2 1.5 2 1.6 2 1.5 2 1.6 2 1.5 0.5 1.6 1 1.5 2 1.5 2.5 1.6 1.5 1.5 1 1.6 1 1.5 0.5 1.6 1 1.5 1 1.5 0.5 1.6 1.5 1.5 1.5 1.6 2.5 1.5 2 1.5 0.5 1.6 1 1.5 1.5 1.6 1.5 1.5 0.5 1.6 0.5 1.5 1 1.5 0.5 1.6 0 1.5 0.5 1.6 1 1.5 0.5 1.6-0.5 1.5-0.5 1.5 1 1.6 1.5 1.5 1 1.6 1 1.5 0.5 1.6 0 1.5 1 1.5 0 1.6-0.5 1.5 0 1.6 1.5 1.5 2 1.6 0 1.5-0.5 1.5 0.5 1.6 0 1.5 0.5 1.6 1 1.5 1 1.6 0 1.5-1 1.5 0.5 1.6 0 1.5 0 1.6 0.5 1.5 1.5 1.6 0.5 1.5-0.5 1.5-0.5 1.6 0 1.5 0.5 1.6 0 1.5 0.5 1.6 1 1.5 0 1.5 0 1.6 0.5 1.5-0.5 1.6 0.5 1.5 0 1.5 0 1.6 0.5 1.5 0 1.6 0.5 1.5 0 1.6-0.5 1.5 0 1.5 1.5 1.6 0 1.5-1.5 1.6-0.5 1.5 0 1.6 1.5 1.5 1.5 1.5 0 1.6-0.5 1.5 0 1.6 1.5 1.5 0 1.6 0 1.5 0 1.5 0.5 1.6 0 1.5-0.5 1.6 0.5" stroke="#e5f468"/><path d="M364.3 520l1.5-5.5 1.6-3 1.5 2.5 1.6 4 1.5 3 1.6 1 1.5-2.5 1.5-4 1.6-3 1.5-18 1.6-17 1.5-21 1.6-25 1.5-9 1.5 4 1.6 4.5 1.5 4 1.6 3.5 1.5 2.5 1.6 2.5 1.5 1 1.5 1 1.6 3 1.5 1.5 1.6 2.5 1.5 4 1.6 4 1.5 2 1.5 1.5 1.6 0 1.5 1 1.6 1 1.5-0.5 1.5 1 1.6 2.5 1.5 3.5 1.6 1.5 1.5 0 1.6 0.5 1.5 0.5 1.5 1 1.6 1 1.5 0.5 1.6 0.5 1.5 0.5 1.6 0.5 1.5 0 1.5 1 1.6 1.5 1.5 1 1.6 0.5 1.5 0 1.6-0.5 1.5 1 1.5 1 1.6 1.5 1.5 0 1.6-0.5 1.5 0 1.6 0.5 1.5 1.5 1.5 2 1.6 0.5 1.5-1 1.6-0.5 1.5-1 1.6 1.5 1.5 2 1.5 0 1.6-0.5 1.5 1 1.6 0 1.5 0 1.6 0.5 1.5 1 1.5 0.5 1.6 0.5 1.5 0.5 1.6 0.5 1.5-0.5 1.6 0 1.5 0 1.5 0 1.6-0.5 1.5 1 1.6 0.5 1.5 0 1.5 0.5 1.6 0 1.5-1 1.6 0.5 1.5 1 1.6 0 1.5 0 1.5 0.5 1.6 1 1.5 0.5 1.6-0.5 1.5 0 1.6 1 1.5 1.5 1.5 0 1.6-1.5 1.5-1 1.6-0.5 1.5 0.5 1.6 0.5 1.5 0 1.5 0.5 1.6 2 1.5 1.5 1.6-0.5 1.5-1 1.6 0 1.5 0 1.5 0 1.6-0.5 1.5-0.5 1.6-0.5 1.5 0 1.6 0 1.5 0.5 1.5 1 1.6 0 1.5 0.5 1.6 0.5 1.5 0 1.6 0 1.5 0.5 1.5-0.5 1.6 0 1.5 0.5 1.6 1 1.5 0 1.6-0.5 1.5 0 1.5 0.5 1.6 0 1.5-1 1.6 0 1.5 1.5 1.5 0.5 1.6-1.5 1.5-0.5 1.6 0.5 1.5 0 1.6-1 1.5-1 1.5 0 1.6 0.5 1.5 1 1.6 0.5 1.5 1 1.6 0 1.5-0.5 1.5-1 1.6-0.5 1.5 0.5 1.6 1.5 1.5 0.5 1.6-0.5 1.5 0 1.5 0.5 1.6-0.5 1.5-0.5 1.6 0" stroke="#305c9d"/><path d="M364.3 524l1.5-0.5 1.6-4 1.5-5.5 1.6 0 1.5 1 1.6-2.5 1.5-0.5 1.5-43 1.6-52 1.5-35.5 1.6 5.5 1.5 11.5 1.6 11 1.5 8 1.5 6 1.6 0.5 1.5 1.5 1.6 6 1.5 5.5 1.6 2 1.5 2 1.5 4 1.6 3.5 1.5 3 1.6 3.5 1.5 3.5 1.6 2.5 1.5 2 1.5 2 1.6 3 1.5 2.5 1.6-1.5 1.5-1.5 1.5 1 1.6 2.5 1.5 3 1.6 1.5 1.5 0.5 1.6 0.5 1.5 0.5 1.5 0.5 1.6 0.5 1.5 0.5 1.6 1 1.5 2 1.6 1.5 1.5 0 1.5 0.5 1.6 2 1.5 1 1.6 0 1.5 0.5 1.6 0 1.5 0.5 1.5 0 1.6 1 1.5 0.5 1.6 1 1.5 0.5 1.6 0.5 1.5-0.5 1.5-1 1.6-0.5 1.5 2 1.6 1.5 1.5 0 1.6-1 1.5 0 1.5 1.5 1.6 0.5 1.5 0 1.6 0.5 1.5 0.5 1.6 0.5 1.5-0.5 1.5 0.5 1.6-0.5 1.5-0.5 1.6 0.5 1.5 1.5 1.6 1 1.5 1 1.5-0.5 1.6 0 1.5 0.5 1.6 1 1.5-0.5 1.5-1 1.6-0.5 1.5 1 1.6 1 1.5 1 1.6 1 1.5 0 1.5-1 1.6-0.5 1.5 0.5 1.6 0.5 1.5-0.5 1.6-0.5 1.5 0 1.5 0 1.6 0.5 1.5 1 1.6 1.5 1.5 0.5 1.6-1 1.5-1.5 1.5 0 1.6 0.5 1.5 0.5 1.6 0 1.5-0.5 1.6 0 1.5 0.5 1.5 0.5 1.6 0.5 1.5 0 1.6 0.5 1.5-0.5 1.6 0 1.5-0.5 1.5 0 1.6 0 1.5 0.5 1.6 1 1.5 0 1.6 0 1.5 0 1.5 0 1.6-0.5 1.5-1.5 1.6 0 1.5 1 1.6 0.5 1.5 0 1.5-0.5 1.6 0 1.5 0.5 1.6 1 1.5-0.5 1.5-1 1.6 0.5 1.5 0.5 1.6 0.5 1.5 0 1.6 0 1.5 0 1.5 0.5 1.6 1 1.5 0.5 1.6-1 1.5-0.5 1.6 0.5 1.5 0.5 1.5-1 1.6-1 1.5-0.5 1.6 0 1.5 0 1.6 0 1.5 1 1.5 1.5 1.6 0 1.5 0 1.6-0.5" stroke="#1b36ab"/><path d="M364.3 524l1.5 0 1.6 0 1.5 0 1.6 0 1.5 0 1.6-14.5 1.5-25.5 1.5-22 1.6-21.5 1.5-22 1.6-2 1.5 2.5 1.6 3 1.5 4.5 1.5 3 1.6 1 1.5 1 1.6 3 1.5 2 1.6 1 1.5 2 1.5 3 1.6 3 1.5 3.5 1.6 1.5 1.5 1 1.6 2 1.5 1.5 1.5 0.5 1.6 0.5 1.5 1 1.6 1.5 1.5 1 1.5 0 1.6-0.5 1.5 0 1.6 0 1.5 1 1.6 1.5 1.5 1 1.5 1 1.6 0.5 1.5 1 1.6 1.5 1.5 1.5 1.6 1 1.5 0.5 1.5 0.5 1.6 1.5 1.5 1.5 1.6 0.5 1.5 0 1.6 0 1.5 0 1.5 0.5 1.6 0.5 1.5 0 1.6 0.5 1.5 0 1.6 0.5 1.5 0.5 1.5 1.5 1.6 1 1.5 0 1.6 0 1.5 1 1.6 1 1.5 0.5 1.5-0.5 1.6-0.5 1.5 0.5 1.6 2 1.5 0.5 1.6-0.5 1.5 0 1.5 0 1.6 0 1.5-0.5 1.6 0.5 1.5 0.5 1.6 0.5 1.5 1 1.5 0.5 1.6 0 1.5-1 1.6 0 1.5 1.5 1.5 1 1.6 0.5 1.5-0.5 1.6-0.5 1.5 0 1.6 1 1.5 1.5 1.5 0.5 1.6-1 1.5-1 1.6 0.5 1.5 1.5 1.6 0.5 1.5-1 1.5-0.5 1.6 0.5 1.5 0 1.6 0.5 1.5 0.5 1.6 0.5 1.5 0 1.5 1 1.6 1 1.5 0.5 1.6 0 1.5 0 1.6 0.5 1.5 1 1.5 0.5 1.6 0 1.5 0 1.6-0.5 1.5-0.5 1.6-1 1.5 0.5 1.5 1.5 1.6 0 1.5-1 1.6 0 1.5 0.5 1.6 0 1.5 0 1.5-0.5 1.6 0.5 1.5-0.5 1.6-0.5 1.5 0.5 1.6 1 1.5 1 1.5-0.5 1.6-0.5 1.5 0 1.6 0 1.5 1 1.5 0.5 1.6 0 1.5-1.5 1.6 0 1.5 1 1.6 0 1.5-1.5 1.5 0 1.6 0.5 1.5 0 1.6 0 1.5 0.5 1.6 1 1.5 0.5 1.5-1 1.6 0 1.5 0 1.6 0 1.5-0.5 1.6 0.5 1.5 1 1.5 0.5 1.6 0.5 1.5 0 1.6-0.5" stroke="#8abd71"/><path d="M364.3 524l1.5-3 1.6-5 1.5-1 1.6-24.5 1.5-22 1.6-25.5 1.5-31 1.5-24.5 1.6 6 1.5 3 1.6 5 1.5 4.5 1.6 3 1.5 1.5 1.5 3.5 1.6 5.5 1.5 4.5 1.6 2 1.5 1.5 1.6 1.5 1.5 2 1.5 4 1.6 3.5 1.5 1 1.6 1 1.5 0.5 1.6 1 1.5 1.5 1.5 1 1.6 1.5 1.5 2.5 1.6 0 1.5 0.5 1.5 2.5 1.6 2.5 1.5 2 1.6 1 1.5 0.5 1.6 0 1.5 0.5 1.5 1 1.6 1 1.5 0 1.6 0.5 1.5 0.5 1.6 0.5 1.5 1.5 1.5 0 1.6 0.5 1.5 1.5 1.6 1 1.5 0.5 1.6 1 1.5 0.5 1.5 1 1.6 1 1.5 1 1.6 0.5 1.5-1 1.6-0.5 1.5 0.5 1.5 1.5 1.6 1.5 1.5 1.5 1.6 0.5 1.5 0 1.6 0 1.5 0.5 1.5 1 1.6-0.5 1.5 0 1.6 0.5 1.5 1 1.6 0.5 1.5 0 1.5 0.5 1.6 0.5 1.5 0 1.6 0.5 1.5 0.5 1.6 1.5 1.5 1 1.5 0 1.6 0 1.5 0 1.6 0 1.5 0.5 1.5-0.5 1.6 0 1.5 1 1.6 1 1.5 1 1.6-0.5 1.5 0 1.5 0.5 1.6 0.5 1.5 0.5 1.6 0 1.5-1 1.6-0.5 1.5 0 1.5 0 1.6 0.5 1.5 1 1.6 0.5 1.5 1 1.6 0.5 1.5-0.5 1.5 0 1.6-0.5 1.5 0.5 1.6 1 1.5 0.5 1.6-0.5 1.5 0.5 1.5 1.5 1.6 1.5 1.5-1 1.6-1.5 1.5 0.5 1.6 1 1.5 0 1.5 0 1.6 0.5 1.5 1 1.6 0 1.5-1 1.6 0 1.5 0.5 1.5-0.5 1.6-1 1.5 0 1.6 1 1.5 0.5 1.6 0.5 1.5 0 1.5 0 1.6 0.5 1.5 1 1.6 1 1.5-0.5 1.5 0 1.6 0 1.5 0.5 1.6 0 1.5-1 1.6-1 1.5-1 1.5 0 1.6 1 1.5 0.5 1.6 0 1.5 0.5 1.6 0 1.5 0.5 1.5 0.5 1.6 0 1.5 0 1.6 0 1.5 0 1.6 1 1.5 1 1.5-0.5 1.6-1.5 1.5 0.5 1.6 0" stroke="#60937b"/><path d="M364.3 524l1.5 0 1.6-10.5 1.5-38.5 1.6-33 1.5-27 1.6-13.5 1.5 0 1.5 1 1.6 4 1.5 5.5 1.6 3.5 1.5-2 1.6-1 1.5 2.5 1.5 1.5 1.6 3.5 1.5 6 1.6 2 1.5-1.5 1.6-2 1.5-1 1.5 0.5 1.6 2.5 1.5 2.5 1.6 3 1.5 2.5 1.6 1 1.5 1 1.5 1.5 1.6 0.5 1.5 1.5 1.6 1 1.5-0.5 1.5 0 1.6 0.5 1.5 2 1.6 3 1.5 2 1.6 0 1.5 0.5 1.5 1.5 1.6 0.5 1.5-0.5 1.6 0 1.5 1.5 1.6 2.5 1.5 1.5 1.5 0.5 1.6-0.5 1.5 0 1.6 1.5 1.5 2 1.6 1 1.5 0 1.5-1 1.6-0.5 1.5 0 1.6 1 1.5 0.5 1.6 1 1.5 1.5 1.5 1.5 1.6 1.5 1.5 0 1.6-0.5 1.5 1 1.6 1 1.5 0.5 1.5-0.5 1.6-0.5 1.5 0 1.6 2.5 1.5 2 1.6 0.5 1.5-1 1.5 0.5 1.6 1 1.5 0 1.6 1 1.5 0 1.6-0.5 1.5 1 1.5 1 1.6 0.5 1.5-1 1.6-0.5 1.5 1 1.5 2 1.6 1 1.5 0.5 1.6 0 1.5-0.5 1.6-0.5 1.5 0.5 1.5 0 1.6-1 1.5 0.5 1.6 2 1.5 1 1.6-0.5 1.5-0.5 1.5-1 1.6 0.5 1.5 1.5 1.6 1 1.5 0 1.6 1 1.5 1.5 1.5 0 1.6-0.5 1.5-0.5 1.6-0.5 1.5 0.5 1.6 0.5 1.5 0.5 1.5-0.5 1.6-0.5 1.5 1 1.6 0.5 1.5-0.5 1.6-1 1.5 0 1.5 0.5 1.6 1 1.5 0.5 1.6 0 1.5 0 1.6 1 1.5 1.5 1.5 0.5 1.6-1 1.5-1 1.6 0.5 1.5 1.5 1.6 0.5 1.5-1 1.5 0 1.6 0.5 1.5 0.5 1.6 1 1.5 1 1.5 0 1.6-1.5 1.5 0 1.6 0.5 1.5 0 1.6 0.5 1.5 0 1.5-0.5 1.6-0.5 1.5 0.5 1.6 0 1.5-1.5 1.6-0.5 1.5 1 1.5 2 1.6 1.5 1.5 0.5 1.6-1 1.5-1.5 1.6-1 1.5 0.5 1.5 0.5 1.6-0.5 1.5 0 1.6 0" stroke="#f1f868"/><path d="M364.3 502l1.5 2.5 1.6 15 1.5 4.5 1.6 0 1.5-3 1.6 0.5 1.5 1.5 1.5 1 1.6-12.5 1.5-37 1.6-38 1.5-36.5 1.6-9 1.5 7.5 1.5 3 1.6 4 1.5 6 1.6 4.5 1.5 2.5 1.6 3 1.5 5 1.5 5 1.6 3 1.5 2 1.6 1 1.5 1.5 1.6 2.5 1.5 2 1.5 0.5 1.6 0.5 1.5 1.5 1.6 1.5 1.5 1 1.5 2.5 1.6 2.5 1.5 2 1.6 2.5 1.5 1.5 1.6-0.5 1.5-0.5 1.5 0 1.6 0.5 1.5 2 1.6 1 1.5-0.5 1.6-0.5 1.5 1.5 1.5 2 1.6 1.5 1.5 1.5 1.6 1.5 1.5 0 1.6 0.5 1.5 0 1.5 0.5 1.6 0.5 1.5 1 1.6 2 1.5 2 1.6 1 1.5 0 1.5-1.5 1.6-1 1.5-0.5 1.6 1.5 1.5 1 1.6 0 1.5 0.5 1.5 0.5 1.6 1 1.5 0.5 1.6 0.5 1.5 1 1.6 0.5 1.5 1 1.5 0 1.6 0 1.5 0 1.6 1 1.5 1.5 1.6 0 1.5-0.5 1.5 0.5 1.6 1 1.5 0.5 1.6-0.5 1.5 0 1.5 1 1.6 0 1.5 0 1.6 1 1.5 1 1.6 0.5 1.5-0.5 1.5-0.5 1.6 0 1.5 1.5 1.6 1.5 1.5 0 1.6 0 1.5 0 1.5 0.5 1.6-0.5 1.5 0 1.6 0 1.5 0 1.6 0 1.5 0.5 1.5 0 1.6 0 1.5-1 1.6-0.5 1.5 0.5 1.6 0.5 1.5-0.5 1.5 0 1.6 0.5 1.5 1 1.6 1 1.5 0 1.6 0.5 1.5 0 1.5-0.5 1.6 0 1.5 1 1.6 1 1.5-1 1.6-1.5 1.5 0.5 1.5 1.5 1.6 0.5 1.5-0.5 1.6-0.5 1.5 0.5 1.6 0.5 1.5-0.5 1.5-0.5 1.6-1 1.5 0 1.6 0.5 1.5 0.5 1.5 0.5 1.6 0.5 1.5 0 1.6 0 1.5 0.5 1.6-0.5 1.5 0 1.5 0.5 1.6-0.5 1.5-1 1.6 0.5 1.5 1.5 1.6 1 1.5-0.5 1.5 0 1.6 0 1.5-0.5 1.6 1 1.5 0.5 1.6 0 1.5-0.5 1.5 0 1.6-0.5 1.5 0.5 1.6 0" stroke="#acd86c"/><path d="M364.3 524l1.5-14 1.6-33 1.5-25.5 1.6-18.5 1.5-18 1.6-4 1.5-2 1.5 0 1.6-0.5 1.5-3 1.6-0.5 1.5 5.5 1.6 7 1.5 4.5 1.5 0.5 1.6 1.5 1.5 0 1.6-2 1.5-0.5 1.6 2.5 1.5 2.5 1.5 4 1.6 5 1.5 3 1.6 1 1.5-1.5 1.6-0.5 1.5 1 1.5 2 1.6 2.5 1.5 1 1.6 0 1.5 1.5 1.5 2.5 1.6 1 1.5 0.5 1.6 0.5 1.5 1 1.6 1.5 1.5 1.5 1.5 0.5 1.6-0.5 1.5 0.5 1.6 1 1.5 1.5 1.6 1.5 1.5 1 1.5 1 1.6-0.5 1.5 0 1.6 2 1.5 0.5 1.6 0 1.5 1 1.5 1.5 1.6 0 1.5 0.5 1.6 1 1.5 1 1.6 1.5 1.5 1 1.5 1 1.6 0.5 1.5 0.5 1.6 0.5 1.5 0 1.6 1 1.5-0.5 1.5 0.5 1.6 1.5 1.5 1.5 1.6 1 1.5 1 1.6 0 1.5 0 1.5 0 1.6-0.5 1.5 0 1.6 0.5 1.5 0.5 1.6 1 1.5 0.5 1.5 0.5 1.6 0.5 1.5-0.5 1.6 0 1.5 0.5 1.5 1.5 1.6 0.5 1.5 0 1.6 1 1.5 1 1.6-0.5 1.5 0 1.5 0 1.6 0.5 1.5 0.5 1.6-0.5 1.5-0.5 1.6 0.5 1.5 1 1.5 1 1.6 0 1.5 0.5 1.6 0 1.5 0 1.6 0 1.5 0.5 1.5 0.5 1.6 0.5 1.5 0 1.6 0 1.5 1 1.6 0.5 1.5 0 1.5 0.5 1.6 0.5 1.5 0.5 1.6 0 1.5-0.5 1.6 0.5 1.5 0.5 1.5-1 1.6-0.5 1.5 0 1.6-0.5 1.5-0.5 1.6 1.5 1.5 1.5 1.5-0.5 1.6-1.5 1.5 0 1.6 1 1.5 0.5 1.6 0 1.5 0.5 1.5 0.5 1.6 0 1.5 0.5 1.6 0.5 1.5 0 1.5 0 1.6 1 1.5 0.5 1.6-0.5 1.5 0 1.6 0.5 1.5 0 1.5-1 1.6-0.5 1.5 0 1.6 0 1.5 0 1.6 1.5 1.5 0 1.5-1.5 1.6-0.5 1.5 0.5 1.6 0.5 1.5 0.5 1.6 0 1.5-0.5 1.5-0.5 1.6 0 1.5 0.5 1.6 1.5" stroke="#c4e869"/><path d="M364.3 504l1.5 9 1.6 3.5 1.5-2.5 1.6-6 1.5-1.5 1.6 4 1.5 2.5 1.5-2 1.6 2 1.5 5 1.6 2.5 1.5-2 1.6-15 1.5-18.5 1.5-18 1.6-17.5 1.5-15 1.6 0 1.5-2 1.6-1.5 1.5-2 1.5-2.5 1.6 1 1.5 4 1.6 2 1.5-1 1.6-1 1.5 0 1.5-0.5 1.6 1.5 1.5 1.5 1.6-0.5 1.5-1 1.5-0.5 1.6 0 1.5-0.5 1.6 0 1.5 1 1.6 2 1.5 1.5 1.5-0.5 1.6-1 1.5 0 1.6 0.5 1.5 2 1.6 1 1.5 1.5 1.5 2 1.6 2 1.5 2 1.6 0.5 1.5 0.5 1.6 1 1.5 2 1.5 2.5 1.6 1.5 1.5 0.5 1.6 1.5 1.5 2 1.6 1 1.5 0.5 1.5 0.5 1.6 2 1.5 3 1.6 0.5 1.5-1 1.6 0 1.5 2 1.5 2 1.6 1.5 1.5 2 1.6 0.5 1.5-0.5 1.6 1 1.5 1 1.5 0.5 1.6 0.5 1.5 1 1.6 1 1.5 0.5 1.6 1 1.5 0.5 1.5 1 1.6 0.5 1.5 0.5 1.6 0.5 1.5 0.5 1.5-1 1.6 0 1.5 1 1.6 1 1.5 0 1.6-0.5 1.5 0.5 1.5 1.5 1.6 0.5 1.5-0.5 1.6 0 1.5-0.5 1.6-0.5 1.5 0.5 1.5 1.5 1.6 1 1.5 0 1.6-0.5 1.5-0.5 1.6 1 1.5 1 1.5 1.5 1.6 0 1.5-0.5 1.6 0 1.5 0.5 1.6 1 1.5 0.5 1.5 1 1.6 0.5 1.5 0 1.6-1 1.5-0.5 1.6 0.5 1.5 1 1.5-0.5 1.6-0.5 1.5-0.5 1.6 0 1.5 0.5 1.6 1 1.5 0 1.5 0.5 1.6 0.5 1.5 1 1.6 0.5 1.5-0.5 1.6-1 1.5-0.5 1.5 0 1.6-0.5 1.5 0 1.6 2 1.5 1.5 1.5 0 1.6-1 1.5-0.5 1.6 0 1.5 0 1.6 0 1.5 0.5 1.5 0 1.6-1 1.5 0.5 1.6 2 1.5 1 1.6-0.5 1.5-1 1.5-1 1.6 0 1.5 0 1.6 0.5 1.5 0 1.6-0.5 1.5-0.5 1.5 0.5 1.6 1.5 1.5-0.5 1.6-2" stroke="#c9ea69"/><path d="M364.3 508l1.5-4 1.6-3 1.5 3 1.6 5 1.5 1 1.6-2.5 1.5-27 1.5-31.5 1.6-34 1.5-13 1.6 4.5 1.5 4 1.6 3.5 1.5 4.5 1.5 4.5 1.6 2.5 1.5 1.5 1.6 0.5 1.5 0.5 1.6 0.5 1.5 2 1.5 3 1.6 3.5 1.5 3 1.6 2 1.5-0.5 1.6 0 1.5 0.5 1.5 1 1.6 3 1.5 3.5 1.6 3 1.5 1 1.5 0 1.6 0 1.5 2 1.6 1.5 1.5 1 1.6 0 1.5 0 1.5 0 1.6 1 1.5 2.5 1.6 1.5 1.5 0 1.6 1.5 1.5 1 1.5 0 1.6 0 1.5 1 1.6 1 1.5 1 1.6 0.5 1.5-1 1.5-0.5 1.6 1 1.5 2 1.6 1 1.5 0.5 1.6 0.5 1.5 0 1.5 0 1.6-0.5 1.5 0 1.6 0.5 1.5 0.5 1.6 1 1.5 1 1.5-0.5 1.6 0.5 1.5 1 1.6 1.5 1.5 0.5 1.6-1 1.5-0.5 1.5 1 1.6 1.5 1.5 0.5 1.6 0.5 1.5 0.5 1.6 0.5 1.5 0.5 1.5 0.5 1.6-0.5 1.5 0 1.6 0 1.5 0.5 1.5 1.5 1.6 0.5 1.5 0 1.6 0 1.5 0 1.6 0.5 1.5-0.5 1.5-0.5 1.6 0 1.5 1 1.6 1.5 1.5 0.5 1.6-1 1.5-1 1.5 1 1.6 1 1.5 0.5 1.6-0.5 1.5 0 1.6 0.5 1.5 0 1.5 0.5 1.6 1 1.5 0 1.6-0.5 1.5 0 1.6 1.5 1.5 1 1.5-0.5 1.6-1 1.5 0 1.6 0 1.5 0 1.6 0 1.5 0.5 1.5 1 1.6 0.5 1.5 0 1.6-0.5 1.5-0.5 1.6 0 1.5-0.5 1.5 0 1.6 1 1.5 0.5 1.6 0.5 1.5 0 1.6 0.5 1.5 0.5 1.5-0.5 1.6 0 1.5 0.5 1.6 0 1.5-0.5 1.5 0.5 1.6 1.5 1.5 1 1.6-0.5 1.5-1.5 1.6-1 1.5-0.5 1.5 0.5 1.6 0 1.5 0.5 1.6 0.5 1.5 0.5 1.6 0 1.5-0.5 1.5 0 1.6 0.5 1.5-0.5 1.6-0.5 1.5 0 1.6 0 1.5 1 1.5 1 1.6 0 1.5-1 1.6-1" stroke="#689c7a"/><path d="M364.3 522l1.5 2 1.6 0 1.5-3 1.6-7 1.5-1 1.6 1 1.5-43.5 1.5-56 1.6-3 1.5 3 1.6 1 1.5 2 1.6 6 1.5 5.5 1.5 1 1.6-1.5 1.5 1 1.6 4 1.5 4 1.6 2.5 1.5 0.5 1.5 2.5 1.6 3.5 1.5 2 1.6-2 1.5-2 1.6 1.5 1.5 4 1.5 3.5 1.6 1.5 1.5 0.5 1.6 1 1.5 1.5 1.5 1.5 1.6 2 1.5 0 1.6-0.5 1.5 0.5 1.6 1.5 1.5 2 1.5 2 1.6 1.5 1.5 0 1.6 1 1.5 1.5 1.6 1 1.5 0.5 1.5 0 1.6-0.5 1.5 0.5 1.6 1.5 1.5 0 1.6 0 1.5 0.5 1.5 1.5 1.6 1.5 1.5 0.5 1.6 0 1.5-0.5 1.6 0.5 1.5 1.5 1.5 1 1.6-0.5 1.5 0 1.6 0.5 1.5 1.5 1.6 0 1.5 1 1.5 1 1.6 0 1.5 0 1.6 1.5 1.5 1 1.6 0.5 1.5 0 1.5 0.5 1.6 0 1.5 0.5 1.6 0.5 1.5-0.5 1.6-1 1.5 1 1.5 1 1.6 0 1.5 0.5 1.6 0.5 1.5 0 1.5 0 1.6 0 1.5 0 1.6 0 1.5 0 1.6 0.5 1.5 1 1.5 1 1.6 0 1.5 0 1.6-0.5 1.5 0.5 1.6 1.5 1.5 1.5 1.5 0 1.6-0.5 1.5-0.5 1.6 0 1.5 0 1.6 0 1.5 0.5 1.5 1 1.6 0 1.5-1 1.6 0.5 1.5 1 1.6 0 1.5-0.5 1.5 0.5 1.6 0.5 1.5 0.5 1.6 0 1.5-0.5 1.6 0 1.5 0.5 1.5 0 1.6 0.5 1.5 1.5 1.6-0.5 1.5-2 1.6-0.5 1.5 0.5 1.5 1 1.6 0.5 1.5 1 1.6 0.5 1.5 0 1.6-0.5 1.5-0.5 1.5 0 1.6 0.5 1.5 1 1.6 0 1.5-0.5 1.5-1 1.6-0.5 1.5-0.5 1.6 0 1.5 0 1.6 0 1.5-0.5 1.5 2 1.6 1.5 1.5-0.5 1.6-1 1.5 0 1.6 0 1.5 0.5 1.5 1.5 1.6 1 1.5-0.5 1.6-1 1.5-1 1.6 0 1.5 1 1.5 0 1.6 0 1.5 0.5 1.6 0" stroke="#5f937b"/><path d="M364.3 518.5l1.5-8.5 1.6-28.5 1.5-26.5 1.6-26 1.5-9 1.6-1 1.5 1.5 1.5-2.5 1.6-2.5 1.5 1 1.6 0 1.5-1.5 1.6 0.5 1.5 5 1.5 7.5 1.6 4 1.5-0.5 1.6-2 1.5-1 1.6 2.5 1.5 4 1.5 2.5 1.6 0 1.5-2 1.6 0.5 1.5 1.5 1.6 0.5 1.5 1 1.5 3 1.6 2 1.5 1 1.6 1.5 1.5 1 1.5-0.5 1.6 1.5 1.5 1.5 1.6 0.5 1.5 0.5 1.6 1.5 1.5 1 1.5 0.5 1.6 0 1.5 0.5 1.6 2 1.5 1 1.6 0.5 1.5 0.5 1.5 1.5 1.6 1 1.5 1.5 1.6 2 1.5 0 1.6 0 1.5 0.5 1.5 1.5 1.6 1 1.5 0 1.6 0 1.5 0 1.6 1 1.5 2 1.5 2 1.6 0.5 1.5-0.5 1.6 0 1.5 0 1.6 0.5 1.5 1 1.5 0 1.6 0.5 1.5 1 1.6 2 1.5 0.5 1.6-0.5 1.5-0.5 1.5 0 1.6-0.5 1.5 0.5 1.6 1 1.5 1.5 1.6 0.5 1.5 0.5 1.5 2 1.6 2.5 1.5 0 1.6-1 1.5 0.5 1.5 0.5 1.6 0.5 1.5 0 1.6 0 1.5-0.5 1.6 0.5 1.5 0 1.5 0 1.6 0 1.5-1 1.6 0 1.5 0.5 1.6 1 1.5 0.5 1.5 1 1.6 1 1.5 1 1.6 0 1.5 0 1.6 0 1.5 0 1.5 0 1.6 0 1.5 0 1.6 0 1.5-0.5 1.6 1 1.5 1 1.5 0.5 1.6-1.5 1.5-0.5 1.6 1 1.5 0.5 1.6 0.5 1.5 0.5 1.5 0 1.6 0.5 1.5 0.5 1.6 1 1.5 0.5 1.6 0.5 1.5 1 1.5 0 1.6-0.5 1.5-0.5 1.6 0.5 1.5 0.5 1.6-1 1.5-1 1.5 0 1.6 0 1.5 0.5 1.6 0.5 1.5 0.5 1.5-0.5 1.6 1 1.5 1 1.6 0 1.5-0.5 1.6-0.5 1.5-0.5 1.5 0 1.6 1 1.5 0.5 1.6 0 1.5 0.5 1.6 0 1.5-1.5 1.5-0.5 1.6 1 1.5 0.5 1.6-0.5 1.5 0.5 1.6 0.5 1.5-0.5 1.5-0.5 1.6-0.5 1.5 0.5 1.6 1.5" stroke="#9acb6e"/><path d="M364.3 522l1.5-0.5 1.6-5 1.5-21.5 1.6-31 1.5-26 1.6-26 1.5-29.5 1.5 5 1.6 11 1.5 7 1.6-0.5 1.5 3 1.6 8 1.5 6 1.5 4 1.6 3.5 1.5 3.5 1.6 2 1.5 1.5 1.6 2 1.5 3 1.5 4 1.6 2.5 1.5 1.5 1.6 2.5 1.5 2.5 1.6 1.5 1.5 1 1.5 0 1.6 1 1.5 2.5 1.6 3 1.5 2 1.5 3 1.6 2.5 1.5 0.5 1.6 0.5 1.5-0.5 1.6-1 1.5 1.5 1.5 2 1.6 2 1.5 1.5 1.6 0.5 1.5 0 1.6 0.5 1.5 0 1.5 0.5 1.6 1.5 1.5 1.5 1.6 1 1.5 0.5 1.6 0 1.5-0.5 1.5 0 1.6 0.5 1.5 1 1.6 1 1.5 0.5 1.6 0.5 1.5 1 1.5 1 1.6 0.5 1.5-0.5 1.6 0 1.5 0 1.6 0 1.5 0.5 1.5 0.5 1.6 1 1.5 1.5 1.6-0.5 1.5 0.5 1.6 0.5 1.5 0 1.5-0.5 1.6 0.5 1.5 1 1.6 0.5 1.5 1 1.6 1 1.5 0.5 1.5-1 1.6-1 1.5 0 1.6 1 1.5 0.5 1.5 0.5 1.6 1 1.5 0 1.6-1 1.5 0 1.6 0.5 1.5 0.5 1.5 0 1.6-1 1.5-1 1.6 0.5 1.5 1 1.6-0.5 1.5-1 1.5 1 1.6 2 1.5 0.5 1.6 0.5 1.5 0 1.6 0.5 1.5 0.5 1.5 0.5 1.6-0.5 1.5-0.5 1.6-0.5 1.5 0.5 1.6 0.5 1.5 0 1.5 0.5 1.6 0.5 1.5 0 1.6 0 1.5 0.5 1.6 1 1.5 0 1.5-0.5 1.6-0.5 1.5 0 1.6 0 1.5 0.5 1.6 0 1.5-0.5 1.5 0.5 1.6 0.5 1.5 0.5 1.6-0.5 1.5-1 1.6-0.5 1.5 0 1.5 0.5 1.6 0.5 1.5 0.5 1.6 0 1.5-0.5 1.5 0 1.6 0.5 1.5 1 1.6-0.5 1.5-0.5 1.6 1 1.5 1 1.5 0.5 1.6 0 1.5-0.5 1.6-1 1.5 0.5 1.6 0 1.5-0.5 1.5-1 1.6-0.5 1.5 0.5 1.6 0.5 1.5 0.5 1.6 0.5 1.5 0 1.5 0 1.6 0 1.5-0.5 1.6 0" stroke="#315e9c"/><path d="M364.3 520l1.5-8 1.6-9 1.5-1 1.6 5 1.5 3.5 1.6-0.5 1.5-13.5 1.5-14 1.6-15.5 1.5-20.5 1.6-25 1.5-8.5 1.6 6 1.5 4 1.5 0.5 1.6 3.5 1.5 4.5 1.6 0.5 1.5-0.5 1.6 3 1.5 4.5 1.5 1 1.6 0.5 1.5 3.5 1.6 4 1.5 1.5 1.6 2.5 1.5 1 1.5 0 1.6 2 1.5 3.5 1.6 2.5 1.5 0 1.5 0.5 1.6 1.5 1.5 2 1.6 0.5 1.5-2.5 1.6-1.5 1.5 0.5 1.5 1.5 1.6 2 1.5 2.5 1.6 2.5 1.5 1.5 1.6 0.5 1.5-0.5 1.5-0.5 1.6-1 1.5 0.5 1.6 2 1.5 1.5 1.6 1 1.5 0.5 1.5 1 1.6 0.5 1.5 0.5 1.6 1 1.5 0.5 1.6 1 1.5 0.5 1.5 1 1.6 0.5 1.5-0.5 1.6 0 1.5 0.5 1.6 1 1.5 0 1.5 1 1.6 0.5 1.5-0.5 1.6 0 1.5 1 1.6-0.5 1.5 1 1.5 0.5 1.6 0.5 1.5 0.5 1.6 2 1.5 0.5 1.6-1 1.5-0.5 1.5 0.5 1.6 1 1.5 1 1.6 0.5 1.5 0 1.5-1 1.6 0.5 1.5 1 1.6 0.5 1.5 1 1.6 1 1.5 0.5 1.5 0 1.6-0.5 1.5-0.5 1.6-0.5 1.5-1 1.6 0.5 1.5 1 1.5 1.5 1.6 0 1.5 0 1.6 0 1.5-1 1.6 0 1.5 0.5 1.5 0.5 1.6 0.5 1.5 0 1.6 0 1.5-0.5 1.6 0 1.5-0.5 1.5 0.5 1.6 1 1.5 0 1.6 0 1.5 1 1.6 0.5 1.5-0.5 1.5-1.5 1.6 0.5 1.5 1.5 1.6 1.5 1.5 0 1.6-0.5 1.5 0 1.5-1 1.6 0 1.5 1 1.6 0.5 1.5-0.5 1.6 1 1.5 0.5 1.5 0.5 1.6 0 1.5-1.5 1.6-0.5 1.5-0.5 1.5 1 1.6 1.5 1.5 0 1.6-0.5 1.5-0.5 1.6 0 1.5 0.5 1.5 0 1.6 0 1.5 0 1.6 0.5 1.5 1 1.6 0 1.5-1 1.5-0.5 1.6-0.5 1.5 0 1.6 1 1.5 0 1.6-0.5 1.5 0 1.5 0 1.6 0 1.5 0 1.6 0" stroke="#2448a6"/><path d="M364.3 522.5l1.5-0.5 1.6 0.5 1.5-3.5 1.6-3.5 1.5 1.5 1.6-0.5 1.5-1 1.5 0 1.6-11 1.5-17 1.6-12 1.5-18 1.6-22.5 1.5-15 1.5 9.5 1.6 6.5 1.5 5 1.6 5 1.5 4.5 1.6 5 1.5 4.5 1.5 3 1.6 0 1.5-1 1.6 1 1.5 4 1.6 2 1.5 0 1.5 1 1.6 3 1.5 3 1.6 0.5 1.5-0.5 1.5 0.5 1.6 1.5 1.5 0 1.6 0.5 1.5 0.5 1.6-0.5 1.5 0 1.5 0.5 1.6 0 1.5 0.5 1.6 1 1.5 0.5 1.6 1 1.5 1 1.5 0.5 1.6 0.5 1.5 0.5 1.6 0.5 1.5 0 1.6 0 1.5 0.5 1.5 0 1.6-0.5 1.5 0.5 1.6 1.5 1.5 1.5 1.6 1 1.5 0.5 1.5 0 1.6 0.5 1.5 0 1.6-0.5 1.5 0 1.6-0.5 1.5-0.5 1.5 1 1.6 0.5 1.5-0.5 1.6 0 1.5 1 1.6 0.5 1.5 1 1.5 0 1.6 0 1.5 0 1.6 0 1.5 1 1.6 0 1.5 0 1.5 0 1.6 0.5 1.5 0 1.6 0 1.5 1 1.5 1 1.6-0.5 1.5 0.5 1.6 0.5 1.5 0.5 1.6 0.5 1.5 0.5 1.5 0.5 1.6 0 1.5-1.5 1.6-1 1.5 0.5 1.6 0.5 1.5 0.5 1.5 0 1.6 0.5 1.5 1 1.6-0.5 1.5-0.5 1.6 0 1.5 0 1.5 0 1.6 0 1.5 0.5 1.6 0 1.5-0.5 1.6 0.5 1.5 0.5 1.5 0.5 1.6-0.5 1.5-1 1.6 0 1.5 0.5 1.6 0.5 1.5 0.5 1.5 1 1.6 0 1.5-0.5 1.6 0 1.5 0 1.6 1 1.5 0.5 1.5-0.5 1.6-1 1.5 0 1.6 0.5 1.5 0.5 1.6 0 1.5-1 1.5-0.5 1.6 0.5 1.5 0.5 1.6 0 1.5 0 1.5 0.5 1.6 1.5 1.5 0 1.6 0 1.5-0.5 1.6-1 1.5-0.5 1.5 0.5 1.6 1 1.5 0.5 1.6 0 1.5-1 1.6-1 1.5-0.5 1.5 1 1.6 0 1.5-0.5 1.6-1 1.5 0.5 1.6 1.5 1.5 0.5 1.5-1 1.6 0.5 1.5 0 1.6-0.5" stroke="#2347a6"/><path d="M364.3 507l1.5 0 1.6 6 1.5 7 1.6 0 1.5-9.5 1.6-10 1.5-0.5 1.5 7 1.6 4.5 1.5-52 1.6-56.5 1.5-0.5 1.6 4 1.5 2 1.5 1.5 1.6 1.5 1.5-1 1.6-1.5 1.5 2.5 1.6 8.5 1.5 6 1.5 1 1.6-0.5 1.5 1 1.6 0.5 1.5 2 1.6 2.5 1.5 0.5 1.5 1 1.6 2 1.5 1 1.6 0.5 1.5 1.5 1.5 2 1.6 1 1.5 0 1.6 0.5 1.5 1 1.6 1 1.5 2 1.5 2.5 1.6 1 1.5 0 1.6 0 1.5 1.5 1.6 2 1.5 0.5 1.5-0.5 1.6 0.5 1.5 1.5 1.6 1 1.5 0.5 1.6 1 1.5-0.5 1.5-1 1.6 0.5 1.5 2.5 1.6 2 1.5 1.5 1.6 1 1.5 0 1.5 0 1.6 0 1.5-0.5 1.6 0.5 1.5 1 1.6 0.5 1.5 0.5 1.5-0.5 1.6-0.5 1.5 0.5 1.6 1 1.5 1.5 1.6 2.5 1.5 1.5 1.5 0.5 1.6-0.5 1.5-1.5 1.6 0.5 1.5 0.5 1.6 0.5 1.5 1 1.5 1.5 1.6 0.5 1.5-1 1.6 0 1.5 0.5 1.5 0.5 1.6 1 1.5 1 1.6 2 1.5-0.5 1.6-1.5 1.5 0.5 1.5 1 1.6 0.5 1.5 0.5 1.6 0.5 1.5 0 1.6 0 1.5 1 1.5 0.5 1.6-1 1.5-1 1.6 0.5 1.5-0.5 1.6 0 1.5 1 1.5 1 1.6 0.5 1.5 0 1.6 0.5 1.5 0.5 1.6 0.5 1.5 0.5 1.5-1 1.6-0.5 1.5-0.5 1.6 1 1.5 1 1.6 0 1.5 0.5 1.5 1 1.6 0 1.5 0 1.6 1 1.5 1 1.6 0 1.5 0 1.5 0 1.6-0.5 1.5-1 1.6 0 1.5 0 1.6 0.5 1.5 0 1.5 0 1.6 0 1.5 1 1.6 0 1.5 0.5 1.5 0 1.6-0.5 1.5-0.5 1.6 0.5 1.5 0.5 1.6 1 1.5 0.5 1.5 0.5 1.6-0.5 1.5-0.5 1.6 0 1.5 0 1.6-1 1.5-0.5 1.5 0.5 1.6 2 1.5 1 1.6-0.5 1.5-1 1.6-0.5 1.5 0.5 1.5 0.5 1.6 0.5 1.5 0 1.6 0" stroke="#bbe26a"/><path d="M364.3 524l1.5 0 1.6 0 1.5 0 1.6-4 1.5-4.5 1.6-0.5 1.5 5 1.5 2.5 1.6 1 1.5-21.5 1.6-25.5 1.5-29 1.6-24.5 1.5-5.5 1.5-1.5 1.6 2 1.5 4.5 1.6-1.5 1.5-3.5 1.6 1.5 1.5 3 1.5 2.5 1.6 1.5 1.5-0.5 1.6 0.5 1.5 2 1.6 2.5 1.5 0.5 1.5 1 1.6 2 1.5 1 1.6 1.5 1.5 1.5 1.5 0.5 1.6 0.5 1.5 1.5 1.6 1 1.5 0.5 1.6 1 1.5-0.5 1.5 0 1.6 1 1.5 1 1.6 1.5 1.5 1 1.6 0 1.5 0 1.5 0.5 1.6 2 1.5 1 1.6 1.5 1.5 1.5 1.6 1 1.5 0 1.5 0.5 1.6 0.5 1.5 0.5 1.6 1 1.5 0 1.6 0.5 1.5 1 1.5 1.5 1.6 1.5 1.5 1 1.6 0 1.5 0 1.6 0.5 1.5 0.5 1.5 0 1.6-0.5 1.5 0.5 1.6 1.5 1.5 1.5 1.6 1.5 1.5 1 1.5 1 1.6-0.5 1.5 0 1.6 0.5 1.5 0.5 1.6 0 1.5 0 1.5-0.5 1.6 1.5 1.5 1.5 1.6 1 1.5 0.5 1.5 0 1.6 0 1.5-0.5 1.6 0.5 1.5 0.5 1.6 0.5 1.5 0.5 1.5 0 1.6 1 1.5 2 1.6 1 1.5 0 1.6 0 1.5 0 1.5-0.5 1.6-1 1.5-0.5 1.6 1 1.5 1 1.6 0.5 1.5 0.5 1.5 0.5 1.6 0.5 1.5 0.5 1.6 0 1.5 0.5 1.6 0 1.5-1 1.5-0.5 1.6 0 1.5 1.5 1.6 0.5 1.5-0.5 1.6 0 1.5 0.5 1.5 0.5 1.6 0.5 1.5 0 1.6 0 1.5 0.5 1.6-0.5 1.5-1 1.5 0 1.6 1 1.5 0.5 1.6 1 1.5 0.5 1.6 0 1.5-0.5 1.5-0.5 1.6 0 1.5 1 1.6 1 1.5 0 1.5-0.5 1.6 0 1.5 0.5 1.6 0.5 1.5-0.5 1.6 0.5 1.5 1 1.5 0.5 1.6-0.5 1.5-0.5 1.6 0 1.5 0.5 1.6 0 1.5 0 1.5 1 1.6 1.5 1.5-0.5 1.6-1.5 1.5-0.5 1.6 0.5 1.5 1 1.5 1 1.6-0.5 1.5-1.5 1.6 0" stroke="#f3f968"/><path d="M364.3 510l1.5-34 1.6-32.5 1.5-31.5 1.6-9 1.5 9.5 1.6 7.5 1.5 0.5 1.5-2.5 1.6 3.5 1.5 7.5 1.6 4.5 1.5 2.5 1.6 2.5 1.5 3.5 1.5 4.5 1.6 2 1.5 1.5 1.6 0.5 1.5 1.5 1.6 2.5 1.5 1.5 1.5 2 1.6 2.5 1.5 3.5 1.6 3.5 1.5 2 1.6-1.5 1.5-1.5 1.5 0 1.6 0.5 1.5 2 1.6 1.5 1.5 0.5 1.5 0 1.6 1 1.5 1 1.6 0.5 1.5 1 1.6 1 1.5 2 1.5 1 1.6 0.5 1.5 0.5 1.6-0.5 1.5 0.5 1.6 1 1.5 0 1.5-0.5 1.6 0.5 1.5 1.5 1.6 1 1.5 0.5 1.6 0 1.5 0.5 1.5 1 1.6 1 1.5 1 1.6 0.5 1.5-0.5 1.6-0.5 1.5-1 1.5 0.5 1.6 1.5 1.5 0.5 1.6 0.5 1.5 0 1.6-0.5 1.5 0 1.5 1 1.6 1 1.5 0.5 1.6 0 1.5 0 1.6 1 1.5 0.5 1.5-0.5 1.6 0 1.5 0.5 1.6-0.5 1.5-0.5 1.6 0.5 1.5 1 1.5 0.5 1.6 0.5 1.5-0.5 1.6-0.5 1.5 0 1.5 0.5 1.6 1.5 1.5 2 1.6 0.5 1.5-1 1.6-1 1.5-0.5 1.5 0.5 1.6 0 1.5 0 1.6 0.5 1.5 0.5 1.6 0 1.5-1 1.5 0 1.6 0.5 1.5 0.5 1.6 0 1.5 0 1.6-1 1.5 0 1.5 1 1.6 1.5 1.5 1 1.6-0.5 1.5 0 1.6 0 1.5 0.5 1.5 0 1.6-0.5 1.5 0 1.6 0.5 1.5 0 1.6 0.5 1.5 0 1.5 0 1.6 0 1.5 0.5 1.6 0.5 1.5-0.5 1.6 0 1.5 0 1.5 0 1.6 0 1.5-0.5 1.6 0 1.5 0.5 1.6 0.5 1.5 1 1.5 1 1.6-0.5 1.5-1 1.6-1.5 1.5 0 1.5 0.5 1.6 1 1.5 0 1.6-0.5 1.5-0.5 1.6 0.5 1.5-0.5 1.5 0 1.6 1 1.5 1 1.6 0 1.5-0.5 1.6-1.5 1.5-0.5 1.5 0.5 1.6 1 1.5 1 1.6 1 1.5-0.5 1.6-1 1.5-0.5 1.5 0.5 1.6 0 1.5 0 1.6 0.5" stroke="#325f9b"/><path d="M364.3 497.5l1.5-37 1.6-32 1.5 5 1.6 6.5 1.5 0.5 1.6-5.5 1.5-6.5 1.5-4.5 1.6 2.5 1.5 7 1.6 5 1.5-1.5 1.6-0.5 1.5 2.5 1.5 0 1.6-0.5 1.5 3 1.6 2.5 1.5 0.5 1.6 0 1.5-1.5 1.5-1 1.6 2 1.5 4 1.6 3 1.5 0 1.6 0 1.5 1.5 1.5 4 1.6 1.5 1.5 0.5 1.6 1 1.5-1 1.5-1 1.6 0.5 1.5 2 1.6 1.5 1.5-0.5 1.6 0 1.5-0.5 1.5 0 1.6 1.5 1.5 2.5 1.6 1.5 1.5 0 1.6-0.5 1.5 0 1.5 0.5 1.6 1 1.5 1.5 1.6 1 1.5 0.5 1.6 0 1.5 0 1.5 1.5 1.6 1.5 1.5 1.5 1.6 1 1.5-0.5 1.6-0.5 1.5 0 1.5 0 1.6-0.5 1.5 0.5 1.6 1 1.5 1.5 1.6 1 1.5 1 1.5 0.5 1.6 0 1.5 0 1.6 0.5 1.5 0.5 1.6 1.5 1.5 0.5 1.5 0 1.6-0.5 1.5 0.5 1.6 1 1.5 0 1.6-0.5 1.5 0 1.5 0 1.6 0.5 1.5 0 1.6 0 1.5 0.5 1.5 0 1.6 0.5 1.5 1 1.6 1 1.5 0.5 1.6 0.5 1.5 0 1.5 0.5 1.6 0.5 1.5 0 1.6 0.5 1.5 0 1.6 0.5 1.5 0 1.5 0.5 1.6-0.5 1.5-0.5 1.6 0 1.5 0 1.6 0.5 1.5 0.5 1.5 0.5 1.6 0 1.5-0.5 1.6 0.5 1.5 0.5 1.6 0 1.5-0.5 1.5 0 1.6 0.5 1.5 0.5 1.6 0.5 1.5 0.5 1.6 0.5 1.5 0 1.5 0 1.6 1.5 1.5 0.5 1.6 0.5 1.5 0.5 1.6-0.5 1.5-1 1.5 0 1.6 0.5 1.5-0.5 1.6-0.5 1.5 0 1.6 1 1.5 0.5 1.5-0.5 1.6-0.5 1.5 1 1.6 1 1.5-0.5 1.5-1 1.6 0 1.5 0.5 1.6 0 1.5 0.5 1.6 0 1.5 0 1.5 0 1.6 1 1.5 0.5 1.6 0.5 1.5 0.5 1.6 0 1.5-1 1.5-1 1.6 0 1.5-0.5 1.6-1.5 1.5 0 1.6 0.5 1.5 0.5 1.5 1 1.6 1 1.5-0.5 1.6-0.5" stroke="#8bbe71"/><path d="M364.3 518.5l1.5 3.5 1.6-9 1.5-5 1.6 6.5 1.5 3.5 1.6-0.5 1.5 1 1.5 2 1.6 1.5 1.5-2.5 1.6-4 1.5-1 1.6 3 1.5 3 1.5 0.5 1.6-1 1.5-2 1.6-3 1.5-0.5 1.6 1.5 1.5 2.5 1.5-4.5 1.6-11.5 1.5-11.5 1.6-9.5 1.5-10.5 1.6-10 1.5-7.5 1.5-0.5 1.6-3 1.5-3.5 1.6-1.5 1.5 0.5 1.5 0.5 1.6-1.5 1.5-1 1.6 1.5 1.5 1.5 1.6-0.5 1.5-2 1.5-3.5 1.6-2.5 1.5-0.5 1.6 0 1.5-2 1.6-1.5 1.5 0 1.5 1.5 1.6 1.5 1.5 1.5 1.6 2.5 1.5 1.5 1.6 1.5 1.5 1 1.5 1 1.6 1 1.5 2 1.6 1.5 1.5 0.5 1.6 1 1.5 1.5 1.5 1 1.6 1.5 1.5 1 1.6 1.5 1.5 1 1.6 1.5 1.5 1.5 1.5 1.5 1.6 2 1.5 1.5 1.6 1 1.5-0.5 1.6 0 1.5 1 1.5 0.5 1.6 0 1.5 2 1.6 2 1.5 0.5 1.6 0.5 1.5 0.5 1.5 0.5 1.6 0.5 1.5 0.5 1.6 0.5 1.5 0 1.5 0 1.6 1 1.5 1.5 1.6 1.5 1.5 0 1.6-1 1.5-0.5 1.5 1 1.6 1.5 1.5 0 1.6 0 1.5 1 1.6 2 1.5 0.5 1.5 0 1.6 0.5 1.5 0 1.6-0.5 1.5-0.5 1.6 0.5 1.5 1 1.5 0 1.6 0.5 1.5 0.5 1.6 0 1.5 0 1.6 0 1.5 0.5 1.5 1.5 1.6 1 1.5 0.5 1.6 0 1.5 0.5 1.6 0.5 1.5 0.5 1.5-0.5 1.6-0.5 1.5 0.5 1.6 0.5 1.5 0 1.6 0.5 1.5-0.5 1.5-0.5 1.6 0 1.5 0.5 1.6 0.5 1.5-0.5 1.6 1 1.5 0.5 1.5-0.5 1.6-1.5 1.5 0.5 1.6 1.5 1.5 0.5 1.5 0.5 1.6 0 1.5 0.5 1.6 0 1.5 0 1.6-0.5 1.5-0.5 1.5 0.5 1.6 0.5 1.5 1 1.6 0.5 1.5-0.5 1.6-1.5 1.5-1 1.5 0 1.6 1 1.5 1.5 1.6 0 1.5 0.5 1.6-0.5 1.5-1.5 1.5-0.5 1.6 0 1.5 1.5 1.6 0" stroke="#92c46f"/><path d="M364.3 524l1.5-2.5 1.6-7 1.5-0.5 1.6 3.5 1.5 2.5 1.6 0.5 1.5 1.5 1.5-2 1.6-20.5 1.5-17 1.6-16 1.5-18 1.6-19.5 1.5-6 1.5 2.5 1.6 3 1.5 0 1.6-1 1.5 3.5 1.6 1.5 1.5-1 1.5 2.5 1.6 3.5 1.5 0 1.6 1.5 1.5 3 1.6 0 1.5 0 1.5 1 1.6 1 1.5 1 1.6 1.5 1.5 0.5 1.5 1.5 1.6 1 1.5 0 1.6 1 1.5 2 1.6 0 1.5 0.5 1.5 1 1.6 2 1.5 2 1.6 0 1.5-1 1.6-0.5 1.5 1 1.5 1.5 1.6 2 1.5 1.5 1.6 0.5 1.5 0.5 1.6 0.5 1.5 0 1.5 1.5 1.6 2 1.5 1 1.6 0 1.5 0.5 1.6 0 1.5 0.5 1.5 0 1.6 0.5 1.5 0.5 1.6 0 1.5 1 1.6 1.5 1.5 0.5 1.5 0.5 1.6-1 1.5 0.5 1.6 2 1.5 1 1.6 0 1.5-0.5 1.5-0.5 1.6 0.5 1.5 1 1.6 1 1.5 1.5 1.6 1 1.5-0.5 1.5-0.5 1.6 0.5 1.5 1 1.6 0.5 1.5 0.5 1.5 0.5 1.6 0 1.5 0.5 1.6 0.5 1.5 1 1.6 0 1.5-0.5 1.5 0 1.6 0 1.5 0.5 1.6 1.5 1.5 0 1.6-1 1.5 0 1.5 1 1.6 1 1.5 0 1.6-0.5 1.5 0 1.6 0.5 1.5 1 1.5 1.5 1.6 0.5 1.5-0.5 1.6 0 1.5-0.5 1.6-1 1.5-1 1.5 0.5 1.6 0.5 1.5 1 1.6 1 1.5 0.5 1.6-0.5 1.5-0.5 1.5 0 1.6 0 1.5 0.5 1.6 0.5 1.5 1.5 1.6 1 1.5-0.5 1.5-1 1.6-1 1.5-0.5 1.6 0.5 1.5 1 1.6 0 1.5-0.5 1.5 1 1.6 1.5 1.5 1 1.6 0 1.5-1 1.5 0 1.6 0.5 1.5 0 1.6 0.5 1.5 0 1.6-0.5 1.5-0.5 1.5 0 1.6 0.5 1.5 1 1.6 0 1.5 0 1.6 0.5 1.5 0.5 1.5-0.5 1.6-0.5 1.5 0 1.6 0.5 1.5 0.5 1.6 0.5 1.5 0 1.5-0.5 1.6-0.5 1.5 1 1.6 1" stroke="#9ece6d"/><path d="M364.3 512l1.5 2.5 1.6 5.5 1.5-0.5 1.6 3.5 1.5-30 1.6-47.5 1.5-41 1.5 3.5 1.6 7.5 1.5 5.5 1.6-1 1.5-1.5 1.6 2 1.5 6.5 1.5 8.5 1.6 3.5 1.5-1.5 1.6-1 1.5 2 1.6 1 1.5-0.5 1.5 1.5 1.6 4 1.5 1.5 1.6 0 1.5 1.5 1.6 2.5 1.5 1.5 1.5 0.5 1.6 2 1.5 2 1.6 0.5 1.5 0.5 1.5 0 1.6-0.5 1.5 1.5 1.6 3 1.5 1.5 1.6 0.5 1.5 1.5 1.5 1 1.6 0.5 1.5 0 1.6 0.5 1.5 1.5 1.6 1 1.5 0.5 1.5 0.5 1.6 1 1.5 1 1.6 0.5 1.5 0 1.6 1 1.5-0.5 1.5-0.5 1.6 1 1.5 1.5 1.6 1.5 1.5 0.5 1.6 0.5 1.5 0.5 1.5 1 1.6 0.5 1.5 0 1.6-1 1.5-0.5 1.6 0.5 1.5 1 1.5 1 1.6 1 1.5 1.5 1.6 0.5 1.5-0.5 1.6-0.5 1.5 1 1.5 1.5 1.6-0.5 1.5-0.5 1.6 0.5 1.5 1.5 1.6 1.5 1.5 0 1.5-0.5 1.6 0 1.5 0 1.6 0 1.5 0.5 1.5 1 1.6 0.5 1.5 0.5 1.6 0 1.5 0.5 1.6 0 1.5-0.5 1.5-0.5 1.6 0 1.5 1 1.6 0.5 1.5 0.5 1.6 0 1.5 0.5 1.5 0.5 1.6 0.5 1.5-0.5 1.6-0.5 1.5 0.5 1.6 1 1.5 0.5 1.5 0 1.6 0 1.5 0.5 1.6 0 1.5-0.5 1.6 0.5 1.5 0 1.5-0.5 1.6 0 1.5 0 1.6 0.5 1.5 0.5 1.6 0.5 1.5 0 1.5 0 1.6-0.5 1.5 0.5 1.6 1 1.5 0.5 1.6-0.5 1.5-0.5 1.5-0.5 1.6 0.5 1.5 0 1.6 0.5 1.5 0.5 1.6 0.5 1.5 0.5 1.5 0.5 1.6-0.5 1.5-0.5 1.6 0.5 1.5 0 1.5-0.5 1.6 0 1.5 0.5 1.6 0 1.5-0.5 1.6-0.5 1.5 0 1.5 1 1.6 2 1.5 0.5 1.6 0 1.5 0.5 1.6 0 1.5-0.5 1.5-1 1.6 0 1.5 0 1.6 0 1.5 0 1.6 1 1.5 1 1.5 0.5 1.6 0 1.5 0.5 1.6-0.5" stroke="#7bb075"/><path d="M364.3 511.5l1.5-1 1.6-25 1.5-27 1.6-35 1.5-40.5 1.6-2 1.5 15.5 1.5 13.5 1.6 9.5 1.5 8 1.6 5 1.5 0.5 1.6-1.5 1.5 3.5 1.5 7 1.6 7 1.5 1.5 1.6-1 1.5 2 1.6 5.5 1.5 5.5 1.5 2 1.6 1 1.5-0.5 1.6-1.5 1.5 1.5 1.6 0.5 1.5-0.5 1.5 0.5 1.6 3 1.5 2.5 1.6 2.5 1.5 1 1.5 1 1.6 0.5 1.5 0.5 1.6-0.5 1.5 1 1.6 1.5 1.5 0 1.5-0.5 1.6-0.5 1.5 0.5 1.6 2.5 1.5 1 1.6 0 1.5 0.5 1.5 1.5 1.6 1 1.5 1 1.6 0 1.5-0.5 1.6-0.5 1.5 0.5 1.5-0.5 1.6-0.5 1.5 0.5 1.6 1 1.5 0.5 1.6 1.5 1.5 1.5 1.5 0.5 1.6 0 1.5-0.5 1.6 0 1.5 0 1.6 0.5 1.5 0.5 1.5 0.5 1.6 1.5 1.5 1.5 1.6 0 1.5 0 1.6 0.5 1.5 0 1.5-1 1.6 0 1.5 1 1.6 0.5 1.5 0.5 1.6 0 1.5 0 1.5-0.5 1.6 0.5 1.5 0.5 1.6 0.5 1.5 0.5 1.5-1 1.6 0 1.5 0.5 1.6 1 1.5 0 1.6-1 1.5-1.5 1.5 0.5 1.6 1 1.5 0.5 1.6 0 1.5 1 1.6 1.5 1.5 0 1.5-0.5 1.6-0.5 1.5-1 1.6 0 1.5 1 1.6 1 1.5 0.5 1.5-0.5 1.6-0.5 1.5 1 1.6 1 1.5 0.5 1.6 0 1.5-1 1.5-0.5 1.6 1.5 1.5 0 1.6 0 1.5 0.5 1.6 0 1.5 0 1.5 0 1.6 0 1.5 0.5 1.6 0 1.5 0 1.6 0 1.5-0.5 1.5 0.5 1.6 0 1.5-1 1.6-0.5 1.5 1.5 1.6 1 1.5 0 1.5 0 1.6 0 1.5 0.5 1.6-0.5 1.5-1 1.5 0 1.6 0.5 1.5-0.5 1.6 0 1.5 1 1.6 1.5 1.5 0.5 1.5-0.5 1.6-1.5 1.5-0.5 1.6 0 1.5 1 1.6 0.5 1.5-0.5 1.5-1 1.6-0.5 1.5 1 1.6 0.5 1.5 0 1.6 0.5 1.5 0.5 1.5 0.5 1.6-0.5 1.5-1 1.6 0" stroke="#32609a"/><path d="M364.3 509.5l1.5 1.5 1.6-19 1.5-22.5 1.6-20.5 1.5-18 1.6-1.5 1.5 3 1.5-1 1.6-1 1.5 2.5 1.6 4 1.5 3.5 1.6 2.5 1.5 2.5 1.5 1.5 1.6 2 1.5 2.5 1.6 3 1.5 3 1.6 0.5 1.5-1.5 1.5 1 1.6 2.5 1.5 2.5 1.6 0.5 1.5-0.5 1.6 1 1.5 2 1.5 2.5 1.6 2 1.5 1 1.6-1 1.5-0.5 1.5 1 1.6 2 1.5 2 1.6 1 1.5 0 1.6 0.5 1.5 1 1.5 0 1.6 0 1.5 0.5 1.6 0 1.5 0 1.6 0 1.5 1 1.5 1.5 1.6 1 1.5 1.5 1.6 0.5 1.5 0.5 1.6-0.5 1.5-0.5 1.5 0 1.6 1.5 1.5 1 1.6 0.5 1.5 1 1.6 0.5 1.5 0.5 1.5-0.5 1.6-0.5 1.5 0.5 1.6 2 1.5 1.5 1.6-0.5 1.5-1 1.5 0.5 1.6 0 1.5-0.5 1.6-0.5 1.5 1 1.6 1 1.5 0.5 1.5-0.5 1.6 0 1.5 0.5 1.6 1.5 1.5 1 1.6 0 1.5 0 1.5 0.5 1.6 0 1.5 0.5 1.6 0.5 1.5 0.5 1.5 0 1.6 0.5 1.5 0 1.6-1 1.5-1 1.6 1 1.5 1.5 1.5 0 1.6-0.5 1.5 0 1.6 0.5 1.5 0 1.6 0.5 1.5-0.5 1.5 0.5 1.6 0.5 1.5 0.5 1.6 0 1.5 1 1.6 1 1.5-0.5 1.5-0.5 1.6-1.5 1.5-0.5 1.6 0.5 1.5 0.5 1.6 0 1.5 0 1.5-0.5 1.6 0.5 1.5 1 1.6 0.5 1.5 0 1.6 0 1.5 0.5 1.5 0.5 1.6 0 1.5 0 1.6 0 1.5-1 1.6 0 1.5 1 1.5 0 1.6-0.5 1.5-0.5 1.6 0.5 1.5 1 1.6 0.5 1.5 0.5 1.5-0.5 1.6-1 1.5-0.5 1.6 0 1.5 0 1.5 0.5 1.6 1 1.5 0 1.6-1 1.5-0.5 1.6 0 1.5 1 1.5 0.5 1.6 0.5 1.5-1 1.6 0 1.5 1 1.6 0.5 1.5-1 1.5 0 1.6 1 1.5 1.5 1.6 0 1.5 0 1.6 0 1.5-0.5 1.5-0.5 1.6-0.5 1.5 0.5 1.6-0.5" stroke="#1e3ba9"/><path d="M364.3 524l1.5 0 1.6 0 1.5-1 1.6 0 1.5-34.5 1.6-52 1.5-18.5 1.5 4 1.6 4.5 1.5 2 1.6-3 1.5-1 1.6 2 1.5 3 1.5 4 1.6 2 1.5 0 1.6 1.5 1.5 1 1.6 1 1.5 1 1.5 1 1.6 4 1.5 4.5 1.6 1 1.5-0.5 1.6-0.5 1.5 0.5 1.5 0.5 1.6 2 1.5 1.5 1.6-0.5 1.5 1 1.5 2.5 1.6 0.5 1.5-1 1.6 1.5 1.5 2 1.6 1 1.5 0.5 1.5 2.5 1.6 1 1.5-1 1.6-0.5 1.5 1.5 1.6 1.5 1.5 1 1.5 0 1.6-1 1.5-0.5 1.6 1 1.5 1.5 1.6 1 1.5-0.5 1.5 0 1.6 1.5 1.5 2.5 1.6 1.5 1.5-0.5 1.6-0.5 1.5 0 1.5 0 1.6 0 1.5 1 1.6 1 1.5 0 1.6-0.5 1.5 0 1.5 0.5 1.6 1 1.5 0.5 1.6 1 1.5 1 1.6 0 1.5 0 1.5 0 1.6 0 1.5 0 1.6 1 1.5 0.5 1.6-1 1.5 0.5 1.5 2 1.6 1.5 1.5 0 1.6-0.5 1.5-0.5 1.5 0 1.6 0 1.5 0 1.6 1.5 1.5 1 1.6 0 1.5 0.5 1.5 0 1.6 0 1.5 0.5 1.6-0.5 1.5-0.5 1.6 0 1.5 1 1.5 1 1.6 0 1.5 0 1.6 1 1.5 1 1.6-0.5 1.5 0 1.5-0.5 1.6-0.5 1.5 0 1.6 0.5 1.5 0.5 1.6 1 1.5 0 1.5 0 1.6 0.5 1.5-0.5 1.6 0 1.5 0.5 1.6 0.5 1.5 0 1.5-1 1.6-1.5 1.5-0.5 1.6 0.5 1.5 1 1.6 1 1.5 0.5 1.5 0 1.6-0.5 1.5-1 1.6 0.5 1.5 0.5 1.6-1 1.5 0.5 1.5 0.5 1.6 0.5 1.5-0.5 1.6-0.5 1.5 0 1.5 1.5 1.6 1.5 1.5 0.5 1.6-0.5 1.5-0.5 1.6-0.5 1.5-1 1.5 0 1.6 1 1.5 1.5 1.6 0 1.5 0 1.6 0.5 1.5 0.5 1.5 0 1.6-1.5 1.5 0 1.6 0.5 1.5 0 1.6 0 1.5 0.5 1.5 0 1.6-0.5 1.5 0.5 1.6 1" stroke="#8fc270"/><path d="M364.3 508l1.5 2.5 1.6 1 1.5 0.5 1.6 4.5 1.5 0.5 1.6-3.5 1.5-1.5 1.5 0.5 1.6-1.5 1.5-1.5 1.6-10 1.5-33 1.6-30.5 1.5-8 1.5 4.5 1.6 5.5 1.5 2 1.6 0.5 1.5 1.5 1.6 3.5 1.5 4 1.5 1.5 1.6-1 1.5-1.5 1.6 0.5 1.5 0.5 1.6 0 1.5 1 1.5 1.5 1.6 1 1.5 0.5 1.6 3.5 1.5 3.5 1.5 1 1.6-1 1.5 1.5 1.6 1.5 1.5 0.5 1.6 1.5 1.5 1.5 1.5 0 1.6 0 1.5 0 1.6 0 1.5 1 1.6 1.5 1.5 1 1.5 1 1.6 2.5 1.5 1 1.6 0.5 1.5 0 1.6 0 1.5 0 1.5 0.5 1.6 0.5 1.5 0.5 1.6 0.5 1.5 0.5 1.6 1.5 1.5 1 1.5-0.5 1.6 0 1.5-0.5 1.6 0 1.5 0.5 1.6 1.5 1.5-0.5 1.5 0 1.6 1 1.5 0.5 1.6 0 1.5 0.5 1.6 1.5 1.5 1 1.5 0 1.6 0 1.5 0 1.6 0 1.5 0.5 1.6 0.5 1.5-0.5 1.5-0.5 1.6 1 1.5 2 1.6 1 1.5-1 1.5-0.5 1.6 0 1.5 0.5 1.6 0.5 1.5 0.5 1.6 0 1.5 1.5 1.5 1 1.6-1 1.5-1 1.6 0.5 1.5 0.5 1.6 0.5 1.5 0 1.5 1 1.6 0 1.5 0 1.6-0.5 1.5 0 1.6 0 1.5 1 1.5 0.5 1.6-0.5 1.5 0.5 1.6 0.5 1.5 0 1.6 1 1.5 1 1.5 0 1.6-1.5 1.5-0.5 1.6-0.5 1.5 1 1.6 0 1.5 0.5 1.5 1 1.6-0.5 1.5 0 1.6 0.5 1.5 0 1.6 0 1.5 0 1.5-0.5 1.6 0 1.5 0.5 1.6 0.5 1.5-0.5 1.6 0.5 1.5 0.5 1.5 1 1.6 0.5 1.5 0.5 1.6-0.5 1.5-0.5 1.5-1 1.6 0 1.5 0 1.6 0.5 1.5 1 1.6 0.5 1.5-0.5 1.5-0.5 1.6 0 1.5 0 1.6 0 1.5-0.5 1.6 0.5 1.5 1 1.5 0.5 1.6 0 1.5-0.5 1.6-0.5 1.5 0.5 1.6 1 1.5-0.5 1.5-0.5 1.6 0.5 1.5 0.5 1.6 1.5" stroke="#487c84"/><path d="M364.3 524l1.5 0 1.6 0 1.5 0 1.6 0 1.5-3 1.6-11 1.5 2.5 1.5-17.5 1.6-22 1.5-23 1.6-27 1.5-5.5 1.6-1.5 1.5 1.5 1.5 3 1.6 1.5 1.5-0.5 1.6 0.5 1.5 5 1.6 5.5 1.5 2 1.5-1 1.6-1.5 1.5 0.5 1.6 0.5 1.5 1 1.6 0.5 1.5 0 1.5 1.5 1.6 3.5 1.5 2 1.6 1 1.5 1.5 1.5 0.5 1.6 0 1.5-1 1.6 1 1.5 2 1.6 2 1.5 2 1.5 0.5 1.6-1 1.5 0.5 1.6 2 1.5 1 1.6 1 1.5 2 1.5 1.5 1.6 0.5 1.5-0.5 1.6 0.5 1.5 1.5 1.6 0.5 1.5 0.5 1.5 1.5 1.6 0.5 1.5 0 1.6 1 1.5 2.5 1.6 2 1.5 0.5 1.5-0.5 1.6-0.5 1.5 0.5 1.6 0.5 1.5 1 1.6 0.5 1.5 0.5 1.5 1 1.6 0.5 1.5 0.5 1.6 0 1.5 0 1.6 0 1.5-0.5 1.5-0.5 1.6 1 1.5 1.5 1.6 1 1.5 1 1.6 0 1.5 0.5 1.5 1 1.6 1 1.5 0.5 1.6-0.5 1.5-0.5 1.5-1 1.6 1 1.5 0.5 1.6-0.5 1.5 0 1.6 0.5 1.5 1.5 1.5 1.5 1.6 1 1.5-0.5 1.6-1 1.5 0 1.6 1 1.5 0.5 1.5 1 1.6 0.5 1.5 0 1.6-0.5 1.5 0 1.6 0.5 1.5 1 1.5 1 1.6 1 1.5 0.5 1.6 0 1.5 0 1.6 0 1.5 0 1.5 0.5 1.6 0 1.5-1 1.6 1 1.5 2.5 1.6 1 1.5-1.5 1.5-1.5 1.6-0.5 1.5 0.5 1.6 0.5 1.5 0 1.6-1 1.5 0 1.5 1.5 1.6 0 1.5-1 1.6-0.5 1.5-1 1.6 0 1.5 1.5 1.5 1 1.6 0 1.5-0.5 1.6 1 1.5 0.5 1.5 0 1.6-1 1.5 0 1.6 1 1.5 1 1.6 0 1.5-0.5 1.5 1 1.6 0 1.5-1 1.6 0 1.5 1.5 1.6 1 1.5 0 1.5 0 1.6 0 1.5-0.5 1.6-0.5 1.5-0.5 1.6 0.5 1.5 0 1.5 0 1.6 0 1.5 0.5 1.6 0.5" stroke="#f6fa68"/><path d="M364.3 524l1.5 0 1.6-11.5 1.5-47 1.6-48.5 1.5-31 1.6 7.5 1.5 5 1.5 1.5 1.6 5 1.5 10 1.6 4 1.5-1.5 1.6 1.5 1.5 7.5 1.5 5 1.6 2.5 1.5 0.5 1.6 0.5 1.5 3 1.6 3 1.5 2.5 1.5 1.5 1.6 2.5 1.5 2.5 1.6 1 1.5 0 1.6 2 1.5 1.5 1.5 0.5 1.6 1.5 1.5 3 1.6 1.5 1.5 1 1.5 1 1.6 0.5 1.5 0 1.6 0.5 1.5 2.5 1.6 3.5 1.5 2 1.5-0.5 1.6-1 1.5 0.5 1.6 1 1.5 0.5 1.6 0.5 1.5 1 1.5 1 1.6-0.5 1.5 0 1.6 0.5 1.5 1 1.6 1 1.5 0.5 1.5 0 1.6 1 1.5 1 1.6 1 1.5 0 1.6 0 1.5 0 1.5 0 1.6 1.5 1.5 1.5 1.6-0.5 1.5-0.5 1.6 0 1.5 1.5 1.5 1.5 1.6 1.5 1.5-1 1.6-1.5 1.5 0.5 1.6 1.5 1.5 1 1.5-1 1.6-1 1.5 0 1.6 1.5 1.5 2 1.6 1 1.5-0.5 1.5-0.5 1.6 0 1.5 0 1.6 0.5 1.5 1 1.5 0 1.6 0.5 1.5 0.5 1.6-0.5 1.5-0.5 1.6 0 1.5 0.5 1.5-0.5 1.6-0.5 1.5 1 1.6 1.5 1.5 0.5 1.6 0 1.5-1 1.5 0.5 1.6 1 1.5 0.5 1.6-1 1.5-1 1.6 0.5 1.5 1 1.5 1 1.6 1 1.5 1 1.6 0 1.5-1 1.6-1 1.5 0 1.5 1.5 1.6 0.5 1.5-0.5 1.6-0.5 1.5-0.5 1.6-0.5 1.5 0 1.5 0.5 1.6 0 1.5 0.5 1.6 1 1.5 0.5 1.6-1.5 1.5-1.5 1.5 0 1.6 1 1.5 0 1.6 0.5 1.5 0 1.6-0.5 1.5 0.5 1.5 1.5 1.6 0 1.5-1 1.6 0.5 1.5 0 1.5 1 1.6 1.5 1.5 0 1.6 0 1.5-0.5 1.6 0 1.5-0.5 1.5 0 1.6 0 1.5-1 1.6 0 1.5 0 1.6 1 1.5 1 1.5 0 1.6 0 1.5-0.5 1.6 0 1.5-0.5 1.6 0.5 1.5 1 1.5 0.5 1.6 0 1.5-0.5 1.6 1" stroke="#487c84"/><path d="M364.3 499.5l1.5 8.5 1.6 8 1.5-4.5 1.6-8 1.5-0.5 1.6 9.5 1.5 7 1.5-9 1.6-19.5 1.5-16 1.6-16 1.5-17 1.6-11 1.5 0 1.5 4 1.6 6 1.5 4.5 1.6 2.5 1.5 0 1.6-0.5 1.5 2.5 1.5 3 1.6 4 1.5 2.5 1.6 1.5 1.5 0.5 1.6 1 1.5 1 1.5 0.5 1.6 0 1.5 0.5 1.6 0.5 1.5 2 1.5 1.5 1.6 1.5 1.5 1 1.6 1 1.5 1.5 1.6 1 1.5-0.5 1.5-1 1.6 0 1.5 0.5 1.6 2 1.5 1.5 1.6 1 1.5 0.5 1.5 1 1.6 0.5 1.5-0.5 1.6 0 1.5 1 1.6 0.5 1.5 0.5 1.5 1.5 1.6 2 1.5 1 1.6 0 1.5-1 1.6-0.5 1.5 0.5 1.5 0.5 1.6 0 1.5 0 1.6 0.5 1.5 1 1.6 0 1.5-0.5 1.5 0 1.6 2 1.5 1.5 1.6 0.5 1.5-0.5 1.6-0.5 1.5 0 1.5 0 1.6 0 1.5 1 1.6 1 1.5 1 1.6 0.5 1.5 0.5 1.5-1 1.6-0.5 1.5-0.5 1.6 0.5 1.5 0 1.5 0.5 1.6 1 1.5 0.5 1.6 0 1.5 0.5 1.6-0.5 1.5-0.5 1.5 0.5 1.6 0.5 1.5 0 1.6 0.5 1.5 0 1.6 0 1.5 0 1.5-0.5 1.6-0.5 1.5 0 1.6 0.5 1.5 0.5 1.6 0.5 1.5 0.5 1.5 1 1.6 0.5 1.5 0 1.6 0.5 1.5 0 1.6-0.5 1.5 0 1.5 1.5 1.6 1.5 1.5-0.5 1.6-0.5 1.5 0.5 1.6 0 1.5-0.5 1.5-1 1.6 0 1.5 0.5 1.6 0 1.5-0.5 1.6 1 1.5 1 1.5 0 1.6-0.5 1.5-0.5 1.6 0 1.5 0.5 1.6 0.5 1.5 0 1.5 0 1.6 0 1.5-1 1.6-0.5 1.5 0.5 1.5 1.5 1.6 0 1.5-0.5 1.6-1 1.5-1 1.6 0 1.5 0.5 1.5 1 1.6 0.5 1.5 0 1.6 1 1.5 0.5 1.6-0.5 1.5 0 1.5 0 1.6-0.5 1.5-0.5 1.6 1 1.5 1 1.6 0 1.5-0.5 1.5-0.5 1.6-0.5 1.5-0.5 1.6-0.5" stroke="#396b91"/><path d="M364.3 524l1.5 0 1.6 0 1.5 0 1.6-17 1.5-43 1.6-36 1.5-22 1.5 1.5 1.6 1.5 1.5 2 1.6 6.5 1.5 7.5 1.6 3 1.5 2.5 1.5 1 1.6-2.5 1.5 1.5 1.6 6 1.5 4 1.6-1 1.5-1 1.5 0.5 1.6 1 1.5 0 1.6 1.5 1.5 3 1.6 1.5 1.5 0 1.5-0.5 1.6-0.5 1.5 1 1.6 3 1.5 2.5 1.5 0.5 1.6 0.5 1.5 1 1.6 1.5 1.5 0 1.6 0 1.5 0.5 1.5 2 1.6 2 1.5 1.5 1.6 0 1.5 0 1.6-0.5 1.5 0.5 1.5 1 1.6 1 1.5 1 1.6 0.5 1.5 2 1.6 0 1.5-1.5 1.5-0.5 1.6 0 1.5 1.5 1.6 2.5 1.5 0 1.6-1 1.5 0 1.5 1.5 1.6 1 1.5 0 1.6 1 1.5 1 1.6 0.5 1.5 1 1.5 0.5 1.6 0.5 1.5 0 1.6-0.5 1.5 0 1.6 1.5 1.5 1 1.5 0 1.6-0.5 1.5-0.5 1.6-0.5 1.5 1 1.6 2 1.5 0 1.5-0.5 1.6 0.5 1.5 0.5 1.6 1 1.5 0.5 1.5 1 1.6 0 1.5 0 1.6 0 1.5 0.5 1.6 0 1.5 0.5 1.5-0.5 1.6-0.5 1.5 0.5 1.6 0.5 1.5-0.5 1.6 0 1.5 1.5 1.5 1 1.6 1 1.5 0.5 1.6-1 1.5-0.5 1.6 1 1.5 0.5 1.5-0.5 1.6-1 1.5 0 1.6 1 1.5 0.5 1.6-0.5 1.5-0.5 1.5 0.5 1.6 1.5 1.5 1.5 1.6 0.5 1.5 0 1.6-0.5 1.5-0.5 1.5-0.5 1.6 0.5 1.5 1 1.6 0 1.5-0.5 1.6 0.5 1.5 0 1.5 0.5 1.6 0.5 1.5 1 1.6 0.5 1.5-0.5 1.6-0.5 1.5-0.5 1.5 0.5 1.6 0 1.5 0.5 1.6 0.5 1.5 0.5 1.5 0.5 1.6 0 1.5-1 1.6-0.5 1.5 0 1.6 2 1.5 0.5 1.5-1 1.6-0.5 1.5 0.5 1.6 0 1.5 0 1.6 0.5 1.5 0.5 1.5 0.5 1.6-0.5 1.5 0 1.6 1 1.5 0 1.6 0.5 1.5-0.5 1.5-0.5 1.6-1 1.5 0 1.6 1" stroke="#bce36a"/><path d="M364.3 506.5l1.5 4 1.6-3 1.5-7.5 1.6 2.5 1.5 10 1.6 7.5 1.5-2.5 1.5-7 1.6-18.5 1.5-19 1.6-19 1.5-21 1.6-22.5 1.5-6 1.5 8 1.6 5 1.5 1 1.6 0 1.5 3.5 1.6 4 1.5 3.5 1.5 2 1.6 3 1.5 5.5 1.6 5.5 1.5 4.5 1.6 3 1.5 1.5 1.5 1.5 1.6 1.5 1.5 1.5 1.6 2 1.5 2.5 1.5 1.5 1.6 0.5 1.5 0.5 1.6 0 1.5 1.5 1.6 2 1.5 0.5 1.5 1.5 1.6 2 1.5 1 1.6 0.5 1.5-0.5 1.6-1 1.5 0 1.5 1.5 1.6 1.5 1.5 1.5 1.6 1.5 1.5 1 1.6 0.5 1.5 1 1.5 0 1.6 0.5 1.5 0.5 1.6 0.5 1.5 0.5 1.6-0.5 1.5-0.5 1.5 1 1.6 1.5 1.5 0 1.6 0 1.5 0.5 1.6 0.5 1.5 1 1.5 0.5 1.6 0 1.5 0 1.6 0.5 1.5 1 1.6 0.5 1.5 0 1.5 0 1.6 0.5 1.5 1 1.6 0.5 1.5 0 1.6-1 1.5-1 1.5 0 1.6 1 1.5 1.5 1.6 1 1.5 0 1.5 0.5 1.6 0 1.5-0.5 1.6 0 1.5 0 1.6 1 1.5 1 1.5 0.5 1.6 0.5 1.5-0.5 1.6-0.5 1.5 0.5 1.6 0 1.5 0.5 1.5 0 1.6-0.5 1.5 0.5 1.6 1 1.5 0.5 1.6 0 1.5 0 1.5 0.5 1.6-0.5 1.5-1 1.6 0 1.5 0.5 1.6 0 1.5 0 1.5-0.5 1.6 0 1.5 1 1.6 0.5 1.5-1 1.6-0.5 1.5-0.5 1.5-0.5 1.6 0.5 1.5 1.5 1.6 1 1.5 0.5 1.6 0 1.5 0 1.5-0.5 1.6-1 1.5 0.5 1.6 1.5 1.5 1 1.6 0 1.5-1 1.5-0.5 1.6 0.5 1.5-0.5 1.6 0 1.5 1 1.5 0 1.6-0.5 1.5 0.5 1.6 0.5 1.5 0 1.6 0 1.5-0.5 1.5 0 1.6 0 1.5-1 1.6-0.5 1.5 0.5 1.6 0.5 1.5 0 1.5 0.5 1.6 0 1.5 0.5 1.6 0 1.5 0 1.6 0 1.5 0.5 1.5 0 1.6-1 1.5-0.5 1.6 1.5" stroke="#3d728b"/><path d="M364.3 514.5l1.5-1.5 1.6-2 1.5-7.5 1.6-4 1.5 5 1.6-19 1.5-24 1.5-29 1.6-16.5 1.5 4.5 1.6 0 1.5 4.5 1.6 7 1.5 3.5 1.5 1 1.6 1 1.5 1 1.6 2.5 1.5 3.5 1.6 2 1.5 3 1.5 2 1.6 1 1.5 1.5 1.6 3 1.5 3.5 1.6 3 1.5 1 1.5-0.5 1.6-1 1.5 1.5 1.6 2 1.5 1 1.5 1.5 1.6 0 1.5 0.5 1.6 1.5 1.5 1.5 1.6 0.5 1.5 1 1.5-0.5 1.6 0 1.5 1.5 1.6 2 1.5 1.5 1.6 0.5 1.5-0.5 1.5 0 1.6 1 1.5 0.5 1.6 0.5 1.5 0.5 1.6 0 1.5 0 1.5 1.5 1.6 1.5 1.5 0 1.6-0.5 1.5-1 1.6 1 1.5 1.5 1.5 1 1.6-0.5 1.5 0 1.6 1 1.5 1 1.6 0.5 1.5-0.5 1.5-1 1.6-1 1.5 0.5 1.6 1 1.5 0.5 1.6 1 1.5 0.5 1.5 1 1.6 1 1.5 0.5 1.6-0.5 1.5-0.5 1.6-0.5 1.5 0 1.5 0.5 1.6 0.5 1.5-0.5 1.6 0 1.5 0.5 1.5 0.5 1.6 0 1.5 0.5 1.6 1 1.5-0.5 1.6-1 1.5 0.5 1.5 1.5 1.6 1 1.5 0 1.6-0.5 1.5-0.5 1.6 0 1.5 0 1.5 0.5 1.6 0.5 1.5 1 1.6 0.5 1.5 0 1.6-0.5 1.5-0.5 1.5 0 1.6 0.5 1.5 1 1.6 1 1.5 0 1.6-0.5 1.5 0.5 1.5-0.5 1.6 0 1.5 0 1.6-0.5 1.5-0.5 1.6 0.5 1.5 0 1.5 0.5 1.6 1 1.5 0 1.6-1 1.5 0 1.6 0.5 1.5 1.5 1.5 0.5 1.6-1 1.5-1.5 1.6-0.5 1.5 0.5 1.6 0.5 1.5 0 1.5 1 1.6 0.5 1.5 0 1.6-1.5 1.5-0.5 1.5 0.5 1.6 2 1.5 0.5 1.6-1 1.5 0 1.6-0.5 1.5-1 1.5-0.5 1.6 1 1.5 1 1.6 1 1.5-0.5 1.6-1 1.5-0.5 1.5 0.5 1.6 0 1.5 0 1.6 0 1.5 0 1.6 0.5 1.5 1 1.5 0 1.6 0 1.5 0.5 1.6 0" stroke="#2c55a0"/><path d="M364.3 512.5l1.5-9.5 1.6 1.5 1.5 8.5 1.6 1.5 1.5-16 1.6-52 1.5-51 1.5 2 1.6 8.5 1.5 7.5 1.6 8.5 1.5 9.5 1.6 6.5 1.5 2.5 1.5 1.5 1.6 2.5 1.5 2.5 1.6 3.5 1.5 5 1.6 2.5 1.5 1 1.5 3 1.6 3.5 1.5 0.5 1.6-1 1.5 1.5 1.6 2.5 1.5 1.5 1.5 2.5 1.6 2.5 1.5 0 1.6-1 1.5 0 1.5 2 1.6 1.5 1.5 1.5 1.6 1.5 1.5 0 1.6-1.5 1.5-0.5 1.5 0.5 1.6 2 1.5 1 1.6 0.5 1.5 0 1.6 1 1.5 0.5 1.5 0.5 1.6 1 1.5 0.5 1.6-0.5 1.5 0.5 1.6 1 1.5 0 1.5-0.5 1.6 0 1.5 0.5 1.6 0.5 1.5 1 1.6 1 1.5 0.5 1.5 1 1.6 0 1.5-0.5 1.6-1 1.5 0 1.6 2 1.5 2 1.5 1 1.6 0.5 1.5 0 1.6 0 1.5-0.5 1.6 0 1.5 0 1.5 0.5 1.6 0.5 1.5 0.5 1.6 0.5 1.5-0.5 1.6-1 1.5 0 1.5 0.5 1.6 0 1.5 0.5 1.6 0.5 1.5 0 1.5 0.5 1.6 1 1.5 1 1.6 0 1.5 0 1.6 0 1.5-0.5 1.5-0.5 1.6 0.5 1.5 0.5 1.6 0 1.5-0.5 1.6 0.5 1.5 0.5 1.5 0.5 1.6 0 1.5 0 1.6-1 1.5 0.5 1.6 1 1.5 1 1.5 0.5 1.6-0.5 1.5 0 1.6-0.5 1.5-0.5 1.6 0 1.5 1 1.5 2 1.6 1 1.5-1.5 1.6-1.5 1.5 0 1.6 0.5 1.5 0.5 1.5 0.5 1.6 1 1.5-0.5 1.6-1.5 1.5-1 1.6 1 1.5 1 1.5 0 1.6 0 1.5 0 1.6 0.5 1.5 1.5 1.6 0.5 1.5-1 1.5-1 1.6-0.5 1.5 0.5 1.6 0 1.5-0.5 1.5 0 1.6 0.5 1.5-0.5 1.6 0 1.5 0.5 1.6 0.5 1.5 0.5 1.5 0 1.6 0 1.5 0 1.6 0 1.5 0.5 1.6 0 1.5-0.5 1.5-0.5 1.6 0 1.5 0.5 1.6 0 1.5 0 1.6 0 1.5 0 1.5 0.5 1.6 0.5 1.5 0.5 1.6-1" stroke="#305b9d"/><path d="M364.3 512l1.5 1.5 1.6 0.5 1.5-10 1.6-23 1.5-20 1.6-23 1.5-25.5 1.5 1 1.6 7 1.5 5 1.6 4.5 1.5 7 1.6 3 1.5-0.5 1.5-1.5 1.6-0.5 1.5 1 1.6 2.5 1.5 3 1.6 3 1.5 0 1.5 1.5 1.6 4 1.5 3 1.6 2 1.5 0.5 1.6 0 1.5 1.5 1.5 2.5 1.6 1 1.5-0.5 1.6 0 1.5 2.5 1.5 3 1.6 1 1.5-0.5 1.6 0.5 1.5 0 1.6 0 1.5 2.5 1.5 2 1.6 0 1.5 1 1.6 1.5 1.5 0.5 1.6-0.5 1.5-0.5 1.5 0.5 1.6 1.5 1.5 1.5 1.6 0 1.5-1 1.6-0.5 1.5-0.5 1.5 0.5 1.6 1 1.5 1 1.6 1 1.5 0 1.6 0 1.5 0 1.5 0 1.6 0.5 1.5 0.5 1.6 0.5 1.5 1 1.6 1 1.5 0 1.5 0 1.6 1 1.5 1.5 1.6 1 1.5 0 1.6 0 1.5 0 1.5 0.5 1.6 1 1.5-0.5 1.6 0 1.5 0.5 1.6 0 1.5-0.5 1.5 0.5 1.6 1 1.5 1 1.6-0.5 1.5 0 1.5 1 1.6 0.5 1.5-0.5 1.6-1 1.5 0 1.6 0 1.5 1 1.5 0 1.6 0.5 1.5 0 1.6 1 1.5 1.5 1.6 0.5 1.5-0.5 1.5-1.5 1.6 0 1.5 0.5 1.6 0 1.5-0.5 1.6 0 1.5 0 1.5 0 1.6 0 1.5 0.5 1.6 1 1.5-0.5 1.6-1 1.5 0 1.5 1 1.6 1 1.5 1 1.6 1 1.5 0 1.6-0.5 1.5-1.5 1.5-0.5 1.6 1.5 1.5 2 1.6 0.5 1.5-1 1.6-1.5 1.5 0 1.5 0.5 1.6 1.5 1.5 1 1.6-0.5 1.5 0 1.6 0 1.5 1 1.5 0 1.6 0 1.5 0.5 1.6 0.5 1.5-0.5 1.5-0.5 1.6 0 1.5-0.5 1.6-1.5 1.5-0.5 1.6 1 1.5 1 1.5 0.5 1.6 0.5 1.5 0 1.6 0 1.5-1 1.6-1 1.5 0 1.5 0.5 1.6 0.5 1.5 1 1.6 0 1.5 0 1.6 1 1.5-0.5 1.5-1 1.6-0.5 1.5-0.5 1.6 0" stroke="#669a7a"/><path d="M364.3 509.5l1.5-3 1.6 8.5 1.5 9 1.6 0 1.5 0 1.6 0 1.5 0 1.5-20 1.6-28.5 1.5-28.5 1.6-32.5 1.5-26 1.6 11.5 1.5 13.5 1.5 13.5 1.6 8.5 1.5 5 1.6 5 1.5 4 1.6 1.5 1.5 0.5 1.5 1 1.6 4.5 1.5 5 1.6 2.5 1.5 1.5 1.6 2 1.5 1 1.5 2 1.6 1.5 1.5 2.5 1.6 2.5 1.5 2 1.5 1.5 1.6-0.5 1.5 0.5 1.6 1.5 1.5 1.5 1.6 0.5 1.5 0 1.5-1.5 1.6-0.5 1.5 1 1.6 0 1.5-1 1.6 0.5 1.5 2.5 1.5 1.5 1.6 0 1.5-0.5 1.6 0 1.5 1 1.6 1.5 1.5 1.5 1.5 0.5 1.6 0 1.5 0.5 1.6 0.5 1.5-0.5 1.6 0 1.5 1 1.5 0.5 1.6 1 1.5 0 1.6-1 1.5-1 1.6 0.5 1.5 0.5 1.5 0 1.6 0.5 1.5 1 1.6 0.5 1.5-1 1.6 0 1.5 1.5 1.5 1.5 1.6-0.5 1.5-1 1.6 1.5 1.5 2.5 1.6 0.5 1.5-1.5 1.5-1 1.6-0.5 1.5 0.5 1.6-0.5 1.5-1 1.5 0 1.6 2 1.5 1.5 1.6-0.5 1.5-0.5 1.6 0.5 1.5 1 1.5 0.5 1.6-0.5 1.5-1.5 1.6-0.5 1.5-0.5 1.6 0 1.5 0 1.5 1 1.6 0.5 1.5 1 1.6 1.5 1.5 0 1.6 0 1.5 0 1.5 0 1.6 0.5 1.5 0 1.6 0 1.5 0.5 1.6-0.5 1.5-0.5 1.5 0 1.6 0 1.5-0.5 1.6 1 1.5 1 1.6 0 1.5 0 1.5-0.5 1.6-1 1.5 0 1.6 1 1.5 0 1.6 0.5 1.5 0.5 1.5 0 1.6-0.5 1.5-0.5 1.6-0.5 1.5-1 1.6 0 1.5 1 1.5 1 1.6 1 1.5 0 1.6 0 1.5-0.5 1.5-0.5 1.6 0 1.5 0.5 1.6 1 1.5 0 1.6-0.5 1.5-1 1.5 0 1.6 1 1.5 1 1.6 0 1.5 0 1.6-0.5 1.5-0.5 1.5 0 1.6 0 1.5-1 1.6 0 1.5 0 1.6 0 1.5-0.5 1.5-0.5 1.6 1 1.5 0.5 1.6-0.5" stroke="#1f3da8"/><path d="M364.3 524l1.5-9 1.6-23.5 1.5-25 1.6-22 1.5-17 1.6 1.5 1.5-1 1.5-2 1.6 4.5 1.5 4.5 1.6-4.5 1.5-8 1.6-3.5 1.5 4.5 1.5 4 1.6 2.5 1.5 1.5 1.6 0 1.5 1 1.6 0 1.5-1.5 1.5 1.5 1.6 5.5 1.5 3 1.6 0.5 1.5 0 1.6 0 1.5 1.5 1.5 2.5 1.6 0.5 1.5-1.5 1.6-0.5 1.5 2.5 1.5 4 1.6 2.5 1.5 0.5 1.6 1 1.5 0.5 1.6 0.5 1.5 0 1.5 1 1.6 2 1.5 2 1.6 0.5 1.5 0 1.6 0 1.5 0 1.5 1.5 1.6 1 1.5 0.5 1.6 0.5 1.5 0.5 1.6 0.5 1.5 1.5 1.5 0.5 1.6-1 1.5 0.5 1.6 1.5 1.5 1.5 1.6 0 1.5 0 1.5 1 1.6 0.5 1.5 1 1.6 1.5 1.5 0 1.6-1 1.5-0.5 1.5 1.5 1.6 2.5 1.5 0.5 1.6-1 1.5-0.5 1.6 0.5 1.5 1 1.5 1 1.6 1 1.5 0 1.6-0.5 1.5 0 1.6 1.5 1.5 1.5 1.5 0.5 1.6 0 1.5 0 1.6 0 1.5 0 1.5-0.5 1.6 0.5 1.5 0.5 1.6 0.5 1.5 0.5 1.6 0.5 1.5 1 1.5 0 1.6-0.5 1.5-0.5 1.6 0 1.5 1 1.6 1 1.5 0.5 1.5 0.5 1.6 0.5 1.5-0.5 1.6 0 1.5-0.5 1.6-0.5 1.5 0 1.5 0 1.6 0.5 1.5 0 1.6 1 1.5 2 1.6 0.5 1.5-0.5 1.5-1.5 1.6-1 1.5 1 1.6 1.5 1.5 0.5 1.6-0.5 1.5-1 1.5 0 1.6 1 1.5 1 1.6 0 1.5-1 1.6-1 1.5 0.5 1.5 1.5 1.6 1 1.5 0 1.6 0.5 1.5 1 1.6-0.5 1.5-1.5 1.5-0.5 1.6 0.5 1.5 1 1.6-0.5 1.5 0.5 1.5 0.5 1.6 0 1.5-0.5 1.6 0 1.5 0 1.6 0.5 1.5 0.5 1.5 1 1.6 0.5 1.5 0 1.6-0.5 1.5 0 1.6-0.5 1.5-1 1.5-0.5 1.6 0.5 1.5 0 1.6 0 1.5 0.5 1.6-0.5 1.5 0 1.5 0 1.6 0.5 1.5 0.5 1.6-0.5" stroke="#65997a"/><path d="M364.3 520.5l1.5 0 1.6-2 1.5-6 1.6-3 1.5 0 1.6 5 1.5 9.5 1.5-3 1.6-21 1.5-23.5 1.6-22 1.5-22.5 1.6-17.5 1.5 0.5 1.5 2 1.6 4.5 1.5 2 1.6 2 1.5 3 1.6 3.5 1.5 2.5 1.5 0 1.6 0 1.5 2 1.6 2 1.5 2.5 1.6 1.5 1.5 0.5 1.5 1.5 1.6 1.5 1.5 2 1.6 0.5 1.5 0 1.5 0.5 1.6 1 1.5 2 1.6 2 1.5 2 1.6 1.5 1.5 1 1.5 0 1.6 0.5 1.5 1.5 1.6 1 1.5 0 1.6-0.5 1.5 1.5 1.5 1.5 1.6 1.5 1.5 1 1.6 0 1.5-0.5 1.6 1 1.5 1.5 1.5 0.5 1.6-0.5 1.5 0.5 1.6 2 1.5 1.5 1.6 0 1.5 0.5 1.5 1 1.6 1.5 1.5 1 1.6 0.5 1.5 0 1.6-1 1.5 0.5 1.5 1 1.6 0.5 1.5 0 1.6 1 1.5 1.5 1.6 1 1.5 0.5 1.5 0 1.6-0.5 1.5 0 1.6 1 1.5 0.5 1.6 1 1.5 0.5 1.5 0.5 1.6 0.5 1.5-1 1.6-1.5 1.5 0 1.5 0.5 1.6 1 1.5 1 1.6 0.5 1.5 0 1.6 0.5 1.5 0.5 1.5 0.5 1.6 0.5 1.5 0.5 1.6 0.5 1.5-1 1.6 0 1.5 1 1.5 0 1.6-1 1.5-0.5 1.6 1 1.5 1.5 1.6 1 1.5 0.5 1.5-0.5 1.6 0 1.5-0.5 1.6-0.5 1.5 0.5 1.6 0.5 1.5 1 1.5 0 1.6 0.5 1.5 0.5 1.6 0 1.5-1 1.6 0 1.5-0.5 1.5 0 1.6 0 1.5 1 1.6 1.5 1.5 0 1.6-1 1.5 0.5 1.5 1 1.6 0 1.5-0.5 1.6-0.5 1.5 0.5 1.6 0.5 1.5 0.5 1.5 1 1.6 0.5 1.5-0.5 1.6 0 1.5 0 1.5 0 1.6 0 1.5 0 1.6 0 1.5 0 1.6 0.5 1.5 0.5 1.5 0 1.6-0.5 1.5 0 1.6 0.5 1.5 0 1.6-0.5 1.5 0 1.5 0.5 1.6 0 1.5-1.5 1.6-0.5 1.5 0.5 1.6 1 1.5 0 1.5 0 1.6 0 1.5 0 1.6 0.5" stroke="#437787"/><path d="M364.3 505l1.5 1.5 1.6 8 1.5 9.5 1.6 0 1.5-4 1.6-4 1.5-1 1.5-4 1.6-0.5 1.5 4.5 1.6-13 1.5-35 1.6-29 1.5-21 1.5 8 1.6 5 1.5 0 1.6-2 1.5 1 1.6 3 1.5-1 1.5-0.5 1.6 3 1.5 3 1.6 1 1.5 1 1.6 2 1.5 0.5 1.5 0.5 1.6 0.5 1.5 2 1.6 2 1.5 0.5 1.5-0.5 1.6 0 1.5 0.5 1.6 1.5 1.5 2 1.6 1 1.5-0.5 1.5 0 1.6 1 1.5 3 1.6 2 1.5 0 1.6 0.5 1.5 1 1.5 1.5 1.6 1 1.5 0.5 1.6 1 1.5 0 1.6 0 1.5 1 1.5 2 1.6 3 1.5 1 1.6 0 1.5-1 1.6-1 1.5 0.5 1.5 2 1.6 1 1.5 0 1.6 0 1.5 0.5 1.6 1 1.5 0.5 1.5 1 1.6 0.5 1.5 0 1.6 0 1.5 0.5 1.6 0.5 1.5 0.5 1.5 0 1.6 1.5 1.5 1.5 1.6 0.5 1.5 0 1.6 0 1.5-1.5 1.5 0 1.6 1 1.5 0.5 1.6-0.5 1.5 0 1.5 1.5 1.6 1.5 1.5 0.5 1.6 0 1.5 0 1.6 1 1.5 1.5 1.5 1 1.6 0 1.5-1 1.6-0.5 1.5-0.5 1.6 0 1.5 1 1.5 1 1.6 0 1.5 0.5 1.6 0.5 1.5 0 1.6 0.5 1.5 0.5 1.5 0 1.6-0.5 1.5 0.5 1.6 0.5 1.5 0 1.6 0 1.5 1 1.5 0.5 1.6 0 1.5 0.5 1.6 0.5 1.5-1 1.6 0 1.5 0.5 1.5 0.5 1.6-0.5 1.5-0.5 1.6 0 1.5 0.5 1.6-0.5 1.5-0.5 1.5 0 1.6 0.5 1.5 0.5 1.6 0 1.5 0 1.6 1 1.5 0.5 1.5 0.5 1.6-1 1.5-0.5 1.6 1 1.5 1 1.5 1 1.6 0 1.5 0.5 1.6 0 1.5-0.5 1.6-0.5 1.5 0 1.5 0.5 1.6-0.5 1.5 0 1.6 1.5 1.5 2 1.6 0.5 1.5-0.5 1.5-1.5 1.6-0.5 1.5 0.5 1.6 1 1.5 0 1.6-0.5 1.5 0 1.5 0 1.6 0 1.5 0 1.6 0" stroke="#c6e969"/><path d="M364.3 524l1.5 0 1.6 0 1.5 0 1.6 0 1.5-0.5 1.6-22.5 1.5-36.5 1.5-39.5 1.6-36 1.5 5.5 1.6 8.5 1.5 7 1.6 4.5 1.5 5.5 1.5 3.5 1.6 3 1.5 5 1.6 5.5 1.5 5.5 1.6 5 1.5 5 1.5 1.5 1.6 2 1.5 1 1.6 1.5 1.5 2.5 1.6 2 1.5 1.5 1.5 0.5 1.6 0.5 1.5 3 1.6 3 1.5 0.5 1.5 2 1.6 3.5 1.5 3 1.6 0.5 1.5-1 1.6-0.5 1.5 1.5 1.5 2 1.6 1 1.5 1 1.6 1 1.5 0 1.6 0 1.5 0.5 1.5 0.5 1.6 0.5 1.5 0.5 1.6 1 1.5 0.5 1.6 1.5 1.5 1 1.5-1 1.6-0.5 1.5 0.5 1.6 1 1.5 0 1.6 0 1.5-0.5 1.5-0.5 1.6 0.5 1.5 1.5 1.6 0.5 1.5-0.5 1.6 1.5 1.5 2 1.5 0.5 1.6 0 1.5-0.5 1.6-0.5 1.5-0.5 1.6 0 1.5 0.5 1.5 1 1.6 1 1.5-1 1.6-1 1.5 0 1.6 0.5 1.5 0.5 1.5 1 1.6 0.5 1.5 0.5 1.6 0 1.5 0 1.5-0.5 1.6-0.5 1.5-0.5 1.6 0.5 1.5 0 1.6 0 1.5 0.5 1.5 0.5 1.6 0 1.5 1 1.6 1 1.5 1 1.6-0.5 1.5-1 1.5 0 1.6 0 1.5-0.5 1.6 0.5 1.5 0 1.6 0 1.5 0.5 1.5 0.5 1.6 0 1.5-0.5 1.6-1 1.5 0 1.6 0.5 1.5 0.5 1.5 0.5 1.6 0 1.5 0 1.6 0.5 1.5-1 1.6 0 1.5 1 1.5 1 1.6-0.5 1.5-0.5 1.6 0 1.5 0.5 1.6 0.5 1.5 0 1.5 0 1.6 0 1.5-0.5 1.6 0.5 1.5 1 1.6 0.5 1.5 0 1.5-1.5 1.6-1.5 1.5 0 1.6 1 1.5 1 1.5 0.5 1.6 0 1.5 0 1.6 0 1.5 0.5 1.6 1 1.5 0.5 1.5-1 1.6-0.5 1.5-1 1.6-1 1.5 1 1.6 1 1.5 0 1.5-0.5 1.6 0.5 1.5 0 1.6-0.5 1.5-0.5 1.6-0.5 1.5-0.5 1.5 0 1.6 0 1.5-0.5 1.6 0.5" stroke="#1f3fa8"/><path d="M364.3 517.5l1.5-8 1.6-2.5 1.5 4 1.6 7 1.5 4 1.6-1 1.5-5 1.5-5 1.6-1 1.5 1.5 1.6 1.5 1.5 5 1.6 2.5 1.5-11.5 1.5-17.5 1.6-14.5 1.5-17 1.6-11.5 1.5-2 1.6-1.5 1.5 0 1.5 1 1.6 0.5 1.5-1 1.6-1.5 1.5-1 1.6-1.5 1.5 0 1.5 0 1.6-1 1.5-2.5 1.6-1.5 1.5 0 1.5-0.5 1.6 0 1.5 0 1.6 0 1.5-0.5 1.6 0.5 1.5 0 1.5-1 1.6-1.5 1.5-1 1.6-1.5 1.5-1 1.6-0.5 1.5 0 1.5-1 1.6 0 1.5 1 1.6 2.5 1.5 2.5 1.6 2.5 1.5 3 1.5 2.5 1.6 1.5 1.5 1 1.6 1.5 1.5 1.5 1.6 1 1.5 1 1.5 1 1.6 2 1.5 2.5 1.6 2 1.5 2 1.6 1.5 1.5 1.5 1.5 1 1.6 1.5 1.5 0.5 1.6 0.5 1.5 1 1.6 0.5 1.5 0.5 1.5 1.5 1.6 1.5 1.5 0.5 1.6 0.5 1.5 1 1.6 0.5 1.5 0.5 1.5 1 1.6 1 1.5 0.5 1.6 0 1.5 0.5 1.5 0.5 1.6-0.5 1.5 1 1.6 1.5 1.5 1 1.6 1 1.5 0 1.5 0.5 1.6 1.5 1.5 0.5 1.6-0.5 1.5-1 1.6 0.5 1.5 0.5 1.5 1.5 1.6 2 1.5 0 1.6-1 1.5 0.5 1.6 0.5 1.5 1 1.5 1 1.6 1 1.5 0 1.6-1.5 1.5-1 1.6 1 1.5 1 1.5 0 1.6-1 1.5 0.5 1.6 0.5 1.5 0.5 1.6 0 1.5 0 1.5 0 1.6 1 1.5 0.5 1.6 0.5 1.5 0.5 1.6-0.5 1.5-0.5 1.5-0.5 1.6-0.5 1.5-0.5 1.6 0.5 1.5 1.5 1.6 1 1.5 0.5 1.5-0.5 1.6 0 1.5-0.5 1.6-0.5 1.5-0.5 1.5 1 1.6 1 1.5 0 1.6-0.5 1.5 0.5 1.6-0.5 1.5-0.5 1.5-0.5 1.6 0 1.5-0.5 1.6 0.5 1.5 1 1.6 0.5 1.5-0.5 1.5-1 1.6 0 1.5 1 1.6 0.5 1.5 0.5 1.6 0.5 1.5 0.5 1.5-1 1.6-0.5 1.5 0.5 1.6 0.5" stroke="#eef768"/><path d="M364.3 516l1.5-29 1.6-28.5 1.5-33.5 1.6-9.5 1.5 6.5 1.6 9.5 1.5 10.5 1.5 5.5 1.6-0.5 1.5-1 1.6 1.5 1.5 4.5 1.6 4 1.5 1.5 1.5-2.5 1.6-1.5 1.5-1 1.6 0.5 1.5 3 1.6 5.5 1.5 5.5 1.5 2.5 1.6 0 1.5-2.5 1.6-1.5 1.5 1 1.6 2.5 1.5 2 1.5 1.5 1.6-0.5 1.5-0.5 1.6 1.5 1.5 1 1.5 0 1.6 1.5 1.5 2.5 1.6 2 1.5 0.5 1.6 0 1.5 0.5 1.5 1 1.6 0 1.5-0.5 1.6-0.5 1.5 0 1.6 1 1.5 1.5 1.5 1.5 1.6 0.5 1.5-0.5 1.6-0.5 1.5 0.5 1.6 1 1.5 0 1.5-0.5 1.6-0.5 1.5 1 1.6 1 1.5-1 1.6 0 1.5 1.5 1.5 0.5 1.6 0.5 1.5 0.5 1.6 0.5 1.5-0.5 1.6-0.5 1.5 1 1.5 0.5 1.6 1 1.5 1 1.6 0 1.5-1 1.6-0.5 1.5 0 1.5 0.5 1.6 0 1.5 0 1.6 0.5 1.5 0 1.6 0 1.5 1 1.5 0.5 1.6 0 1.5 0.5 1.6 0 1.5 0.5 1.5 1 1.6 0.5 1.5 1 1.6 0 1.5-1 1.6-0.5 1.5 1 1.5 1 1.6 0.5 1.5 1 1.6 0.5 1.5-0.5 1.6-2 1.5-1 1.5 0.5 1.6 0.5 1.5 0 1.6 0 1.5-0.5 1.6 0 1.5 0 1.5 1 1.6 0.5 1.5 0 1.6-0.5 1.5-0.5 1.6 1 1.5 1.5 1.5 1 1.6 0 1.5-0.5 1.6-1 1.5 0 1.6 0.5 1.5 0.5 1.5 0.5 1.6-0.5 1.5-0.5 1.6 0 1.5 1 1.6 0.5 1.5-0.5 1.5-1 1.6 0 1.5 1 1.6 0.5 1.5-0.5 1.6 0 1.5 0.5 1.5-0.5 1.6-0.5 1.5 0 1.6 0 1.5 0 1.5 0.5 1.6-0.5 1.5-0.5 1.6-0.5 1.5 0 1.6 1.5 1.5 2 1.5 0.5 1.6-0.5 1.5 0 1.6 0.5 1.5-0.5 1.6-0.5 1.5-1 1.5-0.5 1.6 0.5 1.5 0.5 1.6 0 1.5-0.5 1.6-1 1.5-0.5 1.5 0.5 1.6 1.5 1.5 0 1.6 0" stroke="#366695"/><path d="M364.3 511.5l1.5 0.5 1.6 6 1.5-1.5 1.6-0.5 1.5-35.5 1.6-43.5 1.5-16 1.5 1 1.6-2.5 1.5-1 1.6 0.5 1.5 0.5 1.6-1 1.5 3.5 1.5 7 1.6 2.5 1.5-2 1.6-1 1.5 1.5 1.6 2 1.5 1 1.5 0.5 1.6 3.5 1.5 5.5 1.6 2 1.5-0.5 1.6-0.5 1.5 0 1.5 0 1.6-1 1.5 1 1.6 1.5 1.5 1.5 1.5 2 1.6 1 1.5 1 1.6 1 1.5 1.5 1.6 0.5 1.5-1 1.5 0 1.6 1 1.5 1.5 1.6 1.5 1.5 2 1.6 1.5 1.5-0.5 1.5-0.5 1.6 0 1.5 0.5 1.6 1 1.5 1.5 1.6 1 1.5 0.5 1.5 0.5 1.6 1.5 1.5 1 1.6 0 1.5 0 1.6 1 1.5 1.5 1.5 1 1.6 0.5 1.5 0 1.6 0.5 1.5 0.5 1.6 0.5 1.5 0.5 1.5 0 1.6 0.5 1.5 1.5 1.6 1.5 1.5 1 1.6 0 1.5 1 1.5 0 1.6-1 1.5-0.5 1.6 0.5 1.5 1 1.6 1 1.5 0.5 1.5 0 1.6-0.5 1.5 0.5 1.6 0.5 1.5 0 1.5 1 1.6 0.5 1.5 1 1.6 0.5 1.5 0 1.6-0.5 1.5-0.5 1.5 0.5 1.6 0.5 1.5 1 1.6 0.5 1.5 0.5 1.6 0.5 1.5 0 1.5-1 1.6-0.5 1.5 0.5 1.6 0.5 1.5 1 1.6 2 1.5 0.5 1.5-1.5 1.6-0.5 1.5 0.5 1.6-0.5 1.5 0.5 1.6 2.5 1.5 0 1.5-1.5 1.6 0 1.5 1.5 1.6 0 1.5 0 1.6 0.5 1.5 1 1.5 0 1.6 0 1.5 0.5 1.6 0 1.5 0.5 1.6 0.5 1.5 0 1.5 0 1.6 0 1.5 0.5 1.6-0.5 1.5-1 1.6 0 1.5 1 1.5 1 1.6 0.5 1.5-0.5 1.6 0 1.5 0 1.5 0 1.6-0.5 1.5 0 1.6 1.5 1.5 1 1.6-0.5 1.5-1 1.5-0.5 1.6 0 1.5 0.5 1.6 0 1.5 0 1.6 0.5 1.5 0 1.5-1 1.6-0.5 1.5 1 1.6 1 1.5-1 1.6-0.5 1.5 0 1.5 1 1.6 1 1.5 1 1.6 0" stroke="#a6d36c"/><path d="M364.3 517.5l1.5-29 1.6-35 1.5-31 1.6-33 1.5-8 1.6 3 1.5 8 1.5 6 1.6 2.5 1.5 4 1.6 5 1.5 2.5 1.6 3 1.5 6.5 1.5 5 1.6 3 1.5 2.5 1.6-1.5 1.5-2.5 1.6 0.5 1.5 3 1.5 3.5 1.6 0 1.5-1 1.6 2 1.5 3.5 1.6 3.5 1.5 2 1.5 2 1.6 1 1.5 0 1.6 1.5 1.5 1.5 1.5 1.5 1.6 0.5 1.5-0.5 1.6 0.5 1.5 1.5 1.6 1.5 1.5 0.5 1.5 0.5 1.6 0.5 1.5 1 1.6 2.5 1.5 1.5 1.6 0.5 1.5 0.5 1.5 1 1.6 1 1.5 0 1.6 0 1.5 0 1.6 1.5 1.5 1.5 1.5 1 1.6-0.5 1.5-1 1.6 0 1.5 0.5 1.6 0.5 1.5 1 1.5 1 1.6 1 1.5 2 1.6 0.5 1.5-1 1.6-0.5 1.5 1 1.5 2 1.6 1.5 1.5 0 1.6-1 1.5 0 1.6 0.5 1.5-0.5 1.5 0 1.6 0 1.5 1.5 1.6 1 1.5 0.5 1.6 0.5 1.5 0.5 1.5-0.5 1.6 0 1.5 0.5 1.6 1 1.5-0.5 1.5 0 1.6 0.5 1.5 0.5 1.6 0 1.5 0.5 1.6 1 1.5 0.5 1.5 1 1.6 0.5 1.5 0 1.6 0.5 1.5-0.5 1.6-0.5 1.5 1.5 1.5 0.5 1.6-0.5 1.5-0.5 1.6-0.5 1.5 0 1.6 0.5 1.5 0 1.5 0.5 1.6 1 1.5 0.5 1.6-0.5 1.5-1 1.6 0 1.5 0.5 1.5 0.5 1.6 0.5 1.5 1 1.6-0.5 1.5 0 1.6 1.5 1.5 0.5 1.5 0 1.6 0 1.5 0 1.6-1 1.5-0.5 1.6 0.5 1.5 0.5 1.5 0.5 1.6 0 1.5 0 1.6 0.5 1.5 0 1.6 0 1.5 1 1.5-0.5 1.6 0 1.5-0.5 1.6-1 1.5-0.5 1.5 0.5 1.6 1 1.5 0.5 1.6-0.5 1.5-0.5 1.6 1 1.5 0.5 1.5 0.5 1.6-1 1.5 0 1.6 0.5 1.5 1 1.6 0.5 1.5 0.5 1.5 0.5 1.6 0 1.5-1.5 1.6-1.5 1.5 0.5 1.6 1 1.5 0 1.5 0 1.6 1 1.5 0.5 1.6-1" stroke="#99ca6e"/><path d="M364.3 515.5l1.5 3.5 1.6-4 1.5-6 1.6-2.5 1.5-2.5 1.6-1.5 1.5 5 1.5 6 1.6 2.5 1.5 0 1.6-2.5 1.5-1.5 1.6-1 1.5-1.5 1.5-3 1.6-1.5 1.5-6.5 1.6-12 1.5-16 1.6-19 1.5-17.5 1.5-0.5 1.6 1 1.5 2 1.6 1 1.5 2 1.6 0 1.5-2.5 1.5-3 1.6-3 1.5-1.5 1.6-0.5 1.5-1 1.5-0.5 1.6 0 1.5 2 1.6 1 1.5 0.5 1.6-0.5 1.5 1.5 1.5 2 1.6 1.5 1.5 1 1.6 3 1.5 2 1.6 1.5 1.5 2 1.5 2.5 1.6 1.5 1.5 1 1.6 1.5 1.5 1.5 1.6 0.5 1.5 1 1.5 2 1.6 0.5 1.5 0.5 1.6 1 1.5 1 1.6 1.5 1.5 2 1.5 1.5 1.6 1 1.5 0.5 1.6 0.5 1.5 1 1.6 0.5 1.5 1 1.5 1 1.6 1 1.5 1.5 1.6 1 1.5 0 1.6-0.5 1.5 0.5 1.5 0 1.6 1 1.5 1.5 1.6 2 1.5 1 1.6-0.5 1.5 0 1.5 1 1.6 1 1.5 0 1.6 0 1.5 0.5 1.5 1 1.6 0 1.5 0 1.6 0 1.5 1 1.6 1.5 1.5 0.5 1.5-0.5 1.6 0 1.5 0.5 1.6-0.5 1.5 0 1.6 1 1.5 0 1.5-0.5 1.6-0.5 1.5 1 1.6 1.5 1.5 0.5 1.6 0 1.5 0 1.5-0.5 1.6 0.5 1.5 1.5 1.6 1 1.5-0.5 1.6 0 1.5-0.5 1.5-0.5 1.6 0.5 1.5 1.5 1.6 0 1.5-0.5 1.6 0 1.5 0 1.5 0.5 1.6 0.5 1.5 0 1.6 0 1.5 0 1.6 0 1.5 0.5 1.5 0.5 1.6 0 1.5 0 1.6 0.5 1.5 1 1.6-0.5 1.5-0.5 1.5-1.5 1.6 0.5 1.5 1 1.6 0.5 1.5 0.5 1.5-1 1.6-1.5 1.5-0.5 1.6 1 1.5 2 1.6 0.5 1.5 0 1.5 0 1.6 0.5 1.5-0.5 1.6-0.5 1.5 0.5 1.6 1 1.5 0 1.5-0.5 1.6 0 1.5 0.5 1.6 1 1.5-0.5 1.6-1.5 1.5 0.5 1.5 1 1.6-0.5 1.5-1 1.6 0.5" stroke="#f5fa68"/><path d="M364.3 503.5l1.5 3 1.6 0.5 1.5 1 1.6-4 1.5-6 1.6 4.5 1.5 10 1.5-5 1.6-47 1.5-42 1.6-37 1.5 0 1.6 2.5 1.5 3 1.5 5.5 1.6 5 1.5 6 1.6 6 1.5 3 1.6 3 1.5 3.5 1.5 2.5 1.6 1.5 1.5 0.5 1.6 0.5 1.5 2.5 1.6 4.5 1.5 3 1.5 2 1.6 1 1.5 1 1.6 2 1.5 2 1.5 0 1.6 1.5 1.5 2.5 1.6 1 1.5 0.5 1.6 1.5 1.5 1.5 1.5 2 1.6 0.5 1.5 0 1.6 0.5 1.5 1 1.6 2 1.5 2.5 1.5 1 1.6 0 1.5 0.5 1.6 0 1.5-0.5 1.6 0.5 1.5 1.5 1.5 2 1.6 0.5 1.5 0.5 1.6 1 1.5 1.5 1.6 2 1.5 1 1.5 0.5 1.6-0.5 1.5 0 1.6 0 1.5 1.5 1.6 1 1.5 0.5 1.5 1 1.6 1 1.5-1.5 1.6-1 1.5 1.5 1.6 2 1.5 1 1.5 0 1.6 0 1.5-0.5 1.6-0.5 1.5 1 1.6 0 1.5-0.5 1.5 0 1.6 2 1.5 2 1.6 1 1.5 0.5 1.5-1 1.6-1 1.5 0 1.6-0.5 1.5 1 1.6 1 1.5 0.5 1.5 0.5 1.6 0 1.5 0 1.6 1 1.5 1 1.6 1 1.5-0.5 1.5-1 1.6-0.5 1.5 0 1.6 0.5 1.5 0.5 1.6 0.5 1.5 0.5 1.5 0 1.6 0.5 1.5-0.5 1.6-0.5 1.5 0.5 1.6 1 1.5 0 1.5 0.5 1.6 1 1.5 1 1.6 0 1.5-0.5 1.6-0.5 1.5 0.5 1.5 0.5 1.6 1 1.5 0 1.6-0.5 1.5-1 1.6-0.5 1.5 0 1.5 1 1.6 0.5 1.5-0.5 1.6 0 1.5-0.5 1.6-0.5 1.5 0.5 1.5 1.5 1.6 1 1.5 0.5 1.6 0 1.5-1 1.5-1 1.6 0 1.5 0.5 1.6 1 1.5 0.5 1.6 0 1.5 1 1.5 0 1.6 0 1.5 0.5 1.6 1 1.5 0 1.6 0 1.5 0 1.5-0.5 1.6-1.5 1.5-0.5 1.6 1 1.5 1 1.6-0.5 1.5 0 1.5 1.5 1.6 0 1.5-0.5 1.6-0.5" stroke="#bce36a"/><path d="M364.3 524l1.5-5 1.6-26 1.5-39.5 1.6-40.5 1.5-34 1.6 17.5 1.5 21.5 1.5 15.5 1.6 7 1.5-1 1.6-0.5 1.5 6 1.6 9 1.5 7 1.5 0 1.6-1 1.5 2.5 1.6 4.5 1.5 3 1.6 0 1.5 0 1.5 1 1.6 3.5 1.5 4 1.6 2.5 1.5 1 1.6-0.5 1.5-0.5 1.5 0 1.6 0 1.5 2 1.6 1.5 1.5 1 1.5 1 1.6-0.5 1.5-2 1.6-1 1.5 1 1.6 2 1.5 1.5 1.5 0 1.6-1 1.5 1 1.6 1 1.5 0.5 1.6-0.5 1.5 0 1.5 0.5 1.6 2 1.5 1.5 1.6-0.5 1.5-0.5 1.6 0 1.5 1.5 1.5 1 1.6-0.5 1.5 0.5 1.6 1.5 1.5 0.5 1.6-1.5 1.5-1 1.5 1 1.6 1 1.5 0 1.6-0.5 1.5-0.5 1.6 0.5 1.5-0.5 1.5 0.5 1.6 0 1.5 0 1.6 0 1.5 0.5 1.6 0.5 1.5-0.5 1.5-0.5 1.6 0 1.5 1 1.6 0.5 1.5 0.5 1.6 1 1.5 0.5 1.5-0.5 1.6-0.5 1.5 0.5 1.6 0.5 1.5-0.5 1.5-0.5 1.6 0.5 1.5 1 1.6 0 1.5 0 1.6 0 1.5 0.5 1.5 0 1.6 0 1.5-0.5 1.6-0.5 1.5 0 1.6 0 1.5-0.5 1.5 0.5 1.6 0.5 1.5 0 1.6 0 1.5 0.5 1.6 1 1.5 0.5 1.5-0.5 1.6 0.5 1.5-0.5 1.6-0.5 1.5 0 1.6 0 1.5 0.5 1.5 0.5 1.6 0.5 1.5-0.5 1.6-1 1.5-0.5 1.6 0.5 1.5 1.5 1.5 1 1.6-0.5 1.5-1 1.6 0 1.5 0.5 1.6 0 1.5-1 1.5 0.5 1.6 0.5 1.5-0.5 1.6-1 1.5 1 1.6 0.5 1.5 0 1.5 1 1.6 0.5 1.5 0 1.6 0 1.5 0.5 1.5 0 1.6 0.5 1.5 0 1.6 0 1.5 0 1.6-0.5 1.5-1 1.5-0.5 1.6 0 1.5 0 1.6-0.5 1.5 0 1.6 0.5 1.5 1 1.5 0.5 1.6-0.5 1.5-1 1.6-1 1.5 1 1.6 0 1.5 0 1.5 0 1.6 0 1.5 1 1.6 0.5" stroke="#2244a7"/><path d="M364.3 496l1.5 7.5 1.6 10 1.5 3.5 1.6 3 1.5 3.5 1.6-2 1.5-6.5 1.5-4.5 1.6-18 1.5-27 1.6-27 1.5-22.5 1.6 2.5 1.5 5 1.5 7 1.6 3.5 1.5-0.5 1.6 0 1.5 6 1.6 6.5 1.5 2 1.5-1 1.6 0 1.5 1.5 1.6 0.5 1.5-0.5 1.6 1 1.5 2.5 1.5 4 1.6 3.5 1.5 1.5 1.6-0.5 1.5-1 1.5-0.5 1.6 0 1.5 0.5 1.6 1.5 1.5 2 1.6 2 1.5 1 1.5 2 1.6 2 1.5 0 1.6-0.5 1.5 0.5 1.6 1.5 1.5 1 1.5 0 1.6 0 1.5 1 1.6 0 1.5 1 1.6 2 1.5 0.5 1.5 0 1.6-0.5 1.5-0.5 1.6 0 1.5-0.5 1.6 1 1.5 1.5 1.5 1 1.6 0.5 1.5 0 1.6 0 1.5 0.5 1.6 1 1.5 1 1.5 0 1.6-0.5 1.5 0 1.6 1 1.5 1.5 1.6 0 1.5 0 1.5 1 1.6 0.5 1.5 0 1.6-1 1.5 0 1.6 0 1.5 0 1.5 0.5 1.6 0.5 1.5 1.5 1.6 1.5 1.5 0 1.5-0.5 1.6-0.5 1.5 0.5 1.6 0.5 1.5 0 1.6 0 1.5 1 1.5 1 1.6 0 1.5 0 1.6 0 1.5 0.5 1.6 0 1.5 0 1.5 0.5 1.6 1 1.5 1 1.6-1 1.5-1 1.6 0.5 1.5 1.5 1.5 0 1.6-0.5 1.5 0 1.6 0.5 1.5-1 1.6-0.5 1.5 0.5 1.5 0 1.6 0.5 1.5 0.5 1.6 0 1.5 0.5 1.6 0 1.5 0 1.5 0.5 1.6 0.5 1.5 0 1.6-0.5 1.5 0 1.6-0.5 1.5-1 1.5 0.5 1.6 1.5 1.5 1.5 1.6 0 1.5-1 1.6 0 1.5 1 1.5 0 1.6-0.5 1.5-0.5 1.6 2 1.5 1 1.5 0 1.6-1 1.5-0.5 1.6 0 1.5-0.5 1.6 0 1.5 0.5 1.5 0.5 1.6-0.5 1.5-0.5 1.6 0.5 1.5 1 1.6-0.5 1.5-1.5 1.5-1 1.6 0.5 1.5 1.5 1.6 1.5 1.5 0 1.6-0.5 1.5-1.5 1.5-1 1.6 0 1.5 1 1.6 1" stroke="#6b9f79"/><path d="M364.3 524l1.5 0 1.6 0 1.5-0.5 1.6-6 1.5-3.5 1.6 2.5 1.5 2.5 1.5 3 1.6-1.5 1.5-35 1.6-36.5 1.5-39 1.6-13 1.5 5.5 1.5 6 1.6 7.5 1.5 4.5 1.6 4.5 1.5 3 1.6 3 1.5 5 1.5 2 1.6-1.5 1.5 1.5 1.6 3 1.5 3 1.6 2 1.5 0.5 1.5 1.5 1.6 3 1.5 2.5 1.6 2 1.5 1 1.5 0.5 1.6 1 1.5 1.5 1.6 1.5 1.5 0 1.6 0 1.5 1 1.5 0.5 1.6-0.5 1.5 0.5 1.6 2 1.5 1.5 1.6 1 1.5 0 1.5 0 1.6 0 1.5 1 1.6 1.5 1.5 1.5 1.6 1 1.5-0.5 1.5 0 1.6 1.5 1.5 1.5 1.6 0 1.5-0.5 1.6-0.5 1.5 1 1.5 1.5 1.6 1.5 1.5 0.5 1.6 0 1.5 0 1.6-1 1.5 0 1.5 1.5 1.6 1 1.5 0 1.6-0.5 1.5 0 1.6 0.5 1.5 0 1.5 1.5 1.6 1 1.5 0 1.6 0 1.5 0 1.6 0 1.5 0 1.5 1 1.6 0.5 1.5 0.5 1.6 0.5 1.5 0 1.5-0.5 1.6 0 1.5-0.5 1.6 0.5 1.5 0.5 1.6 1.5 1.5 1 1.5 0 1.6-1 1.5 0.5 1.6 0.5 1.5 1 1.6 0.5 1.5-0.5 1.5-0.5 1.6 1 1.5 0 1.6 0 1.5 0 1.6 0 1.5 0 1.5 0.5 1.6 0.5 1.5-0.5 1.6-0.5 1.5-0.5 1.6 0 1.5 2 1.5 1.5 1.6-0.5 1.5-0.5 1.6 0 1.5 0.5 1.6 0.5 1.5 0 1.5-0.5 1.6 0 1.5 1.5 1.6 1 1.5 0.5 1.6 0 1.5 0.5 1.5 0.5 1.6-1 1.5-1.5 1.6-0.5 1.5 0.5 1.6 0 1.5-0.5 1.5 0.5 1.6 0 1.5 0 1.6-0.5 1.5 0.5 1.5 0.5 1.6 0.5 1.5 0.5 1.6 1.5 1.5 0.5 1.6-1 1.5 0 1.5 0 1.6 0 1.5 0.5 1.6 0 1.5-1 1.6 0 1.5 1 1.5 0.5 1.6-1 1.5-0.5 1.6 0.5 1.5 0.5 1.6-0.5 1.5-0.5 1.5 0.5 1.6 1 1.5 0.5 1.6-0.5" stroke="#a3d16d"/><path d="M364.3 510l1.5-5.5 1.6-3 1.5 3.5 1.6-1 1.5-4.5 1.6 5 1.5 8 1.5 6 1.6-43.5 1.5-53.5 1.6-9 1.5-1 1.6 1 1.5 3.5 1.5 3 1.6 3 1.5 3.5 1.6 3.5 1.5 1.5 1.6-0.5 1.5-2.5 1.5 0 1.6 3.5 1.5 3.5 1.6 0.5 1.5-1 1.6-1 1.5 1 1.5 2 1.6 1 1.5 1 1.6 1.5 1.5 1.5 1.5 0 1.6 0 1.5 1.5 1.6 1.5 1.5 1 1.6 0.5 1.5 0.5 1.5 1 1.6 1 1.5 1 1.6 1.5 1.5 0.5 1.6 0 1.5 0 1.5 0.5 1.6 1.5 1.5 2.5 1.6 0.5 1.5 0 1.6 1 1.5 0.5 1.5 0 1.6 0.5 1.5 1.5 1.6 2 1.5 2 1.6 0 1.5-1 1.5 0 1.6 1 1.5 1 1.6 0.5 1.5 0.5 1.6 1 1.5 0.5 1.5 0.5 1.6 0 1.5 0.5 1.6 1 1.5-0.5 1.6 0 1.5 0.5 1.5 1 1.6 1.5 1.5 0.5 1.6 0 1.5-0.5 1.6-0.5 1.5 0 1.5 1 1.6 1.5 1.5 0.5 1.6 1 1.5 1 1.5 0 1.6-1 1.5-0.5 1.6 0.5 1.5 0.5 1.6 0.5 1.5 0.5 1.5 2 1.6 0.5 1.5-0.5 1.6-0.5 1.5 0 1.6 0.5 1.5 2 1.5 1 1.6 0 1.5 0 1.6 0 1.5-0.5 1.6 0 1.5-0.5 1.5 0 1.6 1 1.5 1 1.6-0.5 1.5 0 1.6 0.5 1.5 0.5 1.5 0.5 1.6 0.5 1.5 0.5 1.6 0 1.5 0.5 1.6 0 1.5-0.5 1.5-0.5 1.6 0 1.5 0.5 1.6 0.5 1.5 0.5 1.6 0 1.5 0.5 1.5 0 1.6-0.5 1.5 0.5 1.6-0.5 1.5 0.5 1.6 1.5 1.5 1 1.5 0 1.6 0 1.5 0 1.6-0.5 1.5 0 1.5 0 1.6 0 1.5-0.5 1.6-1 1.5-0.5 1.6 1.5 1.5 2 1.5 0.5 1.6-0.5 1.5-1 1.6-1 1.5 0 1.6 1 1.5 1 1.5 1 1.6 0.5 1.5-0.5 1.6 0 1.5 0.5 1.6 0 1.5-0.5 1.5-1 1.6-1 1.5 0.5 1.6 1" stroke="#f5fa68"/><path d="M364.3 524l1.5 0 1.6-32 1.5-37.5 1.6-34 1.5-15.5 1.6 12 1.5 4.5 1.5-2 1.6 1.5 1.5 2 1.6 3.5 1.5 2 1.6-0.5 1.5 0 1.5 2.5 1.6 3 1.5 1 1.6 0 1.5 3 1.6 2 1.5 1.5 1.5-2.5 1.6-3 1.5 0 1.6 3 1.5 2.5 1.6 2.5 1.5 2 1.5 1 1.6 0.5 1.5 2.5 1.6 2 1.5 0 1.5-0.5 1.6 0 1.5 1.5 1.6 0.5 1.5 1 1.6 1.5 1.5 1.5 1.5 1 1.6 0.5 1.5-1 1.6 0 1.5 2 1.6 2 1.5 1.5 1.5 0 1.6-0.5 1.5 0 1.6 1 1.5 0.5 1.6 0 1.5 0 1.5 1 1.6 1 1.5 1 1.6 1.5 1.5 1 1.6 0.5 1.5 0.5 1.5-0.5 1.6-1 1.5 0.5 1.6 0.5 1.5 1.5 1.6 1.5 1.5 1 1.5 1 1.6 0.5 1.5 0 1.6 0 1.5-0.5 1.6-0.5 1.5 0 1.5 0.5 1.6 0.5 1.5 1 1.6 0.5 1.5 0 1.6 0 1.5 0.5 1.5 0.5 1.6 1 1.5 1 1.6 0.5 1.5 1 1.5 0 1.6-0.5 1.5-0.5 1.6 0 1.5 0.5 1.6 0.5 1.5 0 1.5 0.5 1.6 0 1.5 0.5 1.6 0 1.5 0.5 1.6 1.5 1.5 1.5 1.5-0.5 1.6 0 1.5 0.5 1.6 0 1.5 0 1.6-0.5 1.5-0.5 1.5-1 1.6 0 1.5 1 1.6 0.5 1.5 1 1.6 1 1.5 0.5 1.5 1 1.6 1 1.5-0.5 1.6-1.5 1.5-0.5 1.6 1.5 1.5 1.5 1.5-0.5 1.6-0.5 1.5-0.5 1.6-1 1.5 0 1.6 1.5 1.5 0.5 1.5 0 1.6-1 1.5 0 1.6 0.5 1.5 1 1.6 0 1.5-0.5 1.5 0 1.6 1 1.5 1.5 1.6 0.5 1.5-0.5 1.5-1 1.6-1.5 1.5 0 1.6 0.5 1.5 0 1.6 1 1.5 0.5 1.5 0 1.6 0 1.5-0.5 1.6-0.5 1.5-0.5 1.6 0 1.5 0.5 1.5 0.5 1.6 0 1.5-0.5 1.6 0.5 1.5 0 1.6 0.5 1.5 0.5 1.5 0.5 1.6 0.5 1.5 1 1.6-0.5" stroke="#7cb075"/><path d="M364.3 515.5l1.5-0.5 1.6-3 1.5 1 1.6 2 1.5-5 1.6-6 1.5-3 1.5-2.5 1.6 4 1.5 3.5 1.6 2 1.5 0.5 1.6-0.5 1.5 2 1.5 2 1.6-2.5 1.5-5.5 1.6-2 1.5-9 1.6-17.5 1.5-17.5 1.5-17 1.6 0.5 1.5-0.5 1.6 0 1.5-0.5 1.6-3 1.5-3 1.5 0.5 1.6 2.5 1.5 1 1.6-1 1.5-3 1.5-2.5 1.6-1 1.5 1.5 1.6 2 1.5 2.5 1.6 2 1.5 1 1.5 2 1.6 2.5 1.5 1.5 1.6 1.5 1.5 2 1.6 1 1.5 1.5 1.5 1 1.6 0.5 1.5 1 1.6 1.5 1.5 2 1.6 2.5 1.5 2.5 1.5 1 1.6-0.5 1.5 1 1.6 1 1.5 0.5 1.6 0 1.5 1 1.5 1.5 1.6 1 1.5 0.5 1.6 0.5 1.5 1 1.6 0.5 1.5 1 1.5 1 1.6 1.5 1.5 1 1.6 0.5 1.5 1 1.6 1 1.5-0.5 1.5-0.5 1.6 0 1.5 0.5 1.6 0 1.5 1.5 1.6 2 1.5 1 1.5 0.5 1.6 0.5 1.5 1.5 1.6-0.5 1.5-1 1.5-1 1.6 0.5 1.5 1.5 1.6 1.5 1.5 1.5 1.6 1 1.5-0.5 1.5-0.5 1.6-0.5 1.5-0.5 1.6 1 1.5 0.5 1.6 1 1.5 0 1.5-0.5 1.6 0 1.5 0.5 1.6 0.5 1.5-1 1.6 0 1.5 0.5 1.5 2 1.6 1.5 1.5 0 1.6-1 1.5 0 1.6 0 1.5 0 1.5 1 1.6 0.5 1.5 0 1.6 0.5 1.5 0 1.6-0.5 1.5-1.5 1.5 0.5 1.6 1.5 1.5 0.5 1.6-0.5 1.5-1 1.6 1 1.5 0 1.5 0 1.6 0 1.5 0 1.6 0 1.5 0.5 1.6 0 1.5-0.5 1.5 0.5 1.6 1.5 1.5 1.5 1.6-0.5 1.5-1.5 1.5-0.5 1.6-0.5 1.5 0 1.6 0.5 1.5 0.5 1.6 0 1.5 0 1.5 0.5 1.6 0.5 1.5 0.5 1.6 0 1.5 0.5 1.6 0.5 1.5 0.5 1.5-1 1.6-1 1.5 0 1.6 0 1.5 0.5 1.6-1 1.5-0.5 1.5 1 1.6 0 1.5-1.5 1.6 0" stroke="#b6df6a"/><path d="M364.3 512l1.5 0.5 1.6-1.5 1.5 0.5 1.6 2.5 1.5-3.5 1.6-3 1.5-0.5 1.5-13 1.6-16 1.5-12 1.6-13 1.5-15 1.6-14.5 1.5-1.5 1.5-2 1.6 3 1.5 4.5 1.6 0.5 1.5-2 1.6 1.5 1.5 4 1.5 2 1.6 0.5 1.5 0 1.6 1 1.5 1 1.6 1 1.5-0.5 1.5-1 1.6 0 1.5 1.5 1.6 3.5 1.5 2.5 1.5 1 1.6 0 1.5 0 1.6 0 1.5 0 1.6 0.5 1.5 1.5 1.5 1 1.6 0.5 1.5 1.5 1.6 1 1.5 0.5 1.6-0.5 1.5 0 1.5 1 1.6 1.5 1.5 1.5 1.6 2 1.5 0.5 1.6 0 1.5 1.5 1.5 1 1.6 0 1.5-1 1.6 0.5 1.5 1 1.6 1 1.5 1 1.5 1 1.6 1.5 1.5 1 1.6 1 1.5-0.5 1.6-1 1.5 0.5 1.5 0.5 1.6 1.5 1.5 1 1.6 1 1.5 0.5 1.6-1 1.5-0.5 1.5 1.5 1.6 1.5 1.5 0 1.6-1 1.5 0.5 1.6 0.5 1.5 1 1.5 1 1.6 0.5 1.5 0 1.6 0.5 1.5 1 1.5 0.5 1.6-0.5 1.5 0 1.6 0.5 1.5 1 1.6 1 1.5 0.5 1.5 0 1.6 0 1.5-0.5 1.6-0.5 1.5 0.5 1.6 1.5 1.5 1 1.5 0.5 1.6-1 1.5 0.5 1.6 0.5 1.5 0.5 1.6 0 1.5-1 1.5 0.5 1.6 1 1.5 0 1.6 0 1.5 0 1.6 0.5 1.5 0.5 1.5 0.5 1.6 1 1.5-0.5 1.6-0.5 1.5 1 1.6 0.5 1.5-0.5 1.5 0.5 1.6 0 1.5 0 1.6 0.5 1.5 1 1.6 0.5 1.5 0.5 1.5-0.5 1.6 0.5 1.5 0.5 1.6 0 1.5 0 1.6-0.5 1.5-0.5 1.5 1 1.6 0.5 1.5 0 1.6-1.5 1.5-1 1.5 0.5 1.6 1 1.5 0.5 1.6 0.5 1.5 0.5 1.6 0.5 1.5 1 1.5 0 1.6 0 1.5 0 1.6 0.5 1.5 0 1.6 0.5 1.5 0.5 1.5-0.5 1.6-0.5 1.5 0 1.6 0.5 1.5 0 1.6-0.5 1.5 0.5 1.5 0 1.6-0.5 1.5-1.5 1.6-0.5" stroke="#d0ed69"/><path d="M364.3 516.5l1.5-6.5 1.6-7 1.5-6 1.6-10 1.5-10 1.6-15.5 1.5-27 1.5-29 1.6-19.5 1.5 7.5 1.6 6 1.5 3.5 1.6 5.5 1.5 5 1.5 5 1.6 5.5 1.5 2 1.6 2 1.5 2 1.6 0 1.5 0.5 1.5 2 1.6 1 1.5 1.5 1.6 2.5 1.5 3 1.6 2.5 1.5 2 1.5 1 1.6 0.5 1.5 1.5 1.6 2.5 1.5 1 1.5 0 1.6 0 1.5 1 1.6 2 1.5 0.5 1.6 0.5 1.5 0.5 1.5 0.5 1.6 1.5 1.5 2 1.6 1 1.5 0.5 1.6 0 1.5 1.5 1.5 1.5 1.6 1.5 1.5 0.5 1.6 1.5 1.5 0.5 1.6 0.5 1.5 0.5 1.5 0.5 1.6 1 1.5 1 1.6 0 1.5 0 1.6 0 1.5 0.5 1.5 0.5 1.6 1 1.5 1 1.6 1 1.5 0.5 1.6 1 1.5 0 1.5-1 1.6 0 1.5 0.5 1.6 1 1.5 0.5 1.6 0 1.5 0.5 1.5 1.5 1.6 1 1.5 0.5 1.6 0 1.5-0.5 1.6 0 1.5 0.5 1.5 0.5 1.6 0.5 1.5 0.5 1.6 0 1.5 0 1.5 1 1.6 1 1.5 0 1.6 1 1.5 1 1.6 1 1.5 0 1.5-1 1.6 0.5 1.5 0.5 1.6 0 1.5 0 1.6 0 1.5 0.5 1.5 0 1.6 0 1.5 1 1.6 1 1.5 0.5 1.6-1 1.5 0 1.5 1 1.6 1 1.5 0 1.6-1 1.5-0.5 1.6 0.5 1.5 1 1.5 0.5 1.6 0 1.5-0.5 1.6 0 1.5 1.5 1.6 0.5 1.5-1 1.5-0.5 1.6-0.5 1.5 0.5 1.6 0.5 1.5 0.5 1.6 0 1.5-0.5 1.5-0.5 1.6-0.5 1.5 0 1.6 1 1.5 1 1.6 0 1.5-0.5 1.5 0 1.6 1 1.5 1.5 1.6 1 1.5-1.5 1.5-2 1.6 0.5 1.5 2 1.6 1 1.5 0 1.6 0 1.5-0.5 1.5 1 1.6 0 1.5-0.5 1.6-1 1.5 0 1.6 0.5 1.5 0.5 1.5 0 1.6-1 1.5 0.5 1.6 1.5 1.5 0 1.6-1 1.5-0.5 1.5 0.5 1.6-0.5 1.5-0.5 1.6 0.5" stroke="#699d79"/><path d="M364.3 524l1.5 0 1.6 0 1.5-3 1.6-2.5 1.5-1 1.6-1 1.5-42.5 1.5-56.5 1.6-25 1.5 6 1.6 10 1.5 10.5 1.6 7.5 1.5 2 1.5 0.5 1.6 2.5 1.5 3 1.6 2.5 1.5 3.5 1.6 2.5 1.5 0 1.5 1.5 1.6 4 1.5 3.5 1.6 1.5 1.5 2.5 1.6 2.5 1.5 3 1.5 2 1.6 1 1.5 1.5 1.6 1 1.5 0.5 1.5 0.5 1.6 1 1.5 2 1.6 1.5 1.5 1.5 1.6-0.5 1.5-0.5 1.5 1 1.6 2 1.5 2 1.6 1.5 1.5 0.5 1.6-1 1.5-0.5 1.5 1 1.6 1.5 1.5 0.5 1.6-0.5 1.5 0 1.6 1 1.5 2.5 1.5 1 1.6 0 1.5 0.5 1.6 0.5 1.5 0.5 1.6 1 1.5 0.5 1.5 0 1.6 0 1.5 1 1.6-0.5 1.5-0.5 1.6 0 1.5 2 1.5 1.5 1.6 0.5 1.5 0 1.6-0.5 1.5 0 1.6 1.5 1.5 1 1.5 0 1.6 0 1.5 0.5 1.6 1 1.5 0.5 1.6 1 1.5 0.5 1.5 0 1.6-0.5 1.5 0 1.6-0.5 1.5-1.5 1.5 0.5 1.6 1.5 1.5 0.5 1.6-0.5 1.5 0 1.6 1.5 1.5 0.5 1.5 0 1.6 0.5 1.5 0 1.6-0.5 1.5 0.5 1.6 0.5 1.5 1 1.5 0 1.6-1 1.5-1 1.6 0 1.5 1.5 1.6 1.5 1.5-0.5 1.5-1 1.6-0.5 1.5 0 1.6 0.5 1.5 0.5 1.6 0.5 1.5 0 1.5 0 1.6-0.5 1.5 0 1.6-0.5 1.5 0.5 1.6 0 1.5 0.5 1.5 1 1.6 1 1.5 0.5 1.6-0.5 1.5 0 1.6 0.5 1.5 0.5 1.5-0.5 1.6-1 1.5-0.5 1.6-0.5 1.5-0.5 1.6 0 1.5 0.5 1.5 0.5 1.6 0.5 1.5 0 1.6 0.5 1.5 0 1.5-0.5 1.6-0.5 1.5 1 1.6 1 1.5 0.5 1.6-0.5 1.5-1 1.5 0 1.6 1 1.5 1 1.6-0.5 1.5 0 1.6 0 1.5 0 1.5-1 1.6-0.5 1.5 0 1.6 0.5 1.5 0 1.6 0.5 1.5 0 1.5 0.5 1.6 0 1.5 0.5 1.6 0" stroke="#2346a6"/><path d="M364.3 515.5l1.5-6 1.6 1 1.5 2.5 1.6-3 1.5-16 1.6-27 1.5-24.5 1.5-22 1.6-20.5 1.5 4.5 1.6 9.5 1.5 4.5 1.6-1 1.5 3 1.5 5.5 1.6 2 1.5 0.5 1.6 2 1.5 2.5 1.6 2.5 1.5 2 1.5 1 1.6 0 1.5 1 1.6 0 1.5-1 1.6 0 1.5 1.5 1.5 2 1.6 2 1.5 2 1.6 1.5 1.5 2 1.5 0.5 1.6 0.5 1.5 0 1.6 0 1.5 0.5 1.6 2.5 1.5 2.5 1.5 1.5 1.6 2 1.5 2.5 1.6 0.5 1.5-0.5 1.6-0.5 1.5 1 1.5 1.5 1.6 0.5 1.5-1.5 1.6-1 1.5 1 1.6 3 1.5 2 1.5 0.5 1.6-0.5 1.5 1 1.6 0.5 1.5 0.5 1.6 0.5 1.5 1 1.5 1 1.6 0 1.5 0 1.6 0.5 1.5 0.5 1.6 1.5 1.5 0.5 1.5 0 1.6 0.5 1.5 1 1.6 0 1.5-0.5 1.6 0 1.5 1.5 1.5 1.5 1.6 0.5 1.5 0.5 1.6 0.5 1.5 0.5 1.6 0.5 1.5 0.5 1.5 0.5 1.6 0.5 1.5 1 1.6 1 1.5 0 1.5 0.5 1.6 0 1.5 0.5 1.6-1 1.5-0.5 1.6 1.5 1.5 1 1.5 0 1.6 0 1.5-0.5 1.6-0.5 1.5 0.5 1.6 1 1.5 0 1.5 0.5 1.6 0.5 1.5 0 1.6 0 1.5 0.5 1.6-0.5 1.5-0.5 1.5 0.5 1.6 1 1.5 1 1.6 0.5 1.5 0 1.6 0.5 1.5 1 1.5-0.5 1.6-1 1.5-1 1.6 0 1.5 1 1.6 1 1.5 0.5 1.5 0.5 1.6 0.5 1.5-0.5 1.6-1 1.5 0.5 1.6 1.5 1.5 1 1.5-1 1.6-1 1.5 0 1.6 0.5 1.5 0.5 1.6 0.5 1.5 0 1.5 0.5 1.6 1 1.5 0 1.6-0.5 1.5-1 1.5 1 1.6 0.5 1.5 0 1.6-0.5 1.5 0 1.6 1 1.5 0 1.5 0 1.6 0.5 1.5 0 1.6-0.5 1.5 0 1.6 0.5 1.5-0.5 1.5 0 1.6 0 1.5 0.5 1.6 0.5 1.5 0.5 1.6 1.5 1.5 1 1.5-1.5 1.6-1.5 1.5 0 1.6 0.5" stroke="#7fb374"/><path d="M364.3 515l1.5 9 1.6 0 1.5 0 1.6 0 1.5-21 1.6-25.5 1.5-23.5 1.5-22 1.6-21 1.5 3 1.6 3 1.5 5 1.6 3.5 1.5 2 1.5 2.5 1.6 5 1.5 6.5 1.6 3.5 1.5-0.5 1.6-1.5 1.5 1.5 1.5 2 1.6 1 1.5 2.5 1.6 4 1.5 3.5 1.6 1 1.5-0.5 1.5 0 1.6 1 1.5 2 1.6 2 1.5 2 1.5 1.5 1.6 0.5 1.5 0 1.6 0.5 1.5 1 1.6 0.5 1.5 0 1.5 0.5 1.6 1.5 1.5 2 1.6 2 1.5 0.5 1.6-1 1.5 0.5 1.5 1.5 1.6 0.5 1.5 0 1.6 0 1.5 2 1.6 1.5 1.5 1 1.5-0.5 1.6 0.5 1.5 0 1.6 0.5 1.5 0.5 1.6 0.5 1.5 1 1.5 1 1.6 1.5 1.5 0 1.6-1.5 1.5 0 1.6 0.5 1.5 1 1.5 0.5 1.6 0.5 1.5 1 1.6 1 1.5 0 1.6-0.5 1.5 0.5 1.5 0.5 1.6 1 1.5 0.5 1.6 0 1.5 0 1.6 0 1.5-0.5 1.5-0.5 1.6 0 1.5 0.5 1.6 1.5 1.5 0.5 1.5 0.5 1.6 0.5 1.5 0 1.6-0.5 1.5-0.5 1.6 0 1.5 0.5 1.5 1 1.6 1 1.5 0.5 1.6-0.5 1.5 0 1.6 0 1.5-0.5 1.5-0.5 1.6 0.5 1.5 0.5 1.6 0.5 1.5 0 1.6-0.5 1.5 0.5 1.5 0.5 1.6 0.5 1.5 0 1.6-0.5 1.5-1 1.6 0 1.5 1 1.5 0.5 1.6 0 1.5 1 1.6 0.5 1.5-0.5 1.6 0.5 1.5 0.5 1.5 0 1.6 0 1.5-1 1.6 0 1.5-0.5 1.6 0 1.5 1.5 1.5 0.5 1.6 0.5 1.5 0.5 1.6 0 1.5-0.5 1.6 0 1.5-1 1.5 0 1.6 1 1.5 0 1.6 0 1.5 0 1.5 0 1.6 0.5 1.5 0 1.6-0.5 1.5-0.5 1.6 0.5 1.5 1.5 1.5-1 1.6-1.5 1.5 0 1.6 0.5 1.5 1 1.6 1 1.5 0.5 1.5 0.5 1.6-0.5 1.5-1.5 1.6-1 1.5 0 1.6 0 1.5 0 1.5 0 1.6 1.5 1.5 1 1.6-0.5" stroke="#396a91"/><path d="M364.3 516l1.5-6 1.6-0.5 1.5 0 1.6 4 1.5-0.5 1.6-6.5 1.5 4 1.5 8.5 1.6 1.5 1.5-22.5 1.6-26 1.5-23 1.6-16 1.5-12.5 1.5 0.5 1.6 1 1.5 4 1.6 3.5 1.5 0.5 1.6-0.5 1.5 3 1.5 3.5 1.6 3.5 1.5 2.5 1.6 2 1.5 0.5 1.6 0.5 1.5 1 1.5 1.5 1.6 0.5 1.5 1 1.6 2 1.5 2.5 1.5 2 1.6 1 1.5 0 1.6-1 1.5 0 1.6 0.5 1.5 1.5 1.5 1.5 1.6 1 1.5 0 1.6 0.5 1.5 1 1.6 0 1.5 0 1.5 1.5 1.6 1.5 1.5 2 1.6 1 1.5 0.5 1.6 0 1.5 1.5 1.5 1 1.6 1 1.5 1 1.6 0 1.5-1 1.6 0 1.5 0.5 1.5 1 1.6 1 1.5 0.5 1.6 0 1.5 0 1.6 0.5 1.5 0.5 1.5 0.5 1.6-0.5 1.5 0 1.6 0 1.5 1.5 1.6 1 1.5 1 1.5 0.5 1.6 1.5 1.5 1 1.6-0.5 1.5-0.5 1.6 1 1.5 0.5 1.5 0 1.6 0.5 1.5 1 1.6 0.5 1.5 0 1.5 1 1.6 1.5 1.5 0.5 1.6 0.5 1.5 0 1.6-1 1.5-0.5 1.5 1.5 1.6 1 1.5 0 1.6-0.5 1.5-1.5 1.6-1 1.5 0 1.5 0.5 1.6 0 1.5 1.5 1.6 1.5 1.5 0 1.6 1 1.5 1 1.5 0.5 1.6 0 1.5-1 1.6-1 1.5 0.5 1.6 0.5 1.5 1 1.5 0 1.6-0.5 1.5-1 1.6 0.5 1.5 1 1.6 1 1.5-0.5 1.5-0.5 1.6 0 1.5 0.5 1.6 0.5 1.5 1 1.6 0 1.5-1 1.5-1 1.6 0 1.5 1 1.6 1 1.5 0.5 1.6-0.5 1.5 0.5 1.5 0.5 1.6 0 1.5 0 1.6 1 1.5 0 1.5-0.5 1.6 0 1.5 0.5 1.6 0 1.5-0.5 1.6 0.5 1.5 1 1.5 0 1.6-1 1.5 0 1.6 1 1.5 1 1.6-1 1.5-1 1.5-0.5 1.6-0.5 1.5 1 1.6 1 1.5-0.5 1.6-1 1.5 0 1.5 0.5 1.6 0.5 1.5 0 1.6 0.5" stroke="#9fcf6d"/><path d="M364.3 520.5l1.5 0.5 1.6-6 1.5 1.5 1.6-6.5 1.5-31 1.6-28 1.5-28 1.5-31 1.6-11 1.5 15 1.6 14.5 1.5 9.5 1.6 7 1.5 4.5 1.5 4.5 1.6 6.5 1.5 5 1.6 3 1.5 1.5 1.6 1 1.5 2 1.5 2 1.6 0 1.5-0.5 1.6 0.5 1.5 2.5 1.6 4.5 1.5 3.5 1.5 1.5 1.6 2 1.5 0.5 1.6 0 1.5 0 1.5 0 1.6 0.5 1.5 1 1.6 1 1.5 1.5 1.6 2.5 1.5 2 1.5 0.5 1.6 0 1.5-0.5 1.6-0.5 1.5 1 1.6 1 1.5 0.5 1.5 0.5 1.6 0.5 1.5 1.5 1.6 1 1.5-0.5 1.6-1 1.5 1 1.5 2.5 1.6 0.5 1.5-0.5 1.6-1.5 1.5-0.5 1.6 1 1.5 1 1.5 1 1.6 0.5 1.5 0.5 1.6 0.5 1.5 0 1.6 0 1.5 0 1.5 1.5 1.6 0.5 1.5 0 1.6 0 1.5 1 1.6 0.5 1.5-1 1.5-1 1.6 0 1.5 0 1.6 1 1.5 1 1.6 1 1.5 1 1.5 0 1.6 0 1.5 0.5 1.6 0 1.5-0.5 1.5 0.5 1.6 0.5 1.5 0.5 1.6 0 1.5 0.5 1.6 1 1.5 0.5 1.5-0.5 1.6-0.5 1.5-1 1.6 0 1.5 0 1.6 1 1.5 1.5 1.5 0.5 1.6 0 1.5 0.5 1.6-0.5 1.5-0.5 1.6 0.5 1.5 1 1.5 0.5 1.6 0 1.5-1 1.6-1 1.5 0 1.6 1 1.5 1 1.5 0.5 1.6 0 1.5-1 1.6-1 1.5 0.5 1.6 1.5 1.5 0.5 1.5-1 1.6-0.5 1.5 0 1.6 0 1.5 1 1.6 0 1.5 0 1.5-0.5 1.6 0 1.5 0 1.6 0.5 1.5 0.5 1.6-0.5 1.5 0 1.5 0.5 1.6 1 1.5-0.5 1.6-1 1.5-1 1.5 0 1.6 0.5 1.5 1 1.6 0.5 1.5-0.5 1.6 0 1.5 1 1.5-0.5 1.6-1.5 1.5 1 1.6 1.5 1.5 0 1.6-0.5 1.5-1 1.5-0.5 1.6 0.5 1.5 1 1.6 0.5 1.5 0 1.6 0.5 1.5-0.5 1.5-0.5 1.6 0.5 1.5 0.5 1.6 0.5" stroke="#2d579f"/><path d="M364.3 500.5l1.5-8.5 1.6-12.5 1.5-18 1.6-15.5 1.5-8 1.6-5 1.5-5.5 1.5-3 1.6 2 1.5 5.5 1.6 4.5 1.5-2 1.6-4.5 1.5-1 1.5 3 1.6 3 1.5 2.5 1.6 4 1.5 4 1.6 1.5 1.5-0.5 1.5 2 1.6 2.5 1.5-1.5 1.6-2 1.5 0.5 1.6 0.5 1.5 1 1.5 1 1.6 1.5 1.5 2.5 1.6 1 1.5-0.5 1.5 2 1.6 2.5 1.5 1 1.6 1 1.5 1.5 1.6 0 1.5-0.5 1.5 0.5 1.6 2 1.5 1.5 1.6 1 1.5 0 1.6 0 1.5 0 1.5 1.5 1.6 2 1.5 1.5 1.6 1 1.5 1.5 1.6 0.5 1.5 0.5 1.5 0 1.6 1 1.5 0.5 1.6 0 1.5 0.5 1.6 1 1.5 0 1.5-1 1.6 0.5 1.5 1.5 1.6 1.5 1.5 0.5 1.6 1 1.5 0 1.5 0 1.6 0.5 1.5 0 1.6 0 1.5 0.5 1.6 1 1.5 0 1.5 0 1.6 1 1.5 1 1.6 0.5 1.5 0.5 1.6 0 1.5 0 1.5-1 1.6 0 1.5 0 1.6 0 1.5 0.5 1.5 1 1.6 1 1.5 0 1.6 0 1.5 0.5 1.6 0 1.5 0.5 1.5 0.5 1.6-1 1.5 0 1.6 1 1.5 0 1.6 0 1.5 0 1.5 0.5 1.6 0 1.5 0 1.6 0.5 1.5 1.5 1.6 1 1.5 0 1.5 0 1.6 0.5 1.5 0 1.6 0 1.5 0 1.6 0 1.5-0.5 1.5 0.5 1.6 0.5 1.5-0.5 1.6-1 1.5 1 1.6 1.5 1.5 0.5 1.5 0 1.6-0.5 1.5 0 1.6 0 1.5 0.5 1.6-0.5 1.5 0 1.5 0 1.6-1 1.5 0 1.6 1.5 1.5 0.5 1.6 0.5 1.5 0 1.5 0.5 1.6-1 1.5-0.5 1.6 0 1.5 0.5 1.5 0 1.6 0 1.5 0 1.6 1.5 1.5 1 1.6-0.5 1.5-1 1.5 0.5 1.6 1 1.5 1 1.6-0.5 1.5-0.5 1.6-0.5 1.5 0 1.5-1 1.6 0 1.5 0 1.6 0 1.5 0 1.6 1 1.5 0.5 1.5 1 1.6 0 1.5-0.5 1.6 0" stroke="#3b6f8e"/><path d="M364.3 524l1.5-50 1.6-47.5 1.5-35 1.6 5.5 1.5-3.5 1.6-1 1.5 8.5 1.5 8 1.6 6.5 1.5 7 1.6 5.5 1.5 2 1.6 3.5 1.5 6.5 1.5 7 1.6 1 1.5-3 1.6-0.5 1.5 2 1.6 4 1.5 4 1.5 2 1.6 0.5 1.5 1 1.6 2.5 1.5 1.5 1.6 1 1.5 2 1.5 1 1.6 1 1.5 1.5 1.6 2.5 1.5 2 1.5-0.5 1.6-1 1.5 0.5 1.6 1.5 1.5 1.5 1.6 1.5 1.5 0 1.5-0.5 1.6 0.5 1.5 0.5 1.6 1 1.5 2 1.6 1.5 1.5 0.5 1.5 0.5 1.6 0 1.5 0.5 1.6 0 1.5-0.5 1.6-1.5 1.5 0.5 1.5 1.5 1.6 2 1.5 0.5 1.6 0.5 1.5 1 1.6-0.5 1.5-0.5 1.5 1.5 1.6 1.5 1.5 0 1.6 0.5 1.5 0.5 1.6 0.5 1.5 0.5 1.5 0.5 1.6 0.5 1.5 0 1.6 0 1.5-0.5 1.6 0 1.5 0.5 1.5 0.5 1.6 0.5 1.5 0 1.6-0.5 1.5 0 1.6 0.5 1.5 1 1.5 0 1.6 0.5 1.5 0.5 1.6 1.5 1.5 0.5 1.5-0.5 1.6-1.5 1.5-1 1.6 1.5 1.5 1.5 1.6 1.5 1.5 0.5 1.5 0 1.6 0 1.5 0 1.6-1 1.5-1 1.6 0.5 1.5 0.5 1.5 0 1.6-0.5 1.5 0 1.6 1 1.5 0.5 1.6 0 1.5-0.5 1.5 0.5 1.6 1.5 1.5 1.5 1.6-1 1.5-0.5 1.6-1 1.5-0.5 1.5 0.5 1.6 1.5 1.5 1 1.6-0.5 1.5-0.5 1.6 1 1.5 1 1.5-0.5 1.6-0.5 1.5-1 1.6-0.5 1.5 0.5 1.6 0 1.5 0 1.5 0 1.6 0.5 1.5 0.5 1.6 1 1.5 0.5 1.6 0 1.5-1 1.5 0 1.6 0.5 1.5 0.5 1.6 0.5 1.5 0.5 1.5 0 1.6 0.5 1.5-0.5 1.6-1.5 1.5-1.5 1.6 1 1.5 1 1.5 0 1.6 0 1.5 0 1.6 1.5 1.5 0 1.6-1.5 1.5-0.5 1.5 0.5 1.6 0.5 1.5-0.5 1.6 0.5 1.5 0.5 1.6 0 1.5 1 1.5 0.5 1.6-1 1.5-1 1.6-1.5" stroke="#264da4"/><path d="M364.3 524l1.5 0 1.6 0 1.5-1.5 1.6-4 1.5-1.5 1.6-3 1.5 1 1.5 5.5 1.6 2 1.5-25 1.6-30 1.5-29 1.6-23 1.5 1.5 1.5 3.5 1.6 6.5 1.5 7 1.6 4.5 1.5 0 1.6 1 1.5 3.5 1.5 3.5 1.6 0.5 1.5 0 1.6 1.5 1.5 3 1.6 3 1.5 1 1.5 2 1.6 2 1.5 2 1.6 1 1.5 1 1.5 1.5 1.6 1.5 1.5 0.5 1.6 1 1.5 0.5 1.6 0 1.5 0 1.5 1 1.6 1 1.5 1 1.6 0.5 1.5 0.5 1.6 1 1.5 1.5 1.5 1 1.6-1.5 1.5-1.5 1.6 1 1.5 1.5 1.6 0.5 1.5 1.5 1.5 0.5 1.6 1 1.5 1 1.6 0 1.5 0 1.6 0.5 1.5 2 1.5 1 1.6-1 1.5-1 1.6 0 1.5 1 1.6 2 1.5 0.5 1.5 0 1.6 0 1.5 0.5 1.6 0 1.5 0 1.6 1.5 1.5 1 1.5 0 1.6 0 1.5 0 1.6 0 1.5 0 1.6 0.5 1.5 0 1.5 0 1.6 1 1.5 0.5 1.6 0.5 1.5 0.5 1.5 0.5 1.6-0.5 1.5-1 1.6-0.5 1.5 0.5 1.6 0 1.5 0.5 1.5 0.5 1.6 1 1.5 1 1.6-0.5 1.5-1 1.6 0.5 1.5 1 1.5 0 1.6 0 1.5 1 1.6 0.5 1.5 0.5 1.6-0.5 1.5-0.5 1.5-0.5 1.6-0.5 1.5 1 1.6 1.5 1.5 0 1.6-1 1.5-0.5 1.5-0.5 1.6 1.5 1.5 1.5 1.6 0.5 1.5 0.5 1.6 0.5 1.5-1 1.5 0 1.6 0 1.5-1 1.6-1 1.5 0 1.6 1 1.5 1 1.5 1 1.6 0 1.5-1 1.6-0.5 1.5-0.5 1.6 0 1.5 1 1.5 1 1.6 0.5 1.5 0.5 1.6-0.5 1.5-0.5 1.5 0 1.6-0.5 1.5-0.5 1.6 0.5 1.5 0 1.6 1 1.5 2 1.5 0.5 1.6-0.5 1.5-0.5 1.6-1 1.5 0 1.6 0 1.5 1 1.5-0.5 1.6-0.5 1.5-1 1.6 1 1.5 2 1.6 0 1.5-1 1.5-0.5 1.6-0.5 1.5 0 1.6 0" stroke="#3e738a"/><path d="M364.3 521.5l1.5 2.5 1.6 0 1.5-28.5 1.6-33.5 1.5-32 1.6-30.5 1.5 3 1.5 4 1.6 2.5 1.5 0 1.6 1 1.5 5 1.6 4 1.5 2.5 1.5 3 1.6 4 1.5 2 1.6-0.5 1.5 2.5 1.6 5.5 1.5 3.5 1.5 1 1.6 0 1.5 0.5 1.6 1.5 1.5 2.5 1.6 1.5 1.5 0.5 1.5 1.5 1.6 1 1.5 0.5 1.6 1.5 1.5 2.5 1.5 2 1.6-0.5 1.5-0.5 1.6 1 1.5 1 1.6 0 1.5 0.5 1.5 1.5 1.6 1.5 1.5 1 1.6 1 1.5 1 1.6 0 1.5 0.5 1.5 0 1.6 0.5 1.5 1 1.6 1 1.5 0 1.6 0 1.5 1 1.5 1 1.6 1.5 1.5 1 1.6 1 1.5 0 1.6 0 1.5 0 1.5 1 1.6 1.5 1.5 0.5 1.6 1 1.5 0.5 1.6 1 1.5 0.5 1.5-0.5 1.6-0.5 1.5-0.5 1.6 0.5 1.5 0 1.6 0 1.5 1 1.5 1 1.6 0.5 1.5 0.5 1.6-0.5 1.5 0.5 1.6 1 1.5 1 1.5 0.5 1.6 0.5 1.5 0 1.6 0 1.5-0.5 1.5 0 1.6 1.5 1.5 1.5 1.6-0.5 1.5-1 1.6 1 1.5 1.5 1.5 1 1.6 0 1.5-0.5 1.6 0 1.5 0.5 1.6 1 1.5 0 1.5-1 1.6-0.5 1.5 1 1.6 1 1.5 1 1.6 0.5 1.5-0.5 1.5-0.5 1.6-1 1.5-0.5 1.6 0.5 1.5 1 1.6 0.5 1.5 0 1.5-1 1.6 0.5 1.5 2 1.6 1.5 1.5-1 1.6-1.5 1.5-0.5 1.5 0.5 1.6 1 1.5 1.5 1.6 0.5 1.5 0 1.6 0 1.5 0.5 1.5 1 1.6 0.5 1.5-1.5 1.6-1.5 1.5-1 1.6-0.5 1.5 1 1.5 1 1.6 0.5 1.5 0 1.6 0.5 1.5 0 1.5 0 1.6 0.5 1.5 1 1.6 0.5 1.5-0.5 1.6-0.5 1.5 0 1.5 0 1.6 0 1.5 1 1.6 1 1.5-1 1.6-1.5 1.5-0.5 1.5 0.5 1.6 0 1.5-0.5 1.6-0.5 1.5 1 1.6 0.5 1.5 0.5 1.5 0 1.6 0 1.5 1 1.6 1" stroke="#53857e"/><path d="M364.3 524l1.5 0 1.6-10.5 1.5-2.5 1.6 6.5 1.5 2.5 1.6-3 1.5-3 1.5 1.5 1.6-0.5 1.5-35 1.6-53 1.5-22 1.6 4 1.5 5 1.5 5 1.6 4 1.5 4.5 1.6 4 1.5 1 1.6 2 1.5 4.5 1.5 3.5 1.6 1 1.5 0.5 1.6 2.5 1.5 2 1.6-0.5 1.5-1.5 1.5-1 1.6 0 1.5 3 1.6 4 1.5 0.5 1.5-0.5 1.6 1.5 1.5 2 1.6 1 1.5 1 1.6 0.5 1.5 0.5 1.5 0.5 1.6 2 1.5 2 1.6 2 1.5 0.5 1.6 0 1.5 0 1.5 1 1.6 1 1.5 1 1.6 0 1.5 0 1.6 0 1.5 0 1.5 0.5 1.6 0.5 1.5 1.5 1.6 1.5 1.5 1 1.6 1 1.5 1 1.5 1.5 1.6 0 1.5-1 1.6-0.5 1.5 0 1.6 0.5 1.5 1 1.5 0.5 1.6 0.5 1.5 0.5 1.6 0.5 1.5 0.5 1.6 0.5 1.5 1 1.5 0.5 1.6 0 1.5 1 1.6 1 1.5 0 1.6 0 1.5 0.5 1.5 0 1.6 0 1.5-0.5 1.6-0.5 1.5 0 1.5 1.5 1.6 0.5 1.5-1 1.6 0 1.5 1.5 1.6 1.5 1.5 1.5 1.5 1.5 1.6 0.5 1.5 0 1.6-1 1.5 0 1.6 1 1.5 0 1.5-1 1.6-1 1.5 0 1.6 1 1.5 0.5 1.6 0 1.5 1 1.5 1 1.6 0.5 1.5 0.5 1.6 0.5 1.5 0 1.6 0 1.5 0 1.5-0.5 1.6-1.5 1.5 0 1.6 1 1.5 1 1.6 0.5 1.5 0 1.5 1 1.6 0.5 1.5 0 1.6-1 1.5-0.5 1.6 0.5 1.5 1 1.5 0 1.6-0.5 1.5 0.5 1.6 0 1.5-0.5 1.6 0.5 1.5 1 1.5 0 1.6 1 1.5 0 1.6 0.5 1.5 0 1.5-1 1.6-0.5 1.5 0 1.6 1 1.5 0 1.6-1 1.5 0.5 1.5 1 1.6 1 1.5 0 1.6-1 1.5 0 1.6-0.5 1.5 0 1.5 0 1.6 1.5 1.5 0.5 1.6-0.5 1.5-0.5 1.6 0 1.5 0 1.5 0 1.6 0.5 1.5 0.5 1.6-0.5" stroke="#477b85"/><path d="M364.3 522.5l1.5 1.5 1.6-22.5 1.5-34 1.6-32 1.5-34.5 1.6-15.5 1.5 4.5 1.5 7 1.6 8.5 1.5 6.5 1.6 3.5 1.5 4.5 1.6 5.5 1.5 1 1.5-3 1.6-2 1.5 0.5 1.6 5.5 1.5 8 1.6 6 1.5 2 1.5 0 1.6 0.5 1.5 1 1.6 0.5 1.5 0.5 1.6 0.5 1.5 1 1.5 1 1.6 1.5 1.5 2 1.6 0.5 1.5 0.5 1.5 1.5 1.6 2 1.5 2.5 1.6 1 1.5-1 1.6 0 1.5 0.5 1.5 0.5 1.6 0.5 1.5 1.5 1.6 1 1.5 1 1.6 1 1.5 1 1.5 1 1.6 1.5 1.5 1 1.6 0.5 1.5 0.5 1.6 0.5 1.5 0 1.5 0.5 1.6 1 1.5 1 1.6 0.5 1.5-0.5 1.6 0.5 1.5 1.5 1.5 0.5 1.6 0 1.5 1.5 1.6 2 1.5 0.5 1.6-0.5 1.5-0.5 1.5 0 1.6 0.5 1.5 0 1.6 0 1.5 0.5 1.6 0.5 1.5 0 1.5 0 1.6-0.5 1.5 0 1.6 1 1.5 1 1.6 1 1.5 0 1.5 1.5 1.6 0.5 1.5 0 1.6 0 1.5 0.5 1.5 0 1.6 0 1.5 0 1.6 0 1.5 0 1.6 1.5 1.5 0.5 1.5 0 1.6 0 1.5 1 1.6 0 1.5 0 1.6 0.5 1.5-0.5 1.5-0.5 1.6 0.5 1.5 1.5 1.6 1.5 1.5-0.5 1.6-0.5 1.5 0 1.5 0 1.6 0.5 1.5 1.5 1.6 1 1.5 0 1.6-1 1.5-1 1.5 0 1.6 1 1.5 0 1.6 0 1.5-1 1.6 0 1.5 1.5 1.5 1 1.6-0.5 1.5-0.5 1.6 0 1.5 0 1.6 0.5 1.5 0.5 1.5-0.5 1.6 0 1.5 0.5 1.6 0.5 1.5 0 1.6-0.5 1.5-0.5 1.5-1 1.6-0.5 1.5 0.5 1.6 2 1.5 1.5 1.5-0.5 1.6-0.5 1.5 0.5 1.6-0.5 1.5-0.5 1.6 1 1.5 0.5 1.5-1 1.6-1 1.5 0 1.6 0.5 1.5 0 1.6-0.5 1.5 0.5 1.5 1 1.6 0.5 1.5 0.5 1.6 0.5 1.5 0 1.6-0.5 1.5-0.5 1.5 0 1.6 0 1.5 1 1.6 0" stroke="#86ba72"/><path d="M364.3 508.5l1.5-5 1.6 2 1.5 2.5 1.6 2.5 1.5 4.5 1.6 3 1.5-14 1.5-34 1.6-30 1.5-26 1.6-23.5 1.5 4.5 1.6 6.5 1.5 7.5 1.5 4.5 1.6 3.5 1.5 3.5 1.6 1.5 1.5 2.5 1.6 4 1.5 3.5 1.5 3 1.6 3.5 1.5 3.5 1.6 4 1.5 3.5 1.6 1.5 1.5 1.5 1.5 1.5 1.6 1 1.5 2 1.6 2.5 1.5 1.5 1.5 0 1.6-1 1.5 0.5 1.6 3 1.5 3.5 1.6 2 1.5 1 1.5-0.5 1.6 0 1.5 1 1.6 0.5 1.5 0.5 1.6 1.5 1.5 2 1.5 0 1.6-1 1.5 0 1.6 1 1.5 1.5 1.6 0.5 1.5 0 1.5 0.5 1.6 2 1.5 2 1.6 0 1.5-0.5 1.6 1 1.5 1 1.5 0.5 1.6 0.5 1.5 0.5 1.6 0.5 1.5 1 1.6 0.5 1.5 0 1.5 0 1.6-1 1.5 0 1.6 0.5 1.5 0.5 1.6 0 1.5 0 1.5 0.5 1.6 0.5 1.5 1 1.6 0.5 1.5 0 1.6-1 1.5 0.5 1.5 1 1.6 2 1.5 0 1.6 0 1.5-0.5 1.5 0.5 1.6 0 1.5-1 1.6 0 1.5 1 1.6 1 1.5 0 1.5-0.5 1.6-1 1.5-0.5 1.6 0.5 1.5 1.5 1.6 1.5 1.5 0 1.5-0.5 1.6-1 1.5-0.5 1.6-0.5 1.5 0 1.6 1 1.5 1 1.5 1 1.6 0 1.5-1 1.6-0.5 1.5 0.5 1.6 0.5 1.5 0 1.5 0.5 1.6 0 1.5-0.5 1.6 0 1.5 0.5 1.6-0.5 1.5 0 1.5 1 1.6 0.5 1.5-0.5 1.6-0.5 1.5 0.5 1.6 0.5 1.5 0 1.5 0.5 1.6 0.5 1.5-0.5 1.6-0.5 1.5 0 1.6 0.5 1.5 0 1.5-0.5 1.6 0.5 1.5 1 1.6 0 1.5 0 1.5 0 1.6-0.5 1.5-0.5 1.6 1 1.5 1.5 1.6-0.5 1.5 0 1.5 0.5 1.6-0.5 1.5-0.5 1.6-0.5 1.5 0.5 1.6 0 1.5 0 1.5-0.5 1.6-0.5 1.5 0 1.6 1 1.5 0.5 1.6 0.5 1.5 0.5 1.5 0 1.6-0.5 1.5 0 1.6 0.5" stroke="#356497"/><path d="M364.3 519.5l1.5 4.5 1.6 0 1.5-7 1.6-2 1.5-19 1.6-21 1.5-21 1.5-26 1.6-29.5 1.5-18.5 1.6 4 1.5 4.5 1.6 4.5 1.5 4.5 1.5 4.5 1.6 4.5 1.5 2 1.6 2 1.5 1 1.6 2.5 1.5 2.5 1.5 1 1.6 2.5 1.5 4 1.6 3 1.5 1.5 1.6 0.5 1.5 1 1.5 1.5 1.6 2 1.5 2 1.6 1.5 1.5 1.5 1.5 2 1.6 2.5 1.5 2.5 1.6 1 1.5-0.5 1.6 0.5 1.5 2 1.5 1 1.6 1.5 1.5 2.5 1.6 1.5 1.5-0.5 1.6-0.5 1.5 0.5 1.5 2 1.6 0.5 1.5 0 1.6 1.5 1.5 3 1.6 1.5 1.5-1 1.5-1 1.6 0 1.5 1.5 1.6 1 1.5 1 1.6 1.5 1.5 0 1.5 0 1.6 0.5 1.5 0.5 1.6 0.5 1.5 0 1.6 0.5 1.5 0.5 1.5 1 1.6 1 1.5 1.5 1.6 1 1.5 0.5 1.6 0.5 1.5 0 1.5 0.5 1.6 0.5 1.5 0 1.6 0 1.5 0 1.6 0.5 1.5 1 1.5 0.5 1.6 0.5 1.5 0.5 1.6 0 1.5-1 1.5 0.5 1.6 1.5 1.5 0.5 1.6-0.5 1.5 0 1.6 1 1.5 1 1.5 0.5 1.6 1 1.5 0.5 1.6-1 1.5-0.5 1.6 0.5 1.5 0.5 1.5 0 1.6 0 1.5 1 1.6 0.5 1.5 0 1.6-0.5 1.5 0.5 1.5 0 1.6-0.5 1.5 0.5 1.6 1 1.5 1.5 1.6 1 1.5 0 1.5 0 1.6 0 1.5 0.5 1.6 0 1.5-0.5 1.6 0 1.5 1 1.5 0.5 1.6 0 1.5 0 1.6 0.5 1.5 1 1.6 0.5 1.5-0.5 1.5-0.5 1.6-0.5 1.5-0.5 1.6 1 1.5 1 1.6 0.5 1.5 0 1.5 0.5 1.6-0.5 1.5 0.5 1.6 0.5 1.5 0 1.5-0.5 1.6 0.5 1.5 0.5 1.6 0 1.5-0.5 1.6-0.5 1.5 0 1.5-1 1.6 0.5 1.5 1.5 1.6 0 1.5-1 1.6 0.5 1.5 0.5 1.5 0 1.6 0 1.5 0 1.6 0 1.5 0 1.6-0.5 1.5-1 1.5 0.5 1.6 1.5 1.5 2 1.6 0.5" stroke="#e0f268"/><path d="M364.3 524l1.5 0 1.6-0.5 1.5-1 1.6-1.5 1.5-3 1.6 6 1.5 0 1.5-32 1.6-46 1.5-27.5 1.6-0.5 1.5 4 1.6 5.5 1.5 1 1.5-1 1.6 2 1.5 0 1.6 1 1.5 4.5 1.6 2.5 1.5 0 1.5-1.5 1.6-1 1.5 2.5 1.6 2.5 1.5 0.5 1.6-2 1.5 1 1.5 3.5 1.6 1.5 1.5 0 1.6 2 1.5 4 1.5 1 1.6-1 1.5 0.5 1.6 1.5 1.5 0 1.6-1.5 1.5 1 1.5 4 1.6 3.5 1.5 0 1.6-0.5 1.5 1 1.6 0.5 1.5 0.5 1.5 0 1.6 0.5 1.5 1.5 1.6 2.5 1.5 1 1.6-0.5 1.5-0.5 1.5 1 1.6 1 1.5 0 1.6 1.5 1.5 0.5 1.6 0.5 1.5 0 1.5 1 1.6 1.5 1.5 0.5 1.6 0 1.5-0.5 1.6 1.5 1.5 1.5 1.5-0.5 1.6-1 1.5-0.5 1.6 1.5 1.5 1.5 1.6 0 1.5-0.5 1.5 0.5 1.6 1 1.5 0.5 1.6 0 1.5 0 1.6 0.5 1.5 0.5 1.5 1 1.6 0.5 1.5 0 1.6-0.5 1.5 1 1.5 2 1.6 0.5 1.5-0.5 1.6-1 1.5 0 1.6 1.5 1.5 1.5 1.5 0 1.6-0.5 1.5-0.5 1.6 0 1.5 1 1.6 1.5 1.5 0.5 1.5-1 1.6-1 1.5 0.5 1.6 1 1.5 0.5 1.6-0.5 1.5 0 1.5 1 1.6 1.5 1.5 0 1.6-0.5 1.5-0.5 1.6 0 1.5 1.5 1.5 0.5 1.6-0.5 1.5-1.5 1.6 0 1.5 0.5 1.6 1 1.5 0.5 1.5 0.5 1.6 0.5 1.5 0 1.6-0.5 1.5 0 1.6 0.5 1.5 0 1.5 0 1.6 0 1.5 0 1.6 0.5 1.5 0 1.6-0.5 1.5 0 1.5 1 1.6 0.5 1.5 0.5 1.6-0.5 1.5 0 1.5 0 1.6-0.5 1.5 1 1.6 1.5 1.5 0.5 1.6 0.5 1.5-0.5 1.5-0.5 1.6-0.5 1.5-1.5 1.6-0.5 1.5 1 1.6 2 1.5 1.5 1.5 0.5 1.6-0.5 1.5-1 1.6-1 1.5 0 1.6-0.5 1.5-0.5 1.5-0.5 1.6 0 1.5 0.5 1.6 1" stroke="#6da279"/><path d="M364.3 522l1 0 1.1-1 1-1.5 1-1.5 1-1 1.1 1.5 1 1 1 0 1.1-0.5 1-4.5 1-5.5 1 2.5 1.1 6 1-21 1-23.5 1.1-16 1-12.5 1-3.5 1-4 1.1-4.5 1 1 1 1.5 1.1-0.5 1-2.5 1-2.5 1 3 1.1 3 1 2.5 1 3.5 1.1 3.5 1 4.5 1 2.5 1 2 1.1 1 1-2 1-4.5 1.1-3 1-1.5 1-3 1-3 1.1-2.5 1 0.5 1 1.5 1 1 1.1-1 1-1.5 1-2.5 1.1-0.5 1 1.5 1 0 1 0.5 1.1 0 1-1 1-3 1.1 0.5 1 2 1 1.5 1-0.5 1.1 0.5 1-0.5 1-0.5 1.1-1.5 1-0.5 1-1 1-1 1.1 0.5 1 0.5 1 0.5 1.1 0.5 1 0.5 1 0.5 1-0.5 1.1 0.5 1 2 1 2 1.1 0.5 1 0 1 1 1 0.5 1.1 0.5 1 1 1 2 1.1 2 1 1 1 1 1 1 1.1 0.5 1 0.5 1 1 1.1 0 1 0.5 1 1 1 2 1.1 1.5 1 0.5 1 0 1.1 0 1 1 1 1.5 1 1 1.1 0.5 1 1 1 0 1.1 0.5 1 0.5 1 1 1-0.5 1.1 0 1-0.5 1 0 1.1 1.5 1 2 1 0.5 1-0.5 1.1 0 1 0 1 0.5 1.1 2 1 2 1 1 1 0 1.1-0.5 1 0 1 0 1 0.5 1.1 1.5 1 1 1-0.5 1.1-1 1 0.5 1 1 1 2 1.1 1.5 1 0 1 1 1.1 1 1 1 1 0 1 0 1.1 0.5 1 0.5 1 0.5 1.1 1 1 0 1 0 1 0.5 1.1 0.5 1 0.5 1 0.5 1.1 0.5 1 1.5 1 0.5 1-0.5 1.1 0.5 1 0 1 0.5 1.1-0.5 1 0 1 0.5 1 0.5 1.1 1 1 1 1 0.5 1.1-0.5 1-1.5 1-1 1 1 1.1 1 1 1.5 1 0.5 1.1-1 1-1.5 1-0.5 1 0.5 1.1 0 1-0.5 1 0.5 1.1 1 1 0.5 1 0.5 1 0.5 1.1 0 1-0.5 1 0.5 1.1 0 1-0.5 1 0 1 0.5 1.1 1.5 1 1 1 0.5 1.1-1 1 0 1 0 1 0 1.1 0.5 1-1 1-1 1.1 0.5 1 0.5 1 0.5 1 0 1.1 0.5 1 0.5 1-1 1.1-0.5 1 1 1 2 1 1 1.1 0 1-0.5 1-1 1-0.5 1.1 0 1 0.5 1 1 1.1 0 1-0.5 1 0 1 0 1.1-0.5 1 0.5 1 1 1.1 1 1 0.5 1-1.5 1-1.5 1.1-0.5 1 1 1 0 1.1 0 1 0.5 1 0.5 1-1.5 1.1 0 1 1 1 0.5 1.1-0.5 1-1.5 1-1 1 1 1.1 0.5 1 0 1 1 1.1 1 1 0 1 0.5 1 0.5 1.1 0 1-0.5" stroke="#2a3fb5" stroke-width="1.7"/><path d="M364.3 516l1-7.5 1.1-8.5 1-8 1-10 1-18.5 1.1-18 1-18 1-13.5 1.1-13 1-11.5 1-12.5 1-9.5 1.1 5.5 1 7.5 1 14.5 1.1 10.5 1 3 1 3 1 2 1.1 3 1 4 1 4.5 1.1 4.5 1 3.5 1 1.5 1 0.5 1.1 1.5 1 3 1 2.5 1.1 2 1 1 1 1.5 1 0.5 1.1-1 1-1.5 1-1.5 1.1-2.5 1-2.5 1-1.5 1-2.5 1.1 1.5 1 1.5 1 1.5 1 0.5 1.1-1 1-0.5 1 0 1.1-1.5 1-1.5 1-1.5 1-1 1.1 1.5 1 3.5 1 3 1.1 1 1 0 1-3 1-3 1.1-3 1-0.5 1 1 1.1 1 1 1.5 1 1 1 1.5 1.1 1 1-1 1 0 1.1 1.5 1 0.5 1 0 1 1 1.1 0.5 1 0 1 0.5 1.1 1.5 1 1 1 0.5 1 1 1.1 2 1 1.5 1 1.5 1.1 0 1-0.5 1-0.5 1 0.5 1.1 1 1 1.5 1 1 1.1 1 1-0.5 1 0 1 1.5 1.1 1 1 1 1 1.5 1.1 2 1 0 1 0 1 1.5 1.1 1 1 0.5 1 0.5 1.1-0.5 1 0 1 1 1 2.5 1.1 0 1-0.5 1-0.5 1.1 0.5 1 0.5 1 0.5 1 1 1.1 0.5 1 0.5 1 0.5 1.1 0 1-0.5 1 0 1 1 1.1 2 1 0.5 1 0 1 0 1.1 0.5 1 1 1 0.5 1.1-0.5 1 0.5 1 0.5 1 0 1.1 1.5 1 1 1 0.5 1.1 0.5 1 0.5 1 0 1 0 1.1 0 1 1 1 1 1.1 1 1 0 1 0 1-1 1.1-0.5 1 1 1 1 1.1 1.5 1 1 1 0 1 0.5 1.1 1 1 0 1-0.5 1.1-0.5 1-0.5 1 0.5 1 1.5 1.1 0.5 1-1 1-0.5 1.1 0.5 1 0 1 0 1 1 1.1 2 1 1 1-0.5 1.1-0.5 1 0 1 0 1-0.5 1.1-0.5 1 1 1 1 1.1-0.5 1 0 1 1 1 0 1.1-1.5 1-1 1-1 1.1 1 1 2 1 1.5 1-0.5 1.1 0 1 0 1-0.5 1.1 0 1 0 1 0 1 0.5 1.1 0.5 1-0.5 1-0.5 1.1 0 1 0.5 1 1 1 1.5 1.1 1 1-0.5 1-1.5 1.1-1 1 0 1 0.5 1 0.5 1.1 1 1 0.5 1-0.5 1 0.5 1.1 2 1 0.5 1-1 1.1-0.5 1 0 1-0.5 1-0.5 1.1-0.5 1 0.5 1 0 1.1-1 1 0 1 1 1 0 1.1 0 1 0 1 0 1.1-0.5 1-0.5 1 0 1 1 1.1 0.5 1-1 1-0.5 1.1 1 1 1.5 1 0 1 0 1.1 0.5 1-0.5 1-0.5 1.1 0.5 1 1 1 0 1-0.5 1.1-0.5 1 0.5" stroke="#2a3fb5" stroke-width="1.7"/></g><g clip-path="url(#cb)"><line x1="66.50" y1="496.10" x2="323.80" y2="496.10" stroke="#000" stroke-width="1.7" stroke-dasharray="5 4.03" stroke-dashoffset="6.53"/></g><g clip-path="url(#cc)"><line x1="364.30" y1="499.50" x2="621.40" y2="499.50" stroke="#000" stroke-width="1.8" stroke-dasharray="6.4 6.4" stroke-dashoffset="2.0"/></g><rect x="66.5" y="361.0" width="257.30" height="163.50" fill="none" stroke="#262626" stroke-width="1.1"/><line x1="195.15" y1="524.50" x2="195.15" y2="521.90" stroke="#262626" stroke-width="1.0" /><line x1="195.15" y1="361.00" x2="195.15" y2="363.60" stroke="#262626" stroke-width="1.0" /><line x1="66.50" y1="488.00" x2="69.10" y2="488.00" stroke="#262626" stroke-width="1.0" /><line x1="323.80" y1="488.00" x2="321.20" y2="488.00" stroke="#262626" stroke-width="1.0" /><line x1="66.50" y1="415.60" x2="69.10" y2="415.60" stroke="#262626" stroke-width="1.0" /><line x1="323.80" y1="415.60" x2="321.20" y2="415.60" stroke="#262626" stroke-width="1.0" /><rect x="364.3" y="361.5" width="257.10" height="164.00" fill="none" stroke="#262626" stroke-width="1.1"/><line x1="492.85" y1="525.50" x2="492.85" y2="522.90" stroke="#262626" stroke-width="1.0" /><line x1="492.85" y1="361.50" x2="492.85" y2="364.10" stroke="#262626" stroke-width="1.0" /><line x1="364.30" y1="496.55" x2="366.90" y2="496.55" stroke="#262626" stroke-width="1.0" /><line x1="621.40" y1="496.55" x2="618.80" y2="496.55" stroke="#262626" stroke-width="1.0" /><line x1="364.30" y1="438.45" x2="366.90" y2="438.45" stroke="#262626" stroke-width="1.0" /><line x1="621.40" y1="438.45" x2="618.80" y2="438.45" stroke="#262626" stroke-width="1.0" /><line x1="364.30" y1="380.36" x2="366.90" y2="380.36" stroke="#262626" stroke-width="1.0" /><line x1="621.40" y1="380.36" x2="618.80" y2="380.36" stroke="#262626" stroke-width="1.0" /><line x1="68.60" y1="-1.00" x2="68.60" y2="19.30" stroke="#555" stroke-width="1.0" /><line x1="106.40" y1="-1.00" x2="106.40" y2="19.30" stroke="#555" stroke-width="1.0" /><line x1="130.90" y1="-1.00" x2="130.90" y2="19.30" stroke="#555" stroke-width="1.0" /><line x1="154.80" y1="-1.00" x2="154.80" y2="19.30" stroke="#555" stroke-width="1.0" /><g transform="translate(76.32,316.49) scale(0.3505,0.3125)" fill="#262626" stroke="#fff" stroke-width="0.767"><text x="0" y="0" font-family="Liberation Serif" font-size="60" font-weight="bold" font-style="normal">0.17</text></g><g transform="translate(134.77,316.49) scale(0.3505,0.3125)" fill="#262626" stroke="#fff" stroke-width="0.767"><text x="0" y="0" font-family="Liberation Serif" font-size="60" font-weight="bold" font-style="normal">0.34</text></g><g transform="translate(198.66,316.49) scale(0.3505,0.3125)" fill="#262626" stroke="#fff" stroke-width="0.767"><text x="0" y="0" font-family="Liberation Serif" font-size="60" font-weight="bold" font-style="normal">0.5</text></g><g transform="translate(251.67,316.49) scale(0.3505,0.3125)" fill="#262626" stroke="#fff" stroke-width="0.767"><text x="0" y="0" font-family="Liberation Serif" font-size="60" font-weight="bold" font-style="normal">0.67</text></g><g transform="translate(310.12,316.49) scale(0.3505,0.3125)" fill="#262626" stroke="#fff" stroke-width="0.767"><text x="0" y="0" font-family="Liberation Serif" font-size="60" font-weight="bold" font-style="normal">0.84</text></g><g transform="translate(381.54,316.49) scale(0.3505,0.3125)" fill="#262626" stroke="#fff" stroke-width="0.767"><text x="0" y="0" font-family="Liberation Serif" font-size="60" font-weight="bold" font-style="normal">1</text></g><g transform="translate(426.67,316.49) scale(0.3505,0.3125)" fill="#262626" stroke="#fff" stroke-width="0.767"><text x="0" y="0" font-family="Liberation Serif" font-size="60" font-weight="bold" font-style="normal">1.18</text></g><g transform="translate(484.95,316.49) scale(0.3505,0.3125)" fill="#262626" stroke="#fff" stroke-width="0.767"><text x="0" y="0" font-family="Liberation Serif" font-size="60" font-weight="bold" font-style="normal">1.34</text></g><g transform="translate(543.75,316.49) scale(0.3505,0.3125)" fill="#262626" stroke="#fff" stroke-width="0.767"><text x="0" y="0" font-family="Liberation Serif" font-size="60" font-weight="bold" font-style="normal">1.51</text></g><g transform="translate(21.99,91.80) scale(0.3727,0.2962)" fill="#262626" stroke="#fff" stroke-width="0.661"><text x="0" y="0" font-family="Liberation Serif" font-size="60" font-weight="bold" font-style="normal">10<tspan font-size="40.8" dy="-25.2" font-weight="bold" font-style="normal">−3</tspan></text></g><g transform="translate(22.01,167.05) scale(0.3689,0.2962)" fill="#262626" stroke="#fff" stroke-width="0.664"><text x="0" y="0" font-family="Liberation Serif" font-size="60" font-weight="bold" font-style="normal">10<tspan font-size="40.8" dy="-25.2" font-weight="bold" font-style="normal">−4</tspan></text></g><g transform="translate(21.99,242.30) scale(0.3727,0.2962)" fill="#262626" stroke="#fff" stroke-width="0.661"><text x="0" y="0" font-family="Liberation Serif" font-size="60" font-weight="bold" font-style="normal">10<tspan font-size="40.8" dy="-25.2" font-weight="bold" font-style="normal">−5</tspan></text></g><g transform="translate(163.32,57.05) scale(0.4922,0.4792)" fill="#000" stroke="#fff" stroke-width="0.515"><text x="0" y="0" font-family="Liberation Serif" font-size="60" font-weight="normal" font-style="normal"><tspan font-weight="normal" font-style="normal">(</tspan><tspan font-weight="bold" font-style="normal">a</tspan><tspan font-weight="normal" font-style="normal">)</tspan></text></g><g transform="translate(71.37,15.10) scale(0.3344,0.3341)" fill="#000" stroke="#fff" stroke-width="0.895"><text x="0" y="0" font-family="Liberation Serif" font-size="60" font-weight="bold" font-style="normal">k</text></g><g transform="translate(83.01,17.25) scale(0.2908,0.2486)" fill="#000"><text x="0" y="0" font-family="Liberation Serif" font-size="60" font-weight="normal" font-style="normal">rot</text></g><g transform="translate(133.66,14.70) scale(0.3438,0.3268)" fill="#000" stroke="#fff" stroke-width="0.847"><text x="0" y="0" font-family="Liberation Serif" font-size="60" font-weight="bold" font-style="normal">k</text></g><g transform="translate(145.44,17.60) scale(0.2778,0.2310)" fill="#000"><text x="0" y="0" font-family="Liberation Serif" font-size="60" font-weight="normal" font-style="normal">f</text></g><g transform="translate(324.70,339.16) scale(0.4012,0.3722)" fill="#262626" stroke="#fff" stroke-width="0.259"><text x="0" y="0" font-family="Liberation Serif" font-size="60" font-weight="normal" font-style="normal"><tspan font-weight="normal" font-style="normal">|</tspan><tspan font-weight="bold" font-style="normal">k</tspan><tspan font-weight="normal" font-style="normal">|</tspan><tspan font-weight="normal" font-style="italic">l</tspan><tspan font-size="42.0" dy="12.0" font-weight="normal" font-style="normal">s</tspan></text></g><g transform="translate(16.96,248.97) rotate(-90) scale(0.3829,0.2955)" fill="#262626"><text x="0" y="0" font-family="Liberation Serif" font-size="60" font-weight="normal" font-style="normal"><tspan font-weight="normal" font-style="italic">ñ</tspan><tspan font-weight="normal" font-style="normal">(|</tspan><tspan font-weight="bold" font-style="normal">k</tspan><tspan font-weight="normal" font-style="normal">|, </tspan><tspan font-weight="normal" font-style="italic">t</tspan><tspan font-weight="normal" font-style="normal">)(|</tspan><tspan font-weight="bold" font-style="normal">k</tspan><tspan font-weight="normal" font-style="normal">|</tspan><tspan font-weight="normal" font-style="italic">l</tspan><tspan font-size="42.0" dy="12.0" font-weight="normal" font-style="normal">s</tspan><tspan dy="-12.0" font-weight="normal" font-style="normal">)</tspan><tspan font-size="42.0" dy="-27.0" font-weight="normal" font-style="italic">γ</tspan><tspan dy="27.0" font-weight="normal" font-style="normal"> (</tspan><tspan font-weight="normal" font-style="italic">μ</tspan><tspan font-weight="normal" font-style="normal">m</tspan><tspan font-size="42.0" dy="-25.2" font-weight="normal" font-style="normal">2</tspan><tspan dy="25.2" font-weight="normal" font-style="normal">)</tspan></text></g><g transform="translate(637.95,301.24) scale(0.2735,0.2625)" fill="#262626"><text x="0" y="0" font-family="Liberation Serif" font-size="60" font-weight="normal" font-style="normal">0</text></g><g transform="translate(638.23,237.24) scale(0.2735,0.2625)" fill="#262626"><text x="0" y="0" font-family="Liberation Serif" font-size="60" font-weight="normal" font-style="normal">400</text></g><g transform="translate(637.95,173.24) scale(0.2735,0.2625)" fill="#262626"><text x="0" y="0" font-family="Liberation Serif" font-size="60" font-weight="normal" font-style="normal">800</text></g><g transform="translate(637.13,109.24) scale(0.2735,0.2625)" fill="#262626"><text x="0" y="0" font-family="Liberation Serif" font-size="60" font-weight="normal" font-style="normal">1200</text></g><g transform="translate(637.13,45.24) scale(0.2735,0.2625)" fill="#262626"><text x="0" y="0" font-family="Liberation Serif" font-size="60" font-weight="normal" font-style="normal">1600</text></g><g transform="translate(667.54,135.04) rotate(90) scale(0.3207,0.3453)" fill="#262626" stroke="#fff" stroke-width="0.155"><text x="0" y="0" font-family="Liberation Serif" font-size="60" font-weight="normal" font-style="normal"><tspan font-weight="normal" font-style="italic">t</tspan><tspan dx="9.0"> (ms)</tspan></text></g><g transform="translate(340.87,171.63) scale(0.2350,0.1725)" fill="#262626"><text x="0" y="0" font-family="Liberation Serif" font-size="60" font-weight="bold" font-style="normal">0</text></g><g transform="translate(380.46,171.63) scale(0.2350,0.1725)" fill="#262626"><text x="0" y="0" font-family="Liberation Serif" font-size="60" font-weight="bold" font-style="normal">0.42</text></g><g transform="translate(428.50,171.63) scale(0.2350,0.1725)" fill="#262626"><text x="0" y="0" font-family="Liberation Serif" font-size="60" font-weight="bold" font-style="normal">0.84</text></g><g transform="translate(476.55,171.63) scale(0.2350,0.1725)" fill="#262626"><text x="0" y="0" font-family="Liberation Serif" font-size="60" font-weight="bold" font-style="normal">1.26</text></g><g transform="translate(524.83,171.63) scale(0.2350,0.1725)" fill="#262626"><text x="0" y="0" font-family="Liberation Serif" font-size="60" font-weight="bold" font-style="normal">1.68</text></g><g transform="translate(577.10,171.63) scale(0.2350,0.1725)" fill="#262626"><text x="0" y="0" font-family="Liberation Serif" font-size="60" font-weight="bold" font-style="normal">2.1</text></g><g transform="translate(334.55,59.99) scale(0.2350,0.1725)" fill="#262626"><text x="0" y="0" font-family="Liberation Serif" font-size="60" font-weight="bold" font-style="normal">2</text></g><g transform="translate(323.74,89.84) scale(0.2350,0.1725)" fill="#262626"><text x="0" y="0" font-family="Liberation Serif" font-size="60" font-weight="bold" font-style="normal">1.5</text></g><g transform="translate(334.55,119.86) scale(0.2350,0.1725)" fill="#262626"><text x="0" y="0" font-family="Liberation Serif" font-size="60" font-weight="bold" font-style="normal">1</text></g><g transform="translate(323.74,149.71) scale(0.2350,0.1725)" fill="#262626"><text x="0" y="0" font-family="Liberation Serif" font-size="60" font-weight="bold" font-style="normal">0.5</text></g><g transform="translate(460.27,187.10) scale(0.3071,0.3000)" fill="#262626"><text x="0" y="0" font-family="Liberation Serif" font-size="60" font-weight="normal" font-style="normal"><tspan font-weight="normal" font-style="normal">|</tspan><tspan font-weight="bold" font-style="normal">k</tspan><tspan font-weight="normal" font-style="normal">|</tspan><tspan font-weight="normal" font-style="italic">l</tspan><tspan font-size="42.0" dy="12.0" font-weight="normal" font-style="normal">s</tspan></text></g><g transform="translate(314.43,127.76) rotate(-90) scale(0.4804,0.3393)" fill="#262626" stroke="#fff" stroke-width="0.101"><text x="0" y="0" font-family="Liberation Serif" font-size="60" font-weight="normal" font-style="normal"><tspan font-weight="normal" font-style="italic">n</tspan><tspan font-size="42.0" dy="13.2" font-weight="normal" font-style="italic">x</tspan><tspan dy="-13.2" font-weight="normal" font-style="normal">/</tspan><tspan font-weight="normal" font-style="italic">n</tspan><tspan font-size="42.0" dy="13.2" font-weight="normal" font-style="italic">y</tspan></text></g><g transform="translate(393.27,65.58) scale(0.2432,0.2150)" fill="#262626"><text x="0" y="0" font-family="Liberation Serif" font-size="60" font-weight="normal" font-style="normal"><tspan font-weight="normal" font-style="italic">t</tspan><tspan font-weight="normal" font-style="normal"> = 25 ms</tspan></text></g><g transform="translate(393.29,85.38) scale(0.2372,0.2250)" fill="#262626"><text x="0" y="0" font-family="Liberation Serif" font-size="60" font-weight="normal" font-style="normal"><tspan font-weight="normal" font-style="italic">t</tspan><tspan font-weight="normal" font-style="normal"> = 500 ms</tspan></text></g><g transform="translate(268.64,389.95) scale(0.4882,0.4792)" fill="#000" stroke="#fff" stroke-width="0.517"><text x="0" y="0" font-family="Liberation Serif" font-size="60" font-weight="normal" font-style="normal"><tspan font-weight="normal" font-style="normal">(</tspan><tspan font-weight="bold" font-style="normal">b</tspan><tspan font-weight="normal" font-style="normal">)</tspan></text></g><g transform="translate(48.52,420.90) scale(0.4269,0.3846)" fill="#262626" stroke="#fff" stroke-width="0.790"><text x="0" y="0" font-family="Liberation Serif" font-size="60" font-weight="bold" font-style="normal">7</text></g><g transform="translate(48.73,493.25) scale(0.4346,0.3525)" fill="#262626" stroke="#fff" stroke-width="0.818"><text x="0" y="0" font-family="Liberation Serif" font-size="60" font-weight="bold" font-style="normal">3</text></g><g transform="translate(60.08,548.62) scale(0.4283,0.3750)" fill="#262626" stroke="#fff" stroke-width="0.798"><text x="0" y="0" font-family="Liberation Serif" font-size="60" font-weight="bold" font-style="normal">0</text></g><g transform="translate(168.81,548.62) scale(0.4283,0.3750)" fill="#262626" stroke="#fff" stroke-width="0.798"><text x="0" y="0" font-family="Liberation Serif" font-size="60" font-weight="bold" font-style="normal">1000</text></g><g transform="translate(298.10,548.62) scale(0.4283,0.3750)" fill="#262626" stroke="#fff" stroke-width="0.798"><text x="0" y="0" font-family="Liberation Serif" font-size="60" font-weight="bold" font-style="normal">2000</text></g><g transform="translate(160.42,575.43) scale(0.4607,0.4811)" fill="#262626" stroke="#fff" stroke-width="0.531"><text x="0" y="0" font-family="Liberation Serif" font-size="60" font-weight="normal" font-style="normal"><tspan font-weight="normal" font-style="italic">t</tspan><tspan dx="9.0"> (ms)</tspan></text></g><g transform="translate(38.58,464.82) rotate(-90) scale(0.5156,0.4556)" fill="#262626" stroke="#fff" stroke-width="0.516"><text x="0" y="0" font-family="Liberation Serif" font-size="60" font-weight="normal" font-style="normal"><tspan font-weight="normal" font-style="italic">γ</tspan><tspan font-weight="normal" font-style="normal">(</tspan><tspan font-weight="normal" font-style="italic">t</tspan><tspan font-weight="normal" font-style="normal">)</tspan></text></g><g transform="translate(570.81,389.35) scale(0.4951,0.4792)" fill="#000" stroke="#fff" stroke-width="0.513"><text x="0" y="0" font-family="Liberation Serif" font-size="60" font-weight="normal" font-style="normal"><tspan font-weight="normal" font-style="normal">(</tspan><tspan font-weight="bold" font-style="normal">c</tspan><tspan font-weight="normal" font-style="normal">)</tspan></text></g><g transform="translate(332.72,385.92) scale(0.4358,0.3775)" fill="#262626" stroke="#fff" stroke-width="0.789"><text x="0" y="0" font-family="Liberation Serif" font-size="60" font-weight="bold" font-style="normal">15</text></g><g transform="translate(346.00,443.93) scale(0.4358,0.3775)" fill="#262626" stroke="#fff" stroke-width="0.789"><text x="0" y="0" font-family="Liberation Serif" font-size="60" font-weight="bold" font-style="normal">9</text></g><g transform="translate(346.00,502.02) scale(0.4358,0.3775)" fill="#262626" stroke="#fff" stroke-width="0.789"><text x="0" y="0" font-family="Liberation Serif" font-size="60" font-weight="bold" font-style="normal">3</text></g><g transform="translate(346.00,531.07) scale(0.4358,0.3775)" fill="#262626" stroke="#fff" stroke-width="0.789"><text x="0" y="0" font-family="Liberation Serif" font-size="60" font-weight="bold" font-style="normal">0</text></g><g transform="translate(357.88,548.92) scale(0.4283,0.3750)" fill="#262626" stroke="#fff" stroke-width="0.798"><text x="0" y="0" font-family="Liberation Serif" font-size="60" font-weight="bold" font-style="normal">0</text></g><g transform="translate(466.51,548.92) scale(0.4283,0.3750)" fill="#262626" stroke="#fff" stroke-width="0.798"><text x="0" y="0" font-family="Liberation Serif" font-size="60" font-weight="bold" font-style="normal">1000</text></g><g transform="translate(595.70,548.92) scale(0.4283,0.3750)" fill="#262626" stroke="#fff" stroke-width="0.798"><text x="0" y="0" font-family="Liberation Serif" font-size="60" font-weight="bold" font-style="normal">2000</text></g><g transform="translate(458.31,575.73) scale(0.4634,0.4811)" fill="#262626" stroke="#fff" stroke-width="0.529"><text x="0" y="0" font-family="Liberation Serif" font-size="60" font-weight="normal" font-style="normal"><tspan font-weight="normal" font-style="italic">t</tspan><tspan dx="9.0"> (ms)</tspan></text></g><g transform="translate(638.74,529.49) scale(0.3282,0.3150)" fill="#262626"><text x="0" y="0" font-family="Liberation Serif" font-size="60" font-weight="normal" font-style="normal">0</text></g><g transform="translate(638.42,488.58) scale(0.3282,0.3150)" fill="#262626"><text x="0" y="0" font-family="Liberation Serif" font-size="60" font-weight="normal" font-style="normal">50</text></g><g transform="translate(637.76,447.69) scale(0.3282,0.3150)" fill="#262626"><text x="0" y="0" font-family="Liberation Serif" font-size="60" font-weight="normal" font-style="normal">100</text></g><g transform="translate(637.76,406.78) scale(0.3282,0.3150)" fill="#262626"><text x="0" y="0" font-family="Liberation Serif" font-size="60" font-weight="normal" font-style="normal">150</text></g><g transform="translate(638.42,365.88) scale(0.3282,0.3150)" fill="#262626"><text x="0" y="0" font-family="Liberation Serif" font-size="60" font-weight="normal" font-style="normal">200</text></g><g transform="translate(673.28,400.03) rotate(90) scale(0.2827,0.2736)" fill="#262626"><text x="0" y="0" font-family="Liberation Serif" font-size="60" font-weight="normal" font-style="normal"><tspan font-weight="normal" font-style="italic">ω</tspan><tspan font-size="42.0" dy="12.0" font-weight="normal" font-style="normal">d</tspan><tspan dy="-12.0" font-weight="normal" font-style="normal">/(2</tspan><tspan font-weight="normal" font-style="italic">π</tspan><tspan font-weight="normal" font-style="normal">) (Hz)</tspan></text></g></svg></div></body></html>
